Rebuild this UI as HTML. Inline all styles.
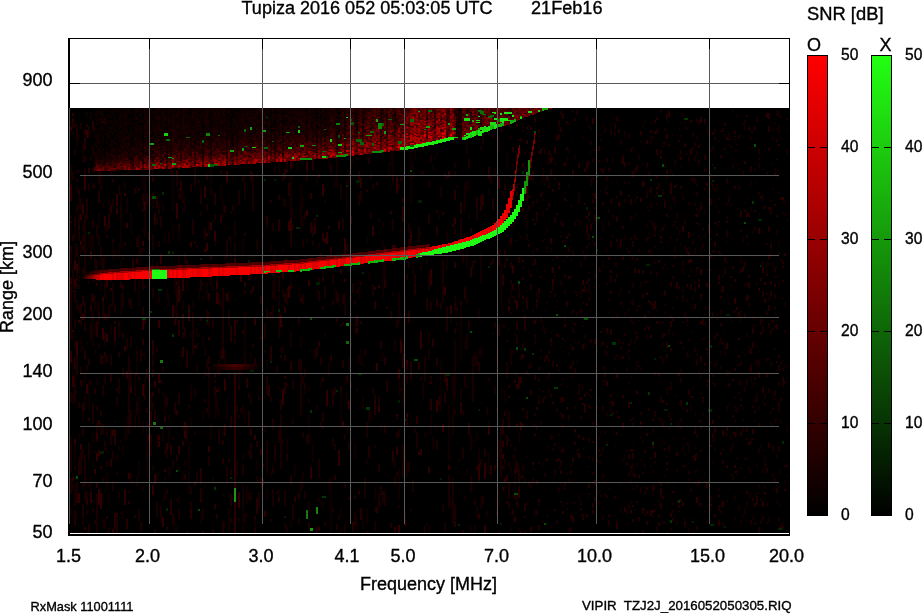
<!DOCTYPE html><html><head><meta charset="utf-8"><title>Tupiza ionogram</title>
<style>html,body{margin:0;padding:0;background:#fff}svg{display:block}text{font-family:"Liberation Sans",Arial,sans-serif;fill:#000;stroke:#000;stroke-width:0.35px}</style></head><body>
<svg width="922" height="614" viewBox="0 0 922 614">
<defs>
<linearGradient id="gr" x1="0" y1="0" x2="0" y2="1"><stop offset="0" stop-color="#ff0000"/><stop offset="0.2" stop-color="#cc0000"/><stop offset="0.6" stop-color="#660000"/><stop offset="1" stop-color="#000000"/></linearGradient>
<linearGradient id="gg" x1="0" y1="0" x2="0" y2="1"><stop offset="0" stop-color="#22ff11"/><stop offset="0.2" stop-color="#1ccc0e"/><stop offset="0.6" stop-color="#0e6607"/><stop offset="1" stop-color="#000000"/></linearGradient>
</defs>
<rect x="0" y="0" width="922" height="614" fill="#fff"/>
<rect x="68" y="108" width="722" height="428" fill="#000"/>
<svg x="0" y="0" width="922" height="614" viewBox="0 0 922 614"><clipPath id="cp"><rect x="70" y="108" width="719" height="425"/></clipPath><g clip-path="url(#cp)">
<g shape-rendering="crispEdges"><path fill="rgb(36,0,0)" d="M270 346h2v16h-2zM128 501h2v3h-2zM214 373h2v4.5h-2zM502 274h2v12h-2zM124 182h2v6h-2zM490 465h2v10h-2zM150 411h2v16h-2zM332 400h2v4.5h-2zM466 138h2v10h-2zM186 260h2v10h-2zM210 169h2v8h-2zM346 376h2v6h-2zM290 199h2v6h-2zM252 266h2v3h-2zM356 315h2v12h-2zM260 449h2v6h-2zM298 493h2v6h-2zM328 226h2v3h-2zM436 210h2v3h-2zM246 497h2v3h-2zM126 339h2v10h-2zM178 142h2v6h-2zM432 115h2v8h-2zM190 509h2v10h-2zM236 320h2v3h-2zM70 183h2v8h-2zM178 320h2v16h-2zM488 167h2v12h-2zM160 380h2v3h-2zM90 294h2v12h-2zM152 340h2v16h-2zM220 215h2v8h-2zM478 514h2v4.5h-2zM290 279h2v10h-2zM70 246h2v8h-2zM318 341h2v6h-2zM152 392h2v4.5h-2zM76 139h2v8h-2zM90 301h2v16h-2zM72 372h2v8h-2zM138 188h2v3h-2zM154 213h2v12h-2zM310 227h2v6h-2zM254 516h2v4.5h-2zM318 124h2v12h-2zM334 475h2v4.5h-2zM226 468h2v10h-2zM218 369h2v6h-2zM122 285h2v4.5h-2zM376 182h2v3h-2zM330 122h2v3h-2zM132 146h2v16h-2zM224 384h2v6h-2zM422 134h2v16h-2zM460 301h2v10h-2zM352 522h2v10h-2zM432 339h2v8h-2zM82 403h2v10h-2zM98 191h2v12h-2zM170 445h2v10h-2zM202 531h2v2h-2zM152 371h2v6h-2zM430 399h2v12h-2zM234 320h2v16h-2zM76 245h2v12h-2zM252 344h2v3h-2zM360 508h2v12h-2zM330 355h2v6h-2zM244 282h2v4.5h-2zM274 293h2v3h-2zM78 224h2v12h-2zM224 424h2v12h-2zM402 198h2v4.5h-2zM272 310h2v10h-2zM136 365h2v10h-2zM110 374h2v8h-2zM194 481h2v4.5h-2zM84 129h2v6h-2zM112 179h2v3h-2zM454 190h2v10h-2zM460 402h2v12h-2zM278 490h2v12h-2zM256 498h2v16h-2zM214 504h2v4.5h-2zM454 521h2v6h-2zM358 175h2v6h-2zM110 459h2v8h-2zM84 138h2v12h-2zM518 488h2v10h-2zM278 219h2v12h-2zM408 311h2v12h-2zM114 429h2v16h-2zM112 154h2v3h-2zM510 238h2v8h-2zM274 129h2v10h-2zM236 462h2v12h-2zM384 493h2v3h-2zM482 194h2v12h-2zM230 326h2v16h-2zM74 357h2v12h-2zM392 451h2v16h-2zM152 202h2v6h-2zM84 356h2v3h-2zM76 484h2v16h-2zM340 269h2v4.5h-2zM200 468h2v16h-2zM374 301h2v8h-2zM322 377h2v4.5h-2zM182 195h2v8h-2zM360 282h2v4.5h-2zM70 277h2v8h-2zM374 399h2v16h-2zM284 169h2v10h-2zM116 513h2v10h-2zM300 297h2v4.5h-2zM136 258h2v6h-2zM208 293h2v8h-2zM132 259h2v16h-2zM166 443h2v8h-2zM246 378h2v10h-2zM456 130h2v6h-2zM92 121h2v10h-2zM254 521h2v3h-2zM288 183h2v12h-2zM322 233h2v8h-2zM476 197h2v16h-2zM512 268h2v4.5h-2zM366 426h2v10h-2zM376 507h2v6h-2zM338 140h2v10h-2zM104 314h2v6h-2zM470 267h2v10h-2zM230 494h2v8h-2zM394 245h2v12h-2zM468 423h2v12h-2zM126 371h2v8h-2zM214 135h2v8h-2zM266 216h2v12h-2zM392 252h2v6h-2zM416 416h2v8h-2zM96 482h2v6h-2zM92 294h2v8h-2zM528 244h2v3h-2zM120 282h2v6h-2zM182 347h2v10h-2zM86 493h2v12h-2zM274 128h2v12h-2zM312 158h2v12h-2zM186 353h2v12h-2zM452 495h2v3h-2zM210 255h2v4.5h-2zM330 247h2v16h-2zM126 519h2v10h-2zM70 224h2v10h-2zM142 339h2v6h-2zM436 227h2v4.5h-2zM164 416h2v6h-2zM310 193h2v6h-2zM180 181h2v10h-2zM176 410h2v4.5h-2zM114 321h2v3h-2zM314 218h2v16h-2zM222 347h2v12h-2zM108 213h2v16h-2zM70 221h2v3h-2zM170 499h2v16h-2zM490 262h2v3h-2zM182 441h2v4.5h-2zM402 206h2v16h-2zM152 166h2v16h-2zM512 147h2v4.5h-2zM268 385h2v12h-2zM444 372h2v10h-2zM202 264h2v10h-2zM186 356h2v12h-2zM176 277h2v8h-2zM284 376h2v3h-2zM418 362h2v8h-2zM102 118h2v4.5h-2zM262 479h2v6h-2zM410 362h2v16h-2zM524 321h2v10h-2zM294 497h2v4.5h-2zM524 503h2v8h-2zM282 273h2v6h-2zM166 527h2v3h-2zM134 143h2v8h-2zM70 189h2v10h-2zM480 195h2v16h-2zM386 306h2v3h-2zM518 377h2v6h-2zM460 202h2v12h-2zM96 321h2v16h-2zM174 319h2v6h-2zM250 428h2v8h-2zM252 286h2v6h-2zM344 249h2v4.5h-2zM470 228h2v4.5h-2zM96 283h2v3h-2zM384 272h2v16h-2zM108 155h2v6h-2zM104 352h2v4.5h-2zM114 513h2v16h-2zM272 419h2v3h-2zM430 376h2v8h-2zM424 364h2v4.5h-2zM102 298h2v12h-2zM454 262h2v6h-2zM290 361h2v10h-2zM354 515h2v10h-2zM72 477h2v8h-2zM144 135h2v3h-2zM436 299h2v8h-2zM110 205h2v8h-2zM402 352h2v16h-2z"/><path fill="rgb(18,0,0)" d="M270 471h2v4.5h-2zM118 325h2v12h-2zM320 502h2v3h-2zM74 229h2v10h-2zM436 402h2v10h-2zM292 418h2v6h-2zM486 511h2v6h-2zM428 348h2v12h-2zM130 531h2v2h-2zM398 492h2v8h-2zM118 159h2v4.5h-2zM470 434h2v16h-2zM194 388h2v10h-2zM210 424h2v16h-2zM162 429h2v12h-2zM264 425h2v8h-2zM168 430h2v16h-2zM104 359h2v4.5h-2zM230 253h2v6h-2zM178 158h2v12h-2zM318 132h2v10h-2zM444 138h2v3h-2zM84 169h2v3h-2zM278 162h2v12h-2zM272 280h2v16h-2zM106 284h2v3h-2zM328 160h2v8h-2zM74 441h2v12h-2zM92 402h2v6h-2zM114 420h2v3h-2zM516 334h2v10h-2zM368 415h2v10h-2zM304 384h2v10h-2zM528 364h2v4.5h-2zM510 349h2v16h-2zM200 187h2v10h-2zM180 289h2v10h-2zM106 280h2v8h-2zM516 493h2v16h-2zM222 494h2v3h-2zM480 497h2v12h-2zM116 471h2v4.5h-2zM358 287h2v12h-2zM406 461h2v16h-2zM134 415h2v8h-2zM164 476h2v8h-2zM212 220h2v3h-2zM382 222h2v4.5h-2zM456 185h2v3h-2zM78 275h2v6h-2zM138 465h2v12h-2zM126 198h2v16h-2zM110 355h2v3h-2zM104 519h2v10h-2zM74 374h2v10h-2zM112 145h2v12h-2zM186 116h2v16h-2zM92 433h2v10h-2zM446 231h2v10h-2zM106 473h2v16h-2zM394 339h2v12h-2zM120 265h2v6h-2zM76 391h2v3h-2zM338 294h2v12h-2zM476 506h2v10h-2zM216 161h2v6h-2zM454 162h2v6h-2zM396 137h2v3h-2zM282 347h2v6h-2zM466 298h2v6h-2zM432 437h2v12h-2zM318 243h2v6h-2zM82 187h2v3h-2zM240 147h2v10h-2zM480 347h2v10h-2zM166 450h2v8h-2zM246 494h2v10h-2zM118 446h2v4.5h-2zM76 124h2v16h-2zM228 508h2v12h-2zM202 138h2v6h-2zM260 141h2v10h-2zM168 231h2v12h-2zM498 440h2v10h-2zM70 178h2v3h-2zM106 222h2v10h-2zM74 279h2v3h-2zM110 170h2v4.5h-2zM280 347h2v6h-2zM224 350h2v16h-2zM94 451h2v3h-2zM350 151h2v3h-2zM84 171h2v3h-2zM156 434h2v10h-2zM462 410h2v6h-2zM198 334h2v3h-2zM228 519h2v12h-2zM96 113h2v10h-2zM102 520h2v4.5h-2zM276 116h2v10h-2zM492 332h2v3h-2zM246 514h2v3h-2zM164 120h2v6h-2zM394 476h2v10h-2zM70 257h2v3h-2zM84 459h2v8h-2zM78 191h2v12h-2zM440 186h2v12h-2zM254 519h2v8h-2zM228 372h2v6h-2zM70 175h2v16h-2zM404 310h2v16h-2zM146 439h2v3h-2zM132 164h2v3h-2zM280 117h2v10h-2zM392 291h2v4.5h-2zM496 350h2v16h-2zM136 477h2v10h-2zM120 293h2v8h-2zM168 441h2v6h-2zM102 391h2v4.5h-2zM216 396h2v16h-2zM340 419h2v10h-2zM466 181h2v10h-2zM504 392h2v8h-2zM76 187h2v6h-2zM82 510h2v16h-2zM208 222h2v12h-2zM78 201h2v8h-2zM100 164h2v16h-2zM498 228h2v3h-2zM312 446h2v16h-2zM78 456h2v10h-2zM316 405h2v4.5h-2zM130 471h2v12h-2zM70 122h2v6h-2zM254 113h2v6h-2zM360 284h2v3h-2zM182 427h2v3h-2zM126 152h2v6h-2zM134 380h2v16h-2zM116 455h2v6h-2zM498 530h2v3h-2zM278 138h2v3h-2zM302 216h2v10h-2zM180 351h2v6h-2zM422 383h2v16h-2zM428 331h2v12h-2zM454 295h2v6h-2zM174 286h2v8h-2zM302 472h2v16h-2zM274 166h2v8h-2zM148 166h2v16h-2zM494 386h2v8h-2zM286 426h2v3h-2zM92 331h2v16h-2zM474 352h2v6h-2zM464 496h2v4.5h-2zM472 439h2v3h-2zM78 170h2v3h-2zM208 312h2v16h-2zM156 149h2v10h-2zM152 170h2v8h-2zM428 382h2v3h-2zM80 454h2v4.5h-2zM158 295h2v10h-2zM120 440h2v3h-2zM344 382h2v3h-2zM170 468h2v3h-2zM82 155h2v8h-2zM94 299h2v10h-2zM324 200h2v3h-2zM292 156h2v12h-2zM428 525h2v8h-2zM196 364h2v8h-2zM514 203h2v4.5h-2zM276 143h2v6h-2zM384 489h2v10h-2zM282 439h2v6h-2zM78 257h2v16h-2zM508 501h2v4.5h-2zM98 344h2v4.5h-2zM420 232h2v3h-2zM72 393h2v10h-2zM152 465h2v6h-2zM522 266h2v3h-2zM500 458h2v10h-2zM478 309h2v10h-2zM358 354h2v10h-2zM124 182h2v8h-2zM480 146h2v4.5h-2zM392 154h2v12h-2zM374 445h2v3h-2zM92 309h2v16h-2zM212 477h2v4.5h-2zM306 238h2v4.5h-2zM92 274h2v8h-2zM90 476h2v4.5h-2zM82 220h2v10h-2zM84 395h2v16h-2zM436 247h2v6h-2zM92 271h2v3h-2zM202 296h2v6h-2zM86 342h2v3h-2zM134 419h2v10h-2zM72 132h2v3h-2zM174 270h2v16h-2zM166 289h2v10h-2zM266 224h2v4.5h-2zM478 449h2v33h-2zM328 361h2v16h-2zM348 170h2v16h-2zM274 250h2v51h-2zM164 395h2v20h-2zM466 248h2v20h-2zM454 339h2v59h-2zM104 257h2v41h-2zM246 486h2v16h-2zM480 253h2v30h-2zM464 182h2v30h-2zM398 292h2v33h-2zM208 366h2v52h-2zM138 235h2v15h-2zM234 456h2v25h-2zM452 375h2v60h-2zM304 128h2v28h-2zM144 183h2v55h-2zM290 331h2v17h-2zM190 385h2v17h-2zM384 246h2v33h-2zM290 175h2v50h-2zM210 139h2v57h-2zM402 374h2v33h-2zM234 221h2v17h-2zM336 143h2v45h-2zM112 282h2v18h-2zM244 312h2v53h-2zM278 295h2v43h-2zM178 256h2v45h-2zM466 118h2v36h-2zM216 270h2v21h-2z"/><path fill="rgb(16,0,0)" d="M576 311h2v4.5h-2zM768 517h2v4.5h-2zM550 248h2v4.5h-2zM604 167h2v3h-2zM540 316h2v1.5h-2zM582 137h2v1.5h-2zM680 243h2v3h-2zM576 219h2v1.5h-2zM710 177h2v3h-2zM718 415h2v3h-2zM706 169h2v1.5h-2zM654 196h2v1.5h-2zM756 397h2v4.5h-2zM532 309h2v3h-2zM534 424h2v1.5h-2zM710 230h2v3h-2zM578 198h2v3h-2zM782 297h2v1.5h-2zM612 431h2v1.5h-2zM550 332h2v1.5h-2zM780 421h2v3h-2zM548 161h2v3h-2zM672 196h2v4.5h-2zM578 151h2v1.5h-2zM712 146h2v4.5h-2zM606 282h2v3h-2zM710 285h2v1.5h-2zM688 528h2v3h-2zM692 171h2v1.5h-2zM726 191h2v1.5h-2zM730 317h2v4.5h-2zM712 382h2v1.5h-2zM658 321h2v1.5h-2zM546 251h2v3h-2zM600 270h2v3h-2zM560 484h2v1.5h-2zM692 387h2v1.5h-2zM546 377h2v3h-2zM546 514h2v3h-2zM732 475h2v1.5h-2zM532 252h2v3h-2zM708 342h2v3h-2zM610 123h2v3h-2zM538 207h2v1.5h-2zM720 503h2v4.5h-2zM738 364h2v3h-2zM670 512h2v4.5h-2zM640 130h2v3h-2zM580 221h2v1.5h-2zM728 403h2v1.5h-2zM656 274h2v1.5h-2zM662 189h2v3h-2zM544 356h2v1.5h-2zM776 276h2v1.5h-2zM666 456h2v1.5h-2zM686 299h2v3h-2zM784 302h2v4.5h-2zM582 385h2v4.5h-2zM610 407h2v4.5h-2zM616 410h2v3h-2zM724 332h2v1.5h-2zM586 392h2v1.5h-2zM738 168h2v3h-2zM664 163h2v3h-2zM532 175h2v1.5h-2zM636 531h2v2h-2zM692 170h2v1.5h-2zM722 425h2v1.5h-2zM692 297h2v3h-2zM782 392h2v1.5h-2zM718 221h2v1.5h-2zM556 520h2v3h-2zM640 282h2v4.5h-2zM710 498h2v4.5h-2zM754 324h2v3h-2zM762 516h2v4.5h-2zM572 375h2v3h-2zM602 260h2v3h-2zM774 397h2v3h-2zM608 311h2v1.5h-2zM666 117h2v4.5h-2zM762 319h2v3h-2zM730 474h2v1.5h-2zM680 418h2v4.5h-2zM726 500h2v3h-2zM680 165h2v1.5h-2zM550 344h2v3h-2zM708 131h2v4.5h-2zM754 168h2v3h-2zM770 121h2v1.5h-2zM650 457h2v1.5h-2zM586 497h2v1.5h-2zM720 310h2v4.5h-2zM662 420h2v1.5h-2zM640 459h2v1.5h-2zM684 225h2v1.5h-2zM630 171h2v1.5h-2zM670 528h2v3h-2zM560 111h2v4.5h-2zM634 339h2v3h-2zM750 364h2v3h-2zM546 446h2v3h-2zM610 181h2v1.5h-2zM620 357h2v3h-2zM572 322h2v3h-2zM646 189h2v4.5h-2zM530 170h2v1.5h-2zM664 521h2v3h-2zM584 254h2v3h-2zM542 191h2v3h-2zM620 172h2v1.5h-2zM774 275h2v3h-2zM554 472h2v4.5h-2zM636 214h2v1.5h-2zM566 254h2v3h-2zM568 352h2v3h-2zM530 274.5h2v1.5h-2zM692 234h2v1.5h-2zM672 224h2v3h-2zM720 254h2v3h-2zM676 226.5h2v3h-2zM628 479.5h2v1.5h-2zM534 125h2v1.5h-2zM624 131h2v6h-2zM672 134h2v1.5h-2zM602 380h2v1.5h-2zM668 412h2v3h-2zM502 323h2v4.5h-2zM682 406.5h2v4.5h-2zM580 514h2v3h-2zM632 463h2v6h-2zM618 338h2v6h-2zM732 473.5h2v6h-2zM582 321.5h2v1.5h-2zM718 209.5h2v3h-2zM758 447.5h2v6h-2zM504 195.5h2v3h-2zM760 498h2v3h-2zM520 235.5h2v3h-2zM586 175.5h2v1.5h-2zM758 492h2v1.5h-2zM770 283h2v1.5h-2zM658 395.5h2v1.5h-2zM704 307h2v3h-2zM528 239.5h2v1.5h-2zM676 133.5h2v1.5h-2zM608 297.5h2v3h-2zM720 365.5h2v1.5h-2zM748 302h2v6h-2zM592 239.5h2v3h-2zM536 424.5h2v6h-2zM526 501.5h2v3h-2zM732 443.5h2v1.5h-2zM574 501.5h2v3h-2zM618 291.5h2v3h-2zM598 435h2v4.5h-2zM560 412h2v4.5h-2zM570 480h2v3h-2zM696 433h2v4.5h-2zM582 250h2v6h-2zM578 220h2v6h-2zM728 132h2v4.5h-2zM548 156.5h2v6h-2zM742 135.5h2v1.5h-2zM564 340.5h2v1.5h-2zM542 171.5h2v6h-2zM692 530.5h2v1.5h-2zM724 345.5h2v4.5h-2zM726 369.5h2v6h-2zM538 295h2v3h-2zM746 282.5h2v4.5h-2zM578 331.5h2v1.5h-2zM776 453.5h2v4.5h-2zM786 129h2v1.5h-2zM668 483h2v1.5h-2zM564 325h2v3h-2zM608 221h2v4.5h-2zM540 437h2v1.5h-2zM536 198h2v6h-2zM526 165h2v1.5h-2zM670 381.5h2v6h-2zM778 125h2v4.5h-2zM606 440.5h2v3h-2zM602 515h2v4.5h-2zM664 303.5h2v3h-2zM758 375h2v3h-2zM760 357.5h2v1.5h-2zM780 522.5h2v4.5h-2zM742 169.5h2v6h-2zM606 412h2v4.5h-2zM574 221.5h2v4.5h-2zM510 354.5h2v3h-2zM738 186.5h2v3h-2zM672 331.5h2v4.5h-2zM626 248h2v3h-2zM532 173.5h2v1.5h-2zM714 448h2v3h-2zM782 198h2v6h-2zM558 447h2v1.5h-2zM540 349h2v3h-2zM650 249h2v3h-2zM730 435h2v4.5h-2zM712 184h2v6h-2zM630 390.5h2v1.5h-2zM682 287h2v6h-2zM560 461h2v6h-2zM742 237h2v4.5h-2zM732 163h2v6h-2zM600 138h2v3h-2zM570 344h2v4.5h-2zM578 447.5h2v3h-2zM632 300h2v6h-2zM534 510h2v1.5h-2zM548 180.5h2v3h-2zM664 421h2v1.5h-2zM688 339h2v3h-2zM720 251.5h2v3h-2zM748 345h2v3h-2zM742 351h2v1.5h-2zM682 267.5h2v6h-2zM744 508h2v6h-2zM506 340h2v1.5h-2zM664 141h2v4.5h-2zM542 322h2v1.5h-2zM734 395.5h2v3h-2zM726 215h2v4.5h-2zM696 135h2v4.5h-2zM572 360h2v4.5h-2zM598 461h2v1.5h-2zM698 222.5h2v3h-2zM598 414.5h2v1.5h-2zM680 255h2v3h-2zM700 297h2v3h-2zM590 126.5h2v3h-2zM594 200.5h2v3h-2zM680 372.5h2v1.5h-2zM532 205h2v1.5h-2zM596 487h2v6h-2zM516 460h2v4.5h-2zM756 359h2v6h-2zM602 365.5h2v4.5h-2zM720 337.5h2v6h-2zM674 247h2v6h-2zM648 232h2v1.5h-2zM758 162h2v6h-2zM656 309h2v1.5h-2zM770 210.5h2v4.5h-2zM558 334h2v3h-2zM762 206h2v3h-2zM774 269.5h2v3h-2zM548 319h2v1.5h-2zM532 219h2v1.5h-2zM560 234.5h2v3h-2zM650 202h2v6h-2zM564 289h2v4.5h-2zM716 359.5h2v6h-2zM564 261h2v1.5h-2zM530 361h2v3h-2zM614 355h2v4.5h-2zM738 504.5h2v6h-2zM606 175.5h2v6h-2zM532 468h2v1.5h-2zM510 466h2v6h-2zM512 163h2v6h-2zM538 500.5h2v6h-2zM714 187.5h2v3h-2zM602 224h2v3h-2zM586 114.5h2v6h-2zM558 433h2v3h-2zM512 493.5h2v4.5h-2zM550 526h2v1.5h-2zM690 303.5h2v1.5h-2zM572 175h2v3h-2zM538 394.5h2v3h-2zM576 291h2v4.5h-2zM740 467h2v3h-2zM544 269.5h2v3h-2zM588 392.5h2v3h-2zM670 235.5h2v3h-2zM518 528h2v3h-2zM750 136.5h2v3h-2zM590 178h2v6h-2zM544 150h2v4.5h-2zM614 263.5h2v3h-2zM592 456h2v6h-2zM726 406h2v3h-2zM566 199.5h2v1.5h-2zM700 502.5h2v4.5h-2zM674 199h2v6h-2zM604 369h2v3h-2zM678 129h2v1.5h-2zM748 349h2v4.5h-2zM694 201.5h2v4.5h-2zM596 492.5h2v3h-2zM688 397.5h2v1.5h-2zM630 468h2v4.5h-2zM532 423h2v1.5h-2zM656 265.5h2v1.5h-2zM660 418h2v4.5h-2zM542 199h2v1.5h-2zM636 330.5h2v3h-2zM556 152.5h2v1.5h-2zM580 289h2v6h-2zM688 531h2v3h-2zM616 262h2v4.5h-2zM704 509.5h2v3h-2zM670 206.5h2v3h-2zM746 501.5h2v6h-2zM778 316h2v3h-2zM638 154h2v6h-2zM616 518.5h2v4.5h-2zM650 129.5h2v3h-2zM734 210.5h2v1.5h-2zM772 128h2v3h-2zM690 407h2v3h-2zM732 309.5h2v3h-2zM512 473.5h2v1.5h-2zM668 414.5h2v3h-2zM542 211h2v6h-2zM634 234h2v6h-2zM784 483h2v1.5h-2zM572 331.5h2v1.5h-2zM640 435.5h2v3h-2zM550 434h2v6h-2zM738 207h2v3h-2zM774 311.5h2v3h-2zM624 311.5h2v4.5h-2zM594 286h2v1.5h-2zM614 426h2v1.5h-2zM522 192.5h2v1.5h-2zM740 255.5h2v3h-2zM690 402.5h2v3h-2zM632 282h2v6h-2zM594 149h2v1.5h-2zM550 295.5h2v1.5h-2zM616 312.5h2v6h-2zM666 317.5h2v1.5h-2zM558 129h2v3h-2zM712 439.5h2v1.5h-2zM720 289h2v3h-2zM578 393h2v3h-2zM664 435.5h2v1.5h-2zM696 151h2v6h-2zM704 321.5h2v4.5h-2zM708 186.5h2v6h-2zM754 125h2v1.5h-2zM740 315.5h2v6h-2zM568 123h2v1.5h-2zM734 404.5h2v3h-2zM624 181h2v3h-2zM558 368.5h2v3h-2zM778 275h2v1.5h-2zM572 327h2v6h-2zM686 128h2v1.5h-2zM516 373.5h2v3h-2zM778 502.5h2v3h-2zM716 222h2v4.5h-2zM674 160h2v6h-2zM710 506h2v4.5h-2zM628 380.5h2v3h-2zM590 292h2v1.5h-2zM682 194h2v6h-2zM548 388.5h2v4.5h-2zM734 138h2v3h-2zM700 392h2v3h-2zM562 134h2v1.5h-2zM660 361.5h2v1.5h-2zM666 467.5h2v3h-2zM560 279h2v6h-2zM782 522.5h2v3h-2zM654 246h2v1.5h-2zM688 246.5h2v3h-2zM632 471h2v4.5h-2zM726 409h2v1.5h-2zM664 310.5h2v4.5h-2z"/><path fill="rgb(48,0,0)" d="M84 238h2v3h-2zM280 315h2v12h-2zM498 177h2v12h-2zM248 154h2v3h-2zM262 464h2v3h-2zM102 328h2v12h-2zM326 232h2v12h-2zM420 331h2v16h-2zM176 170h2v10h-2zM158 320h2v8h-2zM336 129h2v8h-2zM88 418h2v3h-2zM406 413h2v12h-2zM400 337h2v16h-2zM420 333h2v16h-2zM226 293h2v8h-2zM292 120h2v16h-2zM160 254h2v10h-2zM418 452h2v3h-2zM254 319h2v6h-2zM90 487h2v16h-2zM70 126h2v4.5h-2zM182 279h2v12h-2zM512 265h2v8h-2zM76 341h2v16h-2zM376 363h2v8h-2zM112 430h2v6h-2zM100 493h2v16h-2zM396 177h2v16h-2zM140 350h2v10h-2zM288 154h2v4.5h-2zM504 478h2v6h-2zM358 491h2v3h-2zM216 389h2v3h-2zM310 467h2v12h-2zM78 493h2v10h-2zM290 218h2v16h-2zM142 318h2v12h-2zM214 231h2v12h-2zM238 492h2v16h-2zM452 224h2v3h-2zM76 264h2v16h-2zM308 280h2v6h-2zM444 287h2v8h-2zM78 320h2v3h-2zM98 489h2v16h-2zM182 314h2v4.5h-2zM300 401h2v8h-2zM430 269h2v16h-2zM462 256h2v4.5h-2zM70 351h2v12h-2zM70 460h2v12h-2zM116 208h2v6h-2zM144 202h2v8h-2zM372 226h2v10h-2zM80 241h2v16h-2zM290 157h2v12h-2zM74 260h2v10h-2zM288 286h2v12h-2zM374 287h2v3h-2zM120 217h2v3h-2zM176 203h2v16h-2zM86 130h2v8h-2zM208 337h2v3h-2zM394 527h2v4.5h-2zM74 439h2v4.5h-2zM210 222h2v8h-2zM322 265h2v16h-2zM80 214h2v6h-2zM318 528h2v3h-2zM488 427h2v8h-2zM142 241h2v4.5h-2zM240 270h2v12h-2zM338 221h2v8h-2zM454 218h2v6h-2zM288 221h2v10h-2zM106 334h2v8h-2zM88 168h2v4.5h-2zM142 384h2v12h-2zM282 266h2v8h-2zM124 489h2v16h-2zM86 273h2v6h-2zM450 305h2v10h-2zM318 527h2v3h-2zM90 251h2v8h-2zM102 297h2v16h-2zM516 424h2v3h-2zM96 426h2v16h-2zM392 245h2v12h-2zM94 469h2v4.5h-2zM400 137h2v12h-2zM116 194h2v12h-2zM98 450h2v6h-2zM216 292h2v12h-2zM398 525h2v8h-2zM84 527h2v3h-2zM188 305h2v16h-2zM478 464h2v16h-2zM82 204h2v10h-2zM364 490h2v3h-2zM126 223h2v4.5h-2zM284 307h2v6h-2zM260 327h2v12h-2zM286 156h2v16h-2zM172 305h2v12h-2zM130 383h2v10h-2zM324 238h2v4.5h-2zM508 306h2v4.5h-2zM206 233h2v3h-2zM234 258h2v4.5h-2zM226 171h2v12h-2zM206 243h2v8h-2zM390 211h2v3h-2zM398 369h2v10h-2zM326 133h2v8h-2zM72 113h2v10h-2zM72 330h2v6h-2zM378 404h2v8h-2zM516 301h2v8h-2zM378 285h2v3h-2zM348 401h2v8h-2zM106 275h2v12h-2zM270 312h2v6h-2zM84 253h2v12h-2zM154 474h2v10h-2zM190 242h2v4.5h-2zM350 216h2v8h-2zM80 444h2v6h-2zM104 216h2v12h-2zM204 186h2v12h-2zM128 473h2v6h-2zM302 477h2v3h-2zM98 420h2v4.5h-2zM152 485h2v10h-2zM194 345h2v3h-2zM154 381h2v6h-2zM428 467h2v6h-2zM86 384h2v10h-2zM396 447h2v8h-2zM520 422h2v8h-2zM344 238h2v12h-2zM148 435h2v6h-2zM100 466h2v3h-2zM306 161h2v12h-2zM326 390h2v16h-2zM264 511h2v6h-2zM194 173h2v3h-2zM380 487h2v8h-2zM216 281h2v8h-2zM70 185h2v16h-2zM322 184h2v12h-2zM156 218h2v3h-2zM254 435h2v4.5h-2zM234 254h2v3h-2zM96 114h2v6h-2zM502 454h2v4.5h-2zM114 327h2v16h-2zM204 249h2v3h-2zM110 288h2v3h-2zM98 273h2v8h-2zM82 314h2v6h-2zM484 463h2v16h-2zM342 421h2v6h-2zM124 193h2v3h-2zM162 517h2v10h-2zM396 414h2v4.5h-2zM176 286h2v10h-2zM158 373h2v10h-2zM224 379h2v12h-2zM448 465h2v4.5h-2zM338 450h2v16h-2zM338 127h2v10h-2zM420 449h2v6h-2zM158 441h2v6h-2zM436 400h2v12h-2zM258 145h2v16h-2zM282 389h2v16h-2zM508 421h2v3h-2zM344 299h2v6h-2zM84 380h2v3h-2zM84 174h2v16h-2zM208 446h2v6h-2zM446 378h2v8h-2zM76 141h2v3h-2zM76 350h2v10h-2zM158 435h2v4.5h-2zM406 360h2v6h-2zM200 497h2v4.5h-2zM318 174h2v3h-2zM96 453h2v8h-2zM74 279h2v8h-2zM124 346h2v4.5h-2zM442 424h2v8h-2zM390 113h2v10h-2zM356 328h2v4.5h-2zM484 525h2v8h-2zM136 346h2v10h-2zM360 178h2v10h-2zM164 469h2v3h-2zM184 422h2v16h-2zM178 446h2v8h-2zM404 518h2v8h-2zM178 286h2v16h-2zM72 375h2v12h-2zM344 279h2v3h-2zM142 429h2v3h-2zM112 529h2v4h-2zM306 210h2v6h-2zM448 171h2v6h-2zM410 232h2v16h-2z"/><path fill="rgb(34,0,0)" d="M582 403h2v1.5h-2zM724 123h2v3h-2zM672 265h2v1.5h-2zM550 338h2v4.5h-2zM688 471h2v3h-2zM612 401h2v3h-2zM678 505h2v3h-2zM654 120h2v3h-2zM776 501h2v1.5h-2zM586 281h2v3h-2zM684 246h2v3h-2zM584 203h2v1.5h-2zM662 496h2v3h-2zM666 403h2v1.5h-2zM630 466h2v1.5h-2zM768 443h2v4.5h-2zM680 341h2v3h-2zM772 328h2v1.5h-2zM598 160h2v1.5h-2zM564 162h2v4.5h-2zM588 278h2v3h-2zM562 174h2v1.5h-2zM592 422h2v3h-2zM622 425h2v3h-2zM766 274h2v1.5h-2zM676 373h2v1.5h-2zM606 160h2v1.5h-2zM678 140h2v1.5h-2zM588 405h2v3h-2zM562 117h2v1.5h-2zM548 150h2v4.5h-2zM706 380h2v1.5h-2zM714 428h2v4.5h-2zM608 514h2v3h-2zM550 154h2v1.5h-2zM780 259h2v1.5h-2zM632 505h2v1.5h-2zM562 338h2v1.5h-2zM780 197h2v3h-2zM714 242h2v4.5h-2zM632 174h2v3h-2zM636 336h2v3h-2zM642 530h2v3h-2zM556 213h2v1.5h-2zM776 488h2v4.5h-2zM786 464h2v3h-2zM588 211h2v4.5h-2zM714 137h2v3h-2zM578 163h2v4.5h-2zM608 168h2v3h-2zM690 396h2v1.5h-2zM604 374h2v3h-2zM594 497h2v4.5h-2zM532 219h2v1.5h-2zM660 110h2v1.5h-2zM554 294h2v3h-2zM610 394h2v3h-2zM656 117h2v3h-2zM656 526h2v4.5h-2zM724 257h2v4.5h-2zM538 525h2v4.5h-2zM628 343h2v3h-2zM596 317h2v1.5h-2zM740 230h2v1.5h-2zM756 496h2v3h-2zM720 323h2v3h-2zM732 379h2v1.5h-2zM562 397h2v4.5h-2zM616 239h2v3h-2zM782 280h2v1.5h-2zM762 517h2v1.5h-2zM780 398h2v3h-2zM670 282h2v4.5h-2zM562 414h2v4.5h-2zM554 509h2v1.5h-2zM544 359h2v3h-2zM704 155h2v4.5h-2zM682 465h2v1.5h-2zM666 462h2v3h-2zM720 296h2v3h-2zM628 454h2v4.5h-2zM654 131h2v3h-2zM706 348h2v3h-2zM562 240h2v3h-2zM652 446h2v1.5h-2zM636 258h2v3h-2zM712 375h2v1.5h-2zM764 298h2v4.5h-2zM560 127h2v4.5h-2zM582 437h2v3h-2zM544 473h2v3h-2zM776 215h2v1.5h-2zM752 342h2v1.5h-2zM534 117h2v3h-2zM664 203h2v4.5h-2zM704 363h2v3h-2zM672 319h2v1.5h-2zM704 188h2v1.5h-2zM662 400h2v3h-2zM724 148h2v1.5h-2zM590 224h2v3h-2zM622 356h2v3h-2zM642 472h2v1.5h-2zM554 443h2v3h-2zM658 522h2v3h-2zM710 445h2v1.5h-2zM732 266h2v3h-2zM698 145h2v3h-2zM574 442h2v3h-2zM696 362h2v1.5h-2zM534 223h2v1.5h-2zM660 483h2v3h-2zM706 283h2v3h-2zM770 244h2v4.5h-2zM648 327h2v3h-2zM744 262h2v1.5h-2z"/><path fill="rgb(12,0,0)" d="M406 461h2v3h-2zM72 481h2v10h-2zM320 380h2v8h-2zM182 207h2v6h-2zM620 273h2v1.5h-2zM530 160h2v1.5h-2zM784 364h2v4.5h-2zM162 497h2v4.5h-2zM78 284h2v4.5h-2zM80 340h2v12h-2zM128 167h2v6h-2zM184 460h2v6h-2zM96 301h2v12h-2zM90 112h2v8h-2zM572 348h2v3h-2zM182 191h2v10h-2zM704 165h2v1.5h-2zM562 163h2v3h-2zM390 150h2v16h-2zM174 153h2v6h-2zM476 431h2v10h-2zM630 339h2v4.5h-2zM70 436h2v10h-2zM74 243h2v8h-2zM758 213h2v4.5h-2zM764 455h2v4.5h-2zM634 261h2v1.5h-2zM308 386h2v4.5h-2zM146 263h2v6h-2zM676 146h2v1.5h-2zM70 313h2v16h-2zM760 445h2v3h-2zM594 467h2v1.5h-2zM140 348h2v8h-2zM736 429h2v4.5h-2zM726 375h2v1.5h-2zM388 162h2v16h-2zM604 188h2v4.5h-2zM398 380h2v16h-2zM190 330h2v8h-2zM658 480h2v1.5h-2zM618 212h2v3h-2zM182 473h2v8h-2zM768 296h2v4.5h-2zM278 427h2v8h-2zM708 321h2v1.5h-2zM152 195h2v12h-2zM308 415h2v16h-2zM518 330h2v3h-2zM72 280h2v12h-2zM216 368h2v4.5h-2zM224 254h2v6h-2zM322 501h2v8h-2zM226 397h2v4.5h-2zM106 531h2v2h-2zM204 346h2v10h-2zM630 509h2v4.5h-2zM100 258h2v8h-2zM504 390h2v12h-2zM136 363h2v10h-2zM266 360h2v10h-2zM510 528h2v5h-2zM642 163h2v3h-2zM352 530h2v3h-2zM446 255h2v16h-2zM110 323h2v8h-2zM602 384h2v1.5h-2zM602 328h2v1.5h-2zM634 509h2v1.5h-2zM174 518h2v12h-2zM92 241h2v10h-2zM590 395h2v3h-2zM612 199h2v4.5h-2zM104 226h2v8h-2zM456 321h2v4.5h-2zM678 153h2v4.5h-2zM620 434h2v1.5h-2zM382 352h2v10h-2zM190 417h2v12h-2zM776 266h2v3h-2zM380 423h2v8h-2zM728 144h2v1.5h-2zM72 172h2v8h-2zM260 357h2v10h-2zM336 131h2v6h-2zM138 460h2v16h-2zM582 448h2v1.5h-2zM586 238h2v1.5h-2zM770 373h2v1.5h-2zM258 282h2v8h-2zM134 410h2v3h-2zM156 446h2v3h-2zM144 351h2v8h-2zM270 243h2v10h-2zM204 430h2v3h-2zM126 121h2v3h-2zM512 222h2v8h-2zM646 206h2v3h-2zM538 397h2v4.5h-2zM702 236h2v1.5h-2zM164 235h2v8h-2zM776 499h2v4.5h-2zM678 423h2v3h-2zM488 188h2v8h-2zM92 217h2v3h-2zM518 431h2v12h-2zM86 112h2v6h-2zM774 122h2v3h-2zM640 254h2v3h-2zM120 299h2v16h-2zM392 420h2v3h-2zM362 395h2v12h-2zM272 463h2v3h-2zM348 356h2v16h-2zM214 485h2v4.5h-2zM116 524h2v6h-2zM730 371h2v3h-2zM498 491h2v16h-2zM758 366h2v1.5h-2zM700 238h2v3h-2zM82 426h2v10h-2zM674 514h2v3h-2zM108 208h2v3h-2zM548 294h2v3h-2zM214 241h2v4.5h-2zM626 249h2v1.5h-2zM260 321h2v16h-2zM704 337h2v3h-2zM568 149h2v4.5h-2zM530 176h2v1.5h-2zM674 224h2v3h-2zM508 240h2v8h-2zM744 283h2v3h-2zM376 406h2v3h-2zM432 165h2v4.5h-2zM622 457h2v4.5h-2zM658 504h2v1.5h-2zM82 380h2v6h-2zM636 368h2v3h-2zM278 489h2v8h-2zM366 237h2v6h-2zM548 177h2v4.5h-2zM752 325h2v3h-2zM766 272h2v1.5h-2zM138 203h2v4.5h-2zM366 458h2v6h-2zM782 212h2v3h-2zM724 351h2v4.5h-2zM282 199h2v8h-2zM200 513h2v10h-2zM156 473h2v10h-2zM628 266h2v3h-2zM196 327h2v10h-2zM74 455h2v6h-2zM70 180h2v3h-2zM146 424h2v3h-2zM684 517h2v3h-2zM536 319h2v1.5h-2zM574 291h2v3h-2zM566 386h2v1.5h-2zM606 185h2v4.5h-2zM358 279h2v6h-2zM752 316h2v3h-2zM596 377h2v3h-2zM178 229h2v12h-2zM264 396h2v3h-2zM222 429h2v8h-2zM634 324h2v3h-2zM122 445h2v10h-2zM300 478h2v6h-2zM774 418h2v4.5h-2zM112 245h2v16h-2zM754 493h2v4.5h-2zM672 481h2v3h-2zM412 262h2v8h-2zM90 478h2v6h-2zM234 414h2v10h-2zM100 279h2v12h-2zM420 170h2v4.5h-2zM102 518h2v10h-2zM542 463h2v3h-2zM586 290h2v3h-2zM148 320h2v16h-2zM78 134h2v4.5h-2zM682 444h2v4.5h-2zM586 162h2v4.5h-2zM766 262h2v4.5h-2zM102 494h2v10h-2zM706 352h2v4.5h-2zM82 346h2v4.5h-2zM70 255h2v8h-2zM72 116h2v3h-2zM668 387h2v3h-2zM304 147h2v12h-2zM98 241h2v4.5h-2zM626 522h2v3h-2zM602 343h2v1.5h-2zM694 470h2v3h-2zM514 197h2v10h-2zM346 112h2v4.5h-2zM676 520h2v4.5h-2zM250 352h2v8h-2zM716 292h2v1.5h-2zM412 163h2v16h-2zM646 334h2v4.5h-2zM626 461h2v1.5h-2zM290 520h2v8h-2zM612 318h2v3h-2zM538 388h2v1.5h-2zM216 145h2v8h-2zM122 270h2v10h-2zM198 288h2v12h-2zM88 404h2v3h-2zM296 274h2v4.5h-2zM226 404h2v16h-2zM186 275h2v16h-2zM180 117h2v3h-2zM456 310h2v6h-2zM542 325h2v3h-2zM424 432h2v6h-2zM334 116h2v8h-2zM108 158h2v10h-2zM242 453h2v8h-2zM658 128h2v3h-2zM104 264h2v12h-2zM672 437h2v1.5h-2zM468 214h2v6h-2zM70 452h2v6h-2zM514 482h2v10h-2zM664 474h2v4.5h-2zM354 443h2v16h-2zM452 127h2v16h-2zM660 323h2v1.5h-2zM402 175h2v4.5h-2zM668 155h2v1.5h-2zM654 503h2v3h-2zM72 279h2v4.5h-2zM546 529h2v3h-2zM96 268h2v8h-2zM470 526h2v7h-2zM168 294h2v12h-2zM742 159h2v3h-2zM346 392h2v12h-2zM780 298h2v1.5h-2zM574 433h2v3h-2zM190 442h2v3h-2zM764 450h2v1.5h-2zM618 333h2v1.5h-2zM90 293h2v12h-2zM706 519h2v4.5h-2zM762 401h2v3h-2zM184 195h2v16h-2zM694 275h2v1.5h-2zM468 179h2v12h-2zM644 213h2v1.5h-2zM484 213h2v3h-2zM130 212h2v16h-2zM438 214h2v4.5h-2zM316 176h2v10h-2zM544 182h2v3h-2zM94 254h2v3h-2zM578 341h2v3h-2zM158 202h2v16h-2zM466 138h2v6h-2zM102 203h2v4.5h-2zM606 333h2v1.5h-2zM130 229h2v6h-2zM104 356h2v10h-2zM688 450h2v3h-2zM318 497h2v6h-2zM450 314h2v10h-2zM754 255h2v3h-2zM96 378h2v8h-2zM104 340h2v6h-2zM136 132h2v10h-2zM632 442h2v1.5h-2zM360 136h2v12h-2zM128 297h2v3h-2zM316 497h2v3h-2zM752 383h2v3h-2zM664 316h2v3h-2zM546 162h2v3h-2zM346 253h2v8h-2zM76 489h2v16h-2zM242 356h2v3h-2zM368 413h2v12h-2zM86 532h2v1h-2zM544 310h2v1.5h-2zM400 337h2v3h-2zM124 427h2v12h-2zM256 461h2v10h-2zM500 388h2v4.5h-2zM684 122h2v3h-2zM400 226h2v6h-2zM514 296h2v4.5h-2zM688 156h2v4.5h-2zM704 123h2v1.5h-2zM296 162h2v8h-2zM182 300h2v10h-2zM374 257h2v6h-2zM600 238h2v3h-2zM270 314h2v8h-2zM598 454h2v3h-2zM416 133h2v8h-2zM744 476h2v3h-2zM702 412.5h2v3h-2zM730 283.5h2v6h-2zM556 300h2v1.5h-2zM694 445.5h2v3h-2zM574 339.5h2v3h-2zM684 463h2v4.5h-2zM578 493.5h2v6h-2zM756 116h2v3h-2zM562 486h2v3h-2zM600 188.5h2v3h-2zM502 311.5h2v3h-2zM514 445.5h2v6h-2zM728 302h2v3h-2zM588 308.5h2v1.5h-2zM626 148.5h2v1.5h-2zM572 139.5h2v3h-2zM592 254h2v1.5h-2zM704 209h2v6h-2zM566 255.5h2v3h-2zM540 489h2v1.5h-2zM516 255h2v3h-2zM558 466h2v3h-2zM628 354h2v6h-2zM700 201h2v6h-2zM752 129h2v4.5h-2zM704 368.5h2v3h-2zM696 268.5h2v6h-2zM756 344h2v4.5h-2zM588 433.5h2v1.5h-2zM594 500h2v3h-2zM596 339.5h2v4.5h-2zM586 488.5h2v1.5h-2zM634 340h2v4.5h-2zM602 124.5h2v1.5h-2zM770 251h2v6h-2zM736 434h2v1.5h-2zM564 242.5h2v1.5h-2zM766 462.5h2v3h-2zM610 116h2v3h-2zM584 342.5h2v6h-2zM536 220h2v3h-2zM658 154h2v1.5h-2zM778 284h2v3h-2zM774 481h2v1.5h-2zM748 495h2v3h-2zM614 366.5h2v4.5h-2zM622 306h2v1.5h-2zM524 298.5h2v3h-2zM546 301h2v3h-2zM614 256.5h2v3h-2zM756 464h2v4.5h-2zM642 123.5h2v4.5h-2zM750 493h2v4.5h-2zM594 156.5h2v3h-2zM728 199.5h2v4.5h-2zM700 357.5h2v4.5h-2zM552 283h2v3h-2zM588 271.5h2v3h-2zM560 231.5h2v1.5h-2zM764 141h2v1.5h-2zM596 180h2v4.5h-2zM784 479.5h2v6h-2zM776 173.5h2v4.5h-2zM758 349.5h2v3h-2zM726 229h2v1.5h-2zM576 448.5h2v6h-2zM512 419.5h2v1.5h-2zM708 257h2v4.5h-2zM540 183h2v1.5h-2zM632 486.5h2v3h-2zM686 263.5h2v1.5h-2zM628 136h2v3h-2zM620 172h2v3h-2zM506 408h2v3h-2zM744 170h2v1.5h-2zM744 457h2v3h-2zM700 367.5h2v1.5h-2zM680 186h2v3h-2zM758 303.5h2v1.5h-2zM586 403h2v1.5h-2zM620 159h2v6h-2zM510 248.5h2v1.5h-2zM578 396.5h2v4.5h-2zM778 468.5h2v6h-2zM584 284.5h2v4.5h-2zM618 482.5h2v3h-2zM750 180h2v6h-2zM692 169.5h2v3h-2zM576 113.5h2v1.5h-2zM626 510.5h2v3h-2zM536 267.5h2v3h-2zM596 446h2v1.5h-2zM568 183.5h2v3h-2zM508 297h2v3h-2zM696 196.5h2v1.5h-2zM720 349.5h2v4.5h-2zM682 449h2v3h-2zM592 222h2v3h-2zM736 115h2v3h-2zM662 342h2v4.5h-2zM562 504h2v3h-2zM660 444h2v3h-2zM704 233h2v4.5h-2zM644 507.5h2v3h-2zM690 517.5h2v4.5h-2zM700 357.5h2v6h-2zM620 287.5h2v4.5h-2zM504 462.5h2v6h-2zM604 350h2v6h-2zM746 331.5h2v6h-2zM574 212.5h2v1.5h-2zM524 340.5h2v4.5h-2zM770 295.5h2v3h-2zM766 171.5h2v3h-2zM684 127h2v1.5h-2zM750 207h2v4.5h-2zM698 234.5h2v3h-2zM698 370.5h2v1.5h-2zM692 330h2v3h-2zM546 227h2v6h-2zM708 480h2v3h-2zM526 290h2v1.5h-2zM598 397.5h2v3h-2zM592 525h2v1.5h-2zM592 262.5h2v3h-2zM650 122h2v1.5h-2zM602 226h2v6h-2zM736 163h2v3h-2zM688 353.5h2v3h-2zM688 444.5h2v6h-2zM580 454.5h2v3h-2zM660 397h2v4.5h-2zM700 247h2v4.5h-2zM542 178.5h2v3h-2zM600 430h2v3h-2zM614 443.5h2v3h-2zM596 491h2v3h-2zM752 229.5h2v4.5h-2zM700 142.5h2v3h-2zM554 273h2v6h-2zM676 182.5h2v4.5h-2zM568 478h2v3h-2zM696 453.5h2v6h-2zM646 161.5h2v6h-2zM738 379h2v6h-2zM590 150.5h2v3h-2zM522 308.5h2v3h-2zM708 496.5h2v3h-2zM786 252.5h2v1.5h-2zM708 461h2v3h-2zM738 137h2v3h-2zM620 506.5h2v6h-2zM760 261h2v1.5h-2zM680 120.5h2v4.5h-2zM624 233.5h2v6h-2zM656 225h2v3h-2zM572 171.5h2v3h-2zM644 486h2v6h-2zM742 406.5h2v3h-2zM694 425h2v6h-2zM772 262h2v4.5h-2zM632 297.5h2v3h-2zM714 439h2v3h-2zM510 525h2v1.5h-2zM642 148h2v3h-2zM666 268h2v1.5h-2zM774 487h2v3h-2zM642 463h2v1.5h-2zM722 168h2v1.5h-2zM596 131.5h2v4.5h-2zM764 457.5h2v4.5h-2zM654 314.5h2v4.5h-2zM748 465h2v6h-2zM598 283.5h2v3h-2zM598 489h2v4.5h-2zM754 419.5h2v3h-2zM678 229.5h2v6h-2zM668 494h2v1.5h-2zM574 154h2v6h-2zM766 269h2v3h-2zM592 179.5h2v4.5h-2zM662 265.5h2v4.5h-2zM744 202h2v1.5h-2zM754 380.5h2v3h-2zM616 179.5h2v3h-2zM606 249h2v3h-2zM512 349.5h2v4.5h-2zM668 507.5h2v1.5h-2zM660 379.5h2v3h-2zM664 440.5h2v3h-2zM510 244h2v3h-2zM752 513.5h2v6h-2zM552 435.5h2v3h-2zM508 366.5h2v3h-2zM744 354h2v3h-2zM596 171.5h2v3h-2zM734 516.5h2v4.5h-2zM732 443h2v6h-2zM690 267h2v4.5h-2zM530 481.5h2v6h-2zM554 469h2v6h-2zM662 246h2v3h-2zM514 332.5h2v3h-2zM708 420.5h2v3h-2zM786 426h2v6h-2zM684 437h2v3h-2zM640 140h2v3h-2zM754 398h2v3h-2zM502 129h2v3h-2zM734 149h2v3h-2zM500 275.5h2v3h-2zM636 462.5h2v4.5h-2zM594 272.5h2v6h-2zM630 216.5h2v3h-2zM710 244.5h2v1.5h-2zM728 382h2v3h-2zM592 345h2v3h-2zM714 204.5h2v3h-2zM652 489.5h2v6h-2zM704 472.5h2v3h-2zM764 394h2v6h-2zM708 227h2v3h-2zM504 325h2v3h-2zM650 252.5h2v4.5h-2zM748 368h2v3h-2zM784 200h2v6h-2zM666 531h2v3h-2zM530 149.5h2v1.5h-2zM624 455h2v4.5h-2zM772 394.5h2v4.5h-2zM778 525.5h2v3h-2zM642 439.5h2v4.5h-2zM674 195.5h2v1.5h-2zM582 315h2v3h-2zM534 469h2v1.5h-2zM694 412h2v4.5h-2zM654 483.5h2v6h-2zM680 506h2v1.5h-2zM602 230.5h2v1.5h-2zM504 483h2v6h-2zM600 342h2v4.5h-2zM666 239.5h2v1.5h-2zM662 441h2v3h-2zM674 285.5h2v3h-2zM696 482h2v4.5h-2zM688 441h2v3h-2zM526 131.5h2v3h-2zM578 398.5h2v1.5h-2zM640 304.5h2v4.5h-2zM528 206.5h2v3h-2zM566 472h2v3h-2zM718 223.5h2v1.5h-2zM614 261.5h2v3h-2zM588 281.5h2v6h-2zM592 366.5h2v1.5h-2zM630 479h2v6h-2zM706 126.5h2v6h-2zM742 513h2v4.5h-2zM718 341h2v4.5h-2zM684 141.5h2v3h-2zM518 233h2v3h-2zM564 316h2v6h-2zM600 134h2v1.5h-2zM630 501h2v3h-2zM512 114h2v6h-2zM694 432h2v1.5h-2zM754 360.5h2v3h-2zM684 491h2v1.5h-2zM750 375.5h2v6h-2z"/><path fill="rgb(30,0,0)" d="M440 303h2v6h-2zM194 241h2v3h-2zM248 272h2v8h-2zM204 399h2v3h-2zM80 380h2v6h-2zM90 309h2v4.5h-2zM82 504h2v12h-2zM82 296h2v10h-2zM144 318h2v6h-2zM476 466h2v4.5h-2zM186 146h2v16h-2zM384 430h2v3h-2zM414 283h2v12h-2zM386 380h2v12h-2zM410 114h2v6h-2zM106 235h2v3h-2zM484 449h2v8h-2zM460 245h2v8h-2zM134 188h2v6h-2zM74 510h2v16h-2zM498 250h2v16h-2zM86 124h2v3h-2zM238 141h2v16h-2zM178 393h2v12h-2zM200 488h2v12h-2zM524 315h2v8h-2zM184 133h2v12h-2zM248 450h2v4.5h-2zM176 455h2v6h-2zM104 118h2v8h-2zM222 440h2v4.5h-2zM332 300h2v4.5h-2zM138 377h2v3h-2zM92 318h2v8h-2zM410 372h2v8h-2zM74 217h2v10h-2zM464 287h2v12h-2zM358 171h2v12h-2zM128 370h2v8h-2zM510 262h2v6h-2zM122 140h2v6h-2zM454 302h2v8h-2zM360 321h2v3h-2zM108 271h2v6h-2zM208 356h2v8h-2zM216 514h2v4.5h-2zM74 124h2v3h-2zM100 354h2v10h-2zM284 382h2v12h-2zM88 524h2v9h-2zM438 396h2v10h-2zM336 524h2v6h-2zM70 286h2v16h-2zM152 369h2v4.5h-2zM172 513h2v12h-2zM468 321h2v8h-2zM222 458h2v6h-2zM78 189h2v4.5h-2zM300 135h2v8h-2zM224 205h2v8h-2zM398 488h2v4.5h-2zM78 459h2v16h-2zM250 443h2v16h-2zM474 500h2v4.5h-2zM96 439h2v3h-2zM410 228h2v6h-2zM114 305h2v8h-2zM400 178h2v3h-2zM230 498h2v8h-2zM478 362h2v10h-2zM238 384h2v6h-2zM242 330h2v4.5h-2zM336 317h2v4.5h-2zM72 235h2v6h-2zM234 143h2v16h-2zM178 224h2v6h-2zM134 515h2v3h-2zM214 380h2v3h-2zM348 497h2v3h-2zM406 365h2v4.5h-2zM494 465h2v4.5h-2zM464 234h2v3h-2zM212 529h2v4h-2zM290 198h2v3h-2zM442 212h2v3h-2zM320 253h2v4.5h-2zM222 531h2v2h-2zM250 171h2v10h-2zM148 113h2v6h-2zM94 388h2v6h-2zM182 332h2v6h-2zM322 412h2v10h-2zM104 376h2v3h-2zM146 368h2v10h-2zM282 324h2v3h-2zM436 358h2v8h-2zM84 156h2v6h-2zM228 459h2v3h-2zM272 467h2v6h-2zM170 158h2v16h-2zM368 446h2v12h-2zM506 435h2v12h-2zM150 434h2v16h-2zM308 522h2v8h-2zM94 185h2v3h-2zM384 357h2v8h-2zM84 495h2v4.5h-2zM310 222h2v4.5h-2zM456 308h2v3h-2zM474 260h2v3h-2zM72 122h2v6h-2zM284 355h2v6h-2zM502 419h2v16h-2zM206 142h2v4.5h-2zM92 406h2v10h-2zM496 511h2v6h-2zM142 423h2v6h-2zM260 116h2v4.5h-2zM84 325h2v6h-2zM270 200h2v3h-2zM76 532h2v1h-2zM106 516h2v3h-2zM212 122h2v12h-2zM290 475h2v10h-2zM128 419h2v12h-2zM278 195h2v4.5h-2zM256 441h2v6h-2zM218 129h2v6h-2zM92 220h2v8h-2zM468 159h2v10h-2zM526 190h2v10h-2zM82 245h2v6h-2zM82 268h2v6h-2zM104 285h2v3h-2zM390 523h2v4.5h-2zM206 174h2v6h-2zM200 196h2v8h-2zM116 388h2v3h-2zM148 232h2v8h-2zM86 199h2v4.5h-2zM112 451h2v4.5h-2zM336 291h2v12h-2zM448 113h2v8h-2zM222 120h2v8h-2zM342 360h2v8h-2zM156 196h2v12h-2zM354 496h2v3h-2zM76 270h2v12h-2zM122 333h2v4.5h-2zM444 393h2v10h-2zM516 322h2v8h-2zM212 319h2v8h-2zM280 355h2v3h-2zM82 429h2v4.5h-2zM416 136h2v4.5h-2zM284 259h2v4.5h-2zM408 239h2v16h-2zM184 474h2v6h-2zM316 347h2v10h-2zM244 233h2v3h-2zM154 529h2v4h-2zM284 293h2v10h-2zM526 297h2v12h-2zM146 408h2v4.5h-2zM210 173h2v6h-2zM114 342h2v3h-2zM200 318h2v3h-2zM516 463h2v10h-2zM136 401h2v12h-2zM380 341h2v8h-2zM258 143h2v12h-2zM168 115h2v12h-2zM186 350h2v6h-2zM366 189h2v3h-2zM248 411h2v16h-2zM492 135h2v3h-2zM446 386h2v4.5h-2zM88 359h2v6h-2zM118 352h2v4.5h-2zM76 487h2v16h-2zM462 530h2v3h-2zM102 356h2v3h-2zM342 322h2v3h-2zM138 405h2v8h-2zM214 193h2v12h-2zM230 416h2v12h-2zM234 515h2v16h-2zM262 236h2v10h-2zM96 525h2v8h-2zM368 158h2v6h-2z"/><path fill="rgb(20,0,0)" d="M786 530h2v1.5h-2zM776 110h2v4.5h-2zM746 211h2v3h-2zM676 421h2v1.5h-2zM656 272h2v4.5h-2zM664 166h2v1.5h-2zM570 204h2v3h-2zM656 202h2v3h-2zM740 380h2v4.5h-2zM732 110h2v1.5h-2zM542 329h2v1.5h-2zM746 458h2v1.5h-2zM652 527h2v1.5h-2zM628 182h2v1.5h-2zM716 313h2v3h-2zM710 174h2v3h-2zM602 447h2v4.5h-2zM780 137h2v1.5h-2zM756 138h2v1.5h-2zM744 264h2v4.5h-2zM772 473h2v4.5h-2zM676 500h2v3h-2zM732 157h2v1.5h-2zM742 123h2v1.5h-2zM652 515h2v3h-2zM658 417h2v3h-2zM718 140h2v1.5h-2zM588 297h2v4.5h-2zM698 120h2v4.5h-2zM580 500h2v4.5h-2zM772 479h2v1.5h-2zM662 142h2v1.5h-2zM610 275h2v4.5h-2zM774 168h2v4.5h-2zM582 325h2v1.5h-2zM530 255h2v3h-2zM634 199h2v3h-2zM764 393h2v3h-2zM686 127h2v3h-2zM536 298h2v3h-2zM554 162h2v3h-2zM616 273h2v1.5h-2zM722 448h2v3h-2zM718 198h2v1.5h-2zM576 361h2v1.5h-2zM640 423h2v1.5h-2zM778 485h2v3h-2zM630 319h2v3h-2zM702 338h2v1.5h-2zM624 201h2v1.5h-2zM658 500h2v3h-2zM672 307h2v1.5h-2zM698 210h2v3h-2zM698 419h2v3h-2zM540 318h2v3h-2zM760 519h2v4.5h-2zM680 135h2v1.5h-2zM706 384h2v3h-2zM778 410h2v1.5h-2zM590 142h2v3h-2zM662 321h2v3h-2zM692 254h2v1.5h-2zM532 322h2v1.5h-2zM666 130h2v1.5h-2zM692 297h2v1.5h-2zM692 307h2v1.5h-2zM618 244h2v4.5h-2zM544 474h2v3h-2zM564 316h2v1.5h-2zM652 488h2v1.5h-2zM662 358h2v4.5h-2zM786 149h2v4.5h-2zM686 153h2v1.5h-2zM644 281h2v3h-2zM652 470h2v3h-2zM774 306h2v1.5h-2zM748 197h2v1.5h-2zM578 384h2v4.5h-2zM772 137h2v3h-2zM654 223h2v1.5h-2zM688 478h2v3h-2zM592 193h2v1.5h-2zM712 461h2v1.5h-2zM710 238h2v1.5h-2zM588 466h2v1.5h-2zM560 460h2v3h-2zM778 130h2v3h-2zM632 172h2v1.5h-2zM604 431h2v3h-2zM602 265h2v1.5h-2zM696 469h2v1.5h-2zM634 488h2v1.5h-2zM708 379h2v3h-2zM656 191h2v4.5h-2zM600 461h2v3h-2zM640 427h2v1.5h-2zM560 450h2v1.5h-2zM632 423h2v3h-2zM676 213h2v4.5h-2zM536 292h2v4.5h-2zM614 132h2v4.5h-2zM766 272h2v1.5h-2zM652 470h2v1.5h-2zM734 409h2v1.5h-2zM630 216h2v4.5h-2zM748 243h2v1.5h-2zM710 147.5h2v4.5h-2zM682 260h2v6h-2zM572 502h2v1.5h-2zM560 384h2v1.5h-2zM714 363.5h2v3h-2zM776 230h2v4.5h-2zM662 193h2v3h-2zM636 307.5h2v4.5h-2zM684 524.5h2v4.5h-2zM562 423.5h2v4.5h-2zM710 340h2v1.5h-2zM590 179.5h2v6h-2zM764 486h2v1.5h-2zM630 465h2v1.5h-2zM504 459h2v4.5h-2zM664 262.5h2v3h-2zM778 110.5h2v6h-2zM644 182h2v3h-2zM768 358h2v1.5h-2zM524 215h2v3h-2zM734 495h2v4.5h-2zM530 196.5h2v1.5h-2zM516 153h2v3h-2zM696 207.5h2v3h-2zM758 405.5h2v4.5h-2zM756 181h2v1.5h-2zM646 326h2v1.5h-2zM544 238.5h2v1.5h-2zM776 112.5h2v3h-2zM602 472.5h2v6h-2zM744 123.5h2v6h-2zM714 250h2v3h-2zM532 250.5h2v3h-2zM696 352.5h2v3h-2zM732 431h2v3h-2zM726 203h2v3h-2zM542 368.5h2v1.5h-2zM550 291h2v1.5h-2zM588 243h2v1.5h-2zM766 502.5h2v3h-2zM682 112.5h2v4.5h-2zM632 145.5h2v3h-2zM666 175.5h2v3h-2zM620 345.5h2v4.5h-2zM500 452.5h2v6h-2zM592 159.5h2v3h-2zM628 307.5h2v3h-2zM732 237h2v1.5h-2zM588 286h2v6h-2zM782 521.5h2v1.5h-2zM740 260h2v3h-2zM742 427h2v4.5h-2zM528 481h2v4.5h-2zM660 492h2v6h-2zM710 181.5h2v3h-2zM552 448h2v3h-2zM686 318h2v4.5h-2zM610 371.5h2v1.5h-2zM696 528h2v3h-2zM784 212.5h2v3h-2zM774 307h2v3h-2zM616 354h2v3h-2zM540 355.5h2v3h-2zM770 238.5h2v3h-2zM710 495h2v4.5h-2zM734 309.5h2v3h-2zM510 513h2v1.5h-2zM778 241h2v3h-2zM766 522h2v1.5h-2zM694 155h2v6h-2zM586 231.5h2v4.5h-2zM770 362h2v4.5h-2zM716 183.5h2v6h-2zM724 267.5h2v3h-2zM670 314.5h2v4.5h-2zM714 129h2v4.5h-2zM666 388h2v6h-2zM598 500.5h2v4.5h-2zM664 127.5h2v3h-2zM724 133.5h2v3h-2zM650 136h2v6h-2zM604 367h2v3h-2zM728 370.5h2v4.5h-2zM612 233.5h2v3h-2zM552 259h2v1.5h-2zM722 522h2v4.5h-2zM508 328h2v1.5h-2zM696 182.5h2v3h-2zM736 470.5h2v4.5h-2zM584 255h2v4.5h-2zM628 503.5h2v4.5h-2zM718 487.5h2v3h-2zM668 329h2v6h-2zM644 120h2v1.5h-2zM532 315.5h2v1.5h-2zM654 228.5h2v4.5h-2zM536 509h2v6h-2zM616 273.5h2v4.5h-2zM774 478h2v4.5h-2zM746 379h2v6h-2zM506 416.5h2v3h-2zM778 419.5h2v1.5h-2zM604 378.5h2v3h-2zM534 340h2v4.5h-2zM570 274.5h2v4.5h-2zM578 191.5h2v6h-2zM740 396.5h2v1.5h-2zM754 397h2v6h-2zM614 514.5h2v1.5h-2zM628 133.5h2v4.5h-2zM696 452.5h2v3h-2zM682 345.5h2v3h-2zM612 157.5h2v4.5h-2zM778 401h2v6h-2zM570 464h2v3h-2zM730 447h2v4.5h-2zM750 335.5h2v1.5h-2zM694 281h2v3h-2zM750 130h2v3h-2zM670 168.5h2v4.5h-2zM700 373.5h2v4.5h-2zM544 328h2v6h-2zM572 250h2v6h-2zM668 428h2v1.5h-2zM608 401.5h2v1.5h-2zM636 360.5h2v6h-2zM778 244.5h2v1.5h-2zM744 312.5h2v3h-2zM762 389h2v3h-2zM592 149.5h2v1.5h-2zM758 157h2v3h-2zM508 463.5h2v3h-2zM786 463.5h2v1.5h-2zM756 281.5h2v3h-2zM710 360.5h2v3h-2zM660 228.5h2v3h-2zM546 458h2v1.5h-2zM654 261h2v3h-2zM586 223.5h2v6h-2zM646 279.5h2v3h-2zM626 367.5h2v3h-2zM762 194.5h2v6h-2zM648 311h2v3h-2zM618 117.5h2v4.5h-2zM566 502h2v3h-2zM684 311.5h2v6h-2zM674 196h2v3h-2zM510 135.5h2v3h-2zM778 191h2v3h-2zM604 127h2v6h-2zM738 193.5h2v1.5h-2zM524 477.5h2v4.5h-2zM590 407h2v1.5h-2zM648 235.5h2v3h-2zM748 213h2v3h-2zM502 190.5h2v6h-2zM608 209.5h2v3h-2zM750 437.5h2v6h-2zM694 347h2v4.5h-2zM686 352h2v6h-2zM540 420.5h2v4.5h-2zM606 350.5h2v4.5h-2zM740 520h2v3h-2zM574 406h2v3h-2zM650 457h2v1.5h-2zM764 463h2v6h-2zM664 223.5h2v3h-2zM722 448h2v3h-2zM656 525.5h2v3h-2zM686 441.5h2v4.5h-2zM638 249h2v3h-2zM756 393h2v4.5h-2zM560 346.5h2v1.5h-2zM538 461h2v3h-2zM754 163h2v1.5h-2zM690 177h2v3h-2zM758 359.5h2v6h-2zM566 156.5h2v4.5h-2zM692 132h2v4.5h-2zM626 351.5h2v1.5h-2zM774 293h2v6h-2zM754 317h2v3h-2zM508 117.5h2v6h-2zM652 234.5h2v1.5h-2zM548 185h2v3h-2zM560 220h2v4.5h-2zM684 218h2v6h-2zM650 220h2v3h-2zM640 486.5h2v6h-2zM526 409.5h2v6h-2zM644 465h2v3h-2zM744 386h2v6h-2zM652 222h2v4.5h-2zM586 254h2v3h-2zM528 125h2v1.5h-2zM768 261.5h2v3h-2zM508 213h2v1.5h-2zM508 301h2v3h-2zM604 493h2v3h-2zM512 454.5h2v3h-2zM668 448.5h2v3h-2zM628 227.5h2v1.5h-2zM740 361h2v4.5h-2zM632 416.5h2v3h-2zM720 365.5h2v3h-2zM662 520.5h2v3h-2zM500 263h2v1.5h-2zM676 295.5h2v3h-2zM654 461h2v3h-2zM524 166.5h2v4.5h-2zM580 262h2v4.5h-2zM782 382h2v4.5h-2zM610 240.5h2v3h-2zM676 468.5h2v3h-2zM758 484h2v3h-2zM640 366.5h2v3h-2zM630 236.5h2v3h-2zM762 468.5h2v4.5h-2zM694 248h2v6h-2zM510 443.5h2v3h-2zM634 168h2v6h-2zM558 487h2v6h-2zM520 474.5h2v4.5h-2zM588 456h2v3h-2zM578 341h2v3h-2zM596 257.5h2v4.5h-2zM534 511h2v4.5h-2zM702 243h2v6h-2zM522 295h2v1.5h-2zM654 227h2v3h-2zM570 257.5h2v3h-2zM554 306h2v1.5h-2zM694 177.5h2v6h-2zM508 437.5h2v4.5h-2zM552 284.5h2v6h-2zM728 196h2v6h-2zM736 406.5h2v6h-2zM776 128h2v1.5h-2z"/><path fill="rgb(14,0,0)" d="M78 433h2v8h-2zM218 409h2v8h-2zM394 460h2v8h-2zM122 511h2v8h-2zM136 346h2v16h-2zM476 516h2v3h-2zM440 270h2v3h-2zM522 123h2v10h-2zM292 207h2v12h-2zM140 169h2v3h-2zM278 385h2v4.5h-2zM496 455h2v12h-2zM308 399h2v4.5h-2zM76 512h2v8h-2zM244 330h2v16h-2zM370 415h2v6h-2zM518 464h2v3h-2zM82 144h2v12h-2zM300 337h2v12h-2zM204 369h2v10h-2zM88 276h2v8h-2zM150 194h2v12h-2zM236 463h2v10h-2zM312 443h2v16h-2zM176 277h2v4.5h-2zM332 210h2v3h-2zM334 289h2v10h-2zM142 486h2v4.5h-2zM230 236h2v8h-2zM98 212h2v16h-2zM202 411h2v10h-2zM178 496h2v8h-2zM282 247h2v6h-2zM366 508h2v16h-2zM120 260h2v10h-2zM76 487h2v6h-2zM234 449h2v16h-2zM310 350h2v3h-2zM162 382h2v3h-2zM316 286h2v8h-2zM164 478h2v6h-2zM226 227h2v3h-2zM342 152h2v4.5h-2zM202 336h2v10h-2zM94 350h2v4.5h-2zM238 368h2v16h-2zM244 115h2v4.5h-2zM84 351h2v3h-2zM510 287h2v12h-2zM220 299h2v8h-2zM266 489h2v12h-2zM86 247h2v4.5h-2zM142 200h2v10h-2zM226 160h2v4.5h-2zM392 461h2v6h-2zM156 417h2v4.5h-2zM70 507h2v10h-2zM116 517h2v12h-2zM148 491h2v10h-2zM70 223h2v16h-2zM322 316h2v3h-2zM242 238h2v16h-2zM258 386h2v4.5h-2zM136 413h2v3h-2zM386 474h2v3h-2zM380 356h2v4.5h-2zM496 500h2v10h-2zM142 228h2v4.5h-2zM168 466h2v12h-2zM268 314h2v3h-2zM388 497h2v3h-2zM136 186h2v8h-2zM106 448h2v6h-2zM168 427h2v16h-2zM100 280h2v10h-2zM282 324h2v3h-2zM422 121h2v4.5h-2zM458 471h2v3h-2zM90 480h2v12h-2zM194 171h2v16h-2zM474 524h2v9h-2zM302 115h2v8h-2zM150 166h2v10h-2zM286 438h2v12h-2zM286 164h2v6h-2zM118 243h2v16h-2zM334 179h2v8h-2zM264 215h2v4.5h-2zM368 271h2v8h-2zM436 152h2v3h-2zM72 332h2v8h-2zM212 190h2v3h-2zM144 176h2v8h-2zM458 111h2v6h-2zM332 134h2v8h-2zM402 344h2v10h-2zM274 296h2v3h-2zM494 168h2v10h-2zM434 156h2v3h-2zM150 383h2v6h-2zM324 332h2v6h-2zM110 328h2v6h-2zM288 263h2v12h-2zM74 250h2v8h-2zM322 266h2v12h-2zM142 177h2v12h-2zM294 465h2v12h-2zM186 136h2v12h-2zM138 287h2v12h-2zM450 499h2v8h-2zM328 478h2v12h-2zM340 507h2v10h-2zM72 398h2v4.5h-2zM156 142h2v16h-2zM84 371h2v12h-2zM234 159h2v3h-2zM374 487h2v12h-2zM80 245h2v12h-2zM322 134h2v16h-2zM220 185h2v16h-2zM488 421h2v6h-2zM362 514h2v16h-2zM498 136h2v16h-2zM82 411h2v10h-2zM412 494h2v3h-2zM70 329h2v3h-2zM80 336h2v3h-2zM346 426h2v8h-2zM70 119h2v8h-2zM290 273h2v12h-2zM228 291h2v12h-2zM126 428h2v3h-2zM420 158h2v3h-2zM92 500h2v4.5h-2zM244 409h2v10h-2zM142 421h2v12h-2zM204 483h2v4.5h-2zM390 115h2v16h-2zM174 523h2v10h-2zM360 349h2v16h-2zM506 532h2v1h-2zM516 350h2v3h-2zM352 159h2v4.5h-2zM114 341h2v8h-2zM452 476h2v10h-2zM120 193h2v16h-2zM162 391h2v4.5h-2zM184 327h2v12h-2zM354 319h2v16h-2zM356 516h2v16h-2zM380 502h2v4.5h-2zM172 224h2v16h-2zM108 305h2v10h-2zM318 121h2v8h-2zM90 312h2v10h-2zM220 136h2v16h-2zM80 309h2v4.5h-2zM76 137h2v10h-2zM434 423h2v6h-2zM108 492h2v12h-2zM176 526h2v7h-2zM298 286h2v10h-2zM430 378h2v3h-2zM262 229h2v16h-2zM478 347h2v10h-2zM242 404h2v12h-2zM466 468h2v8h-2zM426 522h2v3h-2zM92 461h2v6h-2zM526 214h2v16h-2zM174 305h2v8h-2zM228 530h2v3h-2zM210 174h2v16h-2zM464 339h2v10h-2zM168 415h2v6h-2zM256 139h2v4.5h-2zM120 166h2v3h-2zM452 394h2v16h-2zM528 269h2v6h-2zM192 300h2v10h-2zM338 148h2v10h-2zM158 292h2v4.5h-2zM94 126h2v10h-2zM302 196h2v12h-2zM398 125h2v8h-2zM134 372h2v12h-2zM240 366h2v10h-2zM70 263h2v8h-2zM152 258h2v6h-2zM144 377h2v16h-2zM312 223h2v12h-2zM414 149h2v10h-2zM272 305h2v16h-2zM194 430h2v6h-2zM162 203h2v10h-2zM224 522h2v6h-2zM90 233h2v16h-2zM348 244h2v3h-2zM88 456h2v6h-2zM120 512h2v3h-2zM94 323h2v12h-2zM72 366h2v10h-2zM362 362h2v4.5h-2zM302 476h2v12h-2zM98 303h2v22h-2zM460 305h2v57h-2zM346 180h2v34h-2zM138 396h2v30h-2zM214 386h2v31h-2zM126 415h2v25h-2zM392 130h2v56h-2zM406 112h2v28h-2zM196 116h2v22h-2zM300 184h2v48h-2zM514 454h2v30h-2zM440 361h2v52h-2zM188 441h2v53h-2zM410 131h2v37h-2zM242 484h2v49h-2zM206 282h2v18h-2zM74 484h2v23h-2zM330 478h2v55h-2zM448 405h2v57h-2zM222 200h2v18h-2zM398 469h2v30h-2zM382 241h2v57h-2zM146 421h2v57h-2zM404 354h2v52h-2zM488 452h2v23h-2zM506 153h2v17h-2zM500 261h2v49h-2zM138 249h2v58h-2zM88 379h2v31h-2zM92 320h2v25h-2zM172 167h2v46h-2zM410 151h2v54h-2zM120 204h2v45h-2zM430 414h2v21h-2zM176 285h2v40h-2zM340 392h2v36h-2zM88 231h2v17h-2z"/><path fill="rgb(22,0,0)" d="M358 194h2v12h-2zM72 172h2v8h-2zM80 198h2v12h-2zM410 241h2v4.5h-2zM248 492h2v8h-2zM304 369h2v8h-2zM304 212h2v8h-2zM122 292h2v16h-2zM454 229h2v6h-2zM238 190h2v16h-2zM332 125h2v4.5h-2zM398 429h2v8h-2zM128 490h2v3h-2zM334 444h2v6h-2zM150 393h2v16h-2zM244 514h2v8h-2zM120 206h2v12h-2zM272 422h2v8h-2zM138 509h2v12h-2zM332 274h2v8h-2zM90 156h2v4.5h-2zM264 323h2v16h-2zM428 115h2v6h-2zM234 242h2v10h-2zM292 224h2v6h-2zM74 286h2v3h-2zM408 262h2v6h-2zM414 428h2v4.5h-2zM266 457h2v16h-2zM172 437h2v3h-2zM128 389h2v3h-2zM302 432h2v6h-2zM382 491h2v12h-2zM210 277h2v8h-2zM84 302h2v16h-2zM518 384h2v4.5h-2zM180 193h2v6h-2zM96 423h2v10h-2zM340 324h2v3h-2zM104 375h2v10h-2zM454 409h2v4.5h-2zM70 250h2v6h-2zM430 155h2v8h-2zM306 170h2v12h-2zM190 502h2v6h-2zM506 362h2v16h-2zM112 481h2v10h-2zM244 181h2v16h-2zM494 322h2v6h-2zM136 237h2v4.5h-2zM330 129h2v10h-2zM108 527h2v4.5h-2zM436 440h2v10h-2zM342 218h2v12h-2zM76 283h2v6h-2zM170 160h2v16h-2zM178 509h2v10h-2zM278 276h2v16h-2zM78 402h2v6h-2zM404 329h2v12h-2zM314 349h2v12h-2zM82 482h2v6h-2zM230 211h2v3h-2zM102 361h2v3h-2zM444 172h2v4.5h-2zM318 260h2v3h-2zM212 137h2v8h-2zM74 319h2v10h-2zM70 256h2v6h-2zM286 119h2v10h-2zM156 219h2v4.5h-2zM404 317h2v10h-2zM94 269h2v12h-2zM374 507h2v4.5h-2zM260 477h2v12h-2zM256 174h2v3h-2zM158 206h2v8h-2zM194 169h2v16h-2zM130 370h2v16h-2zM160 506h2v16h-2zM178 327h2v3h-2zM128 424h2v10h-2zM240 408h2v4.5h-2zM146 451h2v8h-2zM348 442h2v8h-2zM114 251h2v6h-2zM412 480h2v12h-2zM176 113h2v3h-2zM420 265h2v6h-2zM372 388h2v6h-2zM440 115h2v10h-2zM218 360h2v16h-2zM78 305h2v8h-2zM312 240h2v6h-2zM144 285h2v3h-2zM508 411h2v4.5h-2zM228 236h2v4.5h-2zM408 223h2v10h-2zM74 149h2v6h-2zM72 173h2v4.5h-2zM486 407h2v8h-2zM466 385h2v3h-2zM188 404h2v4.5h-2zM202 283h2v3h-2zM88 442h2v16h-2zM146 119h2v10h-2zM152 142h2v3h-2zM332 389h2v10h-2zM98 237h2v6h-2zM200 116h2v16h-2zM322 258h2v12h-2zM116 396h2v10h-2zM162 129h2v8h-2zM236 406h2v6h-2zM76 170h2v3h-2zM308 501h2v12h-2zM462 447h2v12h-2zM178 188h2v12h-2zM190 501h2v3h-2zM366 422h2v16h-2zM150 444h2v12h-2zM268 264h2v8h-2zM76 356h2v16h-2zM520 354h2v6h-2zM350 296h2v3h-2zM218 387h2v4.5h-2zM408 462h2v10h-2zM470 122h2v16h-2zM476 122h2v16h-2zM70 215h2v3h-2zM212 286h2v4.5h-2zM366 531h2v2h-2zM428 127h2v8h-2zM84 322h2v4.5h-2zM252 345h2v3h-2zM324 522h2v4.5h-2zM424 525h2v8h-2zM398 505h2v3h-2zM124 115h2v12h-2zM338 515h2v4.5h-2zM378 396h2v10h-2zM152 264h2v12h-2zM464 375h2v12h-2zM244 187h2v12h-2zM208 264h2v3h-2zM80 367h2v8h-2zM264 350h2v3h-2zM284 490h2v16h-2zM302 239h2v8h-2zM346 244h2v4.5h-2zM278 160h2v3h-2zM212 266h2v4.5h-2zM332 438h2v8h-2zM242 176h2v6h-2zM100 181h2v10h-2zM206 309h2v16h-2zM190 487h2v8h-2zM286 294h2v10h-2zM392 258h2v6h-2zM94 258h2v10h-2zM498 449h2v8h-2zM490 176h2v8h-2zM122 125h2v10h-2zM182 137h2v3h-2zM250 448h2v6h-2zM324 286h2v12h-2zM196 471h2v10h-2zM86 510h2v4.5h-2zM318 462h2v16h-2zM404 513h2v6h-2zM344 482h2v6h-2zM394 479h2v3h-2zM476 208h2v12h-2zM76 300h2v10h-2zM286 526h2v6h-2zM256 476h2v6h-2zM378 219h2v3h-2zM352 283h2v10h-2zM426 258h2v6h-2zM162 366h2v6h-2zM86 365h2v6h-2zM350 343h2v4.5h-2zM94 296h2v3h-2zM114 443h2v3h-2zM458 459h2v3h-2zM374 521h2v10h-2zM344 434h2v6h-2zM260 160h2v6h-2zM430 301h2v10h-2zM356 289h2v4.5h-2zM460 218h2v16h-2zM354 511h2v12h-2zM228 310h2v16h-2zM378 494h2v12h-2zM244 290h2v4.5h-2zM106 428h2v8h-2zM138 135h2v10h-2zM136 401h2v10h-2zM524 530h2v3h-2zM88 128h2v3h-2zM404 298h2v10h-2zM172 460h2v8h-2zM300 365h2v16h-2zM344 308h2v8h-2zM70 323h2v16h-2zM324 188h2v3h-2zM146 153h2v12h-2zM80 531h2v2h-2zM528 205h2v6h-2zM442 503h2v8h-2zM370 173h2v6h-2zM436 231h2v6h-2zM244 513h2v8h-2zM406 375h2v8h-2zM332 395h2v4.5h-2zM76 126h2v16h-2zM86 491h2v8h-2zM112 199h2v8h-2zM412 271h2v3h-2zM70 311h2v16h-2zM374 394h2v6h-2zM392 219h2v12h-2zM196 245h2v3h-2zM256 239h2v10h-2zM270 519h2v3h-2zM286 288h2v4.5h-2zM76 358h2v8h-2zM476 357h2v8h-2zM118 185h2v10h-2zM470 476h2v16h-2zM140 146h2v3h-2zM370 146h2v4.5h-2zM250 290h2v4.5h-2zM332 507h2v6h-2zM118 321h2v6h-2zM152 402h2v8h-2zM72 269h2v10h-2zM380 489h2v4.5h-2zM526 234h2v6h-2zM340 530h2v3h-2zM356 388h2v3h-2zM292 380h2v10h-2zM74 340h2v8h-2zM96 521h2v12h-2zM518 282h2v16h-2zM466 334h2v16h-2zM340 183h2v16h-2zM474 356h2v10h-2zM396 319h2v10h-2zM242 492h2v3h-2zM162 132h2v6h-2zM206 373h2v3h-2zM428 274h2v16h-2zM406 274h2v6h-2zM300 484h2v8h-2zM70 299h2v16h-2zM292 504h2v16h-2zM90 380h2v4.5h-2zM72 485h2v3h-2zM226 467h2v16h-2zM282 289h2v8h-2zM286 135h2v8h-2zM126 338h2v10h-2zM152 234h2v16h-2zM454 360h2v3h-2zM522 344h2v6h-2zM332 279h2v6h-2zM428 181h2v6h-2zM480 459h2v8h-2zM270 397h2v4.5h-2zM344 524h2v9h-2zM156 129h2v12h-2zM416 432h2v16h-2zM208 298h2v3h-2zM344 293h2v16h-2zM140 248h2v8h-2zM308 433h2v12h-2zM136 351h2v10h-2zM418 226h2v16h-2zM164 492h2v8h-2zM84 492h2v6h-2zM176 499h2v3h-2zM76 482h2v12h-2zM222 145h2v3h-2zM462 134h2v6h-2zM250 493h2v8h-2zM70 299h2v16h-2zM70 442h2v16h-2zM404 450h2v12h-2zM74 490h2v12h-2zM118 378h2v16h-2zM196 132h2v16h-2zM250 272h2v8h-2zM96 532h2v1h-2zM258 119h2v12h-2zM96 225h2v12h-2zM372 184h2v6h-2zM100 423h2v12h-2zM122 257h2v3h-2zM76 272h2v10h-2zM156 502h2v16h-2zM120 281h2v3h-2zM178 467h2v3h-2zM88 183h2v8h-2zM482 134h2v10h-2zM356 140h2v6h-2zM186 531h2v2h-2zM186 425h2v16h-2zM290 128h2v12h-2zM226 240h2v6h-2zM362 406h2v3h-2zM122 368h2v8h-2zM164 449h2v6h-2zM98 139h2v4.5h-2zM130 335h2v6h-2zM70 531h2v2h-2zM372 284h2v12h-2zM98 235h2v10h-2zM284 523h2v4.5h-2zM76 244h2v6h-2zM92 146h2v10h-2zM80 310h2v16h-2zM84 464h2v8h-2zM140 350h2v12h-2zM112 452h2v8h-2zM444 522h2v10h-2zM130 344h2v3h-2zM358 254h2v4.5h-2zM78 229h2v12h-2zM158 388h2v6h-2zM200 211h2v4.5h-2zM160 216h2v12h-2zM76 205h2v8h-2zM234 338h2v6h-2zM220 170h2v6h-2zM258 492h2v16h-2zM272 223h2v8h-2zM82 505h2v6h-2zM214 137h2v16h-2zM106 314h2v6h-2zM86 203h2v16h-2zM300 205h2v6h-2zM368 410h2v10h-2zM112 290h2v16h-2zM110 354h2v12h-2zM460 232h2v4.5h-2zM462 253h2v10h-2zM74 477h2v3h-2zM316 526h2v7h-2zM318 277h2v6h-2zM152 288h2v10h-2zM284 199h2v8h-2zM206 359h2v10h-2zM302 294h2v10h-2zM266 441h2v16h-2zM258 395h2v4.5h-2zM202 515h2v4.5h-2zM142 353h2v3h-2zM522 465h2v3h-2zM70 165h2v12h-2zM524 176h2v6h-2zM242 498h2v10h-2zM184 253h2v10h-2zM124 242h2v4.5h-2zM460 389h2v10h-2zM282 173h2v8h-2zM110 429h2v16h-2zM508 413h2v16h-2zM94 520h2v4.5h-2zM398 184h2v4.5h-2zM70 392h2v10h-2zM518 468h2v16h-2zM298 518h2v6h-2zM74 496h2v10h-2zM100 114h2v10h-2zM186 264h2v6h-2zM196 343h2v6h-2zM410 228h2v3h-2zM70 324h2v16h-2zM492 258h2v6h-2zM152 192h2v8h-2zM144 394h2v6h-2zM250 397h2v8h-2zM92 183h2v6h-2zM76 491h2v8h-2zM454 171h2v4.5h-2zM302 377h2v8h-2zM102 385h2v10h-2zM304 491h2v8h-2zM396 416h2v3h-2zM364 482h2v16h-2zM278 318h2v16h-2zM176 175h2v12h-2zM272 291h2v8h-2zM104 441h2v10h-2zM290 210h2v6h-2zM92 414h2v10h-2zM206 204h2v6h-2zM318 459h2v10h-2zM118 167h2v4.5h-2zM154 196h2v3h-2zM314 220h2v4.5h-2zM320 135h2v10h-2zM112 140h2v4.5h-2zM320 422h2v6h-2zM82 225h2v6h-2zM70 456h2v16h-2zM246 140h2v12h-2zM102 424h2v10h-2zM522 468h2v3h-2zM322 305h2v4.5h-2zM208 456h2v10h-2zM150 195h2v4.5h-2zM130 410h2v16h-2zM82 449h2v10h-2zM232 128h2v6h-2zM410 508h2v3h-2zM118 492h2v6h-2z"/><path fill="rgb(26,0,0)" d="M786 118h2v1.5h-2zM84 168h2v8h-2zM378 500h2v8h-2zM222 329h2v12h-2zM266 376h2v12h-2zM740 399h2v1.5h-2zM220 350h2v10h-2zM730 146h2v1.5h-2zM396 472h2v4.5h-2zM84 350h2v6h-2zM90 323h2v16h-2zM536 248h2v3h-2zM318 291h2v10h-2zM360 191h2v10h-2zM238 415h2v3h-2zM734 420h2v1.5h-2zM214 386h2v10h-2zM650 143h2v1.5h-2zM482 496h2v8h-2zM626 450h2v1.5h-2zM694 214h2v1.5h-2zM548 186h2v1.5h-2zM722 342h2v3h-2zM544 149h2v1.5h-2zM682 300h2v1.5h-2zM392 176h2v4.5h-2zM106 461h2v6h-2zM594 273h2v3h-2zM406 417h2v10h-2zM98 312h2v8h-2zM76 496h2v4.5h-2zM166 489h2v4.5h-2zM194 165h2v4.5h-2zM136 239h2v8h-2zM350 382h2v6h-2zM364 478h2v4.5h-2zM74 290h2v12h-2zM246 146h2v4.5h-2zM636 196h2v3h-2zM156 262h2v4.5h-2zM352 259h2v3h-2zM460 225h2v8h-2zM80 458h2v16h-2zM154 154h2v3h-2zM304 383h2v6h-2zM148 378h2v6h-2zM606 345h2v3h-2zM778 282h2v1.5h-2zM100 247h2v12h-2zM204 228h2v12h-2zM184 428h2v3h-2zM610 401h2v3h-2zM160 219h2v6h-2zM96 162h2v3h-2zM446 176h2v3h-2zM754 522h2v3h-2zM320 357h2v8h-2zM740 404h2v3h-2zM334 387h2v8h-2zM522 316h2v3h-2zM238 518h2v3h-2zM182 320h2v10h-2zM580 508h2v3h-2zM232 205h2v6h-2zM672 503h2v1.5h-2zM700 449h2v3h-2zM298 317h2v8h-2zM566 508h2v1.5h-2zM176 290h2v16h-2zM704 481h2v1.5h-2zM298 359h2v12h-2zM644 514h2v1.5h-2zM152 357h2v10h-2zM128 300h2v4.5h-2zM248 393h2v4.5h-2zM98 168h2v16h-2zM744 120h2v3h-2zM198 180h2v3h-2zM146 423h2v4.5h-2zM254 358h2v6h-2zM420 377h2v3h-2zM146 194h2v10h-2zM142 248h2v3h-2zM694 143h2v3h-2zM116 519h2v14h-2zM174 402h2v12h-2zM134 372h2v4.5h-2zM692 396h2v1.5h-2zM206 408h2v4.5h-2zM348 128h2v4.5h-2zM780 116h2v1.5h-2zM130 299h2v10h-2zM562 378h2v1.5h-2zM208 367h2v10h-2zM100 411h2v4.5h-2zM350 161h2v8h-2zM156 347h2v4.5h-2zM330 164h2v10h-2zM696 267h2v3h-2zM88 126h2v12h-2zM600 495h2v1.5h-2zM176 312h2v4.5h-2zM142 307h2v8h-2zM184 328h2v8h-2zM746 438h2v1.5h-2zM410 367h2v3h-2zM576 110h2v4.5h-2zM84 483h2v3h-2zM104 332h2v10h-2zM378 464h2v8h-2zM276 491h2v3h-2zM78 214h2v12h-2zM674 221h2v1.5h-2zM750 520h2v4.5h-2zM628 194h2v3h-2zM112 239h2v4.5h-2zM622 342h2v1.5h-2zM472 261h2v8h-2zM190 184h2v8h-2zM746 427h2v4.5h-2zM76 179h2v3h-2zM106 355h2v8h-2zM330 153h2v3h-2zM400 388h2v3h-2zM774 325h2v3h-2zM634 333h2v1.5h-2zM370 213h2v4.5h-2zM140 522h2v10h-2zM560 501h2v1.5h-2zM668 445h2v4.5h-2zM254 361h2v3h-2zM242 465h2v10h-2zM174 404h2v4.5h-2zM580 416h2v3h-2zM454 328h2v6h-2zM322 426h2v3h-2zM510 280h2v4.5h-2zM214 214h2v6h-2zM614 496h2v3h-2zM110 304h2v3h-2zM158 241h2v6h-2zM290 231h2v16h-2zM656 129h2v4.5h-2zM166 131h2v4.5h-2zM266 379h2v16h-2zM558 137h2v3h-2zM396 432h2v6h-2zM534 334h2v4.5h-2zM286 383h2v3h-2zM384 494h2v12h-2zM696 361h2v4.5h-2zM488 378h2v3h-2zM758 149h2v4.5h-2zM166 397h2v10h-2zM70 478h2v16h-2zM652 136h2v1.5h-2zM340 386h2v8h-2zM128 156h2v3h-2zM230 470h2v4.5h-2zM94 269h2v10h-2zM226 242h2v16h-2zM82 236h2v6h-2zM274 445h2v16h-2zM222 521h2v10h-2zM412 255h2v3h-2zM76 363h2v12h-2zM102 478h2v4.5h-2zM386 387h2v3h-2zM536 512h2v1.5h-2zM688 158h2v3h-2zM390 311h2v8h-2zM558 122h2v4.5h-2zM632 322h2v1.5h-2zM278 431h2v12h-2zM756 119h2v3h-2zM102 302h2v16h-2zM738 185h2v3h-2zM616 196h2v1.5h-2zM628 506h2v1.5h-2zM720 510h2v3h-2zM384 425h2v8h-2zM312 226h2v10h-2zM538 140h2v1.5h-2zM530 173h2v1.5h-2zM70 334h2v4.5h-2zM570 471h2v3h-2zM584 335h2v3h-2zM306 435h2v8h-2zM92 508h2v4.5h-2zM108 199h2v6h-2zM128 356h2v16h-2zM254 528h2v5h-2zM498 324h2v12h-2zM218 293h2v12h-2zM74 467h2v3h-2zM646 193h2v4.5h-2zM80 451h2v10h-2zM492 198h2v12h-2zM88 484h2v3h-2zM354 300h2v4.5h-2zM778 382h2v3h-2zM260 296h2v8h-2zM770 200h2v1.5h-2zM772 407h2v3h-2zM76 128h2v10h-2zM98 196h2v3h-2zM532 178h2v3h-2zM74 383h2v12h-2zM636 238h2v1.5h-2zM80 304h2v4.5h-2zM288 190h2v6h-2zM582 302h2v1.5h-2zM342 294h2v10h-2zM200 279h2v12h-2zM680 150h2v4.5h-2zM70 446h2v16h-2zM110 272h2v10h-2zM600 453h2v3h-2zM74 395h2v8h-2zM774 348h2v1.5h-2zM76 500h2v3h-2zM564 488h2v1.5h-2zM276 366h2v6h-2zM648 408h2v3h-2zM188 165h2v3h-2zM142 209h2v3h-2zM192 219h2v16h-2zM750 471h2v1.5h-2zM710 269h2v1.5h-2zM218 428h2v16h-2zM426 298h2v12h-2zM696 192h2v3h-2zM516 339h2v4.5h-2zM346 246h2v4.5h-2zM96 260h2v12h-2zM364 350h2v4.5h-2zM266 309h2v10h-2zM202 509h2v4.5h-2zM170 154h2v10h-2zM210 264h2v6h-2zM84 309h2v10h-2zM80 123h2v6h-2zM592 159h2v1.5h-2zM422 171h2v3h-2zM154 409h2v12h-2zM428 214h2v10h-2zM768 388h2v4.5h-2zM508 483h2v16h-2zM102 258h2v12h-2zM454 504h2v16h-2zM414 274h2v8h-2zM96 406h2v4.5h-2zM92 169h2v3h-2zM142 194h2v12h-2zM280 399h2v12h-2zM702 255h2v1.5h-2zM142 274h2v16h-2zM620 140h2v4.5h-2zM636 501h2v1.5h-2zM784 381h2v3h-2zM552 288h2v1.5h-2zM286 453h2v8h-2zM92 236h2v4.5h-2zM130 341h2v6h-2zM694 287h2v4.5h-2zM230 518h2v4.5h-2zM70 453h2v3h-2zM548 205h2v1.5h-2zM766 468h2v4.5h-2zM624 199h2v1.5h-2zM702 400h2v3h-2zM496 408h2v3h-2zM108 306h2v12h-2zM708 229.5h2v4.5h-2zM660 523.5h2v1.5h-2zM634 121.5h2v1.5h-2zM604 291.5h2v1.5h-2zM614 122.5h2v6h-2zM532 477.5h2v4.5h-2zM778 517.5h2v3h-2zM718 250.5h2v3h-2zM726 432.5h2v3h-2zM542 398h2v4.5h-2zM714 383h2v3h-2zM584 317h2v3h-2zM776 139h2v3h-2zM632 255h2v4.5h-2zM534 412.5h2v3h-2zM624 333h2v3h-2zM622 155h2v3h-2zM662 145.5h2v1.5h-2zM536 215h2v4.5h-2zM654 508.5h2v3h-2zM686 324.5h2v1.5h-2zM762 262h2v3h-2zM670 387h2v3h-2zM598 159.5h2v3h-2zM782 368h2v3h-2zM568 247h2v4.5h-2zM574 323h2v3h-2zM692 240.5h2v3h-2zM542 521h2v1.5h-2zM556 255.5h2v3h-2zM666 354h2v4.5h-2zM706 482.5h2v4.5h-2zM562 350.5h2v1.5h-2zM584 167.5h2v1.5h-2zM588 437.5h2v4.5h-2zM600 168h2v3h-2zM562 222h2v4.5h-2zM692 147h2v3h-2zM552 361h2v6h-2zM514 493h2v6h-2zM754 409.5h2v3h-2zM646 292h2v3h-2zM554 388h2v1.5h-2zM780 524.5h2v3h-2zM698 478.5h2v6h-2zM556 408.5h2v3h-2zM628 290h2v3h-2zM718 505h2v6h-2zM760 319h2v6h-2zM680 425.5h2v3h-2zM680 378h2v4.5h-2zM522 475h2v3h-2zM510 312h2v1.5h-2zM662 192h2v3h-2zM654 411h2v6h-2zM608 487.5h2v1.5h-2zM772 188h2v1.5h-2zM758 191.5h2v3h-2zM540 320h2v1.5h-2zM564 192.5h2v1.5h-2zM564 273.5h2v4.5h-2zM508 485h2v4.5h-2zM722 127.5h2v4.5h-2zM660 438.5h2v1.5h-2zM662 423h2v3h-2zM778 405.5h2v4.5h-2zM526 455.5h2v1.5h-2zM518 139h2v1.5h-2zM656 174.5h2v4.5h-2zM670 496.5h2v1.5h-2zM610 199h2v4.5h-2zM584 287h2v4.5h-2zM658 516.5h2v1.5h-2zM726 293.5h2v1.5h-2zM608 519.5h2v6h-2zM526 370.5h2v4.5h-2zM766 310.5h2v4.5h-2zM602 408h2v3h-2zM542 168h2v1.5h-2zM554 217h2v6h-2zM696 119h2v3h-2zM586 245.5h2v3h-2zM638 268.5h2v1.5h-2zM588 218.5h2v3h-2zM700 421h2v1.5h-2zM558 120h2v3h-2zM516 183.5h2v4.5h-2zM712 311.5h2v6h-2zM562 259.5h2v1.5h-2zM768 323h2v4.5h-2zM688 202h2v3h-2zM502 466h2v3h-2zM646 162.5h2v4.5h-2zM774 390h2v6h-2zM686 247.5h2v6h-2zM778 446h2v6h-2zM628 473h2v3h-2zM770 411h2v3h-2zM770 330h2v4.5h-2zM662 333h2v4.5h-2zM750 165.5h2v6h-2zM632 448.5h2v3h-2zM652 428.5h2v4.5h-2zM588 160.5h2v4.5h-2zM508 503h2v6h-2zM738 391.5h2v1.5h-2zM712 184h2v1.5h-2zM664 200h2v3h-2zM660 356h2v3h-2zM748 295.5h2v3h-2zM660 397h2v6h-2zM712 249.5h2v3h-2zM590 140.5h2v3h-2zM548 357.5h2v4.5h-2zM716 318.5h2v1.5h-2zM610 278h2v4.5h-2zM762 325.5h2v6h-2zM568 232.5h2v3h-2zM780 362h2v3h-2zM536 303.5h2v4.5h-2zM640 412h2v3h-2zM714 335.5h2v4.5h-2zM530 364.5h2v3h-2zM652 304h2v6h-2zM680 368.5h2v3h-2zM550 393h2v4.5h-2zM682 294.5h2v4.5h-2zM732 414.5h2v3h-2zM752 405h2v3h-2zM676 238h2v3h-2zM664 333h2v3h-2zM744 209h2v3h-2zM592 472h2v3h-2zM774 267h2v4.5h-2zM560 460h2v3h-2zM518 486h2v3h-2zM698 503h2v3h-2zM610 128.5h2v6h-2zM704 167.5h2v4.5h-2zM504 263h2v4.5h-2zM670 417.5h2v3h-2zM758 423h2v3h-2zM628 348.5h2v3h-2zM722 274.5h2v1.5h-2zM726 230.5h2v6h-2zM606 495h2v3h-2zM528 332.5h2v1.5h-2zM532 262.5h2v3h-2zM562 447h2v6h-2zM766 357.5h2v3h-2zM784 329.5h2v3h-2zM560 396.5h2v6h-2zM598 267h2v4.5h-2zM730 204h2v1.5h-2zM648 172h2v3h-2zM508 422.5h2v6h-2zM632 240.5h2v6h-2zM736 363.5h2v1.5h-2zM566 302.5h2v4.5h-2zM658 183h2v4.5h-2zM778 402.5h2v3h-2zM786 377.5h2v1.5h-2zM560 110.5h2v3h-2zM592 317.5h2v1.5h-2zM524 150.5h2v3h-2zM658 513.5h2v4.5h-2zM782 359.5h2v1.5h-2zM578 390h2v4.5h-2zM508 462h2v3h-2zM692 177.5h2v4.5h-2zM562 112.5h2v4.5h-2zM552 157h2v3h-2zM664 290h2v3h-2zM690 489h2v3h-2zM764 429.5h2v1.5h-2zM746 520.5h2v1.5h-2zM712 164h2v1.5h-2zM772 445h2v6h-2zM592 177h2v3h-2zM612 214.5h2v3h-2zM654 234h2v3h-2zM616 116h2v4.5h-2zM628 162h2v3h-2zM574 367.5h2v6h-2zM560 424.5h2v1.5h-2zM548 349.5h2v4.5h-2zM726 240.5h2v1.5h-2zM696 222h2v1.5h-2zM748 147.5h2v1.5h-2zM570 527h2v4.5h-2zM538 378.5h2v3h-2zM688 275h2v1.5h-2zM558 186.5h2v3h-2zM542 240h2v1.5h-2zM750 137h2v1.5h-2zM672 510h2v3h-2zM752 438h2v1.5h-2zM750 369h2v4.5h-2zM652 418h2v3h-2zM770 207h2v6h-2zM602 406h2v4.5h-2zM698 160h2v4.5h-2zM512 508.5h2v3h-2zM548 156.5h2v1.5h-2zM548 372h2v4.5h-2zM568 527.5h2v6h-2zM726 177.5h2v6h-2zM568 415h2v4.5h-2zM696 359h2v1.5h-2zM646 236.5h2v4.5h-2zM764 403h2v3h-2zM620 243.5h2v3h-2zM588 493h2v1.5h-2zM560 127h2v3h-2zM538 378.5h2v3h-2zM544 396h2v3h-2zM650 465.5h2v1.5h-2zM638 319.5h2v1.5h-2zM554 176.5h2v3h-2zM520 137.5h2v4.5h-2zM512 296h2v1.5h-2zM636 485h2v1.5h-2zM672 275.5h2v3h-2zM750 365.5h2v3h-2zM588 234h2v6h-2z"/><path fill="rgb(24,0,0)" d="M424 356h2v26h-2zM96 494h2v26h-2zM402 444h2v33h-2zM442 260h2v43h-2zM472 356h2v46h-2zM452 482h2v42h-2zM128 364h2v55h-2zM300 359h2v56h-2zM192 312h2v43h-2zM448 475h2v33h-2zM260 150h2v16h-2zM134 276h2v16h-2zM222 288h2v58h-2zM500 425h2v53h-2zM446 306h2v26h-2zM272 489h2v18h-2zM84 455h2v29h-2zM252 173h2v38h-2zM458 239h2v16h-2zM280 414h2v55h-2zM84 214h2v59h-2z"/><path fill="rgb(32,0,0)" d="M578 201h2v1.5h-2zM630 147.5h2v4.5h-2zM538 288h2v6h-2zM696 525.5h2v3h-2zM566 300.5h2v3h-2zM522 276.5h2v3h-2zM646 510.5h2v3h-2zM594 339h2v4.5h-2zM616 215.5h2v6h-2zM606 158h2v1.5h-2zM566 407h2v3h-2zM784 465h2v1.5h-2zM630 419h2v1.5h-2zM736 143.5h2v1.5h-2zM642 269.5h2v4.5h-2zM556 522h2v1.5h-2zM560 470h2v3h-2zM766 293h2v1.5h-2zM718 280.5h2v3h-2zM638 305h2v1.5h-2zM674 394.5h2v1.5h-2zM556 333.5h2v3h-2zM756 492.5h2v1.5h-2zM644 450h2v3h-2zM562 283.5h2v1.5h-2zM592 503h2v4.5h-2zM572 457h2v4.5h-2zM552 188.5h2v3h-2zM586 303h2v3h-2zM592 509.5h2v4.5h-2zM582 513.5h2v6h-2zM660 149.5h2v4.5h-2zM528 373h2v1.5h-2zM688 390h2v4.5h-2zM754 125.5h2v4.5h-2zM650 301.5h2v3h-2zM644 327.5h2v3h-2zM644 314.5h2v4.5h-2zM650 186.5h2v6h-2zM754 210h2v1.5h-2zM628 251h2v1.5h-2zM646 486.5h2v3h-2zM528 195h2v3h-2zM654 371.5h2v3h-2zM590 338.5h2v4.5h-2zM782 525.5h2v3h-2zM666 213.5h2v3h-2zM666 341.5h2v6h-2zM620 302h2v3h-2zM540 276h2v1.5h-2zM584 394h2v3h-2zM522 424h2v1.5h-2zM672 518h2v3h-2zM778 355h2v3h-2zM508 384.5h2v3h-2zM534 258.5h2v6h-2zM530 390h2v4.5h-2zM698 266.5h2v1.5h-2zM718 495h2v1.5h-2zM662 227h2v3h-2zM718 520h2v6h-2zM602 201.5h2v3h-2zM538 130h2v3h-2zM540 148h2v6h-2zM630 199h2v6h-2zM768 226h2v6h-2zM530 177h2v3h-2zM768 206.5h2v3h-2zM670 285.5h2v1.5h-2zM530 283.5h2v6h-2zM530 273.5h2v3h-2zM556 134.5h2v6h-2zM670 182.5h2v6h-2zM634 473.5h2v4.5h-2zM770 423h2v1.5h-2zM678 373h2v3h-2zM770 291h2v4.5h-2zM504 183.5h2v6h-2zM668 242.5h2v1.5h-2zM658 372.5h2v3h-2zM556 364h2v3h-2zM680 186h2v3h-2zM556 458.5h2v3h-2zM768 125.5h2v6h-2zM650 271h2v3h-2zM550 169h2v6h-2zM740 431h2v4.5h-2zM506 288.5h2v1.5h-2zM600 331h2v1.5h-2zM648 299.5h2v3h-2zM648 209.5h2v1.5h-2zM756 498h2v6h-2zM500 448.5h2v4.5h-2zM584 406.5h2v6h-2zM630 376.5h2v1.5h-2zM660 502.5h2v6h-2zM702 318.5h2v6h-2zM594 242.5h2v3h-2zM782 260.5h2v3h-2zM596 372h2v6h-2zM664 448h2v3h-2zM716 333h2v3h-2zM572 169.5h2v6h-2zM656 149h2v6h-2zM536 513.5h2v1.5h-2zM610 244h2v3h-2zM702 228h2v1.5h-2zM656 320.5h2v3h-2zM514 468.5h2v4.5h-2zM716 232.5h2v3h-2zM530 125.5h2v4.5h-2zM534 375h2v4.5h-2zM714 222h2v1.5h-2zM538 401h2v3h-2zM680 400h2v6h-2zM748 213.5h2v3h-2zM580 397h2v3h-2zM746 234.5h2v3h-2zM728 138h2v1.5h-2zM644 492h2v1.5h-2zM582 280.5h2v4.5h-2zM712 433h2v6h-2zM532 200.5h2v3h-2zM546 247h2v1.5h-2zM776 418.5h2v1.5h-2zM694 454h2v4.5h-2zM610 269.5h2v3h-2zM768 148h2v3h-2zM768 113h2v3h-2zM760 278h2v3h-2zM674 256h2v1.5h-2zM566 147h2v3h-2zM726 261.5h2v1.5h-2zM710 199h2v6h-2zM522 408h2v3h-2zM752 327.5h2v6h-2zM752 342h2v6h-2zM624 162h2v4.5h-2zM722 459.5h2v4.5h-2zM546 208h2v1.5h-2zM700 426h2v3h-2zM594 215h2v6h-2zM606 192h2v3h-2zM510 175h2v1.5h-2zM560 471h2v3h-2zM704 118.5h2v4.5h-2zM636 165h2v6h-2zM704 313.5h2v1.5h-2zM512 284h2v6h-2zM748 282h2v6h-2zM614 278.5h2v3h-2zM734 131h2v3h-2zM570 514.5h2v4.5h-2zM734 432h2v4.5h-2zM522 278h2v1.5h-2zM776 324h2v4.5h-2zM694 304h2v4.5h-2zM734 186h2v3h-2zM678 285.5h2v3h-2zM518 256.5h2v6h-2zM712 131.5h2v3h-2zM720 155h2v3h-2zM766 243h2v1.5h-2zM548 202.5h2v4.5h-2zM768 253.5h2v6h-2zM742 265.5h2v6h-2zM750 348h2v6h-2zM786 475.5h2v1.5h-2zM618 128.5h2v4.5h-2zM574 118h2v3h-2zM736 149.5h2v1.5h-2zM660 488h2v6h-2zM592 198.5h2v4.5h-2zM646 520.5h2v4.5h-2zM536 479.5h2v4.5h-2zM582 344h2v4.5h-2zM778 364.5h2v6h-2zM506 500.5h2v3h-2zM642 293.5h2v4.5h-2zM772 163.5h2v1.5h-2zM634 268h2v4.5h-2zM656 187h2v3h-2zM698 278.5h2v3h-2zM720 451.5h2v3h-2zM678 510.5h2v1.5h-2zM632 171h2v1.5h-2zM744 314.5h2v3h-2zM734 135.5h2v1.5h-2zM582 289h2v3h-2zM500 127.5h2v4.5h-2zM608 256.5h2v3h-2zM658 523h2v3h-2zM526 416h2v3h-2zM598 448.5h2v3h-2zM746 115h2v1.5h-2zM590 227h2v3h-2zM504 411h2v4.5h-2zM728 384h2v3h-2zM752 497.5h2v3h-2zM632 453h2v6h-2zM762 291h2v6h-2zM766 373.5h2v3h-2zM664 290h2v6h-2zM734 367.5h2v3h-2zM690 283.5h2v6h-2zM778 252h2v3h-2zM668 143.5h2v3h-2zM740 268.5h2v4.5h-2zM786 365.5h2v1.5h-2zM726 342.5h2v3h-2zM648 249.5h2v3h-2zM512 512h2v3h-2zM652 485h2v6h-2zM594 207h2v1.5h-2zM684 452.5h2v1.5h-2zM650 129.5h2v3h-2zM558 133.5h2v3h-2zM762 292h2v3h-2zM638 516.5h2v4.5h-2zM734 471h2v1.5h-2zM684 520.5h2v4.5h-2zM504 250h2v6h-2zM738 312h2v6h-2zM564 197.5h2v3h-2zM574 330.5h2v1.5h-2zM734 278.5h2v3h-2zM764 205.5h2v3h-2zM762 387h2v6h-2zM536 212h2v3h-2zM604 481h2v1.5h-2zM754 226.5h2v3h-2zM622 225.5h2v3h-2zM506 340h2v1.5h-2zM760 196h2v3h-2zM538 367h2v3h-2zM718 275h2v4.5h-2zM724 271h2v3h-2zM514 239.5h2v1.5h-2zM754 376.5h2v3h-2zM524 516h2v1.5h-2zM566 120.5h2v3h-2zM758 526.5h2v6h-2zM626 463h2v1.5h-2zM782 377h2v4.5h-2zM740 310.5h2v1.5h-2zM610 328.5h2v6h-2zM516 191h2v4.5h-2zM606 328h2v4.5h-2zM624 507h2v1.5h-2zM650 509.5h2v6h-2zM670 347.5h2v3h-2zM596 406h2v3h-2zM766 171.5h2v1.5h-2zM558 458h2v3h-2zM738 135h2v3h-2zM564 483h2v3h-2zM620 239h2v6h-2zM782 264.5h2v3h-2zM760 331.5h2v3h-2zM638 475h2v3h-2zM686 283.5h2v3h-2zM594 479.5h2v6h-2zM686 408.5h2v3h-2zM572 310h2v3h-2zM768 304.5h2v6h-2zM666 114h2v4.5h-2zM768 128.5h2v3h-2zM748 275h2v3h-2zM702 397h2v1.5h-2zM520 531h2v3h-2zM670 320.5h2v6h-2zM706 268.5h2v1.5h-2zM534 116.5h2v6h-2zM632 518.5h2v3h-2z"/><path fill="rgb(40,0,0)" d="M654 304.5h2v4.5h-2zM640 420.5h2v3h-2zM522 195h2v6h-2zM520 377h2v6h-2zM670 188h2v6h-2zM764 282h2v3h-2zM522 296h2v3h-2zM640 197.5h2v4.5h-2zM574 429h2v3h-2zM782 197h2v3h-2zM738 355h2v3h-2zM630 509.5h2v3h-2zM766 113h2v4.5h-2zM700 269h2v6h-2zM622 422.5h2v3h-2zM646 224.5h2v1.5h-2zM612 403h2v3h-2zM552 267h2v6h-2zM750 368h2v1.5h-2zM746 492h2v1.5h-2zM564 323.5h2v3h-2zM512 269h2v1.5h-2zM762 168.5h2v1.5h-2zM514 515.5h2v6h-2zM522 260h2v1.5h-2zM592 441h2v1.5h-2zM536 299.5h2v3h-2zM762 266.5h2v6h-2zM546 354.5h2v4.5h-2zM786 218.5h2v1.5h-2zM564 164.5h2v1.5h-2zM688 251.5h2v3h-2zM514 379.5h2v3h-2zM502 440.5h2v6h-2zM572 346.5h2v3h-2zM654 301h2v6h-2zM586 225.5h2v6h-2zM654 225.5h2v3h-2zM692 455.5h2v1.5h-2zM596 349.5h2v3h-2zM602 341.5h2v3h-2zM738 338h2v1.5h-2zM540 192.5h2v4.5h-2zM588 483.5h2v4.5h-2zM570 364.5h2v4.5h-2zM700 205.5h2v4.5h-2zM734 464.5h2v3h-2zM670 513.5h2v3h-2zM572 110.5h2v1.5h-2zM506 213h2v3h-2zM708 223.5h2v6h-2zM722 429.5h2v6h-2zM700 117h2v6h-2zM776 158.5h2v1.5h-2zM572 516h2v6h-2zM514 300h2v3h-2zM612 412h2v3h-2zM688 260h2v3h-2zM672 173.5h2v1.5h-2zM698 285h2v3h-2zM690 149h2v6h-2zM616 431.5h2v3h-2zM682 501.5h2v4.5h-2zM730 276h2v1.5h-2zM638 270h2v3h-2zM682 321.5h2v1.5h-2zM672 491h2v1.5h-2zM586 163h2v6h-2zM606 381h2v1.5h-2zM620 190.5h2v4.5h-2zM642 181h2v6h-2zM582 279.5h2v4.5h-2zM532 171h2v3h-2zM550 290.5h2v1.5h-2zM590 389h2v1.5h-2zM726 342.5h2v6h-2zM712 419.5h2v4.5h-2zM706 183h2v3h-2zM726 465h2v3h-2zM522 207.5h2v4.5h-2zM718 220.5h2v1.5h-2zM508 200h2v1.5h-2zM568 276h2v3h-2zM642 508h2v4.5h-2zM530 527h2v4.5h-2zM752 429h2v4.5h-2zM690 120h2v3h-2zM514 221.5h2v1.5h-2zM516 123.5h2v3h-2zM534 140h2v3h-2zM506 258h2v3h-2zM748 126.5h2v3h-2zM660 236h2v3h-2zM762 501h2v6h-2zM552 279h2v6h-2zM694 456.5h2v4.5h-2zM754 502.5h2v4.5h-2zM506 474.5h2v6h-2zM532 462h2v3h-2zM710 504h2v1.5h-2zM668 110.5h2v6h-2zM652 510h2v3h-2zM646 293h2v1.5h-2zM726 221h2v1.5h-2zM596 458.5h2v3h-2zM676 451.5h2v4.5h-2zM654 452h2v6h-2zM734 297.5h2v6h-2zM616 376h2v1.5h-2zM526 196h2v4.5h-2zM660 241h2v1.5h-2zM660 490h2v3h-2zM580 308.5h2v4.5h-2zM648 189.5h2v1.5h-2zM666 134h2v4.5h-2zM694 482.5h2v1.5h-2zM774 172.5h2v3h-2zM546 458h2v3h-2zM722 500.5h2v6h-2zM784 252.5h2v3h-2zM770 281h2v3h-2zM774 283.5h2v3h-2zM764 492h2v3h-2zM630 449h2v1.5h-2zM714 427.5h2v3h-2zM618 415.5h2v3h-2zM768 114.5h2v4.5h-2zM516 384h2v4.5h-2zM588 125.5h2v1.5h-2zM606 383h2v3h-2zM646 139.5h2v4.5h-2zM660 155.5h2v3h-2zM698 283.5h2v1.5h-2zM758 227.5h2v6h-2zM710 253.5h2v4.5h-2zM714 513.5h2v3h-2zM538 151h2v3h-2zM690 258.5h2v4.5h-2zM586 216h2v3h-2zM720 130.5h2v1.5h-2zM630 301.5h2v1.5h-2zM572 517h2v3h-2zM586 513.5h2v3h-2zM722 286h2v6h-2zM784 489h2v1.5h-2zM684 143.5h2v3h-2zM696 214h2v3h-2zM688 231.5h2v6h-2zM502 486.5h2v4.5h-2zM700 356h2v4.5h-2zM742 419.5h2v1.5h-2zM598 146h2v4.5h-2zM558 181.5h2v4.5h-2zM726 426h2v4.5h-2zM562 510.5h2v3h-2zM636 390.5h2v3h-2zM676 282h2v6h-2zM618 202h2v1.5h-2zM554 146.5h2v6h-2zM618 204h2v3h-2zM602 168.5h2v4.5h-2zM622 394.5h2v3h-2zM558 265.5h2v3h-2zM746 490.5h2v1.5h-2zM700 320.5h2v3h-2zM534 319.5h2v4.5h-2zM706 416.5h2v1.5h-2zM748 441.5h2v3h-2zM504 117h2v6h-2zM674 184.5h2v3h-2zM526 139.5h2v4.5h-2zM566 235.5h2v3h-2zM682 226h2v6h-2zM708 305.5h2v3h-2zM706 483h2v4.5h-2zM652 441h2v4.5h-2zM726 136.5h2v3h-2zM736 470.5h2v1.5h-2zM552 402h2v1.5h-2zM778 144h2v1.5h-2zM776 361h2v1.5h-2zM740 210.5h2v6h-2zM616 372.5h2v4.5h-2zM744 161h2v3h-2zM628 401.5h2v6h-2zM526 127h2v1.5h-2zM624 508.5h2v3h-2zM524 198.5h2v1.5h-2zM518 382h2v4.5h-2zM594 193h2v6h-2zM616 523h2v6h-2zM592 117.5h2v6h-2zM502 389.5h2v1.5h-2zM534 434h2v1.5h-2zM758 372h2v4.5h-2zM584 403.5h2v3h-2zM736 306.5h2v3h-2zM538 498.5h2v3h-2zM522 162.5h2v4.5h-2zM508 396h2v1.5h-2zM646 433h2v3h-2zM622 256.5h2v3h-2zM694 430.5h2v3h-2zM650 334.5h2v3h-2zM550 157h2v6h-2zM696 497h2v6h-2zM650 511h2v3h-2zM758 287.5h2v3h-2zM516 502h2v3h-2zM700 294h2v3h-2zM550 237.5h2v6h-2zM680 499h2v3h-2zM536 406.5h2v3h-2zM578 453h2v4.5h-2zM546 176h2v4.5h-2zM658 259.5h2v3h-2zM610 290.5h2v3h-2zM666 169.5h2v4.5h-2zM508 300h2v1.5h-2zM746 295h2v6h-2zM640 131.5h2v3h-2zM578 434.5h2v3h-2zM774 204h2v1.5h-2zM656 322h2v1.5h-2zM542 390.5h2v1.5h-2zM622 158h2v6h-2zM736 457.5h2v1.5h-2zM522 354h2v4.5h-2zM706 282.5h2v4.5h-2zM680 156.5h2v3h-2zM746 212.5h2v4.5h-2zM638 365.5h2v1.5h-2zM772 320h2v1.5h-2zM580 296.5h2v1.5h-2zM584 168.5h2v3h-2z"/><path fill="rgb(0,30,0)" d="M646 264h4v1.5h-4zM692 521h2v1.5h-2zM250 370h4v1.5h-4zM664 409h4v1.5h-4zM724 526h2v1.5h-2zM714 167h2v1.5h-2zM446 374h4v1.5h-4zM398 400h2v3h-2zM274 179h2v1.5h-2zM266 116h4v3h-4zM188 310h2v1.5h-2zM726 314h4v1.5h-4zM356 180h4v3h-4zM100 451h4v3h-4zM200 258h2v1.5h-2zM316 282h4v3h-4zM478 409h2v1.5h-2zM500 523h2v1.5h-2zM418 200h4v3h-4zM272 274h2v1.5h-2zM586 207h2v3h-2zM654 358h2v1.5h-2zM248 260h2v3h-2zM284 516h2v1.5h-2zM218 144h2v1.5h-2zM186 149h4v1.5h-4zM440 478h2v1.5h-2z"/><path fill="rgb(0,55,0)" d="M366 407h4v3h-4zM142 318h4v1.5h-4zM650 179h2v1.5h-2zM652 442h2v3h-2zM172 334h2v3h-2zM168 251h2v3h-2zM648 392h2v3h-2zM322 496h4v1.5h-4zM532 353h2v1.5h-2zM524 348h2v3h-2zM358 373h4v1.5h-4zM214 487h2v3h-2zM158 289h4v1.5h-4zM670 520h2v3h-2zM752 201h2v3h-2zM310 410h2v3h-2zM612 342h4v3h-4zM678 500h2v3h-2zM684 118h4v1.5h-4zM150 311h2v1.5h-2zM686 402h2v3h-2zM404 419h2v1.5h-2zM658 195h4v1.5h-4zM554 387h4v1.5h-4zM422 135h4v3h-4z"/><path fill="rgb(0,40,0)" d="M88 232h2v1.5h-2zM782 441h2v3h-2zM172 252h2v1.5h-2zM760 265h2v1.5h-2zM522 171h2v3h-2zM178 167h2v1.5h-2zM710 524h4v1.5h-4zM458 524h2v1.5h-2zM146 274h2v3h-2zM778 528h4v1.5h-4zM336 390h2v1.5h-2zM708 409h4v3h-4zM230 477h2v1.5h-2zM670 423h2v1.5h-2zM278 309h2v3h-2zM358 252h4v1.5h-4zM362 272h2v1.5h-2zM264 179h2v1.5h-2zM596 249h2v3h-2zM488 266h2v1.5h-2zM710 345h2v3h-2zM162 192h2v3h-2zM712 180h2v1.5h-2zM758 219h4v1.5h-4zM606 444h2v1.5h-2zM296 227h4v1.5h-4zM610 414h2v1.5h-2zM630 402h2v1.5h-2zM346 185h2v1.5h-2zM316 215h2v1.5h-2zM270 361h2v1.5h-2zM166 508h2v3h-2zM206 320h2v1.5h-2z"/><path fill="rgb(0,80,0)" d="M514 493h4v1.5h-4zM172 272h2v3h-2zM744 222h2v1.5h-2zM470 331h2v1.5h-2zM310 318h2v1.5h-2zM662 164h2v3h-2zM152 196h4v3h-4zM544 523h2v1.5h-2zM526 397h2v1.5h-2zM414 359h4v1.5h-4zM176 470h2v1.5h-2zM584 318h4v1.5h-4zM596 217h4v1.5h-4zM76 476h2v3h-2zM410 170h2v1.5h-2zM754 144h2v3h-2zM198 509h2v1.5h-2zM518 281h2v3h-2zM534 131h2v1.5h-2zM564 245h2v1.5h-2zM668 345h2v1.5h-2zM592 236h2v1.5h-2zM596 175h2v1.5h-2zM556 314h2v1.5h-2zM516 347h2v3h-2z"/></g><g shape-rendering="crispEdges"><path fill="rgb(84,0,0)" d="M94 169.5h2v1.5h-2zM96 166.4h2v1.5h-2zM98 167.9h2v1.5h-2zM102 166.3h2v1.5h-2zM112 164.5h2v1.5h-2zM116 167.4h2v1.5h-2zM116 165.9h2v1.5h-2zM118 164.3h2v1.5h-2zM118 162.8h2v1.5h-2zM126 168.6h2v1.5h-2zM126 164.1h2v1.5h-2zM140 168.2h2v1.5h-2zM140 160.7h2v1.5h-2zM142 165.2h2v1.5h-2zM144 168.1h2v1.5h-2zM146 165.1h2v1.5h-2zM148 162h2v1.5h-2zM152 167.9h2v1.5h-2zM152 163.4h2v1.5h-2zM154 163.3h2v1.5h-2zM154 158.8h2v1.5h-2zM156 157.2h2v1.5h-2zM158 160.1h2v1.5h-2zM164 161.3h2v1.5h-2zM164 159.8h2v1.5h-2zM168 164.1h2v1.5h-2zM170 162.5h2v1.5h-2zM172 156.4h2v1.5h-2zM174 159.3h2v1.5h-2zM174 156.3h2v1.5h-2zM176 157.7h2v1.5h-2zM178 162.1h2v1.5h-2zM178 156.1h2v1.5h-2zM180 162h2v1.5h-2zM182 164.9h2v1.5h-2zM182 155.9h2v1.5h-2zM188 157.1h2v1.5h-2zM190 164.5h2v1.5h-2zM192 158.4h2v1.5h-2zM192 155.4h2v1.5h-2zM192 153.9h2v1.5h-2zM192 152.4h2v1.5h-2zM196 162.7h2v1.5h-2zM196 159.7h2v1.5h-2zM198 156.6h2v1.5h-2zM202 163.9h2v1.5h-2zM202 162.4h2v1.5h-2zM204 156.2h2v1.5h-2zM206 157.6h2v1.5h-2zM208 163.5h2v1.5h-2zM208 159h2v1.5h-2zM208 157.5h2v1.5h-2zM210 164.9h2v1.5h-2zM212 157.2h2v1.5h-2zM212 155.7h2v1.5h-2zM214 157.1h2v1.5h-2zM216 155.5h2v1.5h-2zM218 153.8h2v1.5h-2zM220 161.2h2v1.5h-2zM220 159.7h2v1.5h-2zM220 153.7h2v1.5h-2zM222 158.1h2v1.5h-2zM228 150.2h2v1.5h-2zM230 163.6h2v1.5h-2zM236 161.7h2v1.5h-2zM236 160.2h2v1.5h-2zM236 155.7h2v1.5h-2zM238 158.5h2v1.5h-2zM238 154h2v1.5h-2zM238 152.5h2v1.5h-2zM240 156.9h2v1.5h-2zM242 156.8h2v1.5h-2zM242 155.3h2v1.5h-2zM244 153.7h2v1.5h-2zM246 162.5h2v1.5h-2zM246 152h2v1.5h-2zM248 159.4h2v1.5h-2zM248 157.9h2v1.5h-2zM248 153.4h2v1.5h-2zM250 153.3h2v1.5h-2zM252 153.1h2v1.5h-2zM252 148.6h2v1.5h-2zM254 153h2v1.5h-2zM254 151.5h2v1.5h-2zM256 157.4h2v1.5h-2zM256 154.4h2v1.5h-2zM256 152.9h2v1.5h-2zM256 149.9h2v1.5h-2zM258 157.3h2v1.5h-2zM258 154.3h2v1.5h-2zM260 157.1h2v1.5h-2zM260 154.1h2v1.5h-2zM260 151.1h2v1.5h-2zM260 149.6h2v1.5h-2zM262 155.5h2v1.5h-2zM262 154h2v1.5h-2zM262 151h2v1.5h-2zM262 149.5h2v1.5h-2zM264 155.4h2v1.5h-2zM266 161.2h2v1.5h-2zM266 152.2h2v1.5h-2zM268 153.6h2v1.5h-2zM268 149.1h2v1.5h-2zM270 156.4h2v1.5h-2zM272 159.3h2v1.5h-2zM272 150.3h2v1.5h-2zM274 159.2h2v1.5h-2zM276 156h2v1.5h-2zM276 153h2v1.5h-2zM278 148.4h2v1.5h-2zM282 157.1h2v1.5h-2zM284 151h2v1.5h-2zM286 159.8h2v1.5h-2zM288 158.2h2v1.5h-2zM288 156.7h2v1.5h-2zM288 150.7h2v1.5h-2zM290 155h2v1.5h-2zM290 152h2v1.5h-2zM290 149h2v1.5h-2zM296 157.6h2v1.5h-2zM296 147.1h2v1.5h-2zM298 148.5h2v1.5h-2zM298 147h2v1.5h-2zM300 155.8h2v1.5h-2zM302 146.7h2v1.5h-2zM304 151.1h2v1.5h-2zM304 146.6h2v1.5h-2zM306 150.9h2v1.5h-2zM308 155.3h2v1.5h-2zM308 153.8h2v1.5h-2zM308 149.3h2v1.5h-2zM312 158h2v1.5h-2zM314 148.9h2v1.5h-2zM316 153.2h2v1.5h-2zM320 157.4h2v1.5h-2zM320 155.9h2v1.5h-2zM322 157.3h2v1.5h-2zM322 155.8h2v1.5h-2zM322 143.8h2v1.5h-2zM324 151.2h2v1.5h-2zM324 149.7h2v1.5h-2zM328 155.4h2v1.5h-2zM330 150.7h2v1.5h-2zM332 156.4h2v1.5h-2zM334 145.7h2v1.5h-2zM334 142.7h2v1.5h-2zM338 149.7h2v1.5h-2zM340 149.5h2v1.5h-2zM342 134.3h2v1.5h-2zM346 151.8h2v1.5h-2zM346 148.8h2v1.5h-2zM346 142.8h2v1.5h-2zM346 133.8h2v1.5h-2zM348 151.5h2v1.5h-2zM348 141h2v1.5h-2zM348 132h2v1.5h-2zM352 133.1h2v1.5h-2zM352 131.6h2v1.5h-2zM358 147.4h2v1.5h-2zM360 129.2h2v1.5h-2zM360 127.7h2v1.5h-2zM362 148.5h2v1.5h-2zM362 144h2v1.5h-2zM364 133.3h2v1.5h-2zM366 149.6h2v1.5h-2zM366 148.1h2v1.5h-2zM366 140.6h2v1.5h-2zM366 134.6h2v1.5h-2zM366 130.1h2v1.5h-2zM366 127.1h2v1.5h-2zM366 125.6h2v1.5h-2zM368 152.3h2v1.5h-2zM368 135.8h2v1.5h-2zM368 122.3h2v1.5h-2zM370 129.6h2v1.5h-2zM372 129.4h2v1.5h-2zM374 150.2h2v1.5h-2zM374 129.2h2v1.5h-2zM374 124.7h2v1.5h-2zM374 120.2h2v1.5h-2zM376 141h2v1.5h-2zM376 133.5h2v1.5h-2zM376 127.5h2v1.5h-2zM378 133.2h2v1.5h-2zM378 127.2h2v1.5h-2zM378 125.7h2v1.5h-2zM378 116.7h2v1.5h-2zM380 149.5h2v1.5h-2zM382 150.8h2v1.5h-2zM382 144.8h2v1.5h-2zM382 137.3h2v1.5h-2zM382 135.8h2v1.5h-2zM382 132.8h2v1.5h-2zM382 129.8h2v1.5h-2zM384 141.6h2v1.5h-2zM384 123.6h2v1.5h-2zM384 122.1h2v1.5h-2zM384 117.6h2v1.5h-2zM386 142.9h2v1.5h-2zM386 141.4h2v1.5h-2zM388 142.7h2v1.5h-2zM388 126.2h2v1.5h-2zM388 111.2h2v1.5h-2zM390 149.9h2v1.5h-2zM390 145.4h2v1.5h-2zM390 124.4h2v1.5h-2zM390 122.9h2v1.5h-2zM390 121.4h2v1.5h-2zM392 146.7h2v1.5h-2zM392 136.2h2v1.5h-2zM392 134.7h2v1.5h-2zM392 128.7h2v1.5h-2zM394 145h2v1.5h-2zM394 139h2v1.5h-2zM396 131.3h2v1.5h-2zM396 129.8h2v1.5h-2zM396 123.8h2v1.5h-2zM398 138.6h2v1.5h-2zM398 137.1h2v1.5h-2zM398 110.1h2v1.5h-2zM402 145.6h2v1.5h-2zM402 127.6h2v1.5h-2zM402 118.6h2v1.5h-2zM402 115.6h2v1.5h-2zM404 133.4h2v1.5h-2zM404 131.9h2v1.5h-2zM404 115.4h2v1.5h-2zM404 112.4h2v1.5h-2zM406 145.1h2v1.5h-2zM406 134.6h2v1.5h-2zM408 137.2h2v1.5h-2zM408 131.2h2v1.5h-2zM408 129.7h2v1.5h-2zM408 119.2h2v1.5h-2zM408 113.2h2v1.5h-2zM410 109.8h2v1.5h-2zM412 133.5h2v1.5h-2zM412 130.5h2v1.5h-2zM412 126h2v1.5h-2zM412 114h2v1.5h-2zM412 109.5h2v1.5h-2zM414 131.6h2v1.5h-2zM414 116.6h2v1.5h-2zM414 108h2v1.1h-2zM416 126.7h2v1.5h-2zM416 120.7h2v1.5h-2zM416 110.2h2v1.5h-2zM418 120.3h2v1.5h-2zM418 118.8h2v1.5h-2zM418 115.8h2v1.5h-2zM418 109.8h2v1.5h-2zM420 139.4h2v1.5h-2zM420 131.9h2v1.5h-2zM420 122.9h2v1.5h-2zM420 109.4h2v1.5h-2zM422 133h2v1.5h-2zM422 110.5h2v1.5h-2zM422 109h2v1.5h-2zM424 144.7h2v1.5h-2zM424 129.7h2v1.5h-2zM424 128.2h2v1.5h-2zM424 119.2h2v1.5h-2zM426 144.3h2v1.5h-2zM426 138.3h2v1.5h-2zM426 120.3h2v1.5h-2zM428 115.4h2v1.5h-2zM428 113.9h2v1.5h-2zM430 134.5h2v1.5h-2zM430 128.5h2v1.5h-2zM430 118h2v1.5h-2zM432 141.5h2v1.5h-2zM432 114.5h2v1.5h-2zM436 124h2v1.5h-2zM436 112h2v1.5h-2zM438 125h2v1.5h-2zM438 123.5h2v1.5h-2zM440 114h2v1.5h-2zM440 112.5h2v1.5h-2zM440 111h2v1.5h-2zM442 125.5h2v1.5h-2zM442 112h2v1.5h-2zM444 119h2v1.5h-2zM444 116h2v1.5h-2zM446 129h2v1.5h-2zM446 127.5h2v1.5h-2zM446 124.5h2v1.5h-2zM446 121.5h2v1.5h-2zM448 133h2v1.5h-2zM448 124h2v1.5h-2zM450 129.5h2v1.5h-2zM450 120.5h2v1.5h-2zM450 113h2v1.5h-2zM452 121.5h2v1.5h-2zM452 109.5h2v1.5h-2zM454 136.6h2v1.5h-2zM462 138.2h2v1.5h-2zM462 133.7h2v1.5h-2zM462 127.7h2v1.5h-2zM462 115.7h2v1.5h-2zM462 108.2h2v1.5h-2zM462 108h2v0.2h-2zM464 130.6h2v1.5h-2zM464 121.6h2v1.5h-2zM464 111.1h2v1.5h-2zM464 108.1h2v1.5h-2zM464 108h2v0.1h-2zM466 133.1h2v1.5h-2zM466 128.6h2v1.5h-2zM466 121.1h2v1.5h-2zM466 119.6h2v1.5h-2zM468 115.8h2v1.5h-2zM470 131.6h2v1.5h-2zM470 119.6h2v1.5h-2zM472 124.8h2v1.5h-2zM472 109.8h2v1.5h-2zM472 108.3h2v1.5h-2zM474 130.1h2v1.5h-2zM474 128.6h2v1.5h-2zM474 110.6h2v1.5h-2zM476 114.3h2v1.5h-2zM476 109.8h2v1.5h-2zM482 131.5h2v1.5h-2zM482 122.5h2v1.5h-2zM482 119.5h2v1.5h-2zM484 123.2h2v1.5h-2zM484 114.2h2v1.5h-2zM486 112h2v1.5h-2zM488 118.8h2v1.5h-2zM488 114.3h2v1.5h-2zM488 111.3h2v1.5h-2zM488 109.8h2v1.5h-2zM490 128.6h2v1.5h-2zM490 125.6h2v1.5h-2zM492 127.8h2v1.5h-2zM492 118.8h2v1.5h-2zM492 115.8h2v1.5h-2zM492 112.8h2v1.5h-2zM494 127.1h2v1.5h-2zM494 112.1h2v1.5h-2zM496 115.9h2v1.5h-2zM496 114.4h2v1.5h-2zM496 109.9h2v1.5h-2zM498 122.7h2v1.5h-2zM498 119.7h2v1.5h-2zM498 112.2h2v1.5h-2zM500 125.2h2v1.5h-2zM500 113.2h2v1.5h-2zM502 117.2h2v1.5h-2zM502 115.7h2v1.5h-2zM502 114.2h2v1.5h-2zM502 108h2v0.2h-2zM506 108h2v0.6h-2zM508 121.5h2v1.5h-2zM508 118.5h2v1.5h-2zM508 115.5h2v1.5h-2zM508 111h2v1.5h-2zM512 121.5h2v1.5h-2zM512 118.5h2v1.5h-2zM512 114h2v1.5h-2zM514 119h2v1.5h-2zM516 118h2v1.5h-2zM518 111h2v1.5h-2zM518 109.5h2v1.5h-2zM520 110h2v1.5h-2zM524 111.4h2v1.5h-2zM524 108.4h2v1.5h-2zM526 112.2h2v1.5h-2zM528 111.4h2v1.5h-2zM528 109.9h2v1.5h-2zM530 110.7h2v1.5h-2zM530 109.2h2v1.5h-2zM538 110.8h2v1.5h-2zM540 110.2h2v1.5h-2zM540 108.7h2v1.5h-2zM546 108.2h2v1.5h-2z"/><path fill="rgb(72,0,0)" d="M94 168h2v1.5h-2zM94 166.5h2v1.5h-2zM96 164.9h2v1.5h-2zM98 166.4h2v1.5h-2zM98 164.9h2v1.5h-2zM100 167.8h2v1.5h-2zM106 166.2h2v1.5h-2zM108 166.1h2v1.5h-2zM110 166.1h2v1.5h-2zM112 169h2v1.5h-2zM114 169h2v1.5h-2zM116 168.9h2v1.5h-2zM118 165.8h2v1.5h-2zM120 168.8h2v1.5h-2zM120 167.3h2v1.5h-2zM120 162.8h2v1.5h-2zM120 161.3h2v1.5h-2zM122 162.7h2v1.5h-2zM124 164.2h2v1.5h-2zM126 167.1h2v1.5h-2zM126 165.6h2v1.5h-2zM126 162.6h2v1.5h-2zM128 165.6h2v1.5h-2zM130 167h2v1.5h-2zM132 168.5h2v1.5h-2zM134 166.9h2v1.5h-2zM134 162.4h2v1.5h-2zM134 159.4h2v1.5h-2zM136 165.4h2v1.5h-2zM136 163.9h2v1.5h-2zM136 162.4h2v1.5h-2zM136 159.4h2v1.5h-2zM138 163.8h2v1.5h-2zM138 160.8h2v1.5h-2zM144 159.1h2v1.5h-2zM144 157.6h2v1.5h-2zM146 163.6h2v1.5h-2zM146 162.1h2v1.5h-2zM146 159.1h2v1.5h-2zM148 159h2v1.5h-2zM152 166.4h2v1.5h-2zM152 161.9h2v1.5h-2zM156 160.2h2v1.5h-2zM156 158.7h2v1.5h-2zM158 157.1h2v1.5h-2zM160 164.5h2v1.5h-2zM162 155.4h2v1.5h-2zM164 162.8h2v1.5h-2zM166 164.2h2v1.5h-2zM168 161.1h2v1.5h-2zM172 154.9h2v1.5h-2zM174 166.8h2v1.5h-2zM176 162.2h2v1.5h-2zM178 163.6h2v1.5h-2zM178 159.1h2v1.5h-2zM178 153.1h2v1.5h-2zM180 160.5h2v1.5h-2zM182 161.9h2v1.5h-2zM182 158.9h2v1.5h-2zM182 154.4h2v1.5h-2zM184 155.8h2v1.5h-2zM186 163.2h2v1.5h-2zM186 154.2h2v1.5h-2zM188 155.6h2v1.5h-2zM190 158.5h2v1.5h-2zM192 162.9h2v1.5h-2zM192 159.9h2v1.5h-2zM194 164.3h2v1.5h-2zM194 159.8h2v1.5h-2zM196 155.2h2v1.5h-2zM196 152.2h2v1.5h-2zM198 165.6h2v1.5h-2zM200 158h2v1.5h-2zM200 153.5h2v1.5h-2zM206 162.1h2v1.5h-2zM206 150.1h2v1.5h-2zM208 160.5h2v1.5h-2zM210 161.9h2v1.5h-2zM210 160.4h2v1.5h-2zM212 163.2h2v1.5h-2zM212 152.7h2v1.5h-2zM214 155.6h2v1.5h-2zM216 161.5h2v1.5h-2zM216 149.5h2v1.5h-2zM218 156.8h2v1.5h-2zM218 150.8h2v1.5h-2zM222 150.6h2v1.5h-2zM224 150.5h2v1.5h-2zM226 159.3h2v1.5h-2zM228 159.2h2v1.5h-2zM230 160.6h2v1.5h-2zM230 159.1h2v1.5h-2zM232 158.9h2v1.5h-2zM232 157.4h2v1.5h-2zM234 158.8h2v1.5h-2zM238 155.5h2v1.5h-2zM240 158.4h2v1.5h-2zM242 150.8h2v1.5h-2zM244 156.7h2v1.5h-2zM246 161h2v1.5h-2zM246 159.5h2v1.5h-2zM246 155h2v1.5h-2zM246 153.5h2v1.5h-2zM248 151.9h2v1.5h-2zM250 159.3h2v1.5h-2zM254 156h2v1.5h-2zM254 154.5h2v1.5h-2zM254 148.5h2v1.5h-2zM256 161.9h2v1.5h-2zM256 148.4h2v1.5h-2zM258 148.3h2v1.5h-2zM260 152.6h2v1.5h-2zM262 160h2v1.5h-2zM262 152.5h2v1.5h-2zM262 148h2v1.5h-2zM262 146.5h2v1.5h-2zM264 156.9h2v1.5h-2zM264 150.9h2v1.5h-2zM264 147.9h2v1.5h-2zM266 158.2h2v1.5h-2zM268 147.6h2v1.5h-2zM270 160.9h2v1.5h-2zM272 160.8h2v1.5h-2zM274 157.7h2v1.5h-2zM274 154.7h2v1.5h-2zM276 157.5h2v1.5h-2zM276 151.5h2v1.5h-2zM276 148.5h2v1.5h-2zM280 148.2h2v1.5h-2zM284 146.5h2v1.5h-2zM286 149.3h2v1.5h-2zM290 150.5h2v1.5h-2zM290 147.5h2v1.5h-2zM290 143h2v1.5h-2zM292 150.4h2v1.5h-2zM292 148.9h2v1.5h-2zM294 148.8h2v1.5h-2zM296 150.1h2v1.5h-2zM298 156h2v1.5h-2zM298 154.5h2v1.5h-2zM298 144h2v1.5h-2zM298 142.5h2v1.5h-2zM300 152.8h2v1.5h-2zM300 149.8h2v1.5h-2zM300 143.8h2v1.5h-2zM302 143.7h2v1.5h-2zM304 154.1h2v1.5h-2zM304 143.6h2v1.5h-2zM306 156.9h2v1.5h-2zM306 149.4h2v1.5h-2zM308 147.8h2v1.5h-2zM308 143.3h2v1.5h-2zM310 147.6h2v1.5h-2zM310 143.1h2v1.5h-2zM312 156.5h2v1.5h-2zM314 142.9h2v1.5h-2zM318 147.1h2v1.5h-2zM318 145.6h2v1.5h-2zM318 144.1h2v1.5h-2zM320 151.4h2v1.5h-2zM320 149.9h2v1.5h-2zM320 148.4h2v1.5h-2zM322 142.3h2v1.5h-2zM322 139.3h2v1.5h-2zM324 146.7h2v1.5h-2zM326 154h2v1.5h-2zM326 143.5h2v1.5h-2zM328 150.9h2v1.5h-2zM328 143.4h2v1.5h-2zM328 140.4h2v1.5h-2zM330 144.7h2v1.5h-2zM330 141.7h2v1.5h-2zM330 140.2h2v1.5h-2zM330 135.7h2v1.5h-2zM332 145.9h2v1.5h-2zM332 141.4h2v1.5h-2zM334 150.2h2v1.5h-2zM334 144.2h2v1.5h-2zM334 139.7h2v1.5h-2zM336 156h2v1.5h-2zM338 152.7h2v1.5h-2zM340 151h2v1.5h-2zM340 142h2v1.5h-2zM342 137.3h2v1.5h-2zM346 147.3h2v1.5h-2zM346 141.3h2v1.5h-2zM346 127.8h2v1.5h-2zM348 148.5h2v1.5h-2zM348 147h2v1.5h-2zM348 142.5h2v1.5h-2zM348 126h2v1.5h-2zM350 154.3h2v1.5h-2zM350 148.3h2v1.5h-2zM350 142.3h2v1.5h-2zM352 137.6h2v1.5h-2zM352 130.1h2v1.5h-2zM352 125.6h2v1.5h-2zM352 124.1h2v1.5h-2zM354 153.9h2v1.5h-2zM354 138.9h2v1.5h-2zM358 142.9h2v1.5h-2zM358 135.4h2v1.5h-2zM358 133.9h2v1.5h-2zM358 121.9h2v1.5h-2zM360 147.2h2v1.5h-2zM360 133.7h2v1.5h-2zM360 123.2h2v1.5h-2zM362 151.5h2v1.5h-2zM362 145.5h2v1.5h-2zM362 142.5h2v1.5h-2zM364 146.8h2v1.5h-2zM364 136.3h2v1.5h-2zM364 127.3h2v1.5h-2zM364 124.3h2v1.5h-2zM366 133.1h2v1.5h-2zM366 121.1h2v1.5h-2zM368 147.8h2v1.5h-2zM368 126.8h2v1.5h-2zM368 125.3h2v1.5h-2zM368 116.3h2v1.5h-2zM370 152.1h2v1.5h-2zM370 144.6h2v1.5h-2zM370 132.6h2v1.5h-2zM372 145.9h2v1.5h-2zM372 135.4h2v1.5h-2zM372 132.4h2v1.5h-2zM372 130.9h2v1.5h-2zM372 118.9h2v1.5h-2zM372 114.4h2v1.5h-2zM374 142.7h2v1.5h-2zM374 130.7h2v1.5h-2zM374 126.2h2v1.5h-2zM374 118.7h2v1.5h-2zM374 115.7h2v1.5h-2zM374 109.7h2v1.5h-2zM376 142.5h2v1.5h-2zM376 135h2v1.5h-2zM376 126h2v1.5h-2zM376 124.5h2v1.5h-2zM376 120h2v1.5h-2zM376 117h2v1.5h-2zM378 143.7h2v1.5h-2zM378 131.7h2v1.5h-2zM378 122.7h2v1.5h-2zM378 119.7h2v1.5h-2zM378 110.7h2v1.5h-2zM380 151h2v1.5h-2zM380 148h2v1.5h-2zM380 145h2v1.5h-2zM380 134.5h2v1.5h-2zM382 131.3h2v1.5h-2zM382 125.3h2v1.5h-2zM382 123.8h2v1.5h-2zM384 135.6h2v1.5h-2zM384 128.1h2v1.5h-2zM384 120.6h2v1.5h-2zM388 132.2h2v1.5h-2zM388 129.2h2v1.5h-2zM388 120.2h2v1.5h-2zM388 115.7h2v1.5h-2zM388 112.7h2v1.5h-2zM390 127.4h2v1.5h-2zM390 119.9h2v1.5h-2zM390 116.9h2v1.5h-2zM390 109.4h2v1.5h-2zM392 149.7h2v1.5h-2zM392 140.7h2v1.5h-2zM392 124.2h2v1.5h-2zM392 122.7h2v1.5h-2zM394 143.5h2v1.5h-2zM394 137.5h2v1.5h-2zM394 136h2v1.5h-2zM394 131.5h2v1.5h-2zM396 147.8h2v1.5h-2zM396 144.8h2v1.5h-2zM396 135.8h2v1.5h-2zM396 125.3h2v1.5h-2zM398 119.1h2v1.5h-2zM398 113.1h2v1.5h-2zM398 108h2v0.6h-2zM400 148.8h2v1.5h-2zM400 136.8h2v1.5h-2zM400 114.3h2v1.5h-2zM402 117.1h2v1.5h-2zM404 128.9h2v1.5h-2zM404 113.9h2v1.5h-2zM404 109.4h2v1.5h-2zM406 137.6h2v1.5h-2zM406 131.6h2v1.5h-2zM406 115.1h2v1.5h-2zM406 113.6h2v1.5h-2zM406 112.1h2v1.5h-2zM406 110.6h2v1.5h-2zM406 108h2v1.1h-2zM408 143.2h2v1.5h-2zM408 134.2h2v1.5h-2zM408 108h2v0.7h-2zM410 126.3h2v1.5h-2zM410 108h2v0.3h-2zM412 118.5h2v1.5h-2zM414 115.1h2v1.5h-2zM414 113.6h2v1.5h-2zM416 135.7h2v1.5h-2zM416 117.7h2v1.5h-2zM418 121.8h2v1.5h-2zM418 114.3h2v1.5h-2zM420 118.4h2v1.5h-2zM420 112.4h2v1.5h-2zM422 131.5h2v1.5h-2zM422 128.5h2v1.5h-2zM422 118h2v1.5h-2zM424 114.7h2v1.5h-2zM424 108h2v0.7h-2zM426 130.8h2v1.5h-2zM426 123.3h2v1.5h-2zM426 112.8h2v1.5h-2zM428 125.9h2v1.5h-2zM428 118.4h2v1.5h-2zM430 130h2v1.5h-2zM430 116.5h2v1.5h-2zM430 110.5h2v1.5h-2zM430 108h2v1h-2zM432 140h2v1.5h-2zM432 128h2v1.5h-2zM432 123.5h2v1.5h-2zM434 123h2v1.5h-2zM434 118.5h2v1.5h-2zM434 108h2v1.5h-2zM436 142h2v1.5h-2zM436 134.5h2v1.5h-2zM438 108h2v0.5h-2zM440 141h2v1.5h-2zM440 130.5h2v1.5h-2zM440 117h2v1.5h-2zM442 118h2v1.5h-2zM442 108h2v1h-2zM444 117.5h2v1.5h-2zM444 108.5h2v1.5h-2zM446 123h2v1.5h-2zM446 108h2v1.5h-2zM448 137.5h2v1.5h-2zM448 130h2v1.5h-2zM448 127h2v1.5h-2zM448 125.5h2v1.5h-2zM448 118h2v1.5h-2zM452 124.5h2v1.5h-2zM452 118.5h2v1.5h-2zM454 133.6h2v1.5h-2zM454 130.6h2v1.5h-2zM454 118.6h2v1.5h-2zM454 117.1h2v1.5h-2zM454 115.6h2v1.5h-2zM454 108h2v0.1h-2zM462 136.7h2v1.5h-2zM462 126.2h2v1.5h-2zM462 121.7h2v1.5h-2zM464 133.6h2v1.5h-2zM464 114.1h2v1.5h-2zM468 121.8h2v1.5h-2zM468 120.3h2v1.5h-2zM468 118.8h2v1.5h-2zM470 124.1h2v1.5h-2zM470 118.1h2v1.5h-2zM470 110.6h2v1.5h-2zM470 109.1h2v1.5h-2zM472 129.3h2v1.5h-2zM472 127.8h2v1.5h-2zM472 117.3h2v1.5h-2zM474 125.6h2v1.5h-2zM474 108h2v1.1h-2zM476 123.3h2v1.5h-2zM476 117.3h2v1.5h-2zM476 112.8h2v1.5h-2zM476 111.3h2v1.5h-2zM476 108h2v0.3h-2zM478 130h2v1.5h-2zM478 128.5h2v1.5h-2zM480 132.2h2v1.5h-2zM480 127.8h2v1.5h-2zM482 124h2v1.5h-2zM482 118h2v1.5h-2zM482 115h2v1.5h-2zM482 113.5h2v1.5h-2zM484 127.7h2v1.5h-2zM484 124.7h2v1.5h-2zM484 118.7h2v1.5h-2zM486 125.5h2v1.5h-2zM486 124h2v1.5h-2zM488 124.8h2v1.5h-2zM488 120.3h2v1.5h-2zM488 112.8h2v1.5h-2zM490 127.1h2v1.5h-2zM492 108.3h2v1.5h-2zM494 113.6h2v1.5h-2zM494 110.6h2v1.5h-2zM496 117.4h2v1.5h-2zM496 108.4h2v1.5h-2zM496 108h2v0.4h-2zM498 116.7h2v1.5h-2zM498 115.2h2v1.5h-2zM500 116.2h2v1.5h-2zM502 123.2h2v1.5h-2zM502 109.7h2v1.5h-2zM504 122.6h2v1.5h-2zM504 118.1h2v1.5h-2zM504 116.6h2v1.5h-2zM504 112.1h2v1.5h-2zM506 119.1h2v1.5h-2zM512 109.5h2v1.5h-2zM514 120.5h2v1.5h-2zM514 113h2v1.5h-2zM514 108.5h2v1.5h-2zM516 113.5h2v1.5h-2zM516 109h2v1.5h-2zM518 117h2v1.5h-2zM518 115.5h2v1.5h-2zM520 116h2v1.5h-2zM520 113h2v1.5h-2zM520 108h2v0.5h-2zM522 115.1h2v1.5h-2zM524 115.9h2v1.5h-2zM524 108h2v0.4h-2zM526 108h2v1.2h-2zM530 113.7h2v1.5h-2zM530 112.2h2v1.5h-2zM530 108h2v1.2h-2zM534 110.7h2v1.5h-2zM542 108h2v1.5h-2zM546 108h2v0.2h-2z"/><path fill="rgb(24,0,0)" d="M94 165h2v1.5h-2zM94 162h2v1.5h-2zM94 160.5h2v1.5h-2zM94 159h2v1.5h-2zM94 157.5h2v1.5h-2zM96 161.9h2v1.5h-2zM96 157.4h2v1.5h-2zM96 155.9h2v1.5h-2zM98 163.4h2v1.5h-2zM98 161.9h2v1.5h-2zM98 160.4h2v1.5h-2zM98 158.9h2v1.5h-2zM98 151.4h2v1.5h-2zM98 149.9h2v1.5h-2zM98 148.4h2v1.5h-2zM100 161.8h2v1.5h-2zM102 163.3h2v1.5h-2zM102 158.8h2v1.5h-2zM102 157.3h2v1.5h-2zM104 163.2h2v1.5h-2zM104 158.7h2v1.5h-2zM106 160.2h2v1.5h-2zM106 158.7h2v1.5h-2zM106 157.2h2v1.5h-2zM106 154.2h2v1.5h-2zM106 152.7h2v1.5h-2zM106 151.2h2v1.5h-2zM108 158.6h2v1.5h-2zM108 157.1h2v1.5h-2zM108 155.6h2v1.5h-2zM108 154.1h2v1.5h-2zM110 160.1h2v1.5h-2zM110 158.6h2v1.5h-2zM110 155.6h2v1.5h-2zM110 154.1h2v1.5h-2zM110 152.6h2v1.5h-2zM110 149.6h2v1.5h-2zM112 158.5h2v1.5h-2zM112 157h2v1.5h-2zM112 154h2v1.5h-2zM112 151h2v1.5h-2zM112 149.5h2v1.5h-2zM112 148h2v1.5h-2zM114 160h2v1.5h-2zM114 155.5h2v1.5h-2zM114 154h2v1.5h-2zM116 161.4h2v1.5h-2zM116 158.4h2v1.5h-2zM116 155.4h2v1.5h-2zM118 153.8h2v1.5h-2zM118 150.8h2v1.5h-2zM118 149.3h2v1.5h-2zM120 158.3h2v1.5h-2zM120 155.3h2v1.5h-2zM120 149.3h2v1.5h-2zM120 146.3h2v1.5h-2zM120 144.8h2v1.5h-2zM120 125.3h2v1.5h-2zM120 120.8h2v1.5h-2zM122 156.7h2v1.5h-2zM122 152.2h2v1.5h-2zM122 147.7h2v1.5h-2zM122 146.2h2v1.5h-2zM122 141.7h2v1.5h-2zM124 159.7h2v1.5h-2zM124 156.7h2v1.5h-2zM124 152.2h2v1.5h-2zM124 147.7h2v1.5h-2zM124 144.7h2v1.5h-2zM124 143.2h2v1.5h-2zM124 138.7h2v1.5h-2zM124 137.2h2v1.5h-2zM124 122.2h2v1.5h-2zM124 116.2h2v1.5h-2zM124 114.7h2v1.5h-2zM126 159.6h2v1.5h-2zM126 155.1h2v1.5h-2zM126 149.1h2v1.5h-2zM126 146.1h2v1.5h-2zM126 144.6h2v1.5h-2zM126 141.6h2v1.5h-2zM126 137.1h2v1.5h-2zM126 123.6h2v1.5h-2zM128 158.1h2v1.5h-2zM128 156.6h2v1.5h-2zM128 150.6h2v1.5h-2zM128 149.1h2v1.5h-2zM128 147.6h2v1.5h-2zM128 144.6h2v1.5h-2zM128 143.1h2v1.5h-2zM128 137.1h2v1.5h-2zM128 111.6h2v1.5h-2zM130 161h2v1.5h-2zM130 153.5h2v1.5h-2zM130 150.5h2v1.5h-2zM130 147.5h2v1.5h-2zM132 158h2v1.5h-2zM132 156.5h2v1.5h-2zM134 154.9h2v1.5h-2zM134 150.4h2v1.5h-2zM134 148.9h2v1.5h-2zM134 147.4h2v1.5h-2zM134 142.9h2v1.5h-2zM134 139.9h2v1.5h-2zM134 138.4h2v1.5h-2zM134 136.9h2v1.5h-2zM136 153.4h2v1.5h-2zM136 151.9h2v1.5h-2zM136 150.4h2v1.5h-2zM136 148.9h2v1.5h-2zM136 147.4h2v1.5h-2zM136 144.4h2v1.5h-2zM136 139.9h2v1.5h-2zM136 127.9h2v1.5h-2zM136 124.9h2v1.5h-2zM136 118.9h2v1.5h-2zM136 117.4h2v1.5h-2zM136 109.9h2v1.5h-2zM136 108.4h2v1.5h-2zM136 108h2v0.4h-2zM138 159.3h2v1.5h-2zM138 151.8h2v1.5h-2zM138 150.3h2v1.5h-2zM138 148.8h2v1.5h-2zM138 147.3h2v1.5h-2zM138 145.8h2v1.5h-2zM140 159.2h2v1.5h-2zM140 156.2h2v1.5h-2zM140 154.7h2v1.5h-2zM140 148.7h2v1.5h-2zM140 147.2h2v1.5h-2zM140 145.7h2v1.5h-2zM140 142.7h2v1.5h-2zM140 141.2h2v1.5h-2zM140 130.7h2v1.5h-2zM140 127.7h2v1.5h-2zM140 121.7h2v1.5h-2zM142 162.2h2v1.5h-2zM142 160.7h2v1.5h-2zM142 159.2h2v1.5h-2zM142 154.7h2v1.5h-2zM144 153.1h2v1.5h-2zM144 148.6h2v1.5h-2zM144 144.1h2v1.5h-2zM144 142.6h2v1.5h-2zM144 135.1h2v1.5h-2zM144 132.1h2v1.5h-2zM144 129.1h2v1.5h-2zM144 127.6h2v1.5h-2zM144 126.1h2v1.5h-2zM144 124.6h2v1.5h-2zM144 117.1h2v1.5h-2zM144 114.1h2v1.5h-2zM144 111.1h2v1.5h-2zM146 153.1h2v1.5h-2zM146 145.6h2v1.5h-2zM146 144.1h2v1.5h-2zM146 142.6h2v1.5h-2zM146 141.1h2v1.5h-2zM146 136.6h2v1.5h-2zM146 133.6h2v1.5h-2zM146 132.1h2v1.5h-2zM146 130.6h2v1.5h-2zM146 126.1h2v1.5h-2zM146 123.1h2v1.5h-2zM146 120.1h2v1.5h-2zM146 118.6h2v1.5h-2zM146 117.1h2v1.5h-2zM146 108h2v0.1h-2zM148 154.5h2v1.5h-2zM148 153h2v1.5h-2zM148 148.5h2v1.5h-2zM148 142.5h2v1.5h-2zM148 138h2v1.5h-2zM148 132h2v1.5h-2zM148 129h2v1.5h-2zM148 123h2v1.5h-2zM148 121.5h2v1.5h-2zM148 120h2v1.5h-2zM150 156h2v1.5h-2zM150 148.5h2v1.5h-2zM150 147h2v1.5h-2zM150 145.5h2v1.5h-2zM150 132h2v1.5h-2zM152 160.4h2v1.5h-2zM152 158.9h2v1.5h-2zM152 157.4h2v1.5h-2zM152 155.9h2v1.5h-2zM152 149.9h2v1.5h-2zM152 143.9h2v1.5h-2zM152 136.4h2v1.5h-2zM154 155.8h2v1.5h-2zM154 149.8h2v1.5h-2zM154 145.3h2v1.5h-2zM154 143.8h2v1.5h-2zM154 140.8h2v1.5h-2zM154 139.3h2v1.5h-2zM154 137.8h2v1.5h-2zM154 134.8h2v1.5h-2zM154 133.3h2v1.5h-2zM154 131.8h2v1.5h-2zM154 130.3h2v1.5h-2zM154 128.8h2v1.5h-2zM154 116.8h2v1.5h-2zM154 113.8h2v1.5h-2zM154 108h2v1.3h-2zM156 154.2h2v1.5h-2zM156 145.2h2v1.5h-2zM156 142.2h2v1.5h-2zM156 139.2h2v1.5h-2zM156 136.2h2v1.5h-2zM156 131.7h2v1.5h-2zM156 128.7h2v1.5h-2zM156 127.2h2v1.5h-2zM156 118.2h2v1.5h-2zM156 116.7h2v1.5h-2zM156 113.7h2v1.5h-2zM156 108h2v1.2h-2zM158 155.6h2v1.5h-2zM158 148.1h2v1.5h-2zM158 143.6h2v1.5h-2zM158 140.6h2v1.5h-2zM158 131.6h2v1.5h-2zM158 130.1h2v1.5h-2zM158 128.6h2v1.5h-2zM158 127.1h2v1.5h-2zM158 125.6h2v1.5h-2zM158 124.1h2v1.5h-2zM158 122.6h2v1.5h-2zM158 119.6h2v1.5h-2zM158 118.1h2v1.5h-2zM158 116.6h2v1.5h-2zM158 115.1h2v1.5h-2zM158 108h2v1.1h-2zM160 160h2v1.5h-2zM160 155.5h2v1.5h-2zM160 152.5h2v1.5h-2zM160 151h2v1.5h-2zM160 145h2v1.5h-2zM160 142h2v1.5h-2zM160 140.5h2v1.5h-2zM160 136h2v1.5h-2zM160 130h2v1.5h-2zM162 150.9h2v1.5h-2zM162 138.9h2v1.5h-2zM162 135.9h2v1.5h-2zM162 134.4h2v1.5h-2zM162 126.9h2v1.5h-2zM162 123.9h2v1.5h-2zM162 114.9h2v1.5h-2zM162 113.4h2v1.5h-2zM164 155.3h2v1.5h-2zM164 150.8h2v1.5h-2zM164 146.3h2v1.5h-2zM164 144.8h2v1.5h-2zM164 143.3h2v1.5h-2zM164 138.8h2v1.5h-2zM164 137.3h2v1.5h-2zM164 134.3h2v1.5h-2zM164 131.3h2v1.5h-2zM164 119.3h2v1.5h-2zM164 117.8h2v1.5h-2zM164 116.3h2v1.5h-2zM166 158.2h2v1.5h-2zM166 156.7h2v1.5h-2zM166 153.7h2v1.5h-2zM166 149.2h2v1.5h-2zM166 146.2h2v1.5h-2zM168 150.6h2v1.5h-2zM168 147.6h2v1.5h-2zM168 141.6h2v1.5h-2zM168 137.1h2v1.5h-2zM168 135.6h2v1.5h-2zM168 134.1h2v1.5h-2zM168 132.6h2v1.5h-2zM168 131.1h2v1.5h-2zM168 128.1h2v1.5h-2zM168 122.1h2v1.5h-2zM168 120.6h2v1.5h-2zM168 119.1h2v1.5h-2zM168 117.6h2v1.5h-2zM168 111.6h2v1.5h-2zM168 108.6h2v1.5h-2zM170 155h2v1.5h-2zM170 152h2v1.5h-2zM170 149h2v1.5h-2zM170 144.5h2v1.5h-2zM170 143h2v1.5h-2zM170 140h2v1.5h-2zM170 138.5h2v1.5h-2zM170 135.5h2v1.5h-2zM170 129.5h2v1.5h-2zM172 139.9h2v1.5h-2zM172 136.9h2v1.5h-2zM172 135.4h2v1.5h-2zM172 132.4h2v1.5h-2zM172 130.9h2v1.5h-2zM172 124.9h2v1.5h-2zM172 123.4h2v1.5h-2zM172 121.9h2v1.5h-2zM172 120.4h2v1.5h-2zM172 117.4h2v1.5h-2zM172 114.4h2v1.5h-2zM172 112.9h2v1.5h-2zM172 109.9h2v1.5h-2zM174 145.8h2v1.5h-2zM174 141.3h2v1.5h-2zM174 138.3h2v1.5h-2zM174 136.8h2v1.5h-2zM174 135.3h2v1.5h-2zM174 133.8h2v1.5h-2zM174 132.3h2v1.5h-2zM174 130.8h2v1.5h-2zM174 129.3h2v1.5h-2zM174 124.8h2v1.5h-2zM174 121.8h2v1.5h-2zM174 118.8h2v1.5h-2zM174 115.8h2v1.5h-2zM174 109.8h2v1.5h-2zM176 142.7h2v1.5h-2zM176 139.7h2v1.5h-2zM176 136.7h2v1.5h-2zM176 135.2h2v1.5h-2zM176 133.7h2v1.5h-2zM176 132.2h2v1.5h-2zM176 130.7h2v1.5h-2zM176 127.7h2v1.5h-2zM176 126.2h2v1.5h-2zM176 123.2h2v1.5h-2zM176 115.7h2v1.5h-2zM176 114.2h2v1.5h-2zM176 112.7h2v1.5h-2zM178 150.1h2v1.5h-2zM178 148.6h2v1.5h-2zM178 147.1h2v1.5h-2zM178 145.6h2v1.5h-2zM178 138.1h2v1.5h-2zM178 135.1h2v1.5h-2zM178 133.6h2v1.5h-2zM178 132.1h2v1.5h-2zM178 126.1h2v1.5h-2zM178 124.6h2v1.5h-2zM178 112.6h2v1.5h-2zM178 109.6h2v1.5h-2zM178 108.1h2v1.5h-2zM180 154.5h2v1.5h-2zM180 147h2v1.5h-2zM180 144h2v1.5h-2zM180 142.5h2v1.5h-2zM180 141h2v1.5h-2zM180 138h2v1.5h-2zM180 132h2v1.5h-2zM182 148.4h2v1.5h-2zM182 145.4h2v1.5h-2zM182 140.9h2v1.5h-2zM182 139.4h2v1.5h-2zM182 134.9h2v1.5h-2zM182 131.9h2v1.5h-2zM182 130.4h2v1.5h-2zM182 128.9h2v1.5h-2zM182 127.4h2v1.5h-2zM182 125.9h2v1.5h-2zM182 124.4h2v1.5h-2zM182 122.9h2v1.5h-2zM182 121.4h2v1.5h-2zM182 118.4h2v1.5h-2zM182 116.9h2v1.5h-2zM182 113.9h2v1.5h-2zM182 109.4h2v1.5h-2zM182 108h2v1.4h-2zM184 146.8h2v1.5h-2zM184 145.3h2v1.5h-2zM184 143.8h2v1.5h-2zM184 142.3h2v1.5h-2zM184 139.3h2v1.5h-2zM184 137.8h2v1.5h-2zM184 136.3h2v1.5h-2zM184 133.3h2v1.5h-2zM184 131.8h2v1.5h-2zM184 130.3h2v1.5h-2zM184 128.8h2v1.5h-2zM184 127.3h2v1.5h-2zM184 124.3h2v1.5h-2zM184 115.3h2v1.5h-2zM184 109.3h2v1.5h-2zM184 108h2v1.3h-2zM186 137.7h2v1.5h-2zM186 136.2h2v1.5h-2zM186 134.7h2v1.5h-2zM186 133.2h2v1.5h-2zM186 125.7h2v1.5h-2zM186 124.2h2v1.5h-2zM186 110.7h2v1.5h-2zM188 151.1h2v1.5h-2zM188 146.6h2v1.5h-2zM188 143.6h2v1.5h-2zM188 140.6h2v1.5h-2zM188 139.1h2v1.5h-2zM188 137.6h2v1.5h-2zM188 136.1h2v1.5h-2zM188 131.6h2v1.5h-2zM188 130.1h2v1.5h-2zM188 128.6h2v1.5h-2zM188 125.6h2v1.5h-2zM188 121.1h2v1.5h-2zM188 116.6h2v1.5h-2zM190 154h2v1.5h-2zM190 146.5h2v1.5h-2zM190 143.5h2v1.5h-2zM190 142h2v1.5h-2zM190 137.5h2v1.5h-2zM190 136h2v1.5h-2zM190 130h2v1.5h-2zM192 147.9h2v1.5h-2zM192 146.4h2v1.5h-2zM192 141.9h2v1.5h-2zM192 140.4h2v1.5h-2zM192 138.9h2v1.5h-2zM192 137.4h2v1.5h-2zM192 134.4h2v1.5h-2zM192 129.9h2v1.5h-2zM192 126.9h2v1.5h-2zM192 120.9h2v1.5h-2zM192 117.9h2v1.5h-2zM192 116.4h2v1.5h-2zM192 114.9h2v1.5h-2zM192 113.4h2v1.5h-2zM192 111.9h2v1.5h-2zM194 153.8h2v1.5h-2zM194 149.3h2v1.5h-2zM194 147.8h2v1.5h-2zM194 146.3h2v1.5h-2zM194 138.8h2v1.5h-2zM194 135.8h2v1.5h-2zM194 131.3h2v1.5h-2zM194 129.8h2v1.5h-2zM196 149.2h2v1.5h-2zM196 143.2h2v1.5h-2zM196 140.2h2v1.5h-2zM196 135.7h2v1.5h-2zM196 129.7h2v1.5h-2zM196 125.2h2v1.5h-2zM196 120.7h2v1.5h-2zM196 119.2h2v1.5h-2zM196 117.7h2v1.5h-2zM196 114.7h2v1.5h-2zM196 113.2h2v1.5h-2zM196 111.7h2v1.5h-2zM196 108.7h2v1.5h-2zM196 108h2v0.7h-2zM198 152.1h2v1.5h-2zM198 144.6h2v1.5h-2zM198 140.1h2v1.5h-2zM198 137.1h2v1.5h-2zM198 129.6h2v1.5h-2zM198 125.1h2v1.5h-2zM198 122.1h2v1.5h-2zM198 120.6h2v1.5h-2zM200 152h2v1.5h-2zM200 149h2v1.5h-2zM200 132.5h2v1.5h-2zM200 128h2v1.5h-2zM200 125h2v1.5h-2zM200 117.5h2v1.5h-2zM200 114.5h2v1.5h-2zM200 108.5h2v1.5h-2zM202 151.9h2v1.5h-2zM202 148.9h2v1.5h-2zM202 147.4h2v1.5h-2zM204 151.7h2v1.5h-2zM204 145.7h2v1.5h-2zM204 141.2h2v1.5h-2zM204 138.2h2v1.5h-2zM204 135.2h2v1.5h-2zM204 132.2h2v1.5h-2zM204 129.2h2v1.5h-2zM204 121.7h2v1.5h-2zM204 120.2h2v1.5h-2zM204 117.2h2v1.5h-2zM204 109.7h2v1.5h-2zM206 145.6h2v1.5h-2zM206 139.6h2v1.5h-2zM206 133.6h2v1.5h-2zM206 130.6h2v1.5h-2zM206 124.6h2v1.5h-2zM206 123.1h2v1.5h-2zM206 121.6h2v1.5h-2zM206 120.1h2v1.5h-2zM206 115.6h2v1.5h-2zM206 114.1h2v1.5h-2zM206 112.6h2v1.5h-2zM206 111.1h2v1.5h-2zM206 108.1h2v1.5h-2zM206 108h2v0.1h-2zM208 153h2v1.5h-2zM208 147h2v1.5h-2zM208 144h2v1.5h-2zM208 142.5h2v1.5h-2zM208 141h2v1.5h-2zM208 136.5h2v1.5h-2zM208 135h2v1.5h-2zM208 133.5h2v1.5h-2zM208 132h2v1.5h-2zM208 130.5h2v1.5h-2zM208 127.5h2v1.5h-2zM208 123h2v1.5h-2zM208 121.5h2v1.5h-2zM208 120h2v1.5h-2zM208 108h2v1.5h-2zM210 151.4h2v1.5h-2zM210 149.9h2v1.5h-2zM210 148.4h2v1.5h-2zM210 146.9h2v1.5h-2zM212 149.7h2v1.5h-2zM212 133.2h2v1.5h-2zM212 130.2h2v1.5h-2zM212 128.7h2v1.5h-2zM212 127.2h2v1.5h-2zM212 122.7h2v1.5h-2zM212 113.7h2v1.5h-2zM212 109.2h2v1.5h-2zM212 108h2v1.2h-2zM214 148.1h2v1.5h-2zM214 139.1h2v1.5h-2zM214 133.1h2v1.5h-2zM214 130.1h2v1.5h-2zM214 128.6h2v1.5h-2zM214 127.1h2v1.5h-2zM214 119.6h2v1.5h-2zM214 115.1h2v1.5h-2zM214 112.1h2v1.5h-2zM214 110.6h2v1.5h-2zM216 145h2v1.5h-2zM216 143.5h2v1.5h-2zM216 140.5h2v1.5h-2zM216 136h2v1.5h-2zM216 133h2v1.5h-2zM216 130h2v1.5h-2zM216 128.5h2v1.5h-2zM216 127h2v1.5h-2zM216 122.5h2v1.5h-2zM216 119.5h2v1.5h-2zM216 118h2v1.5h-2zM216 116.5h2v1.5h-2zM216 109h2v1.5h-2zM216 108h2v1h-2zM218 146.3h2v1.5h-2zM218 138.8h2v1.5h-2zM218 134.3h2v1.5h-2zM218 116.3h2v1.5h-2zM218 113.3h2v1.5h-2zM218 108.8h2v1.5h-2zM220 149.2h2v1.5h-2zM220 144.7h2v1.5h-2zM220 137.2h2v1.5h-2zM220 131.2h2v1.5h-2zM220 129.7h2v1.5h-2zM220 128.2h2v1.5h-2zM220 126.7h2v1.5h-2zM220 122.2h2v1.5h-2zM220 120.7h2v1.5h-2zM220 119.2h2v1.5h-2zM220 114.7h2v1.5h-2zM222 152.1h2v1.5h-2zM222 149.1h2v1.5h-2zM222 143.1h2v1.5h-2zM222 140.1h2v1.5h-2zM222 137.1h2v1.5h-2zM222 134.1h2v1.5h-2zM222 132.6h2v1.5h-2zM222 122.1h2v1.5h-2zM222 120.6h2v1.5h-2zM222 113.1h2v1.5h-2zM222 111.6h2v1.5h-2zM222 108.6h2v1.5h-2zM222 108h2v0.6h-2zM224 138.5h2v1.5h-2zM224 137h2v1.5h-2zM224 131h2v1.5h-2zM224 128h2v1.5h-2zM224 126.5h2v1.5h-2zM224 119h2v1.5h-2zM224 114.5h2v1.5h-2zM224 108.5h2v1.5h-2zM224 108h2v0.5h-2zM226 151.8h2v1.5h-2zM226 148.8h2v1.5h-2zM226 147.3h2v1.5h-2zM226 142.8h2v1.5h-2zM226 141.3h2v1.5h-2zM226 139.8h2v1.5h-2zM228 138.2h2v1.5h-2zM228 136.7h2v1.5h-2zM228 132.2h2v1.5h-2zM228 130.7h2v1.5h-2zM228 129.2h2v1.5h-2zM228 127.7h2v1.5h-2zM228 123.2h2v1.5h-2zM228 120.2h2v1.5h-2zM228 118.7h2v1.5h-2zM228 111.2h2v1.5h-2zM228 109.7h2v1.5h-2zM230 151.6h2v1.5h-2zM230 150.1h2v1.5h-2zM230 147.1h2v1.5h-2zM230 145.6h2v1.5h-2zM230 144.1h2v1.5h-2zM230 141.1h2v1.5h-2zM230 139.6h2v1.5h-2zM232 155.9h2v1.5h-2zM232 151.4h2v1.5h-2zM234 143.8h2v1.5h-2zM234 142.3h2v1.5h-2zM234 137.8h2v1.5h-2zM234 133.3h2v1.5h-2zM234 128.8h2v1.5h-2zM234 121.3h2v1.5h-2zM234 119.8h2v1.5h-2zM234 108h2v1.3h-2zM236 154.2h2v1.5h-2zM236 145.2h2v1.5h-2zM236 142.2h2v1.5h-2zM236 137.7h2v1.5h-2zM236 134.7h2v1.5h-2zM236 127.2h2v1.5h-2zM238 140.5h2v1.5h-2zM238 139h2v1.5h-2zM238 137.5h2v1.5h-2zM238 134.5h2v1.5h-2zM238 133h2v1.5h-2zM238 131.5h2v1.5h-2zM238 130h2v1.5h-2zM238 128.5h2v1.5h-2zM238 116.5h2v1.5h-2zM240 143.4h2v1.5h-2zM240 141.9h2v1.5h-2zM240 137.4h2v1.5h-2zM240 135.9h2v1.5h-2zM240 134.4h2v1.5h-2zM240 132.9h2v1.5h-2zM240 131.4h2v1.5h-2zM240 126.9h2v1.5h-2zM240 125.4h2v1.5h-2zM240 123.9h2v1.5h-2zM240 122.4h2v1.5h-2zM240 119.4h2v1.5h-2zM240 117.9h2v1.5h-2zM240 114.9h2v1.5h-2zM242 149.3h2v1.5h-2zM242 137.3h2v1.5h-2zM242 135.8h2v1.5h-2zM242 131.3h2v1.5h-2zM242 128.3h2v1.5h-2zM242 122.3h2v1.5h-2zM242 120.8h2v1.5h-2zM242 119.3h2v1.5h-2zM242 117.8h2v1.5h-2zM242 114.8h2v1.5h-2zM242 113.3h2v1.5h-2zM242 108h2v0.8h-2zM244 146.2h2v1.5h-2zM244 140.2h2v1.5h-2zM244 132.7h2v1.5h-2zM244 125.2h2v1.5h-2zM244 120.7h2v1.5h-2zM244 117.7h2v1.5h-2zM244 108.7h2v1.5h-2zM246 141.5h2v1.5h-2zM246 137h2v1.5h-2zM246 135.5h2v1.5h-2zM246 132.5h2v1.5h-2zM246 131h2v1.5h-2zM246 126.5h2v1.5h-2zM246 125h2v1.5h-2zM246 123.5h2v1.5h-2zM246 117.5h2v1.5h-2zM246 114.5h2v1.5h-2zM246 113h2v1.5h-2zM246 108.5h2v1.5h-2zM248 141.4h2v1.5h-2zM248 139.9h2v1.5h-2zM248 138.4h2v1.5h-2zM248 133.9h2v1.5h-2zM248 130.9h2v1.5h-2zM248 129.4h2v1.5h-2zM248 127.9h2v1.5h-2zM248 126.4h2v1.5h-2zM248 120.4h2v1.5h-2zM248 118.9h2v1.5h-2zM248 117.4h2v1.5h-2zM248 112.9h2v1.5h-2zM248 111.4h2v1.5h-2zM250 150.3h2v1.5h-2zM250 147.3h2v1.5h-2zM250 145.8h2v1.5h-2zM250 141.3h2v1.5h-2zM250 138.3h2v1.5h-2zM250 136.8h2v1.5h-2zM250 135.3h2v1.5h-2zM250 130.8h2v1.5h-2zM250 127.8h2v1.5h-2zM250 126.3h2v1.5h-2zM250 117.3h2v1.5h-2zM250 111.3h2v1.5h-2zM252 139.6h2v1.5h-2zM252 130.6h2v1.5h-2zM252 129.1h2v1.5h-2zM252 123.1h2v1.5h-2zM252 120.1h2v1.5h-2zM252 118.6h2v1.5h-2zM252 117.1h2v1.5h-2zM252 114.1h2v1.5h-2zM252 108h2v0.1h-2zM254 147h2v1.5h-2zM254 136.5h2v1.5h-2zM254 133.5h2v1.5h-2zM254 130.5h2v1.5h-2zM254 124.5h2v1.5h-2zM254 123h2v1.5h-2zM254 121.5h2v1.5h-2zM254 117h2v1.5h-2zM254 115.5h2v1.5h-2zM254 114h2v1.5h-2zM256 140.9h2v1.5h-2zM256 137.9h2v1.5h-2zM256 134.9h2v1.5h-2zM256 128.9h2v1.5h-2zM256 127.4h2v1.5h-2zM256 121.4h2v1.5h-2zM256 119.9h2v1.5h-2zM256 113.9h2v1.5h-2zM256 112.4h2v1.5h-2zM256 110.9h2v1.5h-2zM258 142.3h2v1.5h-2zM258 139.3h2v1.5h-2zM258 136.3h2v1.5h-2zM258 133.3h2v1.5h-2zM258 130.3h2v1.5h-2zM258 127.3h2v1.5h-2zM258 125.8h2v1.5h-2zM258 122.8h2v1.5h-2zM258 121.3h2v1.5h-2zM258 119.8h2v1.5h-2zM258 109.3h2v1.5h-2zM260 143.6h2v1.5h-2zM260 139.1h2v1.5h-2zM260 137.6h2v1.5h-2zM260 134.6h2v1.5h-2zM260 130.1h2v1.5h-2zM260 127.1h2v1.5h-2zM260 125.6h2v1.5h-2zM260 122.6h2v1.5h-2zM260 121.1h2v1.5h-2zM260 119.6h2v1.5h-2zM260 116.6h2v1.5h-2zM260 112.1h2v1.5h-2zM260 110.6h2v1.5h-2zM260 109.1h2v1.5h-2zM262 145h2v1.5h-2zM262 139h2v1.5h-2zM262 134.5h2v1.5h-2zM262 133h2v1.5h-2zM262 131.5h2v1.5h-2zM262 127h2v1.5h-2zM262 125.5h2v1.5h-2zM262 124h2v1.5h-2zM262 119.5h2v1.5h-2zM262 118h2v1.5h-2zM262 116.5h2v1.5h-2zM262 112h2v1.5h-2zM264 144.9h2v1.5h-2zM264 138.9h2v1.5h-2zM264 137.4h2v1.5h-2zM264 134.4h2v1.5h-2zM264 132.9h2v1.5h-2zM264 129.9h2v1.5h-2zM264 122.4h2v1.5h-2zM264 120.9h2v1.5h-2zM264 117.9h2v1.5h-2zM264 116.4h2v1.5h-2zM264 114.9h2v1.5h-2zM264 113.4h2v1.5h-2zM266 149.2h2v1.5h-2zM266 143.2h2v1.5h-2zM266 141.7h2v1.5h-2zM266 140.2h2v1.5h-2zM266 137.2h2v1.5h-2zM266 135.7h2v1.5h-2zM266 134.2h2v1.5h-2zM266 129.7h2v1.5h-2zM266 126.7h2v1.5h-2zM268 141.6h2v1.5h-2zM268 140.1h2v1.5h-2zM268 138.6h2v1.5h-2zM268 134.1h2v1.5h-2zM268 129.6h2v1.5h-2zM268 125.1h2v1.5h-2zM268 123.6h2v1.5h-2zM268 119.1h2v1.5h-2zM268 110.1h2v1.5h-2zM268 108.6h2v1.5h-2zM270 151.9h2v1.5h-2zM270 148.9h2v1.5h-2zM270 144.4h2v1.5h-2zM270 142.9h2v1.5h-2zM270 141.4h2v1.5h-2zM270 138.4h2v1.5h-2zM270 136.9h2v1.5h-2zM272 142.8h2v1.5h-2zM272 141.3h2v1.5h-2zM272 139.8h2v1.5h-2zM272 138.3h2v1.5h-2zM272 133.8h2v1.5h-2zM272 132.3h2v1.5h-2zM272 117.3h2v1.5h-2zM272 115.8h2v1.5h-2zM272 114.3h2v1.5h-2zM272 109.8h2v1.5h-2zM272 108.3h2v1.5h-2zM274 151.7h2v1.5h-2zM274 147.2h2v1.5h-2zM274 145.7h2v1.5h-2zM274 144.2h2v1.5h-2zM274 139.7h2v1.5h-2zM274 138.2h2v1.5h-2zM276 142.5h2v1.5h-2zM276 130.5h2v1.5h-2zM276 129h2v1.5h-2zM276 120h2v1.5h-2zM276 115.5h2v1.5h-2zM276 108h2v0h-2zM278 142.4h2v1.5h-2zM278 137.9h2v1.5h-2zM278 133.4h2v1.5h-2zM278 127.4h2v1.5h-2zM278 125.9h2v1.5h-2zM278 124.4h2v1.5h-2zM278 122.9h2v1.5h-2zM278 119.9h2v1.5h-2zM278 118.4h2v1.5h-2zM278 115.4h2v1.5h-2zM278 109.4h2v1.5h-2zM280 142.2h2v1.5h-2zM280 140.7h2v1.5h-2zM280 137.7h2v1.5h-2zM280 134.7h2v1.5h-2zM280 131.7h2v1.5h-2zM280 130.2h2v1.5h-2zM280 127.2h2v1.5h-2zM280 122.7h2v1.5h-2zM280 118.2h2v1.5h-2zM280 115.2h2v1.5h-2zM280 108h2v1.2h-2zM282 155.6h2v1.5h-2zM282 154.1h2v1.5h-2zM282 152.6h2v1.5h-2zM282 140.6h2v1.5h-2zM282 136.1h2v1.5h-2zM284 143.5h2v1.5h-2zM284 140.5h2v1.5h-2zM284 130h2v1.5h-2zM284 128.5h2v1.5h-2zM284 125.5h2v1.5h-2zM284 116.5h2v1.5h-2zM284 115h2v1.5h-2zM286 143.3h2v1.5h-2zM286 137.3h2v1.5h-2zM286 126.8h2v1.5h-2zM286 125.3h2v1.5h-2zM286 123.8h2v1.5h-2zM286 116.3h2v1.5h-2zM286 114.8h2v1.5h-2zM286 108.8h2v1.5h-2zM288 140.2h2v1.5h-2zM288 137.2h2v1.5h-2zM288 135.7h2v1.5h-2zM288 134.2h2v1.5h-2zM288 132.7h2v1.5h-2zM288 126.7h2v1.5h-2zM288 125.2h2v1.5h-2zM288 123.7h2v1.5h-2zM288 120.7h2v1.5h-2zM288 119.2h2v1.5h-2zM288 117.7h2v1.5h-2zM288 116.2h2v1.5h-2zM288 111.7h2v1.5h-2zM290 140h2v1.5h-2zM290 134h2v1.5h-2zM290 132.5h2v1.5h-2zM290 131h2v1.5h-2zM290 129.5h2v1.5h-2zM290 125h2v1.5h-2zM290 120.5h2v1.5h-2zM290 119h2v1.5h-2zM290 108h2v0.5h-2zM292 133.9h2v1.5h-2zM292 130.9h2v1.5h-2zM292 129.4h2v1.5h-2zM292 127.9h2v1.5h-2zM292 126.4h2v1.5h-2zM292 124.9h2v1.5h-2zM292 123.4h2v1.5h-2zM292 121.9h2v1.5h-2zM292 118.9h2v1.5h-2zM292 115.9h2v1.5h-2zM292 112.9h2v1.5h-2zM292 111.4h2v1.5h-2zM292 108h2v0.4h-2zM294 139.8h2v1.5h-2zM294 136.8h2v1.5h-2zM294 132.3h2v1.5h-2zM294 130.8h2v1.5h-2zM294 124.8h2v1.5h-2zM294 120.3h2v1.5h-2zM294 118.8h2v1.5h-2zM294 117.3h2v1.5h-2zM294 115.8h2v1.5h-2zM294 111.3h2v1.5h-2zM294 109.8h2v1.5h-2zM296 144.1h2v1.5h-2zM296 142.6h2v1.5h-2zM296 133.6h2v1.5h-2zM296 130.6h2v1.5h-2zM296 129.1h2v1.5h-2zM296 126.1h2v1.5h-2zM296 124.6h2v1.5h-2zM296 123.1h2v1.5h-2zM296 121.6h2v1.5h-2zM296 118.6h2v1.5h-2zM296 115.6h2v1.5h-2zM296 114.1h2v1.5h-2zM296 112.6h2v1.5h-2zM296 111.1h2v1.5h-2zM296 109.6h2v1.5h-2zM298 133.5h2v1.5h-2zM298 130.5h2v1.5h-2zM298 124.5h2v1.5h-2zM298 118.5h2v1.5h-2zM298 117h2v1.5h-2zM298 114h2v1.5h-2zM298 112.5h2v1.5h-2zM300 133.3h2v1.5h-2zM300 128.8h2v1.5h-2zM300 127.3h2v1.5h-2zM300 125.8h2v1.5h-2zM300 124.3h2v1.5h-2zM300 119.8h2v1.5h-2zM300 118.3h2v1.5h-2zM300 113.8h2v1.5h-2zM300 112.3h2v1.5h-2zM300 109.3h2v1.5h-2zM302 142.2h2v1.5h-2zM302 133.2h2v1.5h-2zM302 127.2h2v1.5h-2zM302 125.7h2v1.5h-2zM302 124.2h2v1.5h-2zM302 121.2h2v1.5h-2zM302 118.2h2v1.5h-2zM302 115.2h2v1.5h-2zM302 112.2h2v1.5h-2zM302 110.7h2v1.5h-2zM304 134.6h2v1.5h-2zM304 133.1h2v1.5h-2zM304 130.1h2v1.5h-2zM304 128.6h2v1.5h-2zM304 127.1h2v1.5h-2zM304 124.1h2v1.5h-2zM304 122.6h2v1.5h-2zM304 121.1h2v1.5h-2zM304 118.1h2v1.5h-2zM304 116.6h2v1.5h-2zM304 115.1h2v1.5h-2zM304 112.1h2v1.5h-2zM306 140.4h2v1.5h-2zM306 135.9h2v1.5h-2zM306 129.9h2v1.5h-2zM306 126.9h2v1.5h-2zM306 125.4h2v1.5h-2zM306 116.4h2v1.5h-2zM308 138.8h2v1.5h-2zM308 137.3h2v1.5h-2zM308 132.8h2v1.5h-2zM308 131.3h2v1.5h-2zM308 128.3h2v1.5h-2zM308 122.3h2v1.5h-2zM308 120.8h2v1.5h-2zM308 119.3h2v1.5h-2zM308 117.8h2v1.5h-2zM308 116.3h2v1.5h-2zM308 114.8h2v1.5h-2zM308 111.8h2v1.5h-2zM308 110.3h2v1.5h-2zM308 108.8h2v1.5h-2zM308 108h2v0.8h-2zM310 138.6h2v1.5h-2zM310 129.6h2v1.5h-2zM310 128.1h2v1.5h-2zM310 120.6h2v1.5h-2zM310 119.1h2v1.5h-2zM310 117.6h2v1.5h-2zM310 114.6h2v1.5h-2zM310 111.6h2v1.5h-2zM312 134h2v1.5h-2zM312 132.5h2v1.5h-2zM312 131h2v1.5h-2zM312 125h2v1.5h-2zM312 123.5h2v1.5h-2zM312 119h2v1.5h-2zM312 114.5h2v1.5h-2zM314 136.9h2v1.5h-2zM314 132.4h2v1.5h-2zM314 129.4h2v1.5h-2zM314 127.9h2v1.5h-2zM314 123.4h2v1.5h-2zM314 121.9h2v1.5h-2zM314 112.9h2v1.5h-2zM316 151.7h2v1.5h-2zM316 138.2h2v1.5h-2zM316 135.2h2v1.5h-2zM318 135.1h2v1.5h-2zM318 129.1h2v1.5h-2zM318 123.1h2v1.5h-2zM318 118.6h2v1.5h-2zM318 115.6h2v1.5h-2zM318 111.1h2v1.5h-2zM318 109.6h2v1.5h-2zM320 139.4h2v1.5h-2zM320 136.4h2v1.5h-2zM320 131.9h2v1.5h-2zM320 128.9h2v1.5h-2zM322 134.8h2v1.5h-2zM322 131.8h2v1.5h-2zM322 128.8h2v1.5h-2zM322 119.8h2v1.5h-2zM322 116.8h2v1.5h-2zM322 115.3h2v1.5h-2zM322 110.8h2v1.5h-2zM322 109.3h2v1.5h-2zM322 108h2v1.3h-2zM324 140.7h2v1.5h-2zM324 139.2h2v1.5h-2zM324 136.2h2v1.5h-2zM324 134.7h2v1.5h-2zM324 131.7h2v1.5h-2zM324 121.2h2v1.5h-2zM324 119.7h2v1.5h-2zM324 113.7h2v1.5h-2zM326 133h2v1.5h-2zM326 131.5h2v1.5h-2zM326 125.5h2v1.5h-2zM326 122.5h2v1.5h-2zM326 108h2v1h-2zM328 135.9h2v1.5h-2zM328 134.4h2v1.5h-2zM328 131.4h2v1.5h-2zM328 129.9h2v1.5h-2zM328 122.4h2v1.5h-2zM328 120.9h2v1.5h-2zM328 114.9h2v1.5h-2zM328 113.4h2v1.5h-2zM328 111.9h2v1.5h-2zM328 110.4h2v1.5h-2zM330 131.2h2v1.5h-2zM330 123.7h2v1.5h-2zM330 113.2h2v1.5h-2zM330 108.7h2v1.5h-2zM332 126.4h2v1.5h-2zM332 124.9h2v1.5h-2zM332 114.4h2v1.5h-2zM332 111.4h2v1.5h-2zM334 127.7h2v1.5h-2zM334 126.2h2v1.5h-2zM334 123.2h2v1.5h-2zM334 121.7h2v1.5h-2zM334 118.7h2v1.5h-2zM334 117.2h2v1.5h-2zM334 114.2h2v1.5h-2zM334 112.7h2v1.5h-2zM334 111.2h2v1.5h-2zM334 109.7h2v1.5h-2zM334 108.2h2v1.5h-2zM334 108h2v0.2h-2zM336 145.5h2v1.5h-2zM336 141h2v1.5h-2zM336 139.5h2v1.5h-2zM336 138h2v1.5h-2zM336 136.5h2v1.5h-2zM336 135h2v1.5h-2zM336 133.5h2v1.5h-2zM336 129h2v1.5h-2zM336 126h2v1.5h-2zM338 142.2h2v1.5h-2zM338 131.7h2v1.5h-2zM338 128.7h2v1.5h-2zM338 127.2h2v1.5h-2zM338 119.7h2v1.5h-2zM338 115.2h2v1.5h-2zM340 136h2v1.5h-2zM340 128.5h2v1.5h-2zM340 127h2v1.5h-2zM340 124h2v1.5h-2zM340 122.5h2v1.5h-2zM340 121h2v1.5h-2zM340 119.5h2v1.5h-2zM340 118h2v1.5h-2zM340 115h2v1.5h-2zM340 113.5h2v1.5h-2zM340 109h2v1.5h-2zM340 108h2v1h-2zM342 132.8h2v1.5h-2zM342 131.3h2v1.5h-2zM342 128.3h2v1.5h-2zM342 122.3h2v1.5h-2zM342 117.8h2v1.5h-2zM342 110.3h2v1.5h-2zM344 134h2v1.5h-2zM344 129.5h2v1.5h-2zM344 126.5h2v1.5h-2zM344 119h2v1.5h-2zM344 110h2v1.5h-2zM346 121.8h2v1.5h-2zM346 117.3h2v1.5h-2zM346 115.8h2v1.5h-2zM348 112.5h2v1.5h-2zM348 111h2v1.5h-2zM348 108h2v0h-2zM350 127.3h2v1.5h-2zM350 125.8h2v1.5h-2zM350 122.8h2v1.5h-2zM350 109.3h2v1.5h-2zM350 108h2v1.3h-2zM352 112.1h2v1.5h-2zM354 135.9h2v1.5h-2zM354 129.9h2v1.5h-2zM354 125.4h2v1.5h-2zM354 120.9h2v1.5h-2zM354 119.4h2v1.5h-2zM354 116.4h2v1.5h-2zM354 111.9h2v1.5h-2zM354 110.4h2v1.5h-2zM354 108h2v0.9h-2zM356 138.6h2v1.5h-2zM356 120.6h2v1.5h-2zM356 119.1h2v1.5h-2zM356 116.1h2v1.5h-2zM356 111.6h2v1.5h-2zM356 108h2v0.6h-2zM358 120.4h2v1.5h-2zM358 117.4h2v1.5h-2zM358 114.4h2v1.5h-2zM362 133.5h2v1.5h-2zM362 130.5h2v1.5h-2zM362 126h2v1.5h-2zM362 124.5h2v1.5h-2zM362 121.5h2v1.5h-2zM362 120h2v1.5h-2zM362 118.5h2v1.5h-2zM362 117h2v1.5h-2zM362 115.5h2v1.5h-2zM362 114h2v1.5h-2zM362 109.5h2v1.5h-2zM362 108h2v1.5h-2zM364 118.3h2v1.5h-2zM364 113.8h2v1.5h-2zM364 110.8h2v1.5h-2zM364 109.3h2v1.5h-2zM364 108h2v1.3h-2zM366 109.1h2v1.5h-2zM368 110.3h2v1.5h-2zM368 108.8h2v1.5h-2zM372 112.9h2v1.5h-2zM372 108h2v0.4h-2zM376 109.5h2v1.5h-2zM380 136h2v1.5h-2zM380 130h2v1.5h-2zM380 122.5h2v1.5h-2zM380 119.5h2v1.5h-2zM380 118h2v1.5h-2zM380 116.5h2v1.5h-2zM380 113.5h2v1.5h-2zM380 108h2v1h-2zM382 122.3h2v1.5h-2zM382 119.3h2v1.5h-2zM382 113.3h2v1.5h-2zM382 108.8h2v1.5h-2zM386 132.4h2v1.5h-2zM386 120.4h2v1.5h-2zM386 115.9h2v1.5h-2zM386 114.4h2v1.5h-2zM386 112.9h2v1.5h-2zM386 109.9h2v1.5h-2zM386 108.4h2v1.5h-2zM386 108h2v0.4h-2zM388 109.7h2v1.5h-2zM392 121.2h2v1.5h-2zM392 116.7h2v1.5h-2zM392 108h2v1.2h-2zM394 134.5h2v1.5h-2zM394 127h2v1.5h-2zM394 125.5h2v1.5h-2zM394 124h2v1.5h-2zM394 118h2v1.5h-2zM394 115h2v1.5h-2zM394 113.5h2v1.5h-2zM394 110.5h2v1.5h-2zM396 122.3h2v1.5h-2zM396 119.3h2v1.5h-2zM400 121.8h2v1.5h-2zM400 115.8h2v1.5h-2zM400 108.3h2v1.5h-2zM434 109.5h2v1.5h-2zM446 112.5h2v1.5h-2zM448 110.5h2v1.5h-2zM454 112.6h2v1.5h-2zM456 135.2h2v1.5h-2zM456 133.7h2v1.5h-2zM456 132.2h2v1.5h-2zM456 130.7h2v1.5h-2zM456 123.2h2v1.5h-2zM456 121.7h2v1.5h-2zM456 118.7h2v1.5h-2zM456 115.7h2v1.5h-2zM456 114.2h2v1.5h-2zM456 109.7h2v1.5h-2zM456 108.2h2v1.5h-2zM458 135.3h2v1.5h-2zM458 130.8h2v1.5h-2zM458 127.8h2v1.5h-2zM458 126.3h2v1.5h-2zM458 123.3h2v1.5h-2zM458 118.8h2v1.5h-2zM458 114.3h2v1.5h-2zM458 112.8h2v1.5h-2zM458 111.3h2v1.5h-2zM460 138.2h2v1.5h-2zM460 129.2h2v1.5h-2zM460 118.8h2v1.5h-2zM460 117.2h2v1.5h-2zM460 115.8h2v1.5h-2zM460 112.8h2v1.5h-2zM460 111.2h2v1.5h-2zM460 108.2h2v1.5h-2zM460 108h2v0.2h-2zM478 131.5h2v1.5h-2zM478 122.5h2v1.5h-2zM478 113.5h2v1.5h-2zM478 110.5h2v1.5h-2zM478 109h2v1.5h-2zM478 108h2v1h-2zM480 123.2h2v1.5h-2zM480 115.8h2v1.5h-2zM480 111.2h2v1.5h-2zM480 109.8h2v1.5h-2zM510 119.5h2v1.5h-2zM510 115h2v1.5h-2zM510 113.5h2v1.5h-2z"/><path fill="rgb(12,0,0)" d="M94 163.5h2v1.5h-2zM94 156h2v1.5h-2zM94 154.5h2v1.5h-2zM94 153h2v1.5h-2zM94 151.5h2v1.5h-2zM94 148.5h2v1.5h-2zM94 145.5h2v1.5h-2zM94 144h2v1.5h-2zM94 142.5h2v1.5h-2zM94 139.5h2v1.5h-2zM94 136.5h2v1.5h-2zM94 135h2v1.5h-2zM94 132h2v1.5h-2zM94 123h2v1.5h-2zM94 118.5h2v1.5h-2zM94 115.5h2v1.5h-2zM94 114h2v1.5h-2zM94 112.5h2v1.5h-2zM94 108h2v1.5h-2zM96 158.9h2v1.5h-2zM96 154.4h2v1.5h-2zM96 152.9h2v1.5h-2zM96 151.4h2v1.5h-2zM96 146.9h2v1.5h-2zM96 145.4h2v1.5h-2zM96 143.9h2v1.5h-2zM96 142.4h2v1.5h-2zM96 140.9h2v1.5h-2zM96 139.4h2v1.5h-2zM96 137.9h2v1.5h-2zM96 136.4h2v1.5h-2zM96 134.9h2v1.5h-2zM96 133.4h2v1.5h-2zM96 131.9h2v1.5h-2zM96 128.9h2v1.5h-2zM96 124.4h2v1.5h-2zM96 122.9h2v1.5h-2zM96 121.4h2v1.5h-2zM96 119.9h2v1.5h-2zM96 118.4h2v1.5h-2zM96 116.9h2v1.5h-2zM96 115.4h2v1.5h-2zM96 113.9h2v1.5h-2zM96 110.9h2v1.5h-2zM96 109.4h2v1.5h-2zM96 108h2v1.4h-2zM98 157.4h2v1.5h-2zM98 155.9h2v1.5h-2zM98 154.4h2v1.5h-2zM98 152.9h2v1.5h-2zM98 143.9h2v1.5h-2zM98 140.9h2v1.5h-2zM98 139.4h2v1.5h-2zM98 137.9h2v1.5h-2zM98 136.4h2v1.5h-2zM98 134.9h2v1.5h-2zM98 133.4h2v1.5h-2zM98 130.4h2v1.5h-2zM98 128.9h2v1.5h-2zM98 122.9h2v1.5h-2zM98 119.9h2v1.5h-2zM98 118.4h2v1.5h-2zM98 113.9h2v1.5h-2zM98 112.4h2v1.5h-2zM98 110.9h2v1.5h-2zM98 108h2v1.4h-2zM100 158.8h2v1.5h-2zM100 157.3h2v1.5h-2zM100 155.8h2v1.5h-2zM100 154.3h2v1.5h-2zM100 152.8h2v1.5h-2zM100 151.3h2v1.5h-2zM100 149.8h2v1.5h-2zM100 148.3h2v1.5h-2zM100 146.8h2v1.5h-2zM100 145.3h2v1.5h-2zM100 140.8h2v1.5h-2zM100 139.3h2v1.5h-2zM100 134.8h2v1.5h-2zM100 131.8h2v1.5h-2zM100 128.8h2v1.5h-2zM100 127.3h2v1.5h-2zM100 125.8h2v1.5h-2zM100 124.3h2v1.5h-2zM100 122.8h2v1.5h-2zM100 121.3h2v1.5h-2zM100 119.8h2v1.5h-2zM100 116.8h2v1.5h-2zM100 115.3h2v1.5h-2zM100 113.8h2v1.5h-2zM100 112.3h2v1.5h-2zM100 110.8h2v1.5h-2zM100 109.3h2v1.5h-2zM100 108h2v1.3h-2zM102 155.8h2v1.5h-2zM102 154.3h2v1.5h-2zM102 152.8h2v1.5h-2zM102 151.3h2v1.5h-2zM102 149.8h2v1.5h-2zM102 148.3h2v1.5h-2zM102 143.8h2v1.5h-2zM102 142.3h2v1.5h-2zM102 139.3h2v1.5h-2zM102 137.8h2v1.5h-2zM102 136.3h2v1.5h-2zM102 134.8h2v1.5h-2zM102 130.3h2v1.5h-2zM102 128.8h2v1.5h-2zM102 127.3h2v1.5h-2zM102 125.8h2v1.5h-2zM102 122.8h2v1.5h-2zM102 119.8h2v1.5h-2zM102 118.3h2v1.5h-2zM102 116.8h2v1.5h-2zM102 115.3h2v1.5h-2zM102 113.8h2v1.5h-2zM102 112.3h2v1.5h-2zM102 110.8h2v1.5h-2zM102 108h2v1.3h-2zM104 161.7h2v1.5h-2zM104 160.2h2v1.5h-2zM104 157.2h2v1.5h-2zM104 155.7h2v1.5h-2zM104 152.7h2v1.5h-2zM104 148.2h2v1.5h-2zM104 137.7h2v1.5h-2zM104 133.2h2v1.5h-2zM104 128.7h2v1.5h-2zM104 125.7h2v1.5h-2zM104 124.2h2v1.5h-2zM104 119.7h2v1.5h-2zM104 109.2h2v1.5h-2zM106 155.7h2v1.5h-2zM106 148.2h2v1.5h-2zM106 146.7h2v1.5h-2zM106 142.2h2v1.5h-2zM106 140.7h2v1.5h-2zM106 139.2h2v1.5h-2zM106 136.2h2v1.5h-2zM106 134.7h2v1.5h-2zM106 133.2h2v1.5h-2zM106 131.7h2v1.5h-2zM106 130.2h2v1.5h-2zM106 127.2h2v1.5h-2zM106 125.7h2v1.5h-2zM106 124.2h2v1.5h-2zM106 122.7h2v1.5h-2zM106 121.2h2v1.5h-2zM106 119.7h2v1.5h-2zM106 116.7h2v1.5h-2zM106 115.2h2v1.5h-2zM106 110.7h2v1.5h-2zM108 152.6h2v1.5h-2zM108 145.1h2v1.5h-2zM108 143.6h2v1.5h-2zM108 137.6h2v1.5h-2zM108 136.1h2v1.5h-2zM108 134.6h2v1.5h-2zM108 133.1h2v1.5h-2zM108 131.6h2v1.5h-2zM108 128.6h2v1.5h-2zM108 127.1h2v1.5h-2zM108 125.6h2v1.5h-2zM108 122.6h2v1.5h-2zM108 121.1h2v1.5h-2zM108 119.6h2v1.5h-2zM108 115.1h2v1.5h-2zM108 113.6h2v1.5h-2zM108 110.6h2v1.5h-2zM108 108h2v1.1h-2zM110 157.1h2v1.5h-2zM110 151.1h2v1.5h-2zM110 148.1h2v1.5h-2zM110 146.6h2v1.5h-2zM110 145.1h2v1.5h-2zM110 143.6h2v1.5h-2zM110 142.1h2v1.5h-2zM110 140.6h2v1.5h-2zM110 139.1h2v1.5h-2zM110 137.6h2v1.5h-2zM110 134.6h2v1.5h-2zM110 131.6h2v1.5h-2zM110 130.1h2v1.5h-2zM110 128.6h2v1.5h-2zM110 127.1h2v1.5h-2zM110 125.6h2v1.5h-2zM110 122.6h2v1.5h-2zM110 121.1h2v1.5h-2zM110 119.6h2v1.5h-2zM110 116.6h2v1.5h-2zM110 115.1h2v1.5h-2zM110 112.1h2v1.5h-2zM110 110.6h2v1.5h-2zM110 108h2v1.1h-2zM112 152.5h2v1.5h-2zM112 146.5h2v1.5h-2zM112 145h2v1.5h-2zM112 143.5h2v1.5h-2zM112 142h2v1.5h-2zM112 140.5h2v1.5h-2zM112 134.5h2v1.5h-2zM112 133h2v1.5h-2zM112 131.5h2v1.5h-2zM112 128.5h2v1.5h-2zM112 127h2v1.5h-2zM112 125.5h2v1.5h-2zM112 124h2v1.5h-2zM112 122.5h2v1.5h-2zM112 119.5h2v1.5h-2zM112 116.5h2v1.5h-2zM112 113.5h2v1.5h-2zM112 112h2v1.5h-2zM112 110.5h2v1.5h-2zM112 109h2v1.5h-2zM112 108h2v1h-2zM114 152.5h2v1.5h-2zM114 151h2v1.5h-2zM114 149.5h2v1.5h-2zM114 148h2v1.5h-2zM114 146.5h2v1.5h-2zM114 143.5h2v1.5h-2zM114 142h2v1.5h-2zM114 140.5h2v1.5h-2zM114 139h2v1.5h-2zM114 137.5h2v1.5h-2zM114 136h2v1.5h-2zM114 131.5h2v1.5h-2zM114 130h2v1.5h-2zM114 128.5h2v1.5h-2zM114 125.5h2v1.5h-2zM114 124h2v1.5h-2zM114 122.5h2v1.5h-2zM114 121h2v1.5h-2zM114 119.5h2v1.5h-2zM114 118h2v1.5h-2zM114 116.5h2v1.5h-2zM114 115h2v1.5h-2zM114 110.5h2v1.5h-2zM114 109h2v1.5h-2zM116 156.9h2v1.5h-2zM116 152.4h2v1.5h-2zM116 149.4h2v1.5h-2zM116 147.9h2v1.5h-2zM116 146.4h2v1.5h-2zM116 144.9h2v1.5h-2zM116 143.4h2v1.5h-2zM116 141.9h2v1.5h-2zM116 137.4h2v1.5h-2zM116 134.4h2v1.5h-2zM116 129.9h2v1.5h-2zM116 125.4h2v1.5h-2zM116 122.4h2v1.5h-2zM116 120.9h2v1.5h-2zM116 111.9h2v1.5h-2zM116 110.4h2v1.5h-2zM116 108h2v0.9h-2zM118 152.3h2v1.5h-2zM118 147.8h2v1.5h-2zM118 144.8h2v1.5h-2zM118 140.3h2v1.5h-2zM118 138.8h2v1.5h-2zM118 137.3h2v1.5h-2zM118 135.8h2v1.5h-2zM118 134.3h2v1.5h-2zM118 132.8h2v1.5h-2zM118 131.3h2v1.5h-2zM118 128.3h2v1.5h-2zM118 126.8h2v1.5h-2zM118 125.3h2v1.5h-2zM118 123.8h2v1.5h-2zM118 122.3h2v1.5h-2zM118 120.8h2v1.5h-2zM118 119.3h2v1.5h-2zM118 117.8h2v1.5h-2zM118 116.3h2v1.5h-2zM118 114.8h2v1.5h-2zM118 113.3h2v1.5h-2zM118 110.3h2v1.5h-2zM118 108.8h2v1.5h-2zM118 108h2v0.8h-2zM120 152.3h2v1.5h-2zM120 150.8h2v1.5h-2zM120 147.8h2v1.5h-2zM120 143.3h2v1.5h-2zM120 141.8h2v1.5h-2zM120 140.3h2v1.5h-2zM120 138.8h2v1.5h-2zM120 137.3h2v1.5h-2zM120 135.8h2v1.5h-2zM120 134.3h2v1.5h-2zM120 132.8h2v1.5h-2zM120 131.3h2v1.5h-2zM120 129.8h2v1.5h-2zM120 126.8h2v1.5h-2zM120 123.8h2v1.5h-2zM120 122.3h2v1.5h-2zM120 119.3h2v1.5h-2zM120 117.8h2v1.5h-2zM120 116.3h2v1.5h-2zM120 114.8h2v1.5h-2zM120 113.3h2v1.5h-2zM120 111.8h2v1.5h-2zM120 108.8h2v1.5h-2zM120 108h2v0.8h-2zM122 150.7h2v1.5h-2zM122 149.2h2v1.5h-2zM122 144.7h2v1.5h-2zM122 143.2h2v1.5h-2zM122 138.7h2v1.5h-2zM122 137.2h2v1.5h-2zM122 135.7h2v1.5h-2zM122 134.2h2v1.5h-2zM122 132.7h2v1.5h-2zM122 131.2h2v1.5h-2zM122 129.7h2v1.5h-2zM122 128.2h2v1.5h-2zM122 126.7h2v1.5h-2zM122 125.2h2v1.5h-2zM122 123.7h2v1.5h-2zM122 122.2h2v1.5h-2zM122 119.2h2v1.5h-2zM122 117.7h2v1.5h-2zM122 116.2h2v1.5h-2zM122 114.7h2v1.5h-2zM122 113.2h2v1.5h-2zM122 110.2h2v1.5h-2zM122 108.7h2v1.5h-2zM122 108h2v0.7h-2zM124 149.2h2v1.5h-2zM124 146.2h2v1.5h-2zM124 141.7h2v1.5h-2zM124 140.2h2v1.5h-2zM124 135.7h2v1.5h-2zM124 134.2h2v1.5h-2zM124 132.7h2v1.5h-2zM124 131.2h2v1.5h-2zM124 129.7h2v1.5h-2zM124 128.2h2v1.5h-2zM124 126.7h2v1.5h-2zM124 125.2h2v1.5h-2zM124 123.7h2v1.5h-2zM124 120.7h2v1.5h-2zM124 119.2h2v1.5h-2zM124 117.7h2v1.5h-2zM124 113.2h2v1.5h-2zM124 111.7h2v1.5h-2zM124 110.2h2v1.5h-2zM124 108h2v0.7h-2zM126 150.6h2v1.5h-2zM126 147.6h2v1.5h-2zM126 143.1h2v1.5h-2zM126 138.6h2v1.5h-2zM126 135.6h2v1.5h-2zM126 132.6h2v1.5h-2zM126 131.1h2v1.5h-2zM126 129.6h2v1.5h-2zM126 128.1h2v1.5h-2zM126 120.6h2v1.5h-2zM126 119.1h2v1.5h-2zM126 117.6h2v1.5h-2zM126 116.1h2v1.5h-2zM126 114.6h2v1.5h-2zM126 113.1h2v1.5h-2zM126 111.6h2v1.5h-2zM126 110.1h2v1.5h-2zM126 108.6h2v1.5h-2zM126 108h2v0.6h-2zM128 155.1h2v1.5h-2zM128 152.1h2v1.5h-2zM128 146.1h2v1.5h-2zM128 141.6h2v1.5h-2zM128 140.1h2v1.5h-2zM128 138.6h2v1.5h-2zM128 135.6h2v1.5h-2zM128 134.1h2v1.5h-2zM128 132.6h2v1.5h-2zM128 129.6h2v1.5h-2zM128 126.6h2v1.5h-2zM128 123.6h2v1.5h-2zM128 122.1h2v1.5h-2zM128 120.6h2v1.5h-2zM128 119.1h2v1.5h-2zM128 117.6h2v1.5h-2zM128 110.1h2v1.5h-2zM128 108.6h2v1.5h-2zM128 108h2v0.6h-2zM130 158h2v1.5h-2zM130 156.5h2v1.5h-2zM130 152h2v1.5h-2zM130 149h2v1.5h-2zM130 146h2v1.5h-2zM130 144.5h2v1.5h-2zM130 140h2v1.5h-2zM130 135.5h2v1.5h-2zM130 134h2v1.5h-2zM130 131h2v1.5h-2zM130 128h2v1.5h-2zM130 126.5h2v1.5h-2zM130 125h2v1.5h-2zM130 122h2v1.5h-2zM130 117.5h2v1.5h-2zM130 116h2v1.5h-2zM130 113h2v1.5h-2zM130 111.5h2v1.5h-2zM130 108.5h2v1.5h-2zM132 159.5h2v1.5h-2zM132 155h2v1.5h-2zM132 152h2v1.5h-2zM132 150.5h2v1.5h-2zM132 146h2v1.5h-2zM132 144.5h2v1.5h-2zM132 140h2v1.5h-2zM132 134h2v1.5h-2zM132 132.5h2v1.5h-2zM132 126.5h2v1.5h-2zM132 123.5h2v1.5h-2zM132 119h2v1.5h-2zM134 153.4h2v1.5h-2zM134 145.9h2v1.5h-2zM134 144.4h2v1.5h-2zM134 141.4h2v1.5h-2zM134 135.4h2v1.5h-2zM134 132.4h2v1.5h-2zM134 130.9h2v1.5h-2zM134 129.4h2v1.5h-2zM134 127.9h2v1.5h-2zM134 126.4h2v1.5h-2zM134 123.4h2v1.5h-2zM134 121.9h2v1.5h-2zM134 118.9h2v1.5h-2zM134 117.4h2v1.5h-2zM134 115.9h2v1.5h-2zM134 114.4h2v1.5h-2zM134 112.9h2v1.5h-2zM134 111.4h2v1.5h-2zM134 109.9h2v1.5h-2zM134 108.4h2v1.5h-2zM134 108h2v0.4h-2zM136 145.9h2v1.5h-2zM136 142.9h2v1.5h-2zM136 141.4h2v1.5h-2zM136 138.4h2v1.5h-2zM136 136.9h2v1.5h-2zM136 135.4h2v1.5h-2zM136 133.9h2v1.5h-2zM136 132.4h2v1.5h-2zM136 130.9h2v1.5h-2zM136 129.4h2v1.5h-2zM136 126.4h2v1.5h-2zM136 123.4h2v1.5h-2zM136 121.9h2v1.5h-2zM136 115.9h2v1.5h-2zM136 112.9h2v1.5h-2zM136 111.4h2v1.5h-2zM138 156.3h2v1.5h-2zM138 153.3h2v1.5h-2zM138 142.8h2v1.5h-2zM138 141.3h2v1.5h-2zM138 139.8h2v1.5h-2zM138 138.3h2v1.5h-2zM138 136.8h2v1.5h-2zM138 135.3h2v1.5h-2zM138 132.3h2v1.5h-2zM138 130.8h2v1.5h-2zM138 129.3h2v1.5h-2zM138 127.8h2v1.5h-2zM138 126.3h2v1.5h-2zM138 124.8h2v1.5h-2zM138 121.8h2v1.5h-2zM138 120.3h2v1.5h-2zM138 118.8h2v1.5h-2zM138 115.8h2v1.5h-2zM138 114.3h2v1.5h-2zM138 109.8h2v1.5h-2zM138 108.3h2v1.5h-2zM138 108h2v0.3h-2zM140 150.2h2v1.5h-2zM140 139.7h2v1.5h-2zM140 138.2h2v1.5h-2zM140 136.7h2v1.5h-2zM140 135.2h2v1.5h-2zM140 133.7h2v1.5h-2zM140 132.2h2v1.5h-2zM140 129.2h2v1.5h-2zM140 126.2h2v1.5h-2zM140 124.7h2v1.5h-2zM140 120.2h2v1.5h-2zM140 118.7h2v1.5h-2zM140 115.7h2v1.5h-2zM140 114.2h2v1.5h-2zM140 112.7h2v1.5h-2zM140 111.2h2v1.5h-2zM140 109.7h2v1.5h-2zM140 108.2h2v1.5h-2zM140 108h2v0.2h-2zM142 153.2h2v1.5h-2zM142 151.7h2v1.5h-2zM142 150.2h2v1.5h-2zM142 148.7h2v1.5h-2zM142 147.2h2v1.5h-2zM142 145.7h2v1.5h-2zM142 144.2h2v1.5h-2zM142 142.7h2v1.5h-2zM142 141.2h2v1.5h-2zM142 139.7h2v1.5h-2zM142 136.7h2v1.5h-2zM142 129.2h2v1.5h-2zM142 126.2h2v1.5h-2zM142 121.7h2v1.5h-2zM142 120.2h2v1.5h-2zM142 117.2h2v1.5h-2zM142 111.2h2v1.5h-2zM142 108.2h2v1.5h-2zM144 151.6h2v1.5h-2zM144 141.1h2v1.5h-2zM144 139.6h2v1.5h-2zM144 138.1h2v1.5h-2zM144 136.6h2v1.5h-2zM144 133.6h2v1.5h-2zM144 130.6h2v1.5h-2zM144 123.1h2v1.5h-2zM144 121.6h2v1.5h-2zM144 120.1h2v1.5h-2zM144 118.6h2v1.5h-2zM144 115.6h2v1.5h-2zM144 112.6h2v1.5h-2zM144 109.6h2v1.5h-2zM144 108.1h2v1.5h-2zM144 108h2v0.1h-2zM146 151.6h2v1.5h-2zM146 150.1h2v1.5h-2zM146 138.1h2v1.5h-2zM146 135.1h2v1.5h-2zM146 129.1h2v1.5h-2zM146 127.6h2v1.5h-2zM146 124.6h2v1.5h-2zM146 121.6h2v1.5h-2zM146 115.6h2v1.5h-2zM146 114.1h2v1.5h-2zM146 112.6h2v1.5h-2zM146 111.1h2v1.5h-2zM146 109.6h2v1.5h-2zM146 108.1h2v1.5h-2zM148 147h2v1.5h-2zM148 144h2v1.5h-2zM148 141h2v1.5h-2zM148 139.5h2v1.5h-2zM148 136.5h2v1.5h-2zM148 135h2v1.5h-2zM148 133.5h2v1.5h-2zM148 130.5h2v1.5h-2zM148 127.5h2v1.5h-2zM148 126h2v1.5h-2zM148 124.5h2v1.5h-2zM148 118.5h2v1.5h-2zM148 117h2v1.5h-2zM148 115.5h2v1.5h-2zM148 114h2v1.5h-2zM148 112.5h2v1.5h-2zM148 111h2v1.5h-2zM148 109.5h2v1.5h-2zM148 108h2v1.5h-2zM148 108h2v0h-2zM150 153h2v1.5h-2zM150 150h2v1.5h-2zM150 144h2v1.5h-2zM150 142.5h2v1.5h-2zM150 141h2v1.5h-2zM150 139.5h2v1.5h-2zM150 138h2v1.5h-2zM150 136.5h2v1.5h-2zM150 133.5h2v1.5h-2zM150 130.5h2v1.5h-2zM150 129h2v1.5h-2zM150 127.5h2v1.5h-2zM150 126h2v1.5h-2zM150 124.5h2v1.5h-2zM150 123h2v1.5h-2zM150 120h2v1.5h-2zM150 118.5h2v1.5h-2zM150 117h2v1.5h-2zM150 115.5h2v1.5h-2zM150 114h2v1.5h-2zM150 112.5h2v1.5h-2zM150 111h2v1.5h-2zM150 109.5h2v1.5h-2zM150 108h2v1.5h-2zM152 152.9h2v1.5h-2zM152 151.4h2v1.5h-2zM152 146.9h2v1.5h-2zM152 145.4h2v1.5h-2zM152 142.4h2v1.5h-2zM152 140.9h2v1.5h-2zM152 139.4h2v1.5h-2zM152 137.9h2v1.5h-2zM152 134.9h2v1.5h-2zM152 130.4h2v1.5h-2zM152 128.9h2v1.5h-2zM152 127.4h2v1.5h-2zM152 125.9h2v1.5h-2zM152 124.4h2v1.5h-2zM152 122.9h2v1.5h-2zM152 121.4h2v1.5h-2zM152 119.9h2v1.5h-2zM152 116.9h2v1.5h-2zM152 115.4h2v1.5h-2zM152 112.4h2v1.5h-2zM152 110.9h2v1.5h-2zM154 142.3h2v1.5h-2zM154 136.3h2v1.5h-2zM154 127.3h2v1.5h-2zM154 125.8h2v1.5h-2zM154 124.3h2v1.5h-2zM154 122.8h2v1.5h-2zM154 121.3h2v1.5h-2zM154 119.8h2v1.5h-2zM154 118.3h2v1.5h-2zM154 115.3h2v1.5h-2zM154 112.3h2v1.5h-2zM154 110.8h2v1.5h-2zM154 109.3h2v1.5h-2zM156 137.7h2v1.5h-2zM156 134.7h2v1.5h-2zM156 133.2h2v1.5h-2zM156 130.2h2v1.5h-2zM156 125.7h2v1.5h-2zM156 124.2h2v1.5h-2zM156 122.7h2v1.5h-2zM156 121.2h2v1.5h-2zM156 119.7h2v1.5h-2zM156 115.2h2v1.5h-2zM156 112.2h2v1.5h-2zM156 110.7h2v1.5h-2zM156 109.2h2v1.5h-2zM158 142.1h2v1.5h-2zM158 137.6h2v1.5h-2zM158 136.1h2v1.5h-2zM158 134.6h2v1.5h-2zM158 133.1h2v1.5h-2zM158 121.1h2v1.5h-2zM158 112.1h2v1.5h-2zM158 110.6h2v1.5h-2zM158 109.1h2v1.5h-2zM160 148h2v1.5h-2zM160 146.5h2v1.5h-2zM160 143.5h2v1.5h-2zM160 139h2v1.5h-2zM160 137.5h2v1.5h-2zM160 134.5h2v1.5h-2zM160 133h2v1.5h-2zM160 131.5h2v1.5h-2zM160 128.5h2v1.5h-2zM160 127h2v1.5h-2zM160 125.5h2v1.5h-2zM160 124h2v1.5h-2zM160 122.5h2v1.5h-2zM160 121h2v1.5h-2zM160 119.5h2v1.5h-2zM160 118h2v1.5h-2zM160 116.5h2v1.5h-2zM160 115h2v1.5h-2zM160 113.5h2v1.5h-2zM160 112h2v1.5h-2zM160 110.5h2v1.5h-2zM160 109h2v1.5h-2zM162 147.9h2v1.5h-2zM162 143.4h2v1.5h-2zM162 141.9h2v1.5h-2zM162 140.4h2v1.5h-2zM162 137.4h2v1.5h-2zM162 132.9h2v1.5h-2zM162 131.4h2v1.5h-2zM162 129.9h2v1.5h-2zM162 128.4h2v1.5h-2zM162 125.4h2v1.5h-2zM162 122.4h2v1.5h-2zM162 120.9h2v1.5h-2zM162 119.4h2v1.5h-2zM162 117.9h2v1.5h-2zM162 116.4h2v1.5h-2zM162 111.9h2v1.5h-2zM162 110.4h2v1.5h-2zM162 108.9h2v1.5h-2zM162 108h2v0.9h-2zM164 141.8h2v1.5h-2zM164 135.8h2v1.5h-2zM164 132.8h2v1.5h-2zM164 129.8h2v1.5h-2zM164 128.3h2v1.5h-2zM164 126.8h2v1.5h-2zM164 125.3h2v1.5h-2zM164 122.3h2v1.5h-2zM164 120.8h2v1.5h-2zM164 114.8h2v1.5h-2zM164 113.3h2v1.5h-2zM164 111.8h2v1.5h-2zM164 110.3h2v1.5h-2zM164 108.8h2v1.5h-2zM164 108h2v0.8h-2zM166 155.2h2v1.5h-2zM166 152.2h2v1.5h-2zM166 150.7h2v1.5h-2zM166 147.7h2v1.5h-2zM166 144.7h2v1.5h-2zM166 143.2h2v1.5h-2zM166 141.7h2v1.5h-2zM166 140.2h2v1.5h-2zM166 138.7h2v1.5h-2zM166 137.2h2v1.5h-2zM166 135.7h2v1.5h-2zM166 134.2h2v1.5h-2zM166 131.2h2v1.5h-2zM166 129.7h2v1.5h-2zM166 128.2h2v1.5h-2zM166 125.2h2v1.5h-2zM166 123.7h2v1.5h-2zM166 119.2h2v1.5h-2zM166 117.7h2v1.5h-2zM166 116.2h2v1.5h-2zM166 113.2h2v1.5h-2zM166 110.2h2v1.5h-2zM168 144.6h2v1.5h-2zM168 138.6h2v1.5h-2zM168 129.6h2v1.5h-2zM168 126.6h2v1.5h-2zM168 125.1h2v1.5h-2zM168 123.6h2v1.5h-2zM168 116.1h2v1.5h-2zM168 114.6h2v1.5h-2zM168 113.1h2v1.5h-2zM168 110.1h2v1.5h-2zM168 108h2v0.6h-2zM170 150.5h2v1.5h-2zM170 147.5h2v1.5h-2zM170 146h2v1.5h-2zM170 141.5h2v1.5h-2zM170 137h2v1.5h-2zM170 134h2v1.5h-2zM170 132.5h2v1.5h-2zM170 131h2v1.5h-2zM170 128h2v1.5h-2zM170 126.5h2v1.5h-2zM170 125h2v1.5h-2zM170 123.5h2v1.5h-2zM170 122h2v1.5h-2zM170 120.5h2v1.5h-2zM170 119h2v1.5h-2zM170 117.5h2v1.5h-2zM170 116h2v1.5h-2zM170 114.5h2v1.5h-2zM170 111.5h2v1.5h-2zM170 110h2v1.5h-2zM170 108.5h2v1.5h-2zM170 108h2v0.5h-2zM172 133.9h2v1.5h-2zM172 127.9h2v1.5h-2zM172 126.4h2v1.5h-2zM172 118.9h2v1.5h-2zM172 115.9h2v1.5h-2zM172 111.4h2v1.5h-2zM172 108.4h2v1.5h-2zM172 108h2v0.4h-2zM174 139.8h2v1.5h-2zM174 127.8h2v1.5h-2zM174 126.3h2v1.5h-2zM174 123.3h2v1.5h-2zM174 120.3h2v1.5h-2zM174 117.3h2v1.5h-2zM174 114.3h2v1.5h-2zM174 112.8h2v1.5h-2zM174 111.3h2v1.5h-2zM174 108.3h2v1.5h-2zM174 108h2v0.3h-2zM176 141.2h2v1.5h-2zM176 138.2h2v1.5h-2zM176 129.2h2v1.5h-2zM176 124.7h2v1.5h-2zM176 121.7h2v1.5h-2zM176 120.2h2v1.5h-2zM176 118.7h2v1.5h-2zM176 117.2h2v1.5h-2zM176 111.2h2v1.5h-2zM176 109.7h2v1.5h-2zM176 108.2h2v1.5h-2zM176 108h2v0.2h-2zM178 136.6h2v1.5h-2zM178 130.6h2v1.5h-2zM178 129.1h2v1.5h-2zM178 127.6h2v1.5h-2zM178 123.1h2v1.5h-2zM178 121.6h2v1.5h-2zM178 120.1h2v1.5h-2zM178 118.6h2v1.5h-2zM178 117.1h2v1.5h-2zM178 115.6h2v1.5h-2zM178 114.1h2v1.5h-2zM178 111.1h2v1.5h-2zM178 108h2v0.1h-2zM180 148.5h2v1.5h-2zM180 145.5h2v1.5h-2zM180 139.5h2v1.5h-2zM180 136.5h2v1.5h-2zM180 133.5h2v1.5h-2zM180 130.5h2v1.5h-2zM180 129h2v1.5h-2zM180 127.5h2v1.5h-2zM180 126h2v1.5h-2zM180 123h2v1.5h-2zM180 121.5h2v1.5h-2zM180 120h2v1.5h-2zM180 118.5h2v1.5h-2zM180 117h2v1.5h-2zM180 112.5h2v1.5h-2zM180 111h2v1.5h-2zM182 137.9h2v1.5h-2zM182 136.4h2v1.5h-2zM182 133.4h2v1.5h-2zM182 119.9h2v1.5h-2zM182 115.4h2v1.5h-2zM182 112.4h2v1.5h-2zM182 110.9h2v1.5h-2zM184 134.8h2v1.5h-2zM184 125.8h2v1.5h-2zM184 122.8h2v1.5h-2zM184 121.3h2v1.5h-2zM184 119.8h2v1.5h-2zM184 118.3h2v1.5h-2zM184 116.8h2v1.5h-2zM184 113.8h2v1.5h-2zM184 112.3h2v1.5h-2zM184 110.8h2v1.5h-2zM186 142.2h2v1.5h-2zM186 140.7h2v1.5h-2zM186 131.7h2v1.5h-2zM186 130.2h2v1.5h-2zM186 128.7h2v1.5h-2zM186 127.2h2v1.5h-2zM186 122.7h2v1.5h-2zM186 121.2h2v1.5h-2zM186 119.7h2v1.5h-2zM186 118.2h2v1.5h-2zM186 116.7h2v1.5h-2zM186 115.2h2v1.5h-2zM186 113.7h2v1.5h-2zM186 112.2h2v1.5h-2zM186 109.2h2v1.5h-2zM186 108h2v1.2h-2zM188 134.6h2v1.5h-2zM188 133.1h2v1.5h-2zM188 127.1h2v1.5h-2zM188 124.1h2v1.5h-2zM188 122.6h2v1.5h-2zM188 119.6h2v1.5h-2zM188 118.1h2v1.5h-2zM188 115.1h2v1.5h-2zM188 113.6h2v1.5h-2zM188 112.1h2v1.5h-2zM188 110.6h2v1.5h-2zM188 109.1h2v1.5h-2zM188 108h2v1.1h-2zM190 149.5h2v1.5h-2zM190 145h2v1.5h-2zM190 140.5h2v1.5h-2zM190 139h2v1.5h-2zM190 134.5h2v1.5h-2zM190 133h2v1.5h-2zM190 131.5h2v1.5h-2zM190 128.5h2v1.5h-2zM190 127h2v1.5h-2zM190 125.5h2v1.5h-2zM190 124h2v1.5h-2zM190 122.5h2v1.5h-2zM190 121h2v1.5h-2zM190 119.5h2v1.5h-2zM190 118h2v1.5h-2zM190 116.5h2v1.5h-2zM190 115h2v1.5h-2zM190 113.5h2v1.5h-2zM190 110.5h2v1.5h-2zM190 108h2v1h-2zM192 144.9h2v1.5h-2zM192 135.9h2v1.5h-2zM192 132.9h2v1.5h-2zM192 131.4h2v1.5h-2zM192 128.4h2v1.5h-2zM192 125.4h2v1.5h-2zM192 123.9h2v1.5h-2zM192 122.4h2v1.5h-2zM192 119.4h2v1.5h-2zM192 110.4h2v1.5h-2zM192 108.9h2v1.5h-2zM192 108h2v0.9h-2zM194 143.3h2v1.5h-2zM194 141.8h2v1.5h-2zM194 140.3h2v1.5h-2zM194 137.3h2v1.5h-2zM194 134.3h2v1.5h-2zM194 132.8h2v1.5h-2zM194 128.3h2v1.5h-2zM194 126.8h2v1.5h-2zM194 125.3h2v1.5h-2zM194 123.8h2v1.5h-2zM194 122.3h2v1.5h-2zM194 120.8h2v1.5h-2zM194 119.3h2v1.5h-2zM194 116.3h2v1.5h-2zM194 113.3h2v1.5h-2zM194 111.8h2v1.5h-2zM194 110.3h2v1.5h-2zM194 108.8h2v1.5h-2zM194 108h2v0.8h-2zM196 137.2h2v1.5h-2zM196 134.2h2v1.5h-2zM196 132.7h2v1.5h-2zM196 131.2h2v1.5h-2zM196 128.2h2v1.5h-2zM196 126.7h2v1.5h-2zM196 123.7h2v1.5h-2zM196 122.2h2v1.5h-2zM196 116.2h2v1.5h-2zM196 110.2h2v1.5h-2zM198 143.1h2v1.5h-2zM198 138.6h2v1.5h-2zM198 135.6h2v1.5h-2zM198 134.1h2v1.5h-2zM198 132.6h2v1.5h-2zM198 131.1h2v1.5h-2zM198 128.1h2v1.5h-2zM198 123.6h2v1.5h-2zM198 119.1h2v1.5h-2zM198 117.6h2v1.5h-2zM198 116.1h2v1.5h-2zM198 114.6h2v1.5h-2zM198 113.1h2v1.5h-2zM198 110.1h2v1.5h-2zM198 108.6h2v1.5h-2zM198 108h2v0.6h-2zM200 138.5h2v1.5h-2zM200 137h2v1.5h-2zM200 135.5h2v1.5h-2zM200 134h2v1.5h-2zM200 131h2v1.5h-2zM200 129.5h2v1.5h-2zM200 126.5h2v1.5h-2zM200 123.5h2v1.5h-2zM200 122h2v1.5h-2zM200 120.5h2v1.5h-2zM200 119h2v1.5h-2zM200 116h2v1.5h-2zM200 113h2v1.5h-2zM200 111.5h2v1.5h-2zM200 110h2v1.5h-2zM200 108h2v0.5h-2zM202 156.4h2v1.5h-2zM202 153.4h2v1.5h-2zM202 150.4h2v1.5h-2zM202 145.9h2v1.5h-2zM202 144.4h2v1.5h-2zM202 142.9h2v1.5h-2zM202 141.4h2v1.5h-2zM202 139.9h2v1.5h-2zM202 138.4h2v1.5h-2zM202 136.9h2v1.5h-2zM202 135.4h2v1.5h-2zM202 132.4h2v1.5h-2zM202 129.4h2v1.5h-2zM202 127.9h2v1.5h-2zM202 121.9h2v1.5h-2zM202 120.4h2v1.5h-2zM202 117.4h2v1.5h-2zM202 115.9h2v1.5h-2zM202 114.4h2v1.5h-2zM202 112.9h2v1.5h-2zM202 111.4h2v1.5h-2zM202 108.4h2v1.5h-2zM202 108h2v0.4h-2zM204 133.7h2v1.5h-2zM204 130.7h2v1.5h-2zM204 127.7h2v1.5h-2zM204 126.2h2v1.5h-2zM204 124.7h2v1.5h-2zM204 123.2h2v1.5h-2zM204 118.7h2v1.5h-2zM204 115.7h2v1.5h-2zM204 114.2h2v1.5h-2zM204 111.2h2v1.5h-2zM204 108.2h2v1.5h-2zM204 108h2v0.2h-2zM206 138.1h2v1.5h-2zM206 135.1h2v1.5h-2zM206 132.1h2v1.5h-2zM206 129.1h2v1.5h-2zM206 127.6h2v1.5h-2zM206 126.1h2v1.5h-2zM206 118.6h2v1.5h-2zM206 117.1h2v1.5h-2zM206 109.6h2v1.5h-2zM208 138h2v1.5h-2zM208 129h2v1.5h-2zM208 126h2v1.5h-2zM208 124.5h2v1.5h-2zM208 118.5h2v1.5h-2zM208 115.5h2v1.5h-2zM208 114h2v1.5h-2zM208 112.5h2v1.5h-2zM208 111h2v1.5h-2zM208 109.5h2v1.5h-2zM210 152.9h2v1.5h-2zM210 145.4h2v1.5h-2zM210 143.9h2v1.5h-2zM210 142.4h2v1.5h-2zM210 140.9h2v1.5h-2zM210 139.4h2v1.5h-2zM210 137.9h2v1.5h-2zM210 136.4h2v1.5h-2zM210 134.9h2v1.5h-2zM210 130.4h2v1.5h-2zM210 128.9h2v1.5h-2zM210 127.4h2v1.5h-2zM210 125.9h2v1.5h-2zM210 118.4h2v1.5h-2zM210 116.9h2v1.5h-2zM210 115.4h2v1.5h-2zM210 113.9h2v1.5h-2zM210 109.4h2v1.5h-2zM212 140.7h2v1.5h-2zM212 139.2h2v1.5h-2zM212 134.7h2v1.5h-2zM212 131.7h2v1.5h-2zM212 125.7h2v1.5h-2zM212 124.2h2v1.5h-2zM212 121.2h2v1.5h-2zM212 119.7h2v1.5h-2zM212 118.2h2v1.5h-2zM212 116.7h2v1.5h-2zM212 115.2h2v1.5h-2zM212 112.2h2v1.5h-2zM212 110.7h2v1.5h-2zM214 136.1h2v1.5h-2zM214 134.6h2v1.5h-2zM214 131.6h2v1.5h-2zM214 125.6h2v1.5h-2zM214 124.1h2v1.5h-2zM214 122.6h2v1.5h-2zM214 121.1h2v1.5h-2zM214 118.1h2v1.5h-2zM214 116.6h2v1.5h-2zM214 113.6h2v1.5h-2zM214 109.1h2v1.5h-2zM214 108h2v1.1h-2zM216 142h2v1.5h-2zM216 131.5h2v1.5h-2zM216 125.5h2v1.5h-2zM216 124h2v1.5h-2zM216 121h2v1.5h-2zM216 115h2v1.5h-2zM216 113.5h2v1.5h-2zM216 112h2v1.5h-2zM216 110.5h2v1.5h-2zM218 135.8h2v1.5h-2zM218 132.8h2v1.5h-2zM218 131.3h2v1.5h-2zM218 129.8h2v1.5h-2zM218 128.3h2v1.5h-2zM218 126.8h2v1.5h-2zM218 125.3h2v1.5h-2zM218 123.8h2v1.5h-2zM218 122.3h2v1.5h-2zM218 120.8h2v1.5h-2zM218 119.3h2v1.5h-2zM218 117.8h2v1.5h-2zM218 114.8h2v1.5h-2zM218 111.8h2v1.5h-2zM218 110.3h2v1.5h-2zM218 108h2v0.8h-2zM220 140.2h2v1.5h-2zM220 135.7h2v1.5h-2zM220 134.2h2v1.5h-2zM220 125.2h2v1.5h-2zM220 123.7h2v1.5h-2zM220 117.7h2v1.5h-2zM220 116.2h2v1.5h-2zM220 111.7h2v1.5h-2zM220 110.2h2v1.5h-2zM220 108.7h2v1.5h-2zM220 108h2v0.7h-2zM222 135.6h2v1.5h-2zM222 131.1h2v1.5h-2zM222 129.6h2v1.5h-2zM222 128.1h2v1.5h-2zM222 126.6h2v1.5h-2zM222 125.1h2v1.5h-2zM222 123.6h2v1.5h-2zM222 119.1h2v1.5h-2zM222 117.6h2v1.5h-2zM222 116.1h2v1.5h-2zM222 114.6h2v1.5h-2zM222 110.1h2v1.5h-2zM224 135.5h2v1.5h-2zM224 129.5h2v1.5h-2zM224 125h2v1.5h-2zM224 123.5h2v1.5h-2zM224 122h2v1.5h-2zM224 120.5h2v1.5h-2zM224 117.5h2v1.5h-2zM224 116h2v1.5h-2zM224 113h2v1.5h-2zM224 111.5h2v1.5h-2zM224 110h2v1.5h-2zM226 145.8h2v1.5h-2zM226 144.3h2v1.5h-2zM226 138.3h2v1.5h-2zM226 136.8h2v1.5h-2zM226 135.3h2v1.5h-2zM226 133.8h2v1.5h-2zM226 132.3h2v1.5h-2zM226 129.3h2v1.5h-2zM226 127.8h2v1.5h-2zM226 126.3h2v1.5h-2zM226 124.8h2v1.5h-2zM226 123.3h2v1.5h-2zM226 121.8h2v1.5h-2zM226 120.3h2v1.5h-2zM226 117.3h2v1.5h-2zM226 112.8h2v1.5h-2zM226 111.3h2v1.5h-2zM226 109.8h2v1.5h-2zM226 108h2v0.3h-2zM228 135.2h2v1.5h-2zM228 133.7h2v1.5h-2zM228 126.2h2v1.5h-2zM228 124.7h2v1.5h-2zM228 121.7h2v1.5h-2zM228 117.2h2v1.5h-2zM228 115.7h2v1.5h-2zM228 114.2h2v1.5h-2zM228 112.7h2v1.5h-2zM228 108.2h2v1.5h-2zM228 108h2v0.2h-2zM230 142.6h2v1.5h-2zM230 138.1h2v1.5h-2zM230 136.6h2v1.5h-2zM230 135.1h2v1.5h-2zM230 133.6h2v1.5h-2zM230 132.1h2v1.5h-2zM230 129.1h2v1.5h-2zM230 127.6h2v1.5h-2zM230 124.6h2v1.5h-2zM230 121.6h2v1.5h-2zM230 114.1h2v1.5h-2zM230 112.6h2v1.5h-2zM230 109.6h2v1.5h-2zM232 149.9h2v1.5h-2zM232 148.4h2v1.5h-2zM232 145.4h2v1.5h-2zM232 143.9h2v1.5h-2zM232 142.4h2v1.5h-2zM232 140.9h2v1.5h-2zM232 137.9h2v1.5h-2zM232 136.4h2v1.5h-2zM232 133.4h2v1.5h-2zM232 131.9h2v1.5h-2zM232 130.4h2v1.5h-2zM232 127.4h2v1.5h-2zM232 125.9h2v1.5h-2zM232 124.4h2v1.5h-2zM232 122.9h2v1.5h-2zM232 121.4h2v1.5h-2zM232 118.4h2v1.5h-2zM232 110.9h2v1.5h-2zM232 108h2v1.4h-2zM234 134.8h2v1.5h-2zM234 131.8h2v1.5h-2zM234 130.3h2v1.5h-2zM234 127.3h2v1.5h-2zM234 125.8h2v1.5h-2zM234 124.3h2v1.5h-2zM234 122.8h2v1.5h-2zM234 118.3h2v1.5h-2zM234 116.8h2v1.5h-2zM234 113.8h2v1.5h-2zM234 112.3h2v1.5h-2zM234 109.3h2v1.5h-2zM236 146.7h2v1.5h-2zM236 143.7h2v1.5h-2zM236 140.7h2v1.5h-2zM236 139.2h2v1.5h-2zM236 136.2h2v1.5h-2zM236 133.2h2v1.5h-2zM236 130.2h2v1.5h-2zM236 125.7h2v1.5h-2zM236 124.2h2v1.5h-2zM236 122.7h2v1.5h-2zM236 121.2h2v1.5h-2zM236 119.7h2v1.5h-2zM236 118.2h2v1.5h-2zM236 116.7h2v1.5h-2zM236 115.2h2v1.5h-2zM236 113.7h2v1.5h-2zM236 112.2h2v1.5h-2zM236 110.7h2v1.5h-2zM236 108h2v1.2h-2zM238 136h2v1.5h-2zM238 127h2v1.5h-2zM238 125.5h2v1.5h-2zM238 124h2v1.5h-2zM238 122.5h2v1.5h-2zM238 121h2v1.5h-2zM238 119.5h2v1.5h-2zM238 118h2v1.5h-2zM238 115h2v1.5h-2zM238 113.5h2v1.5h-2zM238 112h2v1.5h-2zM238 109h2v1.5h-2zM238 108h2v1h-2zM240 138.9h2v1.5h-2zM240 129.9h2v1.5h-2zM240 128.4h2v1.5h-2zM240 120.9h2v1.5h-2zM240 116.4h2v1.5h-2zM240 113.4h2v1.5h-2zM240 111.9h2v1.5h-2zM240 110.4h2v1.5h-2zM240 108.9h2v1.5h-2zM240 108h2v0.9h-2zM242 134.3h2v1.5h-2zM242 129.8h2v1.5h-2zM242 126.8h2v1.5h-2zM242 125.3h2v1.5h-2zM242 123.8h2v1.5h-2zM242 116.3h2v1.5h-2zM242 111.8h2v1.5h-2zM242 110.3h2v1.5h-2zM242 108.8h2v1.5h-2zM244 128.2h2v1.5h-2zM244 123.7h2v1.5h-2zM244 122.2h2v1.5h-2zM244 119.2h2v1.5h-2zM244 116.2h2v1.5h-2zM244 114.7h2v1.5h-2zM244 113.2h2v1.5h-2zM244 111.7h2v1.5h-2zM244 110.2h2v1.5h-2zM244 108h2v0.7h-2zM246 122h2v1.5h-2zM246 120.5h2v1.5h-2zM246 119h2v1.5h-2zM246 116h2v1.5h-2zM246 111.5h2v1.5h-2zM246 110h2v1.5h-2zM246 108h2v0.5h-2zM248 135.4h2v1.5h-2zM248 132.4h2v1.5h-2zM248 124.9h2v1.5h-2zM248 123.4h2v1.5h-2zM248 121.9h2v1.5h-2zM248 114.4h2v1.5h-2zM248 109.9h2v1.5h-2zM248 108.4h2v1.5h-2zM248 108h2v0.4h-2zM250 139.8h2v1.5h-2zM250 133.8h2v1.5h-2zM250 132.3h2v1.5h-2zM250 129.3h2v1.5h-2zM250 124.8h2v1.5h-2zM250 123.3h2v1.5h-2zM250 121.8h2v1.5h-2zM250 120.3h2v1.5h-2zM250 118.8h2v1.5h-2zM250 115.8h2v1.5h-2zM250 114.3h2v1.5h-2zM250 112.8h2v1.5h-2zM250 108.3h2v1.5h-2zM250 108h2v0.3h-2zM252 142.6h2v1.5h-2zM252 141.1h2v1.5h-2zM252 135.1h2v1.5h-2zM252 132.1h2v1.5h-2zM252 127.6h2v1.5h-2zM252 126.1h2v1.5h-2zM252 124.6h2v1.5h-2zM252 121.6h2v1.5h-2zM252 115.6h2v1.5h-2zM252 112.6h2v1.5h-2zM252 111.1h2v1.5h-2zM252 109.6h2v1.5h-2zM252 108.1h2v1.5h-2zM254 139.5h2v1.5h-2zM254 132h2v1.5h-2zM254 129h2v1.5h-2zM254 127.5h2v1.5h-2zM254 126h2v1.5h-2zM254 120h2v1.5h-2zM254 118.5h2v1.5h-2zM254 112.5h2v1.5h-2zM254 111h2v1.5h-2zM254 109.5h2v1.5h-2zM254 108h2v1.5h-2zM254 108h2v0h-2zM256 136.4h2v1.5h-2zM256 130.4h2v1.5h-2zM256 125.9h2v1.5h-2zM256 124.4h2v1.5h-2zM256 122.9h2v1.5h-2zM256 118.4h2v1.5h-2zM256 116.9h2v1.5h-2zM256 115.4h2v1.5h-2zM256 109.4h2v1.5h-2zM256 108h2v1.4h-2zM258 131.8h2v1.5h-2zM258 124.3h2v1.5h-2zM258 118.3h2v1.5h-2zM258 116.8h2v1.5h-2zM258 115.3h2v1.5h-2zM258 113.8h2v1.5h-2zM258 112.3h2v1.5h-2zM258 110.8h2v1.5h-2zM258 108h2v1.3h-2zM260 128.6h2v1.5h-2zM260 124.1h2v1.5h-2zM260 118.1h2v1.5h-2zM260 115.1h2v1.5h-2zM260 113.6h2v1.5h-2zM260 108h2v1.1h-2zM262 130h2v1.5h-2zM262 128.5h2v1.5h-2zM262 122.5h2v1.5h-2zM262 121h2v1.5h-2zM262 115h2v1.5h-2zM262 113.5h2v1.5h-2zM262 110.5h2v1.5h-2zM262 109h2v1.5h-2zM262 108h2v1h-2zM264 126.9h2v1.5h-2zM264 125.4h2v1.5h-2zM264 123.9h2v1.5h-2zM264 119.4h2v1.5h-2zM264 111.9h2v1.5h-2zM264 110.4h2v1.5h-2zM264 108.9h2v1.5h-2zM264 108h2v0.9h-2zM266 132.7h2v1.5h-2zM266 131.2h2v1.5h-2zM266 128.2h2v1.5h-2zM266 123.7h2v1.5h-2zM266 122.2h2v1.5h-2zM266 120.7h2v1.5h-2zM266 114.7h2v1.5h-2zM266 113.2h2v1.5h-2zM266 111.7h2v1.5h-2zM266 110.2h2v1.5h-2zM266 108.7h2v1.5h-2zM266 108h2v0.7h-2zM268 135.6h2v1.5h-2zM268 128.1h2v1.5h-2zM268 126.6h2v1.5h-2zM268 120.6h2v1.5h-2zM268 117.6h2v1.5h-2zM268 116.1h2v1.5h-2zM268 114.6h2v1.5h-2zM268 113.1h2v1.5h-2zM268 111.6h2v1.5h-2zM268 108h2v0.6h-2zM270 145.9h2v1.5h-2zM270 139.9h2v1.5h-2zM270 135.4h2v1.5h-2zM270 133.9h2v1.5h-2zM270 132.4h2v1.5h-2zM270 130.9h2v1.5h-2zM270 127.9h2v1.5h-2zM270 124.9h2v1.5h-2zM270 121.9h2v1.5h-2zM270 120.4h2v1.5h-2zM270 117.4h2v1.5h-2zM270 112.9h2v1.5h-2zM270 108.4h2v1.5h-2zM272 136.8h2v1.5h-2zM272 130.8h2v1.5h-2zM272 129.3h2v1.5h-2zM272 126.3h2v1.5h-2zM272 124.8h2v1.5h-2zM272 123.3h2v1.5h-2zM272 121.8h2v1.5h-2zM272 120.3h2v1.5h-2zM272 118.8h2v1.5h-2zM272 112.8h2v1.5h-2zM272 111.3h2v1.5h-2zM272 108h2v0.3h-2zM274 148.7h2v1.5h-2zM274 141.2h2v1.5h-2zM274 136.7h2v1.5h-2zM274 135.2h2v1.5h-2zM274 133.7h2v1.5h-2zM274 132.2h2v1.5h-2zM274 130.7h2v1.5h-2zM274 129.2h2v1.5h-2zM274 126.2h2v1.5h-2zM274 118.7h2v1.5h-2zM274 117.2h2v1.5h-2zM274 114.2h2v1.5h-2zM274 112.7h2v1.5h-2zM274 108h2v0.2h-2zM276 138h2v1.5h-2zM276 136.5h2v1.5h-2zM276 133.5h2v1.5h-2zM276 127.5h2v1.5h-2zM276 126h2v1.5h-2zM276 124.5h2v1.5h-2zM276 123h2v1.5h-2zM276 121.5h2v1.5h-2zM276 118.5h2v1.5h-2zM276 117h2v1.5h-2zM276 114h2v1.5h-2zM276 112.5h2v1.5h-2zM276 109.5h2v1.5h-2zM276 108h2v1.5h-2zM278 134.9h2v1.5h-2zM278 131.9h2v1.5h-2zM278 130.4h2v1.5h-2zM278 128.9h2v1.5h-2zM278 121.4h2v1.5h-2zM278 116.9h2v1.5h-2zM278 113.9h2v1.5h-2zM278 112.4h2v1.5h-2zM278 110.9h2v1.5h-2zM278 108h2v1.4h-2zM280 128.7h2v1.5h-2zM280 121.2h2v1.5h-2zM280 119.7h2v1.5h-2zM280 116.7h2v1.5h-2zM280 113.7h2v1.5h-2zM280 112.2h2v1.5h-2zM280 110.7h2v1.5h-2zM280 109.2h2v1.5h-2zM282 149.6h2v1.5h-2zM282 148.1h2v1.5h-2zM282 139.1h2v1.5h-2zM282 137.6h2v1.5h-2zM282 131.6h2v1.5h-2zM282 130.1h2v1.5h-2zM282 128.6h2v1.5h-2zM282 127.1h2v1.5h-2zM282 124.1h2v1.5h-2zM282 118.1h2v1.5h-2zM282 115.1h2v1.5h-2zM282 110.6h2v1.5h-2zM282 109.1h2v1.5h-2zM284 133h2v1.5h-2zM284 124h2v1.5h-2zM284 122.5h2v1.5h-2zM284 121h2v1.5h-2zM284 119.5h2v1.5h-2zM284 118h2v1.5h-2zM284 113.5h2v1.5h-2zM284 112h2v1.5h-2zM284 110.5h2v1.5h-2zM284 109h2v1.5h-2zM284 108h2v1h-2zM286 135.8h2v1.5h-2zM286 128.3h2v1.5h-2zM286 122.3h2v1.5h-2zM286 120.8h2v1.5h-2zM286 119.3h2v1.5h-2zM286 117.8h2v1.5h-2zM286 113.3h2v1.5h-2zM286 111.8h2v1.5h-2zM286 110.3h2v1.5h-2zM286 108h2v0.8h-2zM288 131.2h2v1.5h-2zM288 128.2h2v1.5h-2zM288 122.2h2v1.5h-2zM288 114.7h2v1.5h-2zM288 113.2h2v1.5h-2zM288 110.2h2v1.5h-2zM288 108.7h2v1.5h-2zM288 108h2v0.7h-2zM290 123.5h2v1.5h-2zM290 122h2v1.5h-2zM290 117.5h2v1.5h-2zM290 116h2v1.5h-2zM290 114.5h2v1.5h-2zM290 113h2v1.5h-2zM290 111.5h2v1.5h-2zM290 110h2v1.5h-2zM290 108.5h2v1.5h-2zM292 136.9h2v1.5h-2zM292 120.4h2v1.5h-2zM292 117.4h2v1.5h-2zM292 114.4h2v1.5h-2zM292 109.9h2v1.5h-2zM292 108.4h2v1.5h-2zM294 133.8h2v1.5h-2zM294 129.3h2v1.5h-2zM294 123.3h2v1.5h-2zM294 121.8h2v1.5h-2zM294 114.3h2v1.5h-2zM294 112.8h2v1.5h-2zM294 108.3h2v1.5h-2zM294 108h2v0.3h-2zM296 132.1h2v1.5h-2zM296 127.6h2v1.5h-2zM296 120.1h2v1.5h-2zM296 117.1h2v1.5h-2zM296 108.1h2v1.5h-2zM296 108h2v0.1h-2zM298 127.5h2v1.5h-2zM298 123h2v1.5h-2zM298 121.5h2v1.5h-2zM298 115.5h2v1.5h-2zM298 111h2v1.5h-2zM298 109.5h2v1.5h-2zM298 108h2v1.5h-2zM300 130.3h2v1.5h-2zM300 122.8h2v1.5h-2zM300 116.8h2v1.5h-2zM300 115.3h2v1.5h-2zM300 110.8h2v1.5h-2zM300 108h2v1.3h-2zM302 131.7h2v1.5h-2zM302 130.2h2v1.5h-2zM302 119.7h2v1.5h-2zM302 116.7h2v1.5h-2zM302 113.7h2v1.5h-2zM302 109.2h2v1.5h-2zM302 108h2v1.2h-2zM304 125.6h2v1.5h-2zM304 119.6h2v1.5h-2zM304 113.6h2v1.5h-2zM304 110.6h2v1.5h-2zM304 109.1h2v1.5h-2zM304 108h2v1.1h-2zM306 138.9h2v1.5h-2zM306 137.4h2v1.5h-2zM306 134.4h2v1.5h-2zM306 131.4h2v1.5h-2zM306 128.4h2v1.5h-2zM306 123.9h2v1.5h-2zM306 120.9h2v1.5h-2zM306 119.4h2v1.5h-2zM306 117.9h2v1.5h-2zM306 114.9h2v1.5h-2zM306 113.4h2v1.5h-2zM306 111.9h2v1.5h-2zM306 108.9h2v1.5h-2zM306 108h2v0.9h-2zM308 113.3h2v1.5h-2zM310 126.6h2v1.5h-2zM310 125.1h2v1.5h-2zM310 123.6h2v1.5h-2zM310 122.1h2v1.5h-2zM310 116.1h2v1.5h-2zM310 113.1h2v1.5h-2zM310 110.1h2v1.5h-2zM310 108.6h2v1.5h-2zM310 108h2v0.6h-2zM312 140h2v1.5h-2zM312 135.5h2v1.5h-2zM312 129.5h2v1.5h-2zM312 128h2v1.5h-2zM312 126.5h2v1.5h-2zM312 122h2v1.5h-2zM312 120.5h2v1.5h-2zM312 117.5h2v1.5h-2zM312 116h2v1.5h-2zM312 113h2v1.5h-2zM312 111.5h2v1.5h-2zM312 110h2v1.5h-2zM312 108.5h2v1.5h-2zM312 108h2v0.5h-2zM314 133.9h2v1.5h-2zM314 124.9h2v1.5h-2zM314 120.4h2v1.5h-2zM314 118.9h2v1.5h-2zM314 117.4h2v1.5h-2zM314 115.9h2v1.5h-2zM314 114.4h2v1.5h-2zM314 111.4h2v1.5h-2zM314 109.9h2v1.5h-2zM314 108.4h2v1.5h-2zM314 108h2v0.4h-2zM316 141.2h2v1.5h-2zM316 139.7h2v1.5h-2zM316 136.7h2v1.5h-2zM316 133.7h2v1.5h-2zM316 132.2h2v1.5h-2zM316 130.7h2v1.5h-2zM316 129.2h2v1.5h-2zM316 127.7h2v1.5h-2zM316 123.2h2v1.5h-2zM316 121.7h2v1.5h-2zM316 120.2h2v1.5h-2zM316 118.7h2v1.5h-2zM316 115.7h2v1.5h-2zM316 114.2h2v1.5h-2zM316 108.2h2v1.5h-2zM318 127.6h2v1.5h-2zM318 126.1h2v1.5h-2zM318 120.1h2v1.5h-2zM318 117.1h2v1.5h-2zM318 114.1h2v1.5h-2zM318 112.6h2v1.5h-2zM318 108.1h2v1.5h-2zM318 108h2v0.1h-2zM320 133.4h2v1.5h-2zM320 130.4h2v1.5h-2zM320 127.4h2v1.5h-2zM320 125.9h2v1.5h-2zM320 124.4h2v1.5h-2zM320 122.9h2v1.5h-2zM320 121.4h2v1.5h-2zM320 119.9h2v1.5h-2zM320 118.4h2v1.5h-2zM320 116.9h2v1.5h-2zM320 113.9h2v1.5h-2zM320 112.4h2v1.5h-2zM320 110.9h2v1.5h-2zM322 125.8h2v1.5h-2zM322 122.8h2v1.5h-2zM322 121.3h2v1.5h-2zM322 118.3h2v1.5h-2zM322 113.8h2v1.5h-2zM322 112.3h2v1.5h-2zM324 133.2h2v1.5h-2zM324 130.2h2v1.5h-2zM324 128.7h2v1.5h-2zM324 127.2h2v1.5h-2zM324 125.7h2v1.5h-2zM324 124.2h2v1.5h-2zM324 122.7h2v1.5h-2zM324 116.7h2v1.5h-2zM324 115.2h2v1.5h-2zM324 112.2h2v1.5h-2zM324 110.7h2v1.5h-2zM324 109.2h2v1.5h-2zM324 108h2v1.2h-2zM326 134.5h2v1.5h-2zM326 130h2v1.5h-2zM326 124h2v1.5h-2zM326 121h2v1.5h-2zM326 119.5h2v1.5h-2zM326 118h2v1.5h-2zM326 116.5h2v1.5h-2zM326 115h2v1.5h-2zM326 113.5h2v1.5h-2zM326 112h2v1.5h-2zM326 110.5h2v1.5h-2zM326 109h2v1.5h-2zM328 125.4h2v1.5h-2zM328 123.9h2v1.5h-2zM328 119.4h2v1.5h-2zM328 117.9h2v1.5h-2zM328 116.4h2v1.5h-2zM328 108.9h2v1.5h-2zM328 108h2v0.9h-2zM330 122.2h2v1.5h-2zM330 111.7h2v1.5h-2zM330 110.2h2v1.5h-2zM332 115.9h2v1.5h-2zM332 112.9h2v1.5h-2zM332 109.9h2v1.5h-2zM334 124.7h2v1.5h-2zM334 120.2h2v1.5h-2zM336 132h2v1.5h-2zM336 130.5h2v1.5h-2zM336 127.5h2v1.5h-2zM336 124.5h2v1.5h-2zM336 123h2v1.5h-2zM336 121.5h2v1.5h-2zM336 120h2v1.5h-2zM336 118.5h2v1.5h-2zM336 117h2v1.5h-2zM336 115.5h2v1.5h-2zM336 114h2v1.5h-2zM336 112.5h2v1.5h-2zM336 111h2v1.5h-2zM336 109.5h2v1.5h-2zM336 108h2v1.5h-2zM338 137.7h2v1.5h-2zM338 130.2h2v1.5h-2zM338 125.7h2v1.5h-2zM338 124.2h2v1.5h-2zM338 122.7h2v1.5h-2zM338 121.2h2v1.5h-2zM338 118.2h2v1.5h-2zM338 116.7h2v1.5h-2zM338 113.7h2v1.5h-2zM338 110.7h2v1.5h-2zM338 109.2h2v1.5h-2zM338 108h2v1.2h-2zM340 125.5h2v1.5h-2zM340 116.5h2v1.5h-2zM340 112h2v1.5h-2zM340 110.5h2v1.5h-2zM342 108h2v0.8h-2zM344 137h2v1.5h-2zM344 132.5h2v1.5h-2zM344 128h2v1.5h-2zM344 125h2v1.5h-2zM344 123.5h2v1.5h-2zM344 122h2v1.5h-2zM344 120.5h2v1.5h-2zM344 117.5h2v1.5h-2zM344 116h2v1.5h-2zM344 114.5h2v1.5h-2zM344 113h2v1.5h-2zM344 111.5h2v1.5h-2zM344 108.5h2v1.5h-2zM344 108h2v0.5h-2zM346 109.8h2v1.5h-2zM346 108h2v0.3h-2zM350 110.8h2v1.5h-2zM354 117.9h2v1.5h-2zM354 113.4h2v1.5h-2zM356 128.1h2v1.5h-2zM356 126.6h2v1.5h-2zM356 125.1h2v1.5h-2zM356 123.6h2v1.5h-2zM356 117.6h2v1.5h-2zM356 114.6h2v1.5h-2zM356 113.1h2v1.5h-2zM356 110.1h2v1.5h-2zM356 108.6h2v1.5h-2zM362 112.5h2v1.5h-2zM362 111h2v1.5h-2zM380 112h2v1.5h-2zM380 109h2v1.5h-2zM394 119.5h2v1.5h-2zM394 112h2v1.5h-2zM456 129.2h2v1.5h-2zM456 126.2h2v1.5h-2zM456 124.7h2v1.5h-2zM456 108h2v0.2h-2zM458 132.3h2v1.5h-2zM458 124.8h2v1.5h-2zM458 121.8h2v1.5h-2zM458 120.3h2v1.5h-2zM458 117.3h2v1.5h-2zM458 115.8h2v1.5h-2zM458 109.8h2v1.5h-2zM458 108.3h2v1.5h-2zM458 108h2v0.3h-2zM460 126.2h2v1.5h-2zM460 120.2h2v1.5h-2zM460 109.8h2v1.5h-2z"/><path fill="rgb(108,0,0)" d="M96 169.4h2v1.5h-2zM100 169.3h2v1.5h-2zM102 169.3h2v1.5h-2zM114 167.5h2v1.5h-2zM122 165.7h2v1.5h-2zM140 165.2h2v1.5h-2zM140 162.2h2v1.5h-2zM144 163.6h2v1.5h-2zM152 164.9h2v1.5h-2zM154 164.8h2v1.5h-2zM156 166.2h2v1.5h-2zM162 165.9h2v1.5h-2zM162 162.9h2v1.5h-2zM164 167.3h2v1.5h-2zM164 165.8h2v1.5h-2zM170 164h2v1.5h-2zM172 162.4h2v1.5h-2zM172 159.4h2v1.5h-2zM174 165.3h2v1.5h-2zM176 165.2h2v1.5h-2zM178 160.6h2v1.5h-2zM182 160.4h2v1.5h-2zM184 160.3h2v1.5h-2zM186 158.7h2v1.5h-2zM188 161.6h2v1.5h-2zM188 158.6h2v1.5h-2zM190 161.5h2v1.5h-2zM192 164.4h2v1.5h-2zM196 165.7h2v1.5h-2zM198 161.1h2v1.5h-2zM204 159.2h2v1.5h-2zM204 157.7h2v1.5h-2zM206 156.1h2v1.5h-2zM220 162.7h2v1.5h-2zM222 159.6h2v1.5h-2zM228 160.7h2v1.5h-2zM234 160.3h2v1.5h-2zM238 157h2v1.5h-2zM240 155.4h2v1.5h-2zM242 158.3h2v1.5h-2zM244 159.7h2v1.5h-2zM244 152.2h2v1.5h-2zM246 156.5h2v1.5h-2zM250 160.8h2v1.5h-2zM252 159.1h2v1.5h-2zM256 155.9h2v1.5h-2zM258 152.8h2v1.5h-2zM266 159.7h2v1.5h-2zM266 156.7h2v1.5h-2zM276 154.5h2v1.5h-2zM278 158.9h2v1.5h-2zM280 155.7h2v1.5h-2zM282 158.6h2v1.5h-2zM284 152.5h2v1.5h-2zM286 153.8h2v1.5h-2zM286 152.3h2v1.5h-2zM290 156.5h2v1.5h-2zM290 153.5h2v1.5h-2zM300 154.3h2v1.5h-2zM308 158.3h2v1.5h-2zM310 156.6h2v1.5h-2zM310 155.1h2v1.5h-2zM310 152.1h2v1.5h-2zM318 151.6h2v1.5h-2zM322 151.3h2v1.5h-2zM324 152.7h2v1.5h-2zM328 149.4h2v1.5h-2zM332 148.9h2v1.5h-2zM334 156.2h2v1.5h-2zM334 148.7h2v1.5h-2zM336 154.5h2v1.5h-2zM340 148h2v1.5h-2zM342 152.3h2v1.5h-2zM348 154.5h2v1.5h-2zM352 139.1h2v1.5h-2zM354 152.4h2v1.5h-2zM354 146.4h2v1.5h-2zM356 152.1h2v1.5h-2zM358 153.4h2v1.5h-2zM358 138.4h2v1.5h-2zM358 136.9h2v1.5h-2zM360 145.7h2v1.5h-2zM362 153h2v1.5h-2zM364 152.8h2v1.5h-2zM364 139.3h2v1.5h-2zM366 151.1h2v1.5h-2zM366 146.6h2v1.5h-2zM368 137.3h2v1.5h-2zM368 134.3h2v1.5h-2zM368 132.8h2v1.5h-2zM370 150.6h2v1.5h-2zM370 141.6h2v1.5h-2zM372 150.4h2v1.5h-2zM372 142.9h2v1.5h-2zM372 136.9h2v1.5h-2zM374 136.7h2v1.5h-2zM374 132.2h2v1.5h-2zM376 150h2v1.5h-2zM376 147h2v1.5h-2zM376 138h2v1.5h-2zM378 139.2h2v1.5h-2zM378 136.2h2v1.5h-2zM378 134.7h2v1.5h-2zM378 130.2h2v1.5h-2zM378 128.7h2v1.5h-2zM384 146.1h2v1.5h-2zM384 138.6h2v1.5h-2zM388 145.7h2v1.5h-2zM390 139.4h2v1.5h-2zM390 137.9h2v1.5h-2zM390 131.9h2v1.5h-2zM392 143.7h2v1.5h-2zM394 148h2v1.5h-2zM396 149.3h2v1.5h-2zM396 140.3h2v1.5h-2zM396 137.3h2v1.5h-2zM398 149.1h2v1.5h-2zM398 141.6h2v1.5h-2zM398 140.1h2v1.5h-2zM400 142.8h2v1.5h-2zM400 138.3h2v1.5h-2zM404 148.4h2v1.5h-2zM406 130.1h2v1.5h-2zM408 147.7h2v1.5h-2zM408 144.7h2v1.5h-2zM408 141.7h2v1.5h-2zM410 132.3h2v1.5h-2zM410 129.3h2v1.5h-2zM410 114.3h2v1.5h-2zM412 124.5h2v1.5h-2zM414 146.6h2v1.5h-2zM418 145.8h2v1.5h-2zM418 124.8h2v1.5h-2zM420 140.9h2v1.5h-2zM420 128.9h2v1.5h-2zM420 127.4h2v1.5h-2zM420 116.9h2v1.5h-2zM420 115.4h2v1.5h-2zM422 124h2v1.5h-2zM422 121h2v1.5h-2zM422 116.5h2v1.5h-2zM424 140.2h2v1.5h-2zM424 122.2h2v1.5h-2zM424 116.2h2v1.5h-2zM424 110.2h2v1.5h-2zM424 108.7h2v1.5h-2zM426 141.3h2v1.5h-2zM428 137.9h2v1.5h-2zM430 140.5h2v1.5h-2zM430 127h2v1.5h-2zM430 121h2v1.5h-2zM430 119.5h2v1.5h-2zM430 109h2v1.5h-2zM432 129.5h2v1.5h-2zM432 119h2v1.5h-2zM432 116h2v1.5h-2zM434 142.5h2v1.5h-2zM434 138h2v1.5h-2zM434 135h2v1.5h-2zM436 122.5h2v1.5h-2zM436 115h2v1.5h-2zM438 122h2v1.5h-2zM438 117.5h2v1.5h-2zM438 114.5h2v1.5h-2zM440 109.5h2v1.5h-2zM442 122.5h2v1.5h-2zM442 121h2v1.5h-2zM442 113.5h2v1.5h-2zM444 111.5h2v1.5h-2zM444 108h2v0.5h-2zM448 134.5h2v1.5h-2zM450 137h2v1.5h-2zM450 119h2v1.5h-2zM450 117.5h2v1.5h-2zM452 135h2v1.5h-2zM452 123h2v1.5h-2zM452 117h2v1.5h-2zM452 115.5h2v1.5h-2zM452 112.5h2v1.5h-2zM464 124.6h2v1.5h-2zM466 136.1h2v1.5h-2zM466 130.1h2v1.5h-2zM466 125.6h2v1.5h-2zM468 130.8h2v1.5h-2zM468 124.8h2v1.5h-2zM472 111.3h2v1.5h-2zM474 134.6h2v1.5h-2zM474 127.1h2v1.5h-2zM474 119.6h2v1.5h-2zM474 118.1h2v1.5h-2zM474 113.6h2v1.5h-2zM476 132.3h2v1.5h-2zM476 124.8h2v1.5h-2zM476 121.8h2v1.5h-2zM484 121.7h2v1.5h-2zM484 117.2h2v1.5h-2zM484 115.7h2v1.5h-2zM484 111.2h2v1.5h-2zM486 122.5h2v1.5h-2zM486 118h2v1.5h-2zM486 116.5h2v1.5h-2zM488 126.3h2v1.5h-2zM488 108.3h2v1.5h-2zM490 124.1h2v1.5h-2zM492 124.8h2v1.5h-2zM496 120.4h2v1.5h-2zM496 118.9h2v1.5h-2zM496 111.4h2v1.5h-2zM504 108h2v1.1h-2zM506 123.6h2v1.5h-2zM506 122.1h2v1.5h-2zM506 113.1h2v1.5h-2zM508 117h2v1.5h-2zM512 112.5h2v1.5h-2zM514 117.5h2v1.5h-2zM514 111.5h2v1.5h-2zM514 110h2v1.5h-2zM516 115h2v1.5h-2zM522 116.6h2v1.5h-2zM522 112.1h2v1.5h-2zM522 110.6h2v1.5h-2zM522 108h2v1.1h-2zM526 115.2h2v1.5h-2zM526 109.2h2v1.5h-2zM534 108h2v1.2h-2zM536 111.5h2v1.5h-2zM536 108.5h2v1.5h-2zM540 108h2v0.7h-2z"/><path fill="rgb(60,0,0)" d="M96 167.9h2v1.5h-2zM96 163.4h2v1.5h-2zM100 164.8h2v1.5h-2zM104 169.2h2v1.5h-2zM104 166.2h2v1.5h-2zM106 169.2h2v1.5h-2zM106 164.7h2v1.5h-2zM106 163.2h2v1.5h-2zM108 167.6h2v1.5h-2zM108 164.6h2v1.5h-2zM110 169.1h2v1.5h-2zM112 166h2v1.5h-2zM112 161.5h2v1.5h-2zM114 163h2v1.5h-2zM116 164.4h2v1.5h-2zM116 162.9h2v1.5h-2zM118 168.8h2v1.5h-2zM122 168.7h2v1.5h-2zM122 167.2h2v1.5h-2zM122 164.2h2v1.5h-2zM122 159.7h2v1.5h-2zM124 162.7h2v1.5h-2zM124 161.2h2v1.5h-2zM126 161.1h2v1.5h-2zM126 158.1h2v1.5h-2zM128 162.6h2v1.5h-2zM128 161.1h2v1.5h-2zM128 159.6h2v1.5h-2zM130 165.5h2v1.5h-2zM130 164h2v1.5h-2zM134 163.9h2v1.5h-2zM134 157.9h2v1.5h-2zM136 156.4h2v1.5h-2zM138 165.3h2v1.5h-2zM144 162.1h2v1.5h-2zM144 160.6h2v1.5h-2zM146 156.1h2v1.5h-2zM148 156h2v1.5h-2zM150 163.5h2v1.5h-2zM150 160.5h2v1.5h-2zM154 161.8h2v1.5h-2zM158 154.1h2v1.5h-2zM160 167.5h2v1.5h-2zM160 158.5h2v1.5h-2zM162 161.4h2v1.5h-2zM162 153.9h2v1.5h-2zM164 158.3h2v1.5h-2zM164 152.3h2v1.5h-2zM166 162.7h2v1.5h-2zM168 158.1h2v1.5h-2zM168 156.6h2v1.5h-2zM168 155.1h2v1.5h-2zM168 153.6h2v1.5h-2zM170 159.5h2v1.5h-2zM170 156.5h2v1.5h-2zM172 157.9h2v1.5h-2zM172 151.9h2v1.5h-2zM174 162.3h2v1.5h-2zM174 160.8h2v1.5h-2zM174 157.8h2v1.5h-2zM174 154.8h2v1.5h-2zM176 159.2h2v1.5h-2zM176 150.2h2v1.5h-2zM180 166.5h2v1.5h-2zM182 157.4h2v1.5h-2zM182 152.9h2v1.5h-2zM184 161.8h2v1.5h-2zM184 158.8h2v1.5h-2zM184 152.8h2v1.5h-2zM184 148.3h2v1.5h-2zM188 160.1h2v1.5h-2zM190 157h2v1.5h-2zM194 156.8h2v1.5h-2zM196 158.2h2v1.5h-2zM196 156.7h2v1.5h-2zM196 153.7h2v1.5h-2zM198 162.6h2v1.5h-2zM198 155.1h2v1.5h-2zM198 153.6h2v1.5h-2zM204 154.7h2v1.5h-2zM204 153.2h2v1.5h-2zM206 153.1h2v1.5h-2zM206 151.6h2v1.5h-2zM206 148.6h2v1.5h-2zM208 150h2v1.5h-2zM210 163.4h2v1.5h-2zM212 161.7h2v1.5h-2zM212 148.2h2v1.5h-2zM214 151.1h2v1.5h-2zM216 158.5h2v1.5h-2zM216 157h2v1.5h-2zM216 154h2v1.5h-2zM216 152.5h2v1.5h-2zM216 151h2v1.5h-2zM216 148h2v1.5h-2zM218 159.8h2v1.5h-2zM218 155.3h2v1.5h-2zM218 149.3h2v1.5h-2zM220 152.2h2v1.5h-2zM226 163.8h2v1.5h-2zM226 162.3h2v1.5h-2zM232 161.9h2v1.5h-2zM234 151.3h2v1.5h-2zM234 149.8h2v1.5h-2zM234 148.3h2v1.5h-2zM236 158.7h2v1.5h-2zM236 157.2h2v1.5h-2zM238 151h2v1.5h-2zM240 144.9h2v1.5h-2zM242 159.8h2v1.5h-2zM242 143.3h2v1.5h-2zM244 155.2h2v1.5h-2zM244 141.7h2v1.5h-2zM246 147.5h2v1.5h-2zM248 147.4h2v1.5h-2zM252 157.6h2v1.5h-2zM252 150.1h2v1.5h-2zM252 145.6h2v1.5h-2zM256 151.4h2v1.5h-2zM256 145.4h2v1.5h-2zM258 151.3h2v1.5h-2zM260 146.6h2v1.5h-2zM262 143.5h2v1.5h-2zM266 153.7h2v1.5h-2zM268 152.1h2v1.5h-2zM268 150.6h2v1.5h-2zM268 146.1h2v1.5h-2zM270 157.9h2v1.5h-2zM274 156.2h2v1.5h-2zM278 154.4h2v1.5h-2zM278 152.9h2v1.5h-2zM278 146.9h2v1.5h-2zM278 145.4h2v1.5h-2zM278 140.9h2v1.5h-2zM280 152.7h2v1.5h-2zM280 139.2h2v1.5h-2zM282 160.1h2v1.5h-2zM282 151.1h2v1.5h-2zM284 149.5h2v1.5h-2zM284 142h2v1.5h-2zM286 150.8h2v1.5h-2zM286 144.8h2v1.5h-2zM288 152.2h2v1.5h-2zM292 153.4h2v1.5h-2zM292 141.4h2v1.5h-2zM294 151.8h2v1.5h-2zM294 150.3h2v1.5h-2zM294 147.3h2v1.5h-2zM294 145.8h2v1.5h-2zM294 144.3h2v1.5h-2zM296 148.6h2v1.5h-2zM298 150h2v1.5h-2zM300 148.3h2v1.5h-2zM300 145.3h2v1.5h-2zM302 140.7h2v1.5h-2zM304 145.1h2v1.5h-2zM304 142.1h2v1.5h-2zM306 147.9h2v1.5h-2zM306 144.9h2v1.5h-2zM306 143.4h2v1.5h-2zM308 146.3h2v1.5h-2zM308 141.8h2v1.5h-2zM308 140.3h2v1.5h-2zM310 144.6h2v1.5h-2zM310 141.6h2v1.5h-2zM312 153.5h2v1.5h-2zM312 149h2v1.5h-2zM312 143h2v1.5h-2zM314 151.9h2v1.5h-2zM314 145.9h2v1.5h-2zM314 138.4h2v1.5h-2zM318 148.6h2v1.5h-2zM318 142.6h2v1.5h-2zM318 139.6h2v1.5h-2zM320 146.9h2v1.5h-2zM322 149.8h2v1.5h-2zM324 155.7h2v1.5h-2zM324 142.2h2v1.5h-2zM326 149.5h2v1.5h-2zM326 148h2v1.5h-2zM326 145h2v1.5h-2zM326 142h2v1.5h-2zM326 139h2v1.5h-2zM328 141.9h2v1.5h-2zM330 147.7h2v1.5h-2zM330 138.7h2v1.5h-2zM330 134.2h2v1.5h-2zM330 129.7h2v1.5h-2zM332 144.4h2v1.5h-2zM332 139.9h2v1.5h-2zM332 138.4h2v1.5h-2zM332 136.9h2v1.5h-2zM332 135.4h2v1.5h-2zM332 132.4h2v1.5h-2zM334 147.2h2v1.5h-2zM336 144h2v1.5h-2zM338 151.2h2v1.5h-2zM338 145.2h2v1.5h-2zM340 146.5h2v1.5h-2zM342 147.8h2v1.5h-2zM342 141.8h2v1.5h-2zM342 140.3h2v1.5h-2zM342 135.8h2v1.5h-2zM342 125.3h2v1.5h-2zM342 123.8h2v1.5h-2zM344 153.5h2v1.5h-2zM344 152h2v1.5h-2zM344 149h2v1.5h-2zM344 141.5h2v1.5h-2zM346 138.3h2v1.5h-2zM346 132.3h2v1.5h-2zM348 145.5h2v1.5h-2zM348 130.5h2v1.5h-2zM348 124.5h2v1.5h-2zM350 145.3h2v1.5h-2zM350 140.8h2v1.5h-2zM350 139.3h2v1.5h-2zM350 136.3h2v1.5h-2zM350 134.8h2v1.5h-2zM350 133.3h2v1.5h-2zM350 131.8h2v1.5h-2zM352 128.6h2v1.5h-2zM352 122.6h2v1.5h-2zM352 119.6h2v1.5h-2zM352 116.6h2v1.5h-2zM354 150.9h2v1.5h-2zM354 144.9h2v1.5h-2zM354 141.9h2v1.5h-2zM354 140.4h2v1.5h-2zM354 137.4h2v1.5h-2zM354 134.4h2v1.5h-2zM354 128.4h2v1.5h-2zM356 153.6h2v1.5h-2zM356 146.1h2v1.5h-2zM356 144.6h2v1.5h-2zM356 143.1h2v1.5h-2zM358 127.9h2v1.5h-2zM358 124.9h2v1.5h-2zM358 118.9h2v1.5h-2zM358 115.9h2v1.5h-2zM360 142.7h2v1.5h-2zM360 138.2h2v1.5h-2zM360 136.7h2v1.5h-2zM360 124.7h2v1.5h-2zM360 121.7h2v1.5h-2zM360 120.2h2v1.5h-2zM360 117.2h2v1.5h-2zM360 112.7h2v1.5h-2zM360 109.7h2v1.5h-2zM362 147h2v1.5h-2zM362 141h2v1.5h-2zM362 138h2v1.5h-2zM364 142.3h2v1.5h-2zM366 139.1h2v1.5h-2zM366 137.6h2v1.5h-2zM366 136.1h2v1.5h-2zM366 128.6h2v1.5h-2zM366 124.1h2v1.5h-2zM368 140.3h2v1.5h-2zM368 131.3h2v1.5h-2zM368 119.3h2v1.5h-2zM368 117.8h2v1.5h-2zM368 113.3h2v1.5h-2zM368 111.8h2v1.5h-2zM370 125.1h2v1.5h-2zM370 119.1h2v1.5h-2zM370 114.6h2v1.5h-2zM372 127.9h2v1.5h-2zM372 123.4h2v1.5h-2zM372 111.4h2v1.5h-2zM374 139.7h2v1.5h-2zM374 121.7h2v1.5h-2zM374 114.2h2v1.5h-2zM374 112.7h2v1.5h-2zM374 111.2h2v1.5h-2zM374 108.2h2v1.5h-2zM378 140.7h2v1.5h-2zM378 109.2h2v1.5h-2zM378 108h2v1.2h-2zM380 146.5h2v1.5h-2zM380 143.5h2v1.5h-2zM380 142h2v1.5h-2zM380 140.5h2v1.5h-2zM380 131.5h2v1.5h-2zM382 138.8h2v1.5h-2zM382 126.8h2v1.5h-2zM384 131.1h2v1.5h-2zM384 125.1h2v1.5h-2zM384 119.1h2v1.5h-2zM384 110.1h2v1.5h-2zM384 108.6h2v1.5h-2zM386 150.4h2v1.5h-2zM386 138.4h2v1.5h-2zM388 139.7h2v1.5h-2zM388 127.7h2v1.5h-2zM388 123.2h2v1.5h-2zM388 118.7h2v1.5h-2zM388 114.2h2v1.5h-2zM388 108.2h2v1.5h-2zM390 133.4h2v1.5h-2zM390 118.4h2v1.5h-2zM390 115.4h2v1.5h-2zM390 113.9h2v1.5h-2zM390 110.9h2v1.5h-2zM392 145.2h2v1.5h-2zM392 127.2h2v1.5h-2zM392 125.7h2v1.5h-2zM392 112.2h2v1.5h-2zM394 149.5h2v1.5h-2zM394 133h2v1.5h-2zM394 122.5h2v1.5h-2zM396 138.8h2v1.5h-2zM396 132.8h2v1.5h-2zM396 116.3h2v1.5h-2zM396 113.3h2v1.5h-2zM396 110.3h2v1.5h-2zM396 108h2v0.8h-2zM398 132.6h2v1.5h-2zM398 111.6h2v1.5h-2zM400 135.3h2v1.5h-2zM400 129.3h2v1.5h-2zM400 123.3h2v1.5h-2zM400 120.3h2v1.5h-2zM400 118.8h2v1.5h-2zM400 117.3h2v1.5h-2zM400 112.8h2v1.5h-2zM402 136.6h2v1.5h-2zM402 129.1h2v1.5h-2zM402 121.6h2v1.5h-2zM402 114.1h2v1.5h-2zM404 124.4h2v1.5h-2zM404 110.9h2v1.5h-2zM406 128.6h2v1.5h-2zM406 124.1h2v1.5h-2zM408 132.7h2v1.5h-2zM408 122.2h2v1.5h-2zM408 117.7h2v1.5h-2zM408 111.7h2v1.5h-2zM410 108.3h2v1.5h-2zM416 132.7h2v1.5h-2zM416 125.2h2v1.5h-2zM416 108h2v0.7h-2zM418 117.3h2v1.5h-2zM418 112.8h2v1.5h-2zM418 108.3h2v1.5h-2zM420 110.9h2v1.5h-2zM422 115h2v1.5h-2zM422 108h2v1h-2zM426 127.8h2v1.5h-2zM426 124.8h2v1.5h-2zM426 115.8h2v1.5h-2zM426 109.8h2v1.5h-2zM428 108h2v1.4h-2zM430 125.5h2v1.5h-2zM432 120.5h2v1.5h-2zM432 111.5h2v1.5h-2zM432 110h2v1.5h-2zM432 108h2v0.5h-2zM434 141h2v1.5h-2zM434 139.5h2v1.5h-2zM434 136.5h2v1.5h-2zM434 132h2v1.5h-2zM434 127.5h2v1.5h-2zM434 120h2v1.5h-2zM436 118h2v1.5h-2zM436 110.5h2v1.5h-2zM438 110h2v1.5h-2zM440 136.5h2v1.5h-2zM440 129h2v1.5h-2zM440 123h2v1.5h-2zM440 120h2v1.5h-2zM446 138h2v1.5h-2zM446 133.5h2v1.5h-2zM446 130.5h2v1.5h-2zM446 117h2v1.5h-2zM446 114h2v1.5h-2zM446 109.5h2v1.5h-2zM448 139h2v1.5h-2zM448 122.5h2v1.5h-2zM448 119.5h2v1.5h-2zM448 116.5h2v1.5h-2zM448 115h2v1.5h-2zM448 109h2v1.5h-2zM454 135.1h2v1.5h-2zM454 123.1h2v1.5h-2zM462 129.2h2v1.5h-2zM462 120.2h2v1.5h-2zM462 118.7h2v1.5h-2zM462 112.7h2v1.5h-2zM464 135.1h2v1.5h-2zM464 123.1h2v1.5h-2zM464 120.1h2v1.5h-2zM464 118.6h2v1.5h-2zM464 117.1h2v1.5h-2zM466 127.1h2v1.5h-2zM466 115.1h2v1.5h-2zM468 127.8h2v1.5h-2zM468 108.3h2v1.5h-2zM470 127.1h2v1.5h-2zM470 116.6h2v1.5h-2zM472 135.3h2v1.5h-2zM472 133.8h2v1.5h-2zM472 118.8h2v1.5h-2zM472 108h2v0.3h-2zM474 112.1h2v1.5h-2zM476 118.8h2v1.5h-2zM476 115.8h2v1.5h-2zM478 125.5h2v1.5h-2zM478 124h2v1.5h-2zM478 119.5h2v1.5h-2zM478 115h2v1.5h-2zM480 130.8h2v1.5h-2zM480 129.2h2v1.5h-2zM480 124.8h2v1.5h-2zM480 114.2h2v1.5h-2zM480 108.2h2v1.5h-2zM482 121h2v1.5h-2zM482 112h2v1.5h-2zM482 110.5h2v1.5h-2zM482 109h2v1.5h-2zM484 129.2h2v1.5h-2zM486 108h2v1h-2zM488 129.3h2v1.5h-2zM490 116.6h2v1.5h-2zM490 113.6h2v1.5h-2zM490 110.6h2v1.5h-2zM490 108h2v1.1h-2zM492 120.3h2v1.5h-2zM492 117.3h2v1.5h-2zM492 108h2v0.3h-2zM494 121.1h2v1.5h-2zM494 119.6h2v1.5h-2zM494 118.1h2v1.5h-2zM494 109.1h2v1.5h-2zM496 124.9h2v1.5h-2zM496 121.9h2v1.5h-2zM498 110.7h2v1.5h-2zM500 114.7h2v1.5h-2zM500 108.7h2v1.5h-2zM500 108h2v0.7h-2zM502 118.7h2v1.5h-2zM504 115.1h2v1.5h-2zM504 113.6h2v1.5h-2zM504 109.1h2v1.5h-2zM506 120.6h2v1.5h-2zM506 111.6h2v1.5h-2zM506 110.1h2v1.5h-2zM510 122.5h2v1.5h-2zM510 118h2v1.5h-2zM510 116.5h2v1.5h-2zM512 117h2v1.5h-2zM512 115.5h2v1.5h-2zM518 112.5h2v1.5h-2zM524 112.9h2v1.5h-2zM524 109.9h2v1.5h-2zM528 108.4h2v1.5h-2zM528 108h2v0.4h-2zM532 108h2v0.5h-2zM542 109.5h2v1.5h-2zM544 108.8h2v1.5h-2z"/><path fill="rgb(36,0,0)" d="M96 160.4h2v1.5h-2zM100 160.3h2v1.5h-2zM102 164.8h2v1.5h-2zM102 161.8h2v1.5h-2zM102 160.3h2v1.5h-2zM108 163.1h2v1.5h-2zM108 160.1h2v1.5h-2zM110 164.6h2v1.5h-2zM110 163.1h2v1.5h-2zM110 161.6h2v1.5h-2zM112 155.5h2v1.5h-2zM114 166h2v1.5h-2zM114 158.5h2v1.5h-2zM114 157h2v1.5h-2zM116 159.9h2v1.5h-2zM118 159.8h2v1.5h-2zM118 158.3h2v1.5h-2zM118 156.8h2v1.5h-2zM118 155.3h2v1.5h-2zM120 159.8h2v1.5h-2zM120 156.8h2v1.5h-2zM120 153.8h2v1.5h-2zM122 161.2h2v1.5h-2zM122 155.2h2v1.5h-2zM122 153.7h2v1.5h-2zM124 155.2h2v1.5h-2zM124 153.7h2v1.5h-2zM124 150.7h2v1.5h-2zM126 156.6h2v1.5h-2zM126 153.6h2v1.5h-2zM126 152.1h2v1.5h-2zM128 153.6h2v1.5h-2zM130 162.5h2v1.5h-2zM130 159.5h2v1.5h-2zM130 155h2v1.5h-2zM132 164h2v1.5h-2zM132 162.5h2v1.5h-2zM134 151.9h2v1.5h-2zM136 157.9h2v1.5h-2zM138 157.8h2v1.5h-2zM138 154.8h2v1.5h-2zM140 157.7h2v1.5h-2zM140 151.7h2v1.5h-2zM140 144.2h2v1.5h-2zM142 163.7h2v1.5h-2zM142 157.7h2v1.5h-2zM142 156.2h2v1.5h-2zM144 156.1h2v1.5h-2zM144 154.6h2v1.5h-2zM144 150.1h2v1.5h-2zM144 147.1h2v1.5h-2zM144 145.6h2v1.5h-2zM146 154.6h2v1.5h-2zM146 147.1h2v1.5h-2zM146 139.6h2v1.5h-2zM148 157.5h2v1.5h-2zM148 145.5h2v1.5h-2zM150 151.5h2v1.5h-2zM152 148.4h2v1.5h-2zM154 157.3h2v1.5h-2zM154 154.3h2v1.5h-2zM154 152.8h2v1.5h-2zM154 148.3h2v1.5h-2zM154 146.8h2v1.5h-2zM156 152.7h2v1.5h-2zM156 149.7h2v1.5h-2zM156 148.2h2v1.5h-2zM156 146.7h2v1.5h-2zM156 143.7h2v1.5h-2zM156 140.7h2v1.5h-2zM158 158.6h2v1.5h-2zM158 149.6h2v1.5h-2zM158 146.6h2v1.5h-2zM158 145.1h2v1.5h-2zM158 139.1h2v1.5h-2zM160 161.5h2v1.5h-2zM160 157h2v1.5h-2zM160 154h2v1.5h-2zM160 149.5h2v1.5h-2zM162 159.9h2v1.5h-2zM162 158.4h2v1.5h-2zM162 152.4h2v1.5h-2zM162 144.9h2v1.5h-2zM164 156.8h2v1.5h-2zM164 149.3h2v1.5h-2zM164 147.8h2v1.5h-2zM164 140.3h2v1.5h-2zM166 167.2h2v1.5h-2zM166 161.2h2v1.5h-2zM166 159.7h2v1.5h-2zM168 152.1h2v1.5h-2zM168 149.1h2v1.5h-2zM168 146.1h2v1.5h-2zM168 143.1h2v1.5h-2zM168 140.1h2v1.5h-2zM170 153.5h2v1.5h-2zM172 153.4h2v1.5h-2zM172 150.4h2v1.5h-2zM172 148.9h2v1.5h-2zM172 147.4h2v1.5h-2zM172 145.9h2v1.5h-2zM172 144.4h2v1.5h-2zM172 142.9h2v1.5h-2zM172 141.4h2v1.5h-2zM172 138.4h2v1.5h-2zM172 129.4h2v1.5h-2zM174 153.3h2v1.5h-2zM174 151.8h2v1.5h-2zM174 148.8h2v1.5h-2zM174 144.3h2v1.5h-2zM174 142.8h2v1.5h-2zM176 154.7h2v1.5h-2zM176 151.7h2v1.5h-2zM176 148.7h2v1.5h-2zM176 147.2h2v1.5h-2zM176 145.7h2v1.5h-2zM176 144.2h2v1.5h-2zM178 144.1h2v1.5h-2zM178 142.6h2v1.5h-2zM178 141.1h2v1.5h-2zM178 139.6h2v1.5h-2zM180 159h2v1.5h-2zM180 157.5h2v1.5h-2zM180 156h2v1.5h-2zM180 150h2v1.5h-2zM182 143.9h2v1.5h-2zM182 142.4h2v1.5h-2zM184 154.3h2v1.5h-2zM184 140.8h2v1.5h-2zM186 155.7h2v1.5h-2zM186 152.7h2v1.5h-2zM186 151.2h2v1.5h-2zM186 148.2h2v1.5h-2zM186 146.7h2v1.5h-2zM186 145.2h2v1.5h-2zM186 139.2h2v1.5h-2zM188 154.1h2v1.5h-2zM188 152.6h2v1.5h-2zM188 148.1h2v1.5h-2zM188 142.1h2v1.5h-2zM190 152.5h2v1.5h-2zM190 151h2v1.5h-2zM190 148h2v1.5h-2zM192 156.9h2v1.5h-2zM194 161.3h2v1.5h-2zM194 150.8h2v1.5h-2zM194 144.8h2v1.5h-2zM196 150.7h2v1.5h-2zM196 147.7h2v1.5h-2zM196 146.2h2v1.5h-2zM196 144.7h2v1.5h-2zM196 141.7h2v1.5h-2zM196 138.7h2v1.5h-2zM198 150.6h2v1.5h-2zM198 149.1h2v1.5h-2zM198 146.1h2v1.5h-2zM198 141.6h2v1.5h-2zM200 156.5h2v1.5h-2zM200 150.5h2v1.5h-2zM200 144.5h2v1.5h-2zM200 143h2v1.5h-2zM200 141.5h2v1.5h-2zM200 140h2v1.5h-2zM202 165.4h2v1.5h-2zM202 160.9h2v1.5h-2zM204 150.2h2v1.5h-2zM204 144.2h2v1.5h-2zM204 142.7h2v1.5h-2zM204 139.7h2v1.5h-2zM204 136.7h2v1.5h-2zM206 147.1h2v1.5h-2zM206 141.1h2v1.5h-2zM206 136.6h2v1.5h-2zM208 154.5h2v1.5h-2zM208 145.5h2v1.5h-2zM208 139.5h2v1.5h-2zM210 158.9h2v1.5h-2zM210 155.9h2v1.5h-2zM210 154.4h2v1.5h-2zM212 146.7h2v1.5h-2zM212 137.7h2v1.5h-2zM212 136.2h2v1.5h-2zM214 154.1h2v1.5h-2zM214 152.6h2v1.5h-2zM214 146.6h2v1.5h-2zM214 145.1h2v1.5h-2zM214 142.1h2v1.5h-2zM214 140.6h2v1.5h-2zM214 137.6h2v1.5h-2zM216 146.5h2v1.5h-2zM216 139h2v1.5h-2zM216 137.5h2v1.5h-2zM216 134.5h2v1.5h-2zM218 143.3h2v1.5h-2zM218 141.8h2v1.5h-2zM218 140.3h2v1.5h-2zM218 137.3h2v1.5h-2zM220 143.2h2v1.5h-2zM220 141.7h2v1.5h-2zM220 138.7h2v1.5h-2zM220 132.7h2v1.5h-2zM222 153.6h2v1.5h-2zM222 147.6h2v1.5h-2zM222 141.6h2v1.5h-2zM222 138.6h2v1.5h-2zM224 153.5h2v1.5h-2zM224 152h2v1.5h-2zM224 147.5h2v1.5h-2zM224 146h2v1.5h-2zM224 144.5h2v1.5h-2zM224 143h2v1.5h-2zM224 141.5h2v1.5h-2zM224 140h2v1.5h-2zM224 134h2v1.5h-2zM224 132.5h2v1.5h-2zM226 160.8h2v1.5h-2zM226 156.3h2v1.5h-2zM226 154.8h2v1.5h-2zM226 153.3h2v1.5h-2zM226 150.3h2v1.5h-2zM228 148.7h2v1.5h-2zM228 147.2h2v1.5h-2zM228 145.7h2v1.5h-2zM228 139.7h2v1.5h-2zM230 156.1h2v1.5h-2zM230 148.6h2v1.5h-2zM232 152.9h2v1.5h-2zM232 146.9h2v1.5h-2zM234 155.8h2v1.5h-2zM234 145.3h2v1.5h-2zM234 140.8h2v1.5h-2zM234 139.3h2v1.5h-2zM234 136.3h2v1.5h-2zM236 152.7h2v1.5h-2zM236 151.2h2v1.5h-2zM236 148.2h2v1.5h-2zM238 148h2v1.5h-2zM238 146.5h2v1.5h-2zM238 143.5h2v1.5h-2zM238 142h2v1.5h-2zM242 146.3h2v1.5h-2zM242 138.8h2v1.5h-2zM242 132.8h2v1.5h-2zM244 149.2h2v1.5h-2zM244 147.7h2v1.5h-2zM244 144.7h2v1.5h-2zM244 143.2h2v1.5h-2zM244 137.2h2v1.5h-2zM244 135.7h2v1.5h-2zM244 134.2h2v1.5h-2zM244 131.2h2v1.5h-2zM244 129.7h2v1.5h-2zM244 126.7h2v1.5h-2zM246 149h2v1.5h-2zM246 146h2v1.5h-2zM246 140h2v1.5h-2zM246 138.5h2v1.5h-2zM246 134h2v1.5h-2zM246 129.5h2v1.5h-2zM246 128h2v1.5h-2zM248 154.9h2v1.5h-2zM248 150.4h2v1.5h-2zM248 148.9h2v1.5h-2zM248 144.4h2v1.5h-2zM248 142.9h2v1.5h-2zM248 136.9h2v1.5h-2zM250 151.8h2v1.5h-2zM250 148.8h2v1.5h-2zM250 144.3h2v1.5h-2zM250 142.8h2v1.5h-2zM252 144.1h2v1.5h-2zM252 138.1h2v1.5h-2zM252 136.6h2v1.5h-2zM252 133.6h2v1.5h-2zM254 150h2v1.5h-2zM254 135h2v1.5h-2zM256 146.9h2v1.5h-2zM256 139.4h2v1.5h-2zM256 133.4h2v1.5h-2zM256 131.9h2v1.5h-2zM258 146.8h2v1.5h-2zM258 145.3h2v1.5h-2zM258 134.8h2v1.5h-2zM258 128.8h2v1.5h-2zM260 145.1h2v1.5h-2zM260 140.6h2v1.5h-2zM260 136.1h2v1.5h-2zM260 133.1h2v1.5h-2zM260 131.6h2v1.5h-2zM262 137.5h2v1.5h-2zM262 136h2v1.5h-2zM264 149.4h2v1.5h-2zM264 135.9h2v1.5h-2zM264 131.4h2v1.5h-2zM264 128.4h2v1.5h-2zM266 150.7h2v1.5h-2zM266 147.7h2v1.5h-2zM266 138.7h2v1.5h-2zM268 144.6h2v1.5h-2zM268 137.1h2v1.5h-2zM268 132.6h2v1.5h-2zM268 131.1h2v1.5h-2zM268 122.1h2v1.5h-2zM270 154.9h2v1.5h-2zM270 147.4h2v1.5h-2zM272 147.3h2v1.5h-2zM272 145.8h2v1.5h-2zM272 127.8h2v1.5h-2zM274 160.7h2v1.5h-2zM274 153.2h2v1.5h-2zM274 150.2h2v1.5h-2zM274 142.7h2v1.5h-2zM276 150h2v1.5h-2zM276 145.5h2v1.5h-2zM276 141h2v1.5h-2zM276 135h2v1.5h-2zM276 132h2v1.5h-2zM278 151.4h2v1.5h-2zM278 136.4h2v1.5h-2zM280 146.7h2v1.5h-2zM280 133.2h2v1.5h-2zM280 125.7h2v1.5h-2zM280 124.2h2v1.5h-2zM282 146.6h2v1.5h-2zM282 145.1h2v1.5h-2zM282 143.6h2v1.5h-2zM282 142.1h2v1.5h-2zM284 139h2v1.5h-2zM284 137.5h2v1.5h-2zM284 134.5h2v1.5h-2zM284 131.5h2v1.5h-2zM284 127h2v1.5h-2zM286 147.8h2v1.5h-2zM286 146.3h2v1.5h-2zM286 134.3h2v1.5h-2zM286 132.8h2v1.5h-2zM286 131.3h2v1.5h-2zM286 129.8h2v1.5h-2zM288 146.2h2v1.5h-2zM288 143.2h2v1.5h-2zM288 141.7h2v1.5h-2zM288 138.7h2v1.5h-2zM288 129.7h2v1.5h-2zM290 146h2v1.5h-2zM290 144.5h2v1.5h-2zM290 135.5h2v1.5h-2zM290 128h2v1.5h-2zM290 126.5h2v1.5h-2zM292 147.4h2v1.5h-2zM292 144.4h2v1.5h-2zM292 138.4h2v1.5h-2zM292 135.4h2v1.5h-2zM292 132.4h2v1.5h-2zM294 141.3h2v1.5h-2zM294 135.3h2v1.5h-2zM294 127.8h2v1.5h-2zM294 126.3h2v1.5h-2zM296 145.6h2v1.5h-2zM296 141.1h2v1.5h-2zM296 136.6h2v1.5h-2zM296 135.1h2v1.5h-2zM298 139.5h2v1.5h-2zM298 136.5h2v1.5h-2zM298 135h2v1.5h-2zM298 132h2v1.5h-2zM298 129h2v1.5h-2zM298 126h2v1.5h-2zM298 120h2v1.5h-2zM300 146.8h2v1.5h-2zM300 137.8h2v1.5h-2zM300 136.3h2v1.5h-2zM300 134.8h2v1.5h-2zM300 131.8h2v1.5h-2zM300 121.3h2v1.5h-2zM302 148.2h2v1.5h-2zM302 145.2h2v1.5h-2zM302 139.2h2v1.5h-2zM302 128.7h2v1.5h-2zM302 122.7h2v1.5h-2zM304 140.6h2v1.5h-2zM304 136.1h2v1.5h-2zM304 131.6h2v1.5h-2zM306 152.4h2v1.5h-2zM306 132.9h2v1.5h-2zM308 144.8h2v1.5h-2zM308 135.8h2v1.5h-2zM308 134.3h2v1.5h-2zM308 129.8h2v1.5h-2zM308 126.8h2v1.5h-2zM308 125.3h2v1.5h-2zM308 123.8h2v1.5h-2zM310 134.1h2v1.5h-2zM310 132.6h2v1.5h-2zM310 131.1h2v1.5h-2zM312 146h2v1.5h-2zM312 141.5h2v1.5h-2zM312 137h2v1.5h-2zM314 147.4h2v1.5h-2zM314 144.4h2v1.5h-2zM314 141.4h2v1.5h-2zM314 139.9h2v1.5h-2zM314 135.4h2v1.5h-2zM314 130.9h2v1.5h-2zM314 126.4h2v1.5h-2zM316 157.7h2v1.5h-2zM316 148.7h2v1.5h-2zM316 147.2h2v1.5h-2zM316 142.7h2v1.5h-2zM318 136.6h2v1.5h-2zM318 132.1h2v1.5h-2zM318 124.6h2v1.5h-2zM318 121.6h2v1.5h-2zM320 152.9h2v1.5h-2zM320 143.9h2v1.5h-2zM320 142.4h2v1.5h-2zM320 137.9h2v1.5h-2zM320 134.9h2v1.5h-2zM322 140.8h2v1.5h-2zM322 136.3h2v1.5h-2zM322 133.3h2v1.5h-2zM322 130.3h2v1.5h-2zM322 127.3h2v1.5h-2zM322 124.3h2v1.5h-2zM324 143.7h2v1.5h-2zM326 128.5h2v1.5h-2zM326 127h2v1.5h-2zM328 144.9h2v1.5h-2zM328 137.4h2v1.5h-2zM328 132.9h2v1.5h-2zM328 128.4h2v1.5h-2zM328 126.9h2v1.5h-2zM330 137.2h2v1.5h-2zM330 125.2h2v1.5h-2zM330 117.7h2v1.5h-2zM330 116.2h2v1.5h-2zM330 114.7h2v1.5h-2zM330 108h2v0.7h-2zM332 133.9h2v1.5h-2zM332 129.4h2v1.5h-2zM332 123.4h2v1.5h-2zM332 121.9h2v1.5h-2zM332 118.9h2v1.5h-2zM332 117.4h2v1.5h-2zM332 108.4h2v1.5h-2zM332 108h2v0.4h-2zM334 138.2h2v1.5h-2zM334 135.2h2v1.5h-2zM334 133.7h2v1.5h-2zM334 130.7h2v1.5h-2zM334 115.7h2v1.5h-2zM336 148.5h2v1.5h-2zM336 147h2v1.5h-2zM336 142.5h2v1.5h-2zM338 148.2h2v1.5h-2zM338 143.7h2v1.5h-2zM338 136.2h2v1.5h-2zM338 134.7h2v1.5h-2zM338 133.2h2v1.5h-2zM340 143.5h2v1.5h-2zM340 137.5h2v1.5h-2zM340 133h2v1.5h-2zM342 129.8h2v1.5h-2zM342 126.8h2v1.5h-2zM342 116.3h2v1.5h-2zM342 113.3h2v1.5h-2zM344 155h2v1.5h-2zM344 150.5h2v1.5h-2zM344 147.5h2v1.5h-2zM344 146h2v1.5h-2zM344 140h2v1.5h-2zM344 138.5h2v1.5h-2zM344 135.5h2v1.5h-2zM344 131h2v1.5h-2zM346 136.8h2v1.5h-2zM346 130.8h2v1.5h-2zM346 129.3h2v1.5h-2zM346 126.3h2v1.5h-2zM346 124.8h2v1.5h-2zM346 118.8h2v1.5h-2zM346 111.3h2v1.5h-2zM346 108.3h2v1.5h-2zM348 139.5h2v1.5h-2zM348 136.5h2v1.5h-2zM348 135h2v1.5h-2zM348 133.5h2v1.5h-2zM348 129h2v1.5h-2zM348 114h2v1.5h-2zM348 109.5h2v1.5h-2zM348 108h2v1.5h-2zM350 130.3h2v1.5h-2zM350 121.3h2v1.5h-2zM350 119.8h2v1.5h-2zM350 118.3h2v1.5h-2zM350 116.8h2v1.5h-2zM350 115.3h2v1.5h-2zM350 113.8h2v1.5h-2zM350 112.3h2v1.5h-2zM352 121.1h2v1.5h-2zM352 115.1h2v1.5h-2zM352 110.6h2v1.5h-2zM354 131.4h2v1.5h-2zM354 126.9h2v1.5h-2zM354 123.9h2v1.5h-2zM354 122.4h2v1.5h-2zM354 114.9h2v1.5h-2zM354 108.9h2v1.5h-2zM356 141.6h2v1.5h-2zM356 140.1h2v1.5h-2zM356 135.6h2v1.5h-2zM356 134.1h2v1.5h-2zM356 132.6h2v1.5h-2zM356 131.1h2v1.5h-2zM356 129.6h2v1.5h-2zM356 122.1h2v1.5h-2zM358 130.9h2v1.5h-2zM358 123.4h2v1.5h-2zM358 112.9h2v1.5h-2zM358 111.4h2v1.5h-2zM358 109.9h2v1.5h-2zM358 108.4h2v1.5h-2zM360 115.7h2v1.5h-2zM360 111.2h2v1.5h-2zM360 108.2h2v1.5h-2zM360 108h2v0.2h-2zM362 139.5h2v1.5h-2zM362 136.5h2v1.5h-2zM362 132h2v1.5h-2zM362 129h2v1.5h-2zM362 127.5h2v1.5h-2zM362 123h2v1.5h-2zM364 131.8h2v1.5h-2zM364 130.3h2v1.5h-2zM364 128.8h2v1.5h-2zM364 125.8h2v1.5h-2zM364 121.3h2v1.5h-2zM364 116.8h2v1.5h-2zM364 112.3h2v1.5h-2zM366 118.1h2v1.5h-2zM366 116.6h2v1.5h-2zM366 110.6h2v1.5h-2zM368 123.8h2v1.5h-2zM368 120.8h2v1.5h-2zM368 108h2v0.8h-2zM370 131.1h2v1.5h-2zM370 128.1h2v1.5h-2zM370 126.6h2v1.5h-2zM370 123.6h2v1.5h-2zM370 120.6h2v1.5h-2zM370 117.6h2v1.5h-2zM370 110.1h2v1.5h-2zM370 108.6h2v1.5h-2zM372 126.4h2v1.5h-2zM372 124.9h2v1.5h-2zM372 120.4h2v1.5h-2zM372 117.4h2v1.5h-2zM372 115.9h2v1.5h-2zM372 109.9h2v1.5h-2zM374 108h2v0.2h-2zM376 123h2v1.5h-2zM376 121.5h2v1.5h-2zM376 118.5h2v1.5h-2zM376 115.5h2v1.5h-2zM378 121.2h2v1.5h-2zM378 118.2h2v1.5h-2zM378 115.2h2v1.5h-2zM380 139h2v1.5h-2zM380 127h2v1.5h-2zM380 125.5h2v1.5h-2zM380 124h2v1.5h-2zM380 121h2v1.5h-2zM380 115h2v1.5h-2zM380 110.5h2v1.5h-2zM382 134.3h2v1.5h-2zM382 128.3h2v1.5h-2zM382 120.8h2v1.5h-2zM382 116.3h2v1.5h-2zM382 110.3h2v1.5h-2zM382 108h2v0.8h-2zM384 129.6h2v1.5h-2zM384 116.1h2v1.5h-2zM384 114.6h2v1.5h-2zM384 108h2v0.6h-2zM386 136.9h2v1.5h-2zM386 133.9h2v1.5h-2zM386 127.9h2v1.5h-2zM386 124.9h2v1.5h-2zM386 123.4h2v1.5h-2zM386 118.9h2v1.5h-2zM386 117.4h2v1.5h-2zM386 111.4h2v1.5h-2zM388 121.7h2v1.5h-2zM388 117.2h2v1.5h-2zM390 125.9h2v1.5h-2zM390 112.4h2v1.5h-2zM392 133.2h2v1.5h-2zM392 131.7h2v1.5h-2zM392 119.7h2v1.5h-2zM392 115.2h2v1.5h-2zM392 113.7h2v1.5h-2zM394 140.5h2v1.5h-2zM394 130h2v1.5h-2zM394 116.5h2v1.5h-2zM394 109h2v1.5h-2zM394 108h2v1h-2zM396 126.8h2v1.5h-2zM396 117.8h2v1.5h-2zM398 125.1h2v1.5h-2zM398 117.6h2v1.5h-2zM398 114.6h2v1.5h-2zM400 124.8h2v1.5h-2zM400 109.8h2v1.5h-2zM400 108h2v0.3h-2zM402 112.6h2v1.5h-2zM402 108h2v0.1h-2zM408 110.2h2v1.5h-2zM426 132.3h2v1.5h-2zM426 118.8h2v1.5h-2zM426 117.3h2v1.5h-2zM426 111.3h2v1.5h-2zM426 108h2v0.3h-2zM434 126h2v1.5h-2zM434 117h2v1.5h-2zM434 112.5h2v1.5h-2zM446 120h2v1.5h-2zM446 115.5h2v1.5h-2zM448 121h2v1.5h-2zM448 113.5h2v1.5h-2zM454 114.1h2v1.5h-2zM454 111.1h2v1.5h-2zM454 109.6h2v1.5h-2zM456 138.2h2v1.5h-2zM456 127.7h2v1.5h-2zM456 120.2h2v1.5h-2zM456 117.2h2v1.5h-2zM456 112.7h2v1.5h-2zM456 111.2h2v1.5h-2zM458 138.3h2v1.5h-2zM458 133.8h2v1.5h-2zM458 129.3h2v1.5h-2zM460 135.2h2v1.5h-2zM460 133.8h2v1.5h-2zM460 132.2h2v1.5h-2zM460 130.8h2v1.5h-2zM460 127.8h2v1.5h-2zM460 124.8h2v1.5h-2zM460 123.2h2v1.5h-2zM460 121.8h2v1.5h-2zM460 114.2h2v1.5h-2zM462 114.2h2v1.5h-2zM466 113.6h2v1.5h-2zM466 112.1h2v1.5h-2zM466 110.6h2v1.5h-2zM466 109.1h2v1.5h-2zM466 108h2v1.1h-2zM468 117.3h2v1.5h-2zM468 111.3h2v1.5h-2zM468 109.8h2v1.5h-2zM470 122.6h2v1.5h-2zM470 121.1h2v1.5h-2zM470 115.1h2v1.5h-2zM470 113.6h2v1.5h-2zM470 112.1h2v1.5h-2zM476 108.3h2v1.5h-2zM478 116.5h2v1.5h-2zM478 112h2v1.5h-2zM480 118.8h2v1.5h-2zM480 112.8h2v1.5h-2zM480 108h2v0.2h-2zM482 130h2v1.5h-2zM482 108h2v1h-2zM486 113.5h2v1.5h-2zM490 109.1h2v1.5h-2zM492 121.8h2v1.5h-2zM492 109.8h2v1.5h-2zM494 116.6h2v1.5h-2zM494 108h2v1.1h-2zM508 114h2v1.5h-2zM508 112.5h2v1.5h-2zM508 108h2v1.5h-2zM508 108h2v0h-2zM510 121h2v1.5h-2zM510 112h2v1.5h-2zM510 109h2v1.5h-2zM510 108h2v1h-2z"/><path fill="rgb(132,0,0)" d="M98 169.4h2v1.5h-2zM124 168.7h2v1.5h-2zM136 166.9h2v1.5h-2zM148 166.5h2v1.5h-2zM156 164.7h2v1.5h-2zM160 166h2v1.5h-2zM168 162.6h2v1.5h-2zM180 165h2v1.5h-2zM182 163.4h2v1.5h-2zM186 161.7h2v1.5h-2zM186 160.2h2v1.5h-2zM188 164.6h2v1.5h-2zM188 163.1h2v1.5h-2zM192 165.9h2v1.5h-2zM194 165.8h2v1.5h-2zM208 165h2v1.5h-2zM214 158.6h2v1.5h-2zM218 158.3h2v1.5h-2zM222 164.1h2v1.5h-2zM224 158h2v1.5h-2zM238 161.5h2v1.5h-2zM248 160.9h2v1.5h-2zM250 157.8h2v1.5h-2zM252 160.6h2v1.5h-2zM252 156.1h2v1.5h-2zM254 157.5h2v1.5h-2zM258 158.8h2v1.5h-2zM260 155.6h2v1.5h-2zM262 157h2v1.5h-2zM264 158.4h2v1.5h-2zM268 155.1h2v1.5h-2zM288 155.2h2v1.5h-2zM294 153.3h2v1.5h-2zM296 154.6h2v1.5h-2zM302 154.2h2v1.5h-2zM304 152.6h2v1.5h-2zM306 158.4h2v1.5h-2zM306 155.4h2v1.5h-2zM308 152.3h2v1.5h-2zM310 153.6h2v1.5h-2zM314 156.4h2v1.5h-2zM322 154.3h2v1.5h-2zM324 157.2h2v1.5h-2zM328 156.9h2v1.5h-2zM330 156.7h2v1.5h-2zM330 152.2h2v1.5h-2zM332 151.9h2v1.5h-2zM334 151.7h2v1.5h-2zM340 155.5h2v1.5h-2zM342 146.3h2v1.5h-2zM346 145.8h2v1.5h-2zM346 144.3h2v1.5h-2zM348 144h2v1.5h-2zM350 152.8h2v1.5h-2zM360 150.2h2v1.5h-2zM360 141.2h2v1.5h-2zM364 145.3h2v1.5h-2zM366 152.6h2v1.5h-2zM368 149.3h2v1.5h-2zM370 143.1h2v1.5h-2zM372 147.4h2v1.5h-2zM372 139.9h2v1.5h-2zM372 138.4h2v1.5h-2zM376 145.5h2v1.5h-2zM376 136.5h2v1.5h-2zM378 145.2h2v1.5h-2zM382 149.3h2v1.5h-2zM384 147.6h2v1.5h-2zM390 134.9h2v1.5h-2zM396 143.3h2v1.5h-2zM398 135.6h2v1.5h-2zM398 131.1h2v1.5h-2zM398 129.6h2v1.5h-2zM402 141.1h2v1.5h-2zM404 137.9h2v1.5h-2zM404 127.4h2v1.5h-2zM406 140.6h2v1.5h-2zM406 139.1h2v1.5h-2zM406 125.6h2v1.5h-2zM410 133.8h2v1.5h-2zM410 115.8h2v1.5h-2zM412 139.5h2v1.5h-2zM412 135h2v1.5h-2zM412 132h2v1.5h-2zM412 127.5h2v1.5h-2zM412 115.5h2v1.5h-2zM414 112.1h2v1.5h-2zM414 109.1h2v1.5h-2zM416 131.2h2v1.5h-2zM416 116.2h2v1.5h-2zM416 114.7h2v1.5h-2zM416 113.2h2v1.5h-2zM418 142.8h2v1.5h-2zM420 121.4h2v1.5h-2zM422 136h2v1.5h-2zM422 127h2v1.5h-2zM422 119.5h2v1.5h-2zM424 138.7h2v1.5h-2zM424 137.2h2v1.5h-2zM424 132.7h2v1.5h-2zM428 133.4h2v1.5h-2zM428 119.9h2v1.5h-2zM428 116.9h2v1.5h-2zM430 124h2v1.5h-2zM432 138.5h2v1.5h-2zM432 132.5h2v1.5h-2zM432 131h2v1.5h-2zM436 131.5h2v1.5h-2zM436 125.5h2v1.5h-2zM436 109h2v1.5h-2zM438 134h2v1.5h-2zM438 113h2v1.5h-2zM440 127.5h2v1.5h-2zM440 124.5h2v1.5h-2zM440 121.5h2v1.5h-2zM442 110.5h2v1.5h-2zM444 122h2v1.5h-2zM444 110h2v1.5h-2zM450 122h2v1.5h-2zM450 111.5h2v1.5h-2zM450 108.5h2v1.5h-2zM450 108h2v0.5h-2zM452 133.5h2v1.5h-2zM452 120h2v1.5h-2zM462 135.2h2v1.5h-2zM464 138.1h2v1.5h-2zM468 133.8h2v1.5h-2zM470 134.6h2v1.5h-2zM470 133.1h2v1.5h-2zM472 132.3h2v1.5h-2zM474 133.1h2v1.5h-2zM484 130.7h2v1.5h-2zM486 130h2v1.5h-2zM486 127h2v1.5h-2zM488 117.3h2v1.5h-2zM500 123.7h2v1.5h-2zM514 114.5h2v1.5h-2zM516 116.5h2v1.5h-2zM522 113.6h2v1.5h-2zM532 111.5h2v1.5h-2zM536 108h2v0.5h-2z"/><path fill="rgb(48,0,0)" d="M100 166.3h2v1.5h-2zM100 163.3h2v1.5h-2zM104 167.7h2v1.5h-2zM104 164.7h2v1.5h-2zM106 167.7h2v1.5h-2zM106 161.7h2v1.5h-2zM108 161.6h2v1.5h-2zM112 163h2v1.5h-2zM112 160h2v1.5h-2zM114 164.5h2v1.5h-2zM114 161.5h2v1.5h-2zM118 161.3h2v1.5h-2zM120 164.3h2v1.5h-2zM122 158.2h2v1.5h-2zM124 158.2h2v1.5h-2zM132 167h2v1.5h-2zM132 165.5h2v1.5h-2zM132 161h2v1.5h-2zM134 160.9h2v1.5h-2zM134 156.4h2v1.5h-2zM136 160.9h2v1.5h-2zM136 154.9h2v1.5h-2zM138 166.8h2v1.5h-2zM138 162.3h2v1.5h-2zM140 153.2h2v1.5h-2zM142 168.2h2v1.5h-2zM142 166.7h2v1.5h-2zM146 160.6h2v1.5h-2zM146 157.6h2v1.5h-2zM146 148.6h2v1.5h-2zM148 151.5h2v1.5h-2zM148 150h2v1.5h-2zM150 159h2v1.5h-2zM150 157.5h2v1.5h-2zM150 154.5h2v1.5h-2zM152 154.4h2v1.5h-2zM154 151.3h2v1.5h-2zM156 155.7h2v1.5h-2zM156 151.2h2v1.5h-2zM158 152.6h2v1.5h-2zM158 151.1h2v1.5h-2zM162 156.9h2v1.5h-2zM162 149.4h2v1.5h-2zM162 146.4h2v1.5h-2zM164 153.8h2v1.5h-2zM166 165.7h2v1.5h-2zM168 159.6h2v1.5h-2zM170 161h2v1.5h-2zM170 158h2v1.5h-2zM174 150.3h2v1.5h-2zM174 147.3h2v1.5h-2zM176 156.2h2v1.5h-2zM176 153.2h2v1.5h-2zM178 157.6h2v1.5h-2zM178 154.6h2v1.5h-2zM178 151.6h2v1.5h-2zM180 153h2v1.5h-2zM180 151.5h2v1.5h-2zM182 151.4h2v1.5h-2zM182 149.9h2v1.5h-2zM182 146.9h2v1.5h-2zM184 157.3h2v1.5h-2zM184 151.3h2v1.5h-2zM184 149.8h2v1.5h-2zM186 157.2h2v1.5h-2zM186 149.7h2v1.5h-2zM186 143.7h2v1.5h-2zM188 149.6h2v1.5h-2zM188 145.1h2v1.5h-2zM190 166h2v1.5h-2zM190 160h2v1.5h-2zM190 155.5h2v1.5h-2zM192 150.9h2v1.5h-2zM192 149.4h2v1.5h-2zM192 143.4h2v1.5h-2zM194 162.8h2v1.5h-2zM194 158.3h2v1.5h-2zM194 155.3h2v1.5h-2zM194 152.3h2v1.5h-2zM198 147.6h2v1.5h-2zM200 155h2v1.5h-2zM200 147.5h2v1.5h-2zM200 146h2v1.5h-2zM202 159.4h2v1.5h-2zM202 157.9h2v1.5h-2zM202 154.9h2v1.5h-2zM204 148.7h2v1.5h-2zM204 147.2h2v1.5h-2zM206 154.6h2v1.5h-2zM206 144.1h2v1.5h-2zM206 142.6h2v1.5h-2zM208 156h2v1.5h-2zM208 151.5h2v1.5h-2zM208 148.5h2v1.5h-2zM210 157.4h2v1.5h-2zM212 154.2h2v1.5h-2zM212 151.2h2v1.5h-2zM212 145.2h2v1.5h-2zM212 143.7h2v1.5h-2zM212 142.2h2v1.5h-2zM214 149.6h2v1.5h-2zM214 143.6h2v1.5h-2zM218 152.3h2v1.5h-2zM218 147.8h2v1.5h-2zM218 144.8h2v1.5h-2zM220 150.7h2v1.5h-2zM220 147.7h2v1.5h-2zM220 146.2h2v1.5h-2zM222 156.6h2v1.5h-2zM222 146.1h2v1.5h-2zM222 144.6h2v1.5h-2zM224 149h2v1.5h-2zM226 157.8h2v1.5h-2zM228 144.2h2v1.5h-2zM228 142.7h2v1.5h-2zM228 141.2h2v1.5h-2zM230 157.6h2v1.5h-2zM230 154.6h2v1.5h-2zM230 153.1h2v1.5h-2zM232 163.4h2v1.5h-2zM232 160.4h2v1.5h-2zM232 154.4h2v1.5h-2zM234 154.3h2v1.5h-2zM234 152.8h2v1.5h-2zM234 146.8h2v1.5h-2zM236 149.7h2v1.5h-2zM238 149.5h2v1.5h-2zM238 145h2v1.5h-2zM240 153.9h2v1.5h-2zM240 152.4h2v1.5h-2zM240 150.9h2v1.5h-2zM240 149.4h2v1.5h-2zM240 147.9h2v1.5h-2zM240 146.4h2v1.5h-2zM240 140.4h2v1.5h-2zM242 153.8h2v1.5h-2zM242 152.3h2v1.5h-2zM242 147.8h2v1.5h-2zM242 144.8h2v1.5h-2zM242 141.8h2v1.5h-2zM242 140.3h2v1.5h-2zM244 138.7h2v1.5h-2zM246 150.5h2v1.5h-2zM246 144.5h2v1.5h-2zM246 143h2v1.5h-2zM248 156.4h2v1.5h-2zM248 145.9h2v1.5h-2zM250 156.3h2v1.5h-2zM252 151.6h2v1.5h-2zM252 147.1h2v1.5h-2zM254 145.5h2v1.5h-2zM254 144h2v1.5h-2zM254 142.5h2v1.5h-2zM254 141h2v1.5h-2zM254 138h2v1.5h-2zM256 143.9h2v1.5h-2zM256 142.4h2v1.5h-2zM258 149.8h2v1.5h-2zM258 143.8h2v1.5h-2zM258 140.8h2v1.5h-2zM258 137.8h2v1.5h-2zM260 148.1h2v1.5h-2zM260 142.1h2v1.5h-2zM262 142h2v1.5h-2zM262 140.5h2v1.5h-2zM264 146.4h2v1.5h-2zM264 143.4h2v1.5h-2zM264 141.9h2v1.5h-2zM264 140.4h2v1.5h-2zM266 155.2h2v1.5h-2zM266 146.2h2v1.5h-2zM266 144.7h2v1.5h-2zM268 143.1h2v1.5h-2zM270 153.4h2v1.5h-2zM270 150.4h2v1.5h-2zM272 151.8h2v1.5h-2zM272 148.8h2v1.5h-2zM272 144.3h2v1.5h-2zM272 135.3h2v1.5h-2zM276 147h2v1.5h-2zM276 144h2v1.5h-2zM276 139.5h2v1.5h-2zM278 149.9h2v1.5h-2zM278 143.9h2v1.5h-2zM278 139.4h2v1.5h-2zM280 151.2h2v1.5h-2zM280 145.2h2v1.5h-2zM280 143.7h2v1.5h-2zM280 136.2h2v1.5h-2zM284 148h2v1.5h-2zM284 145h2v1.5h-2zM284 136h2v1.5h-2zM286 141.8h2v1.5h-2zM286 140.3h2v1.5h-2zM286 138.8h2v1.5h-2zM288 149.2h2v1.5h-2zM288 147.7h2v1.5h-2zM288 144.7h2v1.5h-2zM290 141.5h2v1.5h-2zM290 138.5h2v1.5h-2zM290 137h2v1.5h-2zM292 145.9h2v1.5h-2zM292 142.9h2v1.5h-2zM292 139.9h2v1.5h-2zM294 142.8h2v1.5h-2zM294 138.3h2v1.5h-2zM296 139.6h2v1.5h-2zM296 138.1h2v1.5h-2zM298 145.5h2v1.5h-2zM298 141h2v1.5h-2zM298 138h2v1.5h-2zM300 151.3h2v1.5h-2zM300 142.3h2v1.5h-2zM300 140.8h2v1.5h-2zM300 139.3h2v1.5h-2zM302 149.7h2v1.5h-2zM302 137.7h2v1.5h-2zM302 136.2h2v1.5h-2zM302 134.7h2v1.5h-2zM304 139.1h2v1.5h-2zM304 137.6h2v1.5h-2zM306 153.9h2v1.5h-2zM306 146.4h2v1.5h-2zM306 141.9h2v1.5h-2zM310 149.1h2v1.5h-2zM310 146.1h2v1.5h-2zM310 140.1h2v1.5h-2zM310 137.1h2v1.5h-2zM310 135.6h2v1.5h-2zM312 150.5h2v1.5h-2zM312 147.5h2v1.5h-2zM312 144.5h2v1.5h-2zM312 138.5h2v1.5h-2zM314 150.4h2v1.5h-2zM316 154.7h2v1.5h-2zM316 150.2h2v1.5h-2zM316 145.7h2v1.5h-2zM316 144.2h2v1.5h-2zM318 141.1h2v1.5h-2zM318 138.1h2v1.5h-2zM318 133.6h2v1.5h-2zM318 130.6h2v1.5h-2zM320 145.4h2v1.5h-2zM320 140.9h2v1.5h-2zM322 145.3h2v1.5h-2zM322 137.8h2v1.5h-2zM324 148.2h2v1.5h-2zM324 145.2h2v1.5h-2zM324 137.7h2v1.5h-2zM326 146.5h2v1.5h-2zM326 140.5h2v1.5h-2zM326 137.5h2v1.5h-2zM326 136h2v1.5h-2zM328 147.9h2v1.5h-2zM328 138.9h2v1.5h-2zM330 143.2h2v1.5h-2zM330 132.7h2v1.5h-2zM330 128.2h2v1.5h-2zM330 126.7h2v1.5h-2zM330 120.7h2v1.5h-2zM330 119.2h2v1.5h-2zM332 130.9h2v1.5h-2zM332 127.9h2v1.5h-2zM332 120.4h2v1.5h-2zM334 141.2h2v1.5h-2zM334 136.7h2v1.5h-2zM334 132.2h2v1.5h-2zM334 129.2h2v1.5h-2zM336 151.5h2v1.5h-2zM336 150h2v1.5h-2zM338 146.7h2v1.5h-2zM338 140.7h2v1.5h-2zM338 139.2h2v1.5h-2zM340 145h2v1.5h-2zM340 140.5h2v1.5h-2zM340 139h2v1.5h-2zM340 134.5h2v1.5h-2zM340 131.5h2v1.5h-2zM340 130h2v1.5h-2zM342 120.8h2v1.5h-2zM342 119.3h2v1.5h-2zM342 114.8h2v1.5h-2zM342 111.8h2v1.5h-2zM342 108.8h2v1.5h-2zM344 144.5h2v1.5h-2zM344 143h2v1.5h-2zM346 139.8h2v1.5h-2zM346 135.3h2v1.5h-2zM346 123.3h2v1.5h-2zM346 120.3h2v1.5h-2zM346 114.3h2v1.5h-2zM346 112.8h2v1.5h-2zM348 127.5h2v1.5h-2zM348 123h2v1.5h-2zM348 121.5h2v1.5h-2zM348 120h2v1.5h-2zM348 118.5h2v1.5h-2zM348 117h2v1.5h-2zM348 115.5h2v1.5h-2zM350 146.8h2v1.5h-2zM350 143.8h2v1.5h-2zM350 137.8h2v1.5h-2zM350 128.8h2v1.5h-2zM350 124.3h2v1.5h-2zM352 136.1h2v1.5h-2zM352 134.6h2v1.5h-2zM352 127.1h2v1.5h-2zM352 118.1h2v1.5h-2zM352 113.6h2v1.5h-2zM352 109.1h2v1.5h-2zM352 108h2v1.1h-2zM354 132.9h2v1.5h-2zM356 150.6h2v1.5h-2zM356 149.1h2v1.5h-2zM356 137.1h2v1.5h-2zM358 129.4h2v1.5h-2zM358 126.4h2v1.5h-2zM358 108h2v0.4h-2zM360 139.7h2v1.5h-2zM360 135.2h2v1.5h-2zM360 132.2h2v1.5h-2zM360 126.2h2v1.5h-2zM360 118.7h2v1.5h-2zM360 114.2h2v1.5h-2zM362 135h2v1.5h-2zM364 137.8h2v1.5h-2zM364 122.8h2v1.5h-2zM364 119.8h2v1.5h-2zM364 115.3h2v1.5h-2zM366 131.6h2v1.5h-2zM366 122.6h2v1.5h-2zM366 119.6h2v1.5h-2zM366 115.1h2v1.5h-2zM366 113.6h2v1.5h-2zM366 112.1h2v1.5h-2zM366 108h2v1.1h-2zM368 128.3h2v1.5h-2zM368 114.8h2v1.5h-2zM370 140.1h2v1.5h-2zM370 137.1h2v1.5h-2zM370 135.6h2v1.5h-2zM370 122.1h2v1.5h-2zM370 116.1h2v1.5h-2zM370 113.1h2v1.5h-2zM370 111.6h2v1.5h-2zM370 108h2v0.6h-2zM372 133.9h2v1.5h-2zM372 121.9h2v1.5h-2zM372 108.4h2v1.5h-2zM374 127.7h2v1.5h-2zM374 123.2h2v1.5h-2zM374 117.2h2v1.5h-2zM376 132h2v1.5h-2zM376 114h2v1.5h-2zM376 112.5h2v1.5h-2zM376 111h2v1.5h-2zM376 108h2v1.5h-2zM378 113.7h2v1.5h-2zM378 112.2h2v1.5h-2zM380 137.5h2v1.5h-2zM380 133h2v1.5h-2zM380 128.5h2v1.5h-2zM382 117.8h2v1.5h-2zM382 114.8h2v1.5h-2zM382 111.8h2v1.5h-2zM384 137.1h2v1.5h-2zM384 113.1h2v1.5h-2zM384 111.6h2v1.5h-2zM386 144.4h2v1.5h-2zM386 139.9h2v1.5h-2zM386 135.4h2v1.5h-2zM386 130.9h2v1.5h-2zM386 129.4h2v1.5h-2zM386 126.4h2v1.5h-2zM386 121.9h2v1.5h-2zM388 124.7h2v1.5h-2zM388 108h2v0.2h-2zM390 128.9h2v1.5h-2zM390 108h2v1.4h-2zM392 118.2h2v1.5h-2zM392 110.7h2v1.5h-2zM392 109.2h2v1.5h-2zM394 128.5h2v1.5h-2zM394 121h2v1.5h-2zM396 128.3h2v1.5h-2zM396 120.8h2v1.5h-2zM396 114.8h2v1.5h-2zM396 111.8h2v1.5h-2zM396 108.8h2v1.5h-2zM398 123.6h2v1.5h-2zM398 122.1h2v1.5h-2zM398 120.6h2v1.5h-2zM398 116.1h2v1.5h-2zM398 108.6h2v1.5h-2zM400 133.8h2v1.5h-2zM400 127.8h2v1.5h-2zM400 111.3h2v1.5h-2zM402 132.1h2v1.5h-2zM402 126.1h2v1.5h-2zM402 120.1h2v1.5h-2zM402 111.1h2v1.5h-2zM402 109.6h2v1.5h-2zM402 108.1h2v1.5h-2zM404 119.9h2v1.5h-2zM404 118.4h2v1.5h-2zM404 116.9h2v1.5h-2zM404 108h2v1.4h-2zM406 109.1h2v1.5h-2zM408 125.2h2v1.5h-2zM408 123.7h2v1.5h-2zM408 108.7h2v1.5h-2zM426 142.8h2v1.5h-2zM426 136.8h2v1.5h-2zM426 135.3h2v1.5h-2zM426 126.3h2v1.5h-2zM426 121.8h2v1.5h-2zM426 114.3h2v1.5h-2zM426 108.3h2v1.5h-2zM430 115h2v1.5h-2zM430 112h2v1.5h-2zM432 126.5h2v1.5h-2zM432 117.5h2v1.5h-2zM432 108.5h2v1.5h-2zM434 124.5h2v1.5h-2zM434 121.5h2v1.5h-2zM434 115.5h2v1.5h-2zM434 114h2v1.5h-2zM434 111h2v1.5h-2zM436 108h2v1h-2zM440 118.5h2v1.5h-2zM446 135h2v1.5h-2zM446 132h2v1.5h-2zM446 118.5h2v1.5h-2zM446 111h2v1.5h-2zM448 128.5h2v1.5h-2zM448 112h2v1.5h-2zM448 108h2v1h-2zM452 111h2v1.5h-2zM454 138.1h2v1.5h-2zM454 129.1h2v1.5h-2zM454 127.6h2v1.5h-2zM454 126.1h2v1.5h-2zM454 108.1h2v1.5h-2zM456 136.7h2v1.5h-2zM458 136.8h2v1.5h-2zM460 136.8h2v1.5h-2zM462 109.7h2v1.5h-2zM464 126.1h2v1.5h-2zM464 115.6h2v1.5h-2zM464 112.6h2v1.5h-2zM464 109.6h2v1.5h-2zM466 137.6h2v1.5h-2zM466 118.1h2v1.5h-2zM468 136.8h2v1.5h-2zM468 123.3h2v1.5h-2zM468 108h2v0.3h-2zM470 136.1h2v1.5h-2zM470 108h2v1.1h-2zM472 130.8h2v1.5h-2zM472 126.3h2v1.5h-2zM472 115.8h2v1.5h-2zM474 115.1h2v1.5h-2zM474 109.1h2v1.5h-2zM476 120.3h2v1.5h-2zM478 133h2v1.5h-2zM478 127h2v1.5h-2zM478 121h2v1.5h-2zM478 118h2v1.5h-2zM480 126.2h2v1.5h-2zM480 121.8h2v1.5h-2zM480 120.2h2v1.5h-2zM480 117.2h2v1.5h-2zM482 127h2v1.5h-2zM482 125.5h2v1.5h-2zM482 116.5h2v1.5h-2zM484 126.2h2v1.5h-2zM484 112.7h2v1.5h-2zM486 115h2v1.5h-2zM486 109h2v1.5h-2zM490 122.6h2v1.5h-2zM490 115.1h2v1.5h-2zM490 112.1h2v1.5h-2zM492 126.3h2v1.5h-2zM492 114.3h2v1.5h-2zM492 111.3h2v1.5h-2zM494 122.6h2v1.5h-2zM494 115.1h2v1.5h-2zM498 113.7h2v1.5h-2zM500 117.7h2v1.5h-2zM500 110.2h2v1.5h-2zM502 124.7h2v1.5h-2zM502 112.7h2v1.5h-2zM502 111.2h2v1.5h-2zM502 108.2h2v1.5h-2zM506 116.1h2v1.5h-2zM506 114.6h2v1.5h-2zM506 108.6h2v1.5h-2zM508 120h2v1.5h-2zM508 109.5h2v1.5h-2zM510 110.5h2v1.5h-2zM512 111h2v1.5h-2zM514 108h2v0.5h-2zM516 112h2v1.5h-2zM516 108h2v1h-2zM520 117.5h2v1.5h-2zM522 109.1h2v1.5h-2zM538 108h2v1.3h-2zM544 108h2v0.8h-2z"/><path fill="rgb(96,0,0)" d="M102 167.8h2v1.5h-2zM112 167.5h2v1.5h-2zM118 167.3h2v1.5h-2zM120 165.8h2v1.5h-2zM128 164.1h2v1.5h-2zM134 168.4h2v1.5h-2zM134 165.4h2v1.5h-2zM140 163.7h2v1.5h-2zM146 168.1h2v1.5h-2zM148 168h2v1.5h-2zM148 160.5h2v1.5h-2zM150 168h2v1.5h-2zM150 166.5h2v1.5h-2zM150 165h2v1.5h-2zM150 162h2v1.5h-2zM154 160.3h2v1.5h-2zM158 167.6h2v1.5h-2zM158 163.1h2v1.5h-2zM160 163h2v1.5h-2zM162 164.4h2v1.5h-2zM168 165.6h2v1.5h-2zM176 166.7h2v1.5h-2zM180 163.5h2v1.5h-2zM190 163h2v1.5h-2zM196 161.2h2v1.5h-2zM198 158.1h2v1.5h-2zM200 159.5h2v1.5h-2zM206 159.1h2v1.5h-2zM212 164.7h2v1.5h-2zM212 160.2h2v1.5h-2zM220 156.7h2v1.5h-2zM220 155.2h2v1.5h-2zM222 155.1h2v1.5h-2zM224 156.5h2v1.5h-2zM224 155h2v1.5h-2zM228 157.7h2v1.5h-2zM228 156.2h2v1.5h-2zM228 153.2h2v1.5h-2zM228 151.7h2v1.5h-2zM230 162.1h2v1.5h-2zM238 163h2v1.5h-2zM240 161.4h2v1.5h-2zM244 150.7h2v1.5h-2zM250 162.3h2v1.5h-2zM250 154.8h2v1.5h-2zM252 154.6h2v1.5h-2zM258 160.3h2v1.5h-2zM258 155.8h2v1.5h-2zM264 153.9h2v1.5h-2zM264 152.4h2v1.5h-2zM268 159.6h2v1.5h-2zM270 159.4h2v1.5h-2zM272 156.3h2v1.5h-2zM272 154.8h2v1.5h-2zM272 153.3h2v1.5h-2zM280 149.7h2v1.5h-2zM284 157h2v1.5h-2zM286 158.3h2v1.5h-2zM288 159.7h2v1.5h-2zM290 158h2v1.5h-2zM292 151.9h2v1.5h-2zM296 159.1h2v1.5h-2zM296 153.1h2v1.5h-2zM296 151.6h2v1.5h-2zM298 151.5h2v1.5h-2zM300 158.8h2v1.5h-2zM302 151.2h2v1.5h-2zM304 157.1h2v1.5h-2zM304 149.6h2v1.5h-2zM304 148.1h2v1.5h-2zM308 156.8h2v1.5h-2zM312 155h2v1.5h-2zM312 152h2v1.5h-2zM316 156.2h2v1.5h-2zM318 153.1h2v1.5h-2zM320 154.4h2v1.5h-2zM322 148.3h2v1.5h-2zM322 146.8h2v1.5h-2zM328 146.4h2v1.5h-2zM330 146.2h2v1.5h-2zM332 147.4h2v1.5h-2zM332 142.9h2v1.5h-2zM336 153h2v1.5h-2zM338 155.7h2v1.5h-2zM342 144.8h2v1.5h-2zM342 138.8h2v1.5h-2zM348 138h2v1.5h-2zM350 151.3h2v1.5h-2zM350 149.8h2v1.5h-2zM352 145.1h2v1.5h-2zM354 149.4h2v1.5h-2zM354 147.9h2v1.5h-2zM354 143.4h2v1.5h-2zM356 147.6h2v1.5h-2zM358 145.9h2v1.5h-2zM358 141.4h2v1.5h-2zM358 139.9h2v1.5h-2zM358 132.4h2v1.5h-2zM360 151.7h2v1.5h-2zM360 148.7h2v1.5h-2zM360 130.7h2v1.5h-2zM362 150h2v1.5h-2zM364 134.8h2v1.5h-2zM368 144.8h2v1.5h-2zM368 138.8h2v1.5h-2zM368 129.8h2v1.5h-2zM370 149.1h2v1.5h-2zM370 147.6h2v1.5h-2zM370 146.1h2v1.5h-2zM370 138.6h2v1.5h-2zM370 134.1h2v1.5h-2zM372 148.9h2v1.5h-2zM372 141.4h2v1.5h-2zM374 148.7h2v1.5h-2zM374 145.7h2v1.5h-2zM374 138.2h2v1.5h-2zM376 144h2v1.5h-2zM376 130.5h2v1.5h-2zM376 129h2v1.5h-2zM378 137.7h2v1.5h-2zM378 124.2h2v1.5h-2zM382 140.3h2v1.5h-2zM384 143.1h2v1.5h-2zM384 126.6h2v1.5h-2zM386 148.9h2v1.5h-2zM386 145.9h2v1.5h-2zM388 133.7h2v1.5h-2zM388 130.7h2v1.5h-2zM390 142.4h2v1.5h-2zM390 136.4h2v1.5h-2zM392 137.7h2v1.5h-2zM392 130.2h2v1.5h-2zM394 146.5h2v1.5h-2zM394 142h2v1.5h-2zM396 141.8h2v1.5h-2zM396 134.3h2v1.5h-2zM398 126.6h2v1.5h-2zM400 144.3h2v1.5h-2zM400 141.3h2v1.5h-2zM400 132.3h2v1.5h-2zM400 130.8h2v1.5h-2zM400 126.3h2v1.5h-2zM402 142.6h2v1.5h-2zM402 130.6h2v1.5h-2zM402 124.6h2v1.5h-2zM402 123.1h2v1.5h-2zM404 125.9h2v1.5h-2zM404 121.4h2v1.5h-2zM406 121.1h2v1.5h-2zM408 138.7h2v1.5h-2zM408 128.2h2v1.5h-2zM408 120.7h2v1.5h-2zM408 116.2h2v1.5h-2zM408 114.7h2v1.5h-2zM410 145.8h2v1.5h-2zM410 141.3h2v1.5h-2zM410 127.8h2v1.5h-2zM410 112.8h2v1.5h-2zM410 111.3h2v1.5h-2zM412 141h2v1.5h-2zM412 111h2v1.5h-2zM412 108h2v1.5h-2zM414 142.1h2v1.5h-2zM414 134.6h2v1.5h-2zM414 124.1h2v1.5h-2zM414 121.1h2v1.5h-2zM414 119.6h2v1.5h-2zM416 129.7h2v1.5h-2zM416 111.7h2v1.5h-2zM416 108.7h2v1.5h-2zM418 136.8h2v1.5h-2zM418 135.3h2v1.5h-2zM420 133.4h2v1.5h-2zM420 124.4h2v1.5h-2zM420 108h2v1.4h-2zM422 143.5h2v1.5h-2zM422 140.5h2v1.5h-2zM422 137.5h2v1.5h-2zM422 130h2v1.5h-2zM422 125.5h2v1.5h-2zM422 113.5h2v1.5h-2zM422 112h2v1.5h-2zM424 125.2h2v1.5h-2zM424 113.2h2v1.5h-2zM426 133.8h2v1.5h-2zM426 129.3h2v1.5h-2zM428 110.9h2v1.5h-2zM428 109.4h2v1.5h-2zM430 113.5h2v1.5h-2zM432 137h2v1.5h-2zM432 122h2v1.5h-2zM432 113h2v1.5h-2zM434 133.5h2v1.5h-2zM434 130.5h2v1.5h-2zM434 129h2v1.5h-2zM436 136h2v1.5h-2zM438 137h2v1.5h-2zM438 111.5h2v1.5h-2zM440 115.5h2v1.5h-2zM440 108h2v1.5h-2zM442 130h2v1.5h-2zM442 128.5h2v1.5h-2zM444 114.5h2v1.5h-2zM446 139.5h2v1.5h-2zM446 136.5h2v1.5h-2zM446 126h2v1.5h-2zM448 136h2v1.5h-2zM448 131.5h2v1.5h-2zM450 138.5h2v1.5h-2zM450 131h2v1.5h-2zM450 126.5h2v1.5h-2zM450 114.5h2v1.5h-2zM452 108h2v1.5h-2zM454 124.6h2v1.5h-2zM454 121.6h2v1.5h-2zM454 120.1h2v1.5h-2zM462 132.2h2v1.5h-2zM462 130.7h2v1.5h-2zM462 124.7h2v1.5h-2zM462 123.2h2v1.5h-2zM462 117.2h2v1.5h-2zM462 111.2h2v1.5h-2zM464 136.6h2v1.5h-2zM464 132.1h2v1.5h-2zM466 134.6h2v1.5h-2zM466 131.6h2v1.5h-2zM466 124.1h2v1.5h-2zM466 122.6h2v1.5h-2zM466 116.6h2v1.5h-2zM468 135.3h2v1.5h-2zM468 132.3h2v1.5h-2zM468 129.3h2v1.5h-2zM468 126.3h2v1.5h-2zM468 114.3h2v1.5h-2zM468 112.8h2v1.5h-2zM470 125.6h2v1.5h-2zM472 121.8h2v1.5h-2zM472 120.3h2v1.5h-2zM472 114.3h2v1.5h-2zM472 112.8h2v1.5h-2zM474 124.1h2v1.5h-2zM474 122.6h2v1.5h-2zM474 116.6h2v1.5h-2zM476 129.3h2v1.5h-2zM482 128.5h2v1.5h-2zM484 120.2h2v1.5h-2zM484 109.7h2v1.5h-2zM484 108.2h2v1.5h-2zM484 108h2v0.2h-2zM486 121h2v1.5h-2zM486 119.5h2v1.5h-2zM486 110.5h2v1.5h-2zM488 123.3h2v1.5h-2zM490 121.1h2v1.5h-2zM490 119.6h2v1.5h-2zM492 123.3h2v1.5h-2zM494 125.6h2v1.5h-2zM494 124.1h2v1.5h-2zM496 112.9h2v1.5h-2zM498 125.7h2v1.5h-2zM498 121.2h2v1.5h-2zM498 109.2h2v1.5h-2zM498 108h2v1.2h-2zM500 119.2h2v1.5h-2zM500 111.7h2v1.5h-2zM502 121.7h2v1.5h-2zM502 120.2h2v1.5h-2zM504 110.6h2v1.5h-2zM506 117.6h2v1.5h-2zM508 123h2v1.5h-2zM512 120h2v1.5h-2zM512 108h2v1.5h-2zM514 116h2v1.5h-2zM516 119.5h2v1.5h-2zM516 110.5h2v1.5h-2zM518 114h2v1.5h-2zM518 108h2v1.5h-2zM520 114.5h2v1.5h-2zM520 111.5h2v1.5h-2zM520 108.5h2v1.5h-2zM526 113.7h2v1.5h-2zM528 114.4h2v1.5h-2zM528 112.9h2v1.5h-2zM532 110h2v1.5h-2zM532 108.5h2v1.5h-2zM534 112.2h2v1.5h-2zM534 109.2h2v1.5h-2zM536 110h2v1.5h-2zM538 109.3h2v1.5h-2zM548 108h2v1.1h-2z"/><path fill="rgb(120,0,0)" d="M108 169.1h2v1.5h-2zM110 167.6h2v1.5h-2zM124 167.2h2v1.5h-2zM128 167.1h2v1.5h-2zM130 168.5h2v1.5h-2zM138 168.3h2v1.5h-2zM146 166.6h2v1.5h-2zM148 163.5h2v1.5h-2zM156 161.7h2v1.5h-2zM158 161.6h2v1.5h-2zM168 167.1h2v1.5h-2zM170 167h2v1.5h-2zM170 165.5h2v1.5h-2zM172 166.9h2v1.5h-2zM172 160.9h2v1.5h-2zM176 163.7h2v1.5h-2zM176 160.7h2v1.5h-2zM178 166.6h2v1.5h-2zM192 161.4h2v1.5h-2zM198 159.6h2v1.5h-2zM200 161h2v1.5h-2zM204 162.2h2v1.5h-2zM204 160.7h2v1.5h-2zM212 158.7h2v1.5h-2zM214 164.6h2v1.5h-2zM216 160h2v1.5h-2zM220 164.2h2v1.5h-2zM220 158.2h2v1.5h-2zM224 162.5h2v1.5h-2zM228 162.2h2v1.5h-2zM228 154.7h2v1.5h-2zM234 157.3h2v1.5h-2zM236 163.2h2v1.5h-2zM238 160h2v1.5h-2zM244 161.2h2v1.5h-2zM246 158h2v1.5h-2zM260 160.1h2v1.5h-2zM260 158.6h2v1.5h-2zM262 161.5h2v1.5h-2zM268 161.1h2v1.5h-2zM278 160.4h2v1.5h-2zM278 155.9h2v1.5h-2zM284 155.5h2v1.5h-2zM284 154h2v1.5h-2zM286 156.8h2v1.5h-2zM288 153.7h2v1.5h-2zM290 159.5h2v1.5h-2zM292 156.4h2v1.5h-2zM292 154.9h2v1.5h-2zM294 154.8h2v1.5h-2zM298 159h2v1.5h-2zM300 157.3h2v1.5h-2zM302 157.2h2v1.5h-2zM302 152.7h2v1.5h-2zM308 150.8h2v1.5h-2zM310 150.6h2v1.5h-2zM314 153.4h2v1.5h-2zM318 157.6h2v1.5h-2zM318 150.1h2v1.5h-2zM324 154.2h2v1.5h-2zM326 155.5h2v1.5h-2zM326 152.5h2v1.5h-2zM326 151h2v1.5h-2zM338 154.2h2v1.5h-2zM342 149.3h2v1.5h-2zM342 143.3h2v1.5h-2zM346 153.3h2v1.5h-2zM352 140.6h2v1.5h-2zM360 144.2h2v1.5h-2zM364 140.8h2v1.5h-2zM368 146.3h2v1.5h-2zM368 143.3h2v1.5h-2zM368 141.8h2v1.5h-2zM372 144.4h2v1.5h-2zM374 135.2h2v1.5h-2zM374 133.7h2v1.5h-2zM376 151.5h2v1.5h-2zM376 139.5h2v1.5h-2zM378 151.2h2v1.5h-2zM378 149.7h2v1.5h-2zM378 148.2h2v1.5h-2zM378 146.7h2v1.5h-2zM382 146.3h2v1.5h-2zM382 143.3h2v1.5h-2zM382 141.8h2v1.5h-2zM384 140.1h2v1.5h-2zM384 134.1h2v1.5h-2zM384 132.6h2v1.5h-2zM386 147.4h2v1.5h-2zM388 138.2h2v1.5h-2zM388 136.7h2v1.5h-2zM390 130.4h2v1.5h-2zM392 148.2h2v1.5h-2zM392 142.2h2v1.5h-2zM392 139.2h2v1.5h-2zM398 134.1h2v1.5h-2zM398 128.1h2v1.5h-2zM400 139.8h2v1.5h-2zM402 133.6h2v1.5h-2zM404 140.9h2v1.5h-2zM404 130.4h2v1.5h-2zM404 122.9h2v1.5h-2zM406 142.1h2v1.5h-2zM406 122.6h2v1.5h-2zM406 119.6h2v1.5h-2zM406 118.1h2v1.5h-2zM406 116.6h2v1.5h-2zM408 146.2h2v1.5h-2zM408 135.7h2v1.5h-2zM408 126.7h2v1.5h-2zM410 124.8h2v1.5h-2zM410 120.3h2v1.5h-2zM410 118.8h2v1.5h-2zM410 117.3h2v1.5h-2zM412 144h2v1.5h-2zM412 129h2v1.5h-2zM412 123h2v1.5h-2zM412 112.5h2v1.5h-2zM414 118.1h2v1.5h-2zM414 110.6h2v1.5h-2zM416 138.7h2v1.5h-2zM416 128.2h2v1.5h-2zM418 132.3h2v1.5h-2zM418 126.3h2v1.5h-2zM418 108h2v0.3h-2zM420 130.4h2v1.5h-2zM424 111.7h2v1.5h-2zM426 139.8h2v1.5h-2zM428 130.4h2v1.5h-2zM428 127.4h2v1.5h-2zM428 122.9h2v1.5h-2zM428 121.4h2v1.5h-2zM430 122.5h2v1.5h-2zM432 135.5h2v1.5h-2zM432 134h2v1.5h-2zM432 125h2v1.5h-2zM436 140.5h2v1.5h-2zM436 119.5h2v1.5h-2zM436 116.5h2v1.5h-2zM436 113.5h2v1.5h-2zM438 140h2v1.5h-2zM438 138.5h2v1.5h-2zM438 126.5h2v1.5h-2zM438 120.5h2v1.5h-2zM438 116h2v1.5h-2zM440 139.5h2v1.5h-2zM440 138h2v1.5h-2zM440 126h2v1.5h-2zM442 124h2v1.5h-2zM442 116.5h2v1.5h-2zM444 140h2v1.5h-2zM444 128h2v1.5h-2zM450 110h2v1.5h-2zM452 138h2v1.5h-2zM452 130.5h2v1.5h-2zM452 127.5h2v1.5h-2zM454 132.1h2v1.5h-2zM464 129.1h2v1.5h-2zM464 127.6h2v1.5h-2zM470 130.1h2v1.5h-2zM470 128.6h2v1.5h-2zM472 123.3h2v1.5h-2zM474 121.1h2v1.5h-2zM476 133.8h2v1.5h-2zM476 127.8h2v1.5h-2zM476 126.3h2v1.5h-2zM488 115.8h2v1.5h-2zM488 108h2v0.3h-2zM490 118.1h2v1.5h-2zM496 126.4h2v1.5h-2zM496 123.4h2v1.5h-2zM498 118.2h2v1.5h-2zM500 122.2h2v1.5h-2zM500 120.7h2v1.5h-2zM504 124.1h2v1.5h-2zM504 121.1h2v1.5h-2zM504 119.6h2v1.5h-2zM518 118.5h2v1.5h-2zM524 114.4h2v1.5h-2zM526 110.7h2v1.5h-2zM532 113h2v1.5h-2zM550 108h2v0.6h-2z"/><path fill="rgb(144,0,0)" d="M124 165.7h2v1.5h-2zM144 165.1h2v1.5h-2zM158 164.6h2v1.5h-2zM172 163.9h2v1.5h-2zM174 163.8h2v1.5h-2zM184 166.3h2v1.5h-2zM188 166.1h2v1.5h-2zM198 164.1h2v1.5h-2zM200 165.5h2v1.5h-2zM200 164h2v1.5h-2zM204 165.2h2v1.5h-2zM206 165.1h2v1.5h-2zM206 160.6h2v1.5h-2zM208 162h2v1.5h-2zM214 161.6h2v1.5h-2zM214 160.1h2v1.5h-2zM218 162.8h2v1.5h-2zM218 161.3h2v1.5h-2zM222 161.1h2v1.5h-2zM224 159.5h2v1.5h-2zM234 161.8h2v1.5h-2zM244 158.2h2v1.5h-2zM252 162.1h2v1.5h-2zM272 157.8h2v1.5h-2zM278 157.4h2v1.5h-2zM280 157.2h2v1.5h-2zM280 154.2h2v1.5h-2zM286 155.3h2v1.5h-2zM292 159.4h2v1.5h-2zM298 153h2v1.5h-2zM332 150.4h2v1.5h-2zM334 153.2h2v1.5h-2zM340 152.5h2v1.5h-2zM348 153h2v1.5h-2zM352 143.6h2v1.5h-2zM352 142.1h2v1.5h-2zM358 151.9h2v1.5h-2zM358 150.4h2v1.5h-2zM358 144.4h2v1.5h-2zM364 143.8h2v1.5h-2zM366 142.1h2v1.5h-2zM376 148.5h2v1.5h-2zM382 147.8h2v1.5h-2zM388 144.2h2v1.5h-2zM388 141.2h2v1.5h-2zM388 135.2h2v1.5h-2zM396 146.3h2v1.5h-2zM402 147.1h2v1.5h-2zM402 144.1h2v1.5h-2zM402 139.6h2v1.5h-2zM402 138.1h2v1.5h-2zM402 135.1h2v1.5h-2zM404 146.9h2v1.5h-2zM404 143.9h2v1.5h-2zM404 139.4h2v1.5h-2zM404 136.4h2v1.5h-2zM406 127.1h2v1.5h-2zM408 140.2h2v1.5h-2zM410 123.3h2v1.5h-2zM412 120h2v1.5h-2zM414 130.1h2v1.5h-2zM414 127.1h2v1.5h-2zM416 140.2h2v1.5h-2zM416 123.7h2v1.5h-2zM416 122.2h2v1.5h-2zM416 119.2h2v1.5h-2zM418 130.8h2v1.5h-2zM418 127.8h2v1.5h-2zM418 111.3h2v1.5h-2zM420 136.4h2v1.5h-2zM420 134.9h2v1.5h-2zM420 113.9h2v1.5h-2zM422 122.5h2v1.5h-2zM424 117.7h2v1.5h-2zM428 139.4h2v1.5h-2zM428 112.4h2v1.5h-2zM436 137.5h2v1.5h-2zM438 132.5h2v1.5h-2zM438 108.5h2v1.5h-2zM440 135h2v1.5h-2zM440 132h2v1.5h-2zM442 134.5h2v1.5h-2zM442 115h2v1.5h-2zM442 109h2v1.5h-2zM444 125h2v1.5h-2zM450 135.5h2v1.5h-2zM450 132.5h2v1.5h-2zM450 128h2v1.5h-2zM450 116h2v1.5h-2zM452 129h2v1.5h-2zM452 114h2v1.5h-2zM474 131.6h2v1.5h-2zM476 130.8h2v1.5h-2zM486 128.5h2v1.5h-2zM488 127.8h2v1.5h-2zM488 121.8h2v1.5h-2z"/><path fill="rgb(156,0,0)" d="M128 168.6h2v1.5h-2zM148 165h2v1.5h-2zM156 163.2h2v1.5h-2zM184 163.3h2v1.5h-2zM186 164.7h2v1.5h-2zM200 162.5h2v1.5h-2zM204 163.7h2v1.5h-2zM224 161h2v1.5h-2zM228 163.7h2v1.5h-2zM240 162.9h2v1.5h-2zM240 159.9h2v1.5h-2zM242 161.3h2v1.5h-2zM244 162.7h2v1.5h-2zM248 162.4h2v1.5h-2zM254 159h2v1.5h-2zM264 159.9h2v1.5h-2zM268 158.1h2v1.5h-2zM276 160.5h2v1.5h-2zM292 157.9h2v1.5h-2zM294 159.3h2v1.5h-2zM296 156.1h2v1.5h-2zM302 158.7h2v1.5h-2zM302 155.7h2v1.5h-2zM310 158.1h2v1.5h-2zM314 157.9h2v1.5h-2zM318 156.1h2v1.5h-2zM318 154.6h2v1.5h-2zM322 152.8h2v1.5h-2zM326 157h2v1.5h-2zM328 153.9h2v1.5h-2zM328 152.4h2v1.5h-2zM330 153.7h2v1.5h-2zM330 149.2h2v1.5h-2zM332 154.9h2v1.5h-2zM342 155.3h2v1.5h-2zM352 149.6h2v1.5h-2zM352 146.6h2v1.5h-2zM366 143.6h2v1.5h-2zM368 150.8h2v1.5h-2zM374 151.7h2v1.5h-2zM374 144.2h2v1.5h-2zM374 141.2h2v1.5h-2zM384 144.6h2v1.5h-2zM388 148.7h2v1.5h-2zM390 140.9h2v1.5h-2zM400 147.3h2v1.5h-2zM404 145.4h2v1.5h-2zM404 134.9h2v1.5h-2zM410 144.3h2v1.5h-2zM410 121.8h2v1.5h-2zM412 145.5h2v1.5h-2zM412 136.5h2v1.5h-2zM412 121.5h2v1.5h-2zM412 117h2v1.5h-2zM414 139.1h2v1.5h-2zM414 128.6h2v1.5h-2zM414 122.6h2v1.5h-2zM418 141.3h2v1.5h-2zM420 143.9h2v1.5h-2zM420 119.9h2v1.5h-2zM422 145h2v1.5h-2zM422 134.5h2v1.5h-2zM428 142.4h2v1.5h-2zM428 124.4h2v1.5h-2zM430 133h2v1.5h-2zM432 143h2v1.5h-2zM436 130h2v1.5h-2zM436 128.5h2v1.5h-2zM436 121h2v1.5h-2zM438 129.5h2v1.5h-2zM438 119h2v1.5h-2zM440 133.5h2v1.5h-2zM442 140.5h2v1.5h-2zM444 135.5h2v1.5h-2zM450 125h2v1.5h-2zM452 126h2v1.5h-2zM498 124.2h2v1.5h-2z"/><path fill="rgb(168,0,0)" d="M136 168.4h2v1.5h-2zM140 166.7h2v1.5h-2zM144 166.6h2v1.5h-2zM154 166.3h2v1.5h-2zM164 164.3h2v1.5h-2zM178 165.1h2v1.5h-2zM186 166.2h2v1.5h-2zM218 164.3h2v1.5h-2zM234 163.3h2v1.5h-2zM242 162.8h2v1.5h-2zM254 162h2v1.5h-2zM256 160.4h2v1.5h-2zM256 158.9h2v1.5h-2zM260 161.6h2v1.5h-2zM262 158.5h2v1.5h-2zM268 156.6h2v1.5h-2zM276 159h2v1.5h-2zM284 160h2v1.5h-2zM294 156.3h2v1.5h-2zM304 158.6h2v1.5h-2zM304 155.6h2v1.5h-2zM314 154.9h2v1.5h-2zM334 154.7h2v1.5h-2zM340 154h2v1.5h-2zM342 150.8h2v1.5h-2zM348 150h2v1.5h-2zM352 152.6h2v1.5h-2zM352 148.1h2v1.5h-2zM364 151.3h2v1.5h-2zM364 148.3h2v1.5h-2zM366 145.1h2v1.5h-2zM378 142.2h2v1.5h-2zM388 150.2h2v1.5h-2zM398 144.6h2v1.5h-2zM400 145.8h2v1.5h-2zM404 142.4h2v1.5h-2zM406 133.1h2v1.5h-2zM410 138.3h2v1.5h-2zM412 138h2v1.5h-2zM414 136.1h2v1.5h-2zM414 125.6h2v1.5h-2zM416 143.2h2v1.5h-2zM416 134.2h2v1.5h-2zM418 139.8h2v1.5h-2zM418 133.8h2v1.5h-2zM418 129.3h2v1.5h-2zM418 123.3h2v1.5h-2zM420 125.9h2v1.5h-2zM424 131.2h2v1.5h-2zM428 140.9h2v1.5h-2zM428 128.9h2v1.5h-2zM430 139h2v1.5h-2zM430 131.5h2v1.5h-2zM436 139h2v1.5h-2zM436 127h2v1.5h-2zM438 131h2v1.5h-2zM442 119.5h2v1.5h-2zM444 134h2v1.5h-2zM444 123.5h2v1.5h-2zM444 120.5h2v1.5h-2zM444 113h2v1.5h-2zM450 123.5h2v1.5h-2z"/><path fill="rgb(180,0,0)" d="M154 167.8h2v1.5h-2zM158 166.1h2v1.5h-2zM162 167.4h2v1.5h-2zM182 166.4h2v1.5h-2zM214 163.1h2v1.5h-2zM216 164.5h2v1.5h-2zM222 162.6h2v1.5h-2zM224 164h2v1.5h-2zM258 161.8h2v1.5h-2zM264 161.4h2v1.5h-2zM294 157.8h2v1.5h-2zM346 150.3h2v1.5h-2zM360 153.2h2v1.5h-2zM372 151.9h2v1.5h-2zM374 147.2h2v1.5h-2zM384 150.6h2v1.5h-2zM388 147.2h2v1.5h-2zM390 148.4h2v1.5h-2zM390 143.9h2v1.5h-2zM402 148.6h2v1.5h-2zM406 148.1h2v1.5h-2zM406 143.6h2v1.5h-2zM406 136.1h2v1.5h-2zM410 135.3h2v1.5h-2zM410 130.8h2v1.5h-2zM414 137.6h2v1.5h-2zM414 133.1h2v1.5h-2zM416 141.7h2v1.5h-2zM416 137.2h2v1.5h-2zM420 145.4h2v1.5h-2zM422 142h2v1.5h-2zM422 139h2v1.5h-2zM424 126.7h2v1.5h-2zM424 123.7h2v1.5h-2zM424 120.7h2v1.5h-2zM436 133h2v1.5h-2zM438 141.5h2v1.5h-2zM444 131h2v1.5h-2zM452 132h2v1.5h-2z"/><path fill="rgb(204,0,0)" d="M156 167.7h2v1.5h-2zM172 165.4h2v1.5h-2zM184 164.8h2v1.5h-2zM196 164.2h2v1.5h-2zM206 163.6h2v1.5h-2zM216 163h2v1.5h-2zM280 160.2h2v1.5h-2zM280 158.7h2v1.5h-2zM298 157.5h2v1.5h-2zM330 155.2h2v1.5h-2zM346 154.8h2v1.5h-2zM398 147.6h2v1.5h-2zM410 147.3h2v1.5h-2zM410 136.8h2v1.5h-2zM424 135.7h2v1.5h-2zM438 135.5h2v1.5h-2zM444 137h2v1.5h-2z"/><path fill="rgb(192,0,0)" d="M254 160.5h2v1.5h-2zM284 158.5h2v1.5h-2zM332 153.4h2v1.5h-2zM342 153.8h2v1.5h-2zM352 154.1h2v1.5h-2zM358 148.9h2v1.5h-2zM364 149.8h2v1.5h-2zM390 146.9h2v1.5h-2zM398 143.1h2v1.5h-2zM412 147h2v1.5h-2zM414 143.6h2v1.5h-2zM414 140.6h2v1.5h-2zM416 146.2h2v1.5h-2zM418 138.3h2v1.5h-2zM420 142.4h2v1.5h-2zM424 141.7h2v1.5h-2zM428 134.9h2v1.5h-2zM428 131.9h2v1.5h-2zM430 143.5h2v1.5h-2zM430 137.5h2v1.5h-2zM430 136h2v1.5h-2zM438 128h2v1.5h-2zM442 139h2v1.5h-2zM442 131.5h2v1.5h-2zM442 127h2v1.5h-2zM444 126.5h2v1.5h-2z"/><path fill="rgb(228,0,0)" d="M352 151.1h2v1.5h-2zM384 149.1h2v1.5h-2zM416 144.7h2v1.5h-2zM442 137.5h2v1.5h-2z"/><path fill="rgb(216,0,0)" d="M398 146.1h2v1.5h-2zM406 146.6h2v1.5h-2zM410 142.8h2v1.5h-2zM410 139.8h2v1.5h-2zM414 145.1h2v1.5h-2zM418 144.3h2v1.5h-2zM420 137.9h2v1.5h-2zM424 143.2h2v1.5h-2zM424 134.2h2v1.5h-2zM428 143.9h2v1.5h-2zM428 136.4h2v1.5h-2zM430 142h2v1.5h-2zM442 136h2v1.5h-2zM442 133h2v1.5h-2zM444 129.5h2v1.5h-2zM452 136.5h2v1.5h-2z"/><path fill="rgb(240,0,0)" d="M412 142.5h2v1.5h-2zM444 132.5h2v1.5h-2zM450 134h2v1.5h-2z"/><path fill="rgb(252,0,0)" d="M444 138.5h2v1.5h-2z"/></g>
<g shape-rendering="crispEdges"><path fill="rgb(10,0,0)" d="M82 272.8h2v3h-2zM212 367h2v3h-2zM256 367h2v3h-2z"/><path fill="rgb(20,0,0)" d="M82 275.8h2v1.5h-2zM84 272.4h2v3h-2zM86 271.9h2v3h-2zM212 364h2v3h-2zM216 367h2v3h-2zM252 367h2v3h-2zM256 364h2v3h-2z"/><path fill="rgb(40,0,0)" d="M82 277.3h2v0.9h-2zM84 275.4h2v1.5h-2zM90 271.2h2v3h-2zM92 271h2v3h-2zM220 364h2v3h-2zM226 367h2v3h-2zM228 367h2v3h-2zM240 367h2v3h-2zM242 367h2v3h-2zM248 364h2v3h-2z"/><path fill="rgb(60,0,0)" d="M84 276.9h2v1.7h-2zM86 274.9h2v1.5h-2zM96 270.5h2v3h-2zM98 270.2h2v3h-2zM228 364h2v3h-2zM240 364h2v3h-2z"/><path fill="rgb(90,0,0)" d="M86 276.4h2v2.5h-2z"/><path fill="rgb(30,0,0)" d="M88 271.5h2v3h-2zM216 364h2v3h-2zM222 367h2v3h-2zM246 367h2v3h-2zM252 364h2v3h-2z"/><path fill="rgb(70,0,0)" d="M88 274.5h2v1.5h-2zM102 269.9h2v3h-2zM112 269.1h2v3h-2zM116 268.8h2v3h-2zM118 268.6h2v3h-2zM120 268.4h2v3h-2zM122 268.3h2v3h-2zM128 267.9h2v3h-2zM130 267.7h2v3h-2zM134 267.5h2v3h-2zM154 266.3h2v3h-2zM158 266.1h2v3h-2zM162 265.9h2v3h-2zM166 265.8h2v3h-2zM168 265.7h2v3h-2zM172 265.5h2v3h-2zM176 265.4h2v3h-2zM182 265.1h2v3h-2zM184 265.1h2v3h-2zM192 264.7h2v3h-2zM196 264.6h2v3h-2zM198 264.5h2v3h-2zM200 264.4h2v3h-2zM208 264.1h2v3h-2zM210 264h2v3h-2zM218 263.7h2v3h-2zM222 263.5h2v3h-2zM236 263h2v3h-2zM250 262.4h2v3h-2zM254 262.3h2v3h-2zM258 262.1h2v3h-2zM260 262h2v3h-2zM264 261.8h2v3h-2zM270 261.4h2v3h-2zM272 261.3h2v3h-2zM274 261.1h2v3h-2zM276 261h2v3h-2zM288 260.2h2v3h-2zM294 259.8h2v3h-2zM298 259.5h2v3h-2zM300 259.3h2v3h-2zM304 258.8h2v3h-2zM312 257.9h2v3h-2zM314 257.6h2v3h-2zM316 257.4h2v3h-2zM326 256.3h2v3h-2zM328 256h2v3h-2zM336 255.1h2v3h-2zM340 254.6h2v3h-2zM342 254.4h2v3h-2zM344 254.2h2v3h-2zM352 253.2h2v3h-2zM360 252.2h2v3h-2zM362 252h2v3h-2zM364 251.7h2v3h-2zM368 251.2h2v3h-2zM388 248.7h2v3h-2zM396 247.7h2v3h-2zM398 247.5h2v3h-2zM400 247.2h2v3h-2zM404 246.8h2v3h-2zM406 246.5h2v3h-2zM416 245.4h2v3h-2zM420 244.9h2v3h-2zM424 244.5h2v3h-2zM428 244h2v3h-2zM232 364h2v3h-2zM236 364h2v3h-2z"/><path fill="rgb(110,0,0)" d="M88 276h2v3.3h-2z"/><path fill="rgb(80,0,0)" d="M90 274.2h2v1.5h-2zM100 270h2v3h-2zM104 269.7h2v3h-2zM106 269.6h2v3h-2zM108 269.4h2v3h-2zM110 269.2h2v3h-2zM114 268.9h2v3h-2zM124 268.1h2v3h-2zM126 268h2v3h-2zM132 267.6h2v3h-2zM136 267.3h2v3h-2zM138 267.2h2v3h-2zM140 267h2v3h-2zM142 266.9h2v3h-2zM144 266.8h2v3h-2zM146 266.6h2v3h-2zM148 266.5h2v3h-2zM150 266.4h2v3h-2zM152 266.3h2v3h-2zM156 266.2h2v3h-2zM160 266h2v3h-2zM164 265.9h2v3h-2zM170 265.6h2v3h-2zM174 265.5h2v3h-2zM178 265.3h2v3h-2zM180 265.2h2v3h-2zM186 265h2v3h-2zM188 264.9h2v3h-2zM190 264.8h2v3h-2zM194 264.7h2v3h-2zM202 264.3h2v3h-2zM204 264.3h2v3h-2zM206 264.2h2v3h-2zM212 263.9h2v3h-2zM214 263.9h2v3h-2zM216 263.8h2v3h-2zM220 263.6h2v3h-2zM224 263.5h2v3h-2zM226 263.4h2v3h-2zM228 263.3h2v3h-2zM230 263.2h2v3h-2zM232 263.2h2v3h-2zM234 263.1h2v3h-2zM238 262.9h2v3h-2zM240 262.8h2v3h-2zM242 262.8h2v3h-2zM244 262.7h2v3h-2zM246 262.6h2v3h-2zM248 262.5h2v3h-2zM252 262.4h2v3h-2zM256 262.2h2v3h-2zM262 261.9h2v3h-2zM266 261.7h2v3h-2zM268 261.5h2v3h-2zM278 260.9h2v3h-2zM280 260.7h2v3h-2zM282 260.6h2v3h-2zM284 260.4h2v3h-2zM286 260.3h2v3h-2zM290 260h2v3h-2zM292 259.9h2v3h-2zM296 259.6h2v3h-2zM302 259h2v3h-2zM306 258.6h2v3h-2zM308 258.3h2v3h-2zM310 258.1h2v3h-2zM318 257.2h2v3h-2zM320 256.9h2v3h-2zM322 256.7h2v3h-2zM324 256.5h2v3h-2zM330 255.8h2v3h-2zM332 255.6h2v3h-2zM334 255.3h2v3h-2zM338 254.9h2v3h-2zM346 253.9h2v3h-2zM348 253.7h2v3h-2zM350 253.5h2v3h-2zM354 253h2v3h-2zM356 252.7h2v3h-2zM358 252.5h2v3h-2zM366 251.5h2v3h-2zM370 251h2v3h-2zM372 250.7h2v3h-2zM374 250.5h2v3h-2zM376 250.2h2v3h-2zM378 250h2v3h-2zM380 249.7h2v3h-2zM382 249.5h2v3h-2zM384 249.2h2v3h-2zM386 249h2v3h-2zM390 248.5h2v3h-2zM392 248.2h2v3h-2zM394 248h2v3h-2zM402 247h2v3h-2zM408 246.3h2v3h-2zM410 246.1h2v3h-2zM412 245.8h2v3h-2zM414 245.6h2v3h-2zM418 245.2h2v3h-2zM422 244.7h2v3h-2zM426 244.2h2v3h-2z"/><path fill="rgb(120,0,0)" d="M90 275.7h2v3.6h-2zM94 273.7h2v1.5h-2zM516 161.2h1v11.6h-1zM517 154.1h1v10.8h-1zM518 147.8h1v9.8h-1zM519 144.7h1v9.3h-1zM526 181.7h1v10.9h-1zM527 175.4h1v10.7h-1zM528 169h1v10.5h-1zM529 163.2h1v9.8h-1zM530 157.5h1v10h-1zM531 151.6h1v10.3h-1zM532 145.7h1v10.5h-1zM533 139.6h1v10.6h-1zM534 133h1v10.5h-1zM535 133h1v2h-1z"/><path fill="rgb(100,0,0)" d="M92 274h2v1.5h-2z"/><path fill="rgb(150,0,0)" d="M92 275.5h2v3.9h-2zM112 272.1h2v1.5h-2zM116 271.8h2v1.5h-2zM120 271.4h2v1.5h-2zM128 270.9h2v1.5h-2zM162 268.9h2v1.5h-2zM166 268.8h2v1.5h-2zM168 268.7h2v1.5h-2zM172 268.5h2v1.5h-2zM176 268.4h2v1.5h-2zM182 268.1h2v1.5h-2zM208 267.1h2v1.5h-2zM218 266.7h2v1.5h-2zM250 265.4h2v1.5h-2zM264 264.8h2v1.5h-2zM270 264.4h2v1.5h-2zM274 264.1h2v1.5h-2zM288 263.2h2v1.5h-2zM300 262.3h2v1.5h-2zM304 261.8h2v1.5h-2zM312 260.9h2v1.5h-2zM316 260.4h2v1.5h-2zM328 259h2v1.5h-2zM336 258.1h2v1.5h-2zM342 257.4h2v1.5h-2zM344 257.2h2v1.5h-2zM360 255.2h2v1.5h-2zM396 250.7h2v1.5h-2zM416 248.4h2v1.5h-2zM420 247.9h2v1.5h-2zM424 247.5h2v1.5h-2zM428 247h2v1.5h-2z"/><path fill="rgb(50,0,0)" d="M94 270.7h2v3h-2zM224 364h2v3h-2zM232 367h2v3h-2zM236 367h2v3h-2zM244 364h2v3h-2z"/><path fill="rgb(180,0,0)" d="M94 275.2h2v4.2h-2z"/><path fill="rgb(130,0,0)" d="M96 273.5h2v1.5h-2zM98 273.2h2v1.5h-2z"/><path fill="rgb(200,0,0)" d="M96 275h2v4.5h-2zM98 274.7h2v4.8h-2z"/><path fill="rgb(170,0,0)" d="M100 273h2v1.5h-2zM104 272.7h2v1.5h-2zM106 272.6h2v1.5h-2zM108 272.4h2v1.5h-2zM110 272.2h2v1.5h-2zM114 271.9h2v1.5h-2zM124 271.1h2v1.5h-2zM126 271h2v1.5h-2zM132 270.6h2v1.5h-2zM136 270.3h2v1.5h-2zM138 270.2h2v1.5h-2zM140 270h2v1.5h-2zM142 269.9h2v1.5h-2zM144 269.8h2v1.5h-2zM146 269.6h2v1.5h-2zM148 269.5h2v1.5h-2zM150 269.4h2v1.5h-2zM152 269.3h2v1.5h-2zM156 269.2h2v1.5h-2zM160 269h2v1.5h-2zM164 268.9h2v1.5h-2zM170 268.6h2v1.5h-2zM174 268.5h2v1.5h-2zM178 268.3h2v1.5h-2zM180 268.2h2v1.5h-2zM186 268h2v1.5h-2zM188 267.9h2v1.5h-2zM190 267.8h2v1.5h-2zM194 267.7h2v1.5h-2zM202 267.3h2v1.5h-2zM204 267.3h2v1.5h-2zM206 267.2h2v1.5h-2zM212 266.9h2v1.5h-2zM214 266.9h2v1.5h-2zM216 266.8h2v1.5h-2zM220 266.6h2v1.5h-2zM224 266.5h2v1.5h-2zM226 266.4h2v1.5h-2zM228 266.3h2v1.5h-2zM230 266.2h2v1.5h-2zM232 266.2h2v1.5h-2zM234 266.1h2v1.5h-2zM238 265.9h2v1.5h-2zM240 265.8h2v1.5h-2zM242 265.8h2v1.5h-2zM244 265.7h2v1.5h-2zM246 265.6h2v1.5h-2zM248 265.5h2v1.5h-2zM252 265.4h2v1.5h-2zM256 265.2h2v1.5h-2zM262 264.9h2v1.5h-2zM266 264.7h2v1.5h-2zM268 264.5h2v1.5h-2zM278 263.9h2v1.5h-2zM280 263.7h2v1.5h-2zM282 263.6h2v1.5h-2zM284 263.4h2v1.5h-2zM286 263.3h2v1.5h-2zM290 263h2v1.5h-2zM292 262.9h2v1.5h-2zM296 262.6h2v1.5h-2zM302 262h2v1.5h-2zM306 261.6h2v1.5h-2zM308 261.3h2v1.5h-2zM310 261.1h2v1.5h-2zM318 260.2h2v1.5h-2zM320 259.9h2v1.5h-2zM322 259.7h2v1.5h-2zM324 259.5h2v1.5h-2zM330 258.8h2v1.5h-2zM332 258.6h2v1.5h-2zM334 258.3h2v1.5h-2zM338 257.9h2v1.5h-2zM346 256.9h2v1.5h-2zM348 256.7h2v1.5h-2zM350 256.5h2v1.5h-2zM354 256h2v1.5h-2zM356 255.7h2v1.5h-2zM358 255.5h2v1.5h-2zM366 254.5h2v1.5h-2zM370 254h2v1.5h-2zM372 253.7h2v1.5h-2zM374 253.5h2v1.5h-2zM376 253.2h2v1.5h-2zM378 253h2v1.5h-2zM380 252.7h2v1.5h-2zM382 252.5h2v1.5h-2zM384 252.2h2v1.5h-2zM386 252h2v1.5h-2zM390 251.5h2v1.5h-2zM392 251.2h2v1.5h-2zM394 251h2v1.5h-2zM402 250h2v1.5h-2zM408 249.3h2v1.5h-2zM410 249.1h2v1.5h-2zM412 248.8h2v1.5h-2zM414 248.6h2v1.5h-2zM418 248.2h2v1.5h-2zM422 247.7h2v1.5h-2zM426 247.2h2v1.5h-2z"/><path fill="rgb(250,0,0)" d="M100 274.5h2v5h-2zM104 274.2h2v5.3h-2zM106 274.1h2v5.4h-2zM108 273.9h2v5.6h-2zM110 273.7h2v5.8h-2zM114 273.4h2v6.1h-2zM124 272.6h2v6.9h-2zM126 272.5h2v7h-2zM132 272.1h2v7.3h-2zM136 271.8h2v7.5h-2zM138 271.7h2v7.6h-2zM140 271.5h2v7.7h-2zM142 271.4h2v7.8h-2zM144 271.3h2v7.8h-2zM146 271.1h2v7.9h-2zM148 271h2v8h-2zM150 270.9h2v8.1h-2zM152 270.8h2v8.1h-2zM156 270.7h2v8.1h-2zM160 270.5h2v8.1h-2zM164 270.4h2v8.1h-2zM170 270.1h2v8.1h-2zM174 270h2v8.1h-2zM178 269.8h2v8.1h-2zM180 269.7h2v8.1h-2zM186 269.5h2v8.1h-2zM188 269.4h2v8.1h-2zM190 269.3h2v8.1h-2zM194 269.2h2v8.1h-2zM202 268.8h2v8.1h-2zM204 268.8h2v8h-2zM206 268.7h2v8h-2zM212 268.4h2v7.9h-2zM214 268.4h2v7.9h-2zM216 268.3h2v7.9h-2zM220 268.1h2v7.8h-2zM224 268h2v7.8h-2zM226 267.9h2v7.7h-2zM228 267.8h2v7.7h-2zM230 267.7h2v7.7h-2zM232 267.7h2v7.7h-2zM234 267.6h2v7.6h-2zM238 267.4h2v7.6h-2zM240 267.3h2v7.6h-2zM242 267.3h2v7.5h-2zM244 267.2h2v7.5h-2zM246 267.1h2v7.5h-2zM248 267h2v7.5h-2zM252 266.9h2v7.4h-2zM256 266.7h2v7.4h-2zM262 266.4h2v7.3h-2zM266 266.2h2v7.3h-2zM268 266h2v7.3h-2zM278 265.4h2v7.3h-2zM280 265.2h2v7.2h-2zM282 265.1h2v7.2h-2zM284 264.9h2v7.2h-2zM286 264.8h2v7.2h-2zM290 264.5h2v7.2h-2zM292 264.4h2v7.2h-2zM296 264.1h2v7.2h-2zM302 263.5h2v7.2h-2zM306 263.1h2v7.2h-2zM308 262.8h2v7.2h-2zM310 262.6h2v7.2h-2zM318 261.7h2v7.2h-2zM320 261.4h2v7.2h-2zM322 261.2h2v7.1h-2zM324 261h2v7.1h-2zM330 260.3h2v7.1h-2zM332 260.1h2v7.1h-2zM334 259.8h2v7.1h-2zM338 259.4h2v7.1h-2zM346 258.4h2v7h-2zM348 258.2h2v7h-2zM350 258h2v7h-2zM354 257.5h2v7.1h-2zM356 257.2h2v7.1h-2zM358 257h2v7.2h-2zM366 256h2v7.3h-2zM370 255.5h2v7.3h-2zM372 255.2h2v7.3h-2zM374 255h2v7.4h-2zM376 254.7h2v7.4h-2zM378 254.5h2v7.4h-2zM380 254.2h2v7.4h-2zM382 254h2v7.5h-2zM384 253.7h2v7.5h-2zM386 253.5h2v7.5h-2zM390 253h2v7.6h-2zM392 252.7h2v7.6h-2zM394 252.5h2v7.6h-2zM402 251.5h2v7.7h-2zM408 250.8h2v7.2h-2zM410 250.6h2v6.9h-2zM412 250.3h2v6.7h-2zM414 250.1h2v6.4h-2zM418 249.7h2v5.8h-2zM422 249.2h2v5.3h-2zM426 248.7h2v4.8h-2zM436 245.5h2v5.5h-2zM438 245.1h2v5.3h-2zM456 240.6h2v5h-2zM460 239.2h2v5.2h-2zM462 238.5h2v5.3h-2zM464 237.9h2v5.4h-2zM466 237.2h2v5.5h-2zM468 236.5h2v5.7h-2zM470 235.8h2v5.8h-2zM476 232.8h2v6.9h-2zM478 231.8h2v7.2h-2zM480 230.8h2v7.5h-2zM492 224.5h2v9.7h-2zM494 222.7h2v10.4h-2zM496 220.8h2v9.7h-2zM498 219h2v9h-2zM500 216.1h2v9.4h-2zM504 210.4h2v9.8h-2z"/><path fill="rgb(160,0,0)" d="M102 272.9h2v1.5h-2zM118 271.6h2v1.5h-2zM122 271.3h2v1.5h-2zM130 270.7h2v1.5h-2zM134 270.5h2v1.5h-2zM154 269.3h2v1.5h-2zM158 269.1h2v1.5h-2zM184 268.1h2v1.5h-2zM192 267.7h2v1.5h-2zM196 267.6h2v1.5h-2zM198 267.5h2v1.5h-2zM200 267.4h2v1.5h-2zM210 267h2v1.5h-2zM222 266.5h2v1.5h-2zM236 266h2v1.5h-2zM254 265.3h2v1.5h-2zM258 265.1h2v1.5h-2zM260 265h2v1.5h-2zM272 264.3h2v1.5h-2zM276 264h2v1.5h-2zM294 262.8h2v1.5h-2zM298 262.5h2v1.5h-2zM314 260.6h2v1.5h-2zM326 259.3h2v1.5h-2zM340 257.6h2v1.5h-2zM352 256.2h2v1.5h-2zM362 255h2v1.5h-2zM364 254.7h2v1.5h-2zM368 254.2h2v1.5h-2zM388 251.7h2v1.5h-2zM398 250.5h2v1.5h-2zM400 250.2h2v1.5h-2zM404 249.8h2v1.5h-2zM406 249.5h2v1.5h-2zM514 178.6h1v12.4h-1zM515 170.3h1v12.1h-1z"/><path fill="rgb(230,0,0)" d="M102 274.4h2v5.1h-2zM118 273.1h2v6.4h-2zM122 272.8h2v6.7h-2zM130 272.2h2v7.2h-2zM134 272h2v7.4h-2zM154 270.8h2v8.1h-2zM158 270.6h2v8.1h-2zM184 269.6h2v8.1h-2zM192 269.2h2v8.1h-2zM196 269.1h2v8.1h-2zM198 269h2v8.1h-2zM200 268.9h2v8.1h-2zM210 268.5h2v8h-2zM222 268h2v7.8h-2zM236 267.5h2v7.6h-2zM254 266.8h2v7.4h-2zM258 266.6h2v7.3h-2zM260 266.5h2v7.3h-2zM272 265.8h2v7.3h-2zM276 265.5h2v7.3h-2zM294 264.3h2v7.2h-2zM298 264h2v7.1h-2zM314 262.1h2v7.2h-2zM326 260.8h2v7.1h-2zM340 259.1h2v7.1h-2zM352 257.7h2v7.1h-2zM362 256.5h2v7.2h-2zM364 256.2h2v7.2h-2zM368 255.7h2v7.3h-2zM388 253.2h2v7.5h-2zM398 252h2v7.7h-2zM400 251.7h2v7.7h-2zM404 251.3h2v7.7h-2zM406 251h2v7.5h-2zM430 246.6h2v5.9h-2zM442 244.3h2v5h-2zM450 242.7h2v4.6h-2zM452 242h2v4.7h-2zM454 241.3h2v4.9h-2zM474 233.8h2v6.5h-2zM482 229.8h2v7.8h-2zM484 228.8h2v8.2h-2zM486 227.8h2v8.5h-2zM488 226.8h2v8.8h-2zM506 204.3h2v13.2h-2zM508 198.1h2v14.8h-2zM510 190.8h2v17.6h-2z"/><path fill="rgb(220,0,0)" d="M112 273.6h2v5.9h-2zM116 273.3h2v6.2h-2zM120 272.9h2v6.6h-2zM128 272.4h2v7.1h-2zM162 270.4h2v8.1h-2zM166 270.3h2v8.1h-2zM168 270.2h2v8.1h-2zM172 270h2v8.1h-2zM176 269.9h2v8.1h-2zM182 269.6h2v8.1h-2zM208 268.6h2v8h-2zM218 268.2h2v7.9h-2zM250 266.9h2v7.4h-2zM264 266.3h2v7.3h-2zM270 265.9h2v7.3h-2zM274 265.6h2v7.3h-2zM288 264.7h2v7.2h-2zM300 263.8h2v7.2h-2zM304 263.3h2v7.2h-2zM312 262.4h2v7.2h-2zM316 261.9h2v7.2h-2zM328 260.5h2v7.1h-2zM336 259.6h2v7.1h-2zM342 258.9h2v7.1h-2zM344 258.7h2v7.1h-2zM360 256.7h2v7.2h-2zM396 252.2h2v7.6h-2zM416 249.9h2v6.1h-2zM420 249.4h2v5.6h-2zM424 249h2v5h-2zM428 248.5h2v4.5h-2zM432 246.2h2v5.7h-2zM434 245.9h2v5.6h-2zM440 244.7h2v5.2h-2zM444 244h2v4.9h-2zM446 243.6h2v4.7h-2zM448 243.2h2v4.6h-2zM458 239.9h2v5.1h-2zM472 234.8h2v6.2h-2zM490 225.8h2v9.1h-2zM502 213.3h2v9.6h-2z"/><path fill="rgb(190,0,0)" d="M512 189.2h1v11.1h-1zM513 183.9h1v11.8h-1z"/><path fill="rgb(20,200,10)" d="M264 270.9h2v1.6h-2zM266 270.8h2v1.6h-2zM268 270.7h2v1.6h-2zM276 270.4h2v1.8h-2zM278 270.3h2v1.8h-2zM280 270.2h2v1.8h-2zM288 269.9h2v1.9h-2zM290 269.8h2v1.9h-2zM292 269.7h2v2h-2z"/><path fill="rgb(20,180,10)" d="M300 269.3h2v2.2h-2zM302 269h2v2.2h-2zM304 268.8h2v2.2h-2zM306 268.5h2v2.2h-2zM308 268.3h2v2.2h-2zM310 268.1h2v2.2h-2zM320 266.9h2v2.2h-2zM322 266.6h2v2.2h-2zM324 266.4h2v2.2h-2zM326 266.1h2v2.2h-2zM328 265.9h2v2.2h-2zM330 265.7h2v2.2h-2zM332 265.4h2v2.2h-2zM334 265.2h2v2.2h-2zM344 264h2v2.2h-2zM346 263.7h2v2.2h-2zM348 263.5h2v2.2h-2zM350 263.3h2v2.2h-2zM352 263h2v2.3h-2zM354 262.8h2v2.3h-2zM356 262.5h2v2.3h-2zM358 262.3h2v2.3h-2zM368 261.1h2v2.4h-2zM370 260.9h2v2.4h-2zM372 260.6h2v2.4h-2zM374 260.4h2v2.5h-2zM376 260.1h2v2.5h-2zM378 259.9h2v2.5h-2zM380 259.6h2v2.5h-2zM382 259.4h2v2.5h-2zM392 258.2h2v2.6h-2zM394 258h2v2.6h-2zM396 257.7h2v2.7h-2zM398 257.5h2v2.7h-2zM400 257.2h2v2.7h-2zM402 257h2v2.7h-2zM404 256.5h2v3h-2zM406 256.1h2v3.1h-2zM416 253.8h2v3.7h-2zM418 253.3h2v3.8h-2z"/><path fill="rgb(30,250,20)" d="M420 252.8h2v3.9h-2zM422 252.4h2v4h-2zM424 251.9h2v4.1h-2zM426 251.5h2v4.2h-2zM428 251h2v4.3h-2zM430 250.5h2v4.5h-2zM432 250h2v4.7h-2zM434 249.4h2v4.9h-2zM436 248.9h2v5.2h-2zM438 248.4h2v5.4h-2zM440 247.9h2v5.6h-2zM442 247.3h2v5.8h-2zM444 246.8h2v6h-2zM446 246.3h2v6.2h-2zM448 245.8h2v6.4h-2zM450 245.2h2v6.6h-2zM452 244.7h2v6.7h-2zM454 244.2h2v6.6h-2zM456 243.7h2v6.6h-2zM458 243.1h2v6.5h-2zM460 242.6h2v6.4h-2zM462 242.1h2v6.4h-2zM464 241.6h2v6.3h-2zM466 241h2v6.2h-2zM468 240.5h2v6.2h-2zM470 240h2v6.1h-2zM472 239.2h2v6.3h-2zM474 238.4h2v6.2h-2zM476 237.7h2v6.1h-2zM478 236.9h2v6h-2zM480 236.1h2v5.9h-2zM482 235.3h2v5.8h-2zM484 234.5h2v5.7h-2zM486 233.7h2v5.6h-2zM488 233h2v5.5h-2zM490 232.2h2v5.4h-2zM492 231.2h2v5.5h-2zM494 229.7h2v6.1h-2zM496 228.1h2v6.6h-2zM498 226.6h2v7.1h-2zM500 225h2v7.6h-2zM502 223h2v8.6h-2zM504 221.1h2v8.7h-2zM506 219.1h2v8.8h-2zM508 217.2h2v9h-2zM510 214.6h2v9.8h-2zM512 211.8h2v9.8h-2zM514 209.1h2v9.7h-2zM516 205.1h2v10.8h-2zM518 200.2h2v11.5h-2zM520 194.3h2v12.2h-2zM522 188h2v12.8h-2zM152 269.5h15v9.5h-15z"/><path fill="rgb(20,150,10)" d="M524 181h2v12.8h-2zM526 171.9h2v13.9h-2zM528 160h2v15.9h-2z"/><path fill="rgb(25,0,0)" d="M214 364h2v3h-2zM218 367h2v3h-2zM220 367h2v3h-2zM248 367h2v3h-2zM250 367h2v3h-2zM254 364h2v3h-2z"/><path fill="rgb(15,0,0)" d="M214 367h2v3h-2zM254 367h2v3h-2z"/><path fill="rgb(35,0,0)" d="M218 364h2v3h-2zM224 367h2v3h-2zM244 367h2v3h-2zM250 364h2v3h-2z"/><path fill="rgb(45,0,0)" d="M222 364h2v3h-2zM230 367h2v3h-2zM238 367h2v3h-2zM246 364h2v3h-2zM234 372h2v161h-2z"/><path fill="rgb(55,0,0)" d="M226 364h2v3h-2zM234 367h2v3h-2zM242 364h2v3h-2z"/><path fill="rgb(65,0,0)" d="M230 364h2v3h-2zM238 364h2v3h-2z"/><path fill="rgb(75,0,0)" d="M234 364h2v3h-2z"/><path fill="rgb(30,150,20)" d="M234 488h2v14h-2zM310 528h3v3h-3z"/><path fill="rgb(25,120,15)" d="M306 510h2v9h-2zM160 360h3v3h-3zM153 422h3v3h-3zM346 323h3v3h-3z"/><path fill="rgb(25,130,15)" d="M316 507h2v7h-2z"/><path fill="rgb(20,100,12)" d="M160 426h3v3h-3zM346 341h3v3h-3z"/><path fill="rgb(20,120,10)" d="M152 268.5h8v1h-8z"/><path fill="rgb(15,140,8)" d="M300 158.2h2v2.1h-2zM302 158.1h2v2.1h-2zM304 157.9h2v2.1h-2zM306 157.8h2v2.1h-2zM308 157.6h2v2.1h-2zM310 157.5h2v2.1h-2zM336 155.2h2v2.2h-2zM338 155h2v2.2h-2zM340 154.8h2v2.2h-2zM342 154.5h2v2.2h-2zM344 154.3h2v2.2h-2zM346 154h2v2.2h-2zM372 151.2h2v2.2h-2zM374 151h2v2.2h-2zM376 150.7h2v2.2h-2zM378 150.5h2v2.2h-2zM380 150.3h2v2.2h-2zM382 150.1h2v2.2h-2z"/><path fill="rgb(30,240,20)" d="M400 147.1h2v3.2h-2zM402 146.9h2v3.2h-2zM404 146.6h2v3.3h-2zM406 146.2h2v3.4h-2zM408 145.8h2v3.4h-2zM410 145.5h2v3.4h-2zM412 145.1h2v3.4h-2zM414 144.7h2v3.4h-2zM416 144.3h2v3.4h-2zM418 143.9h2v3.4h-2zM420 143.5h2v3.4h-2zM422 143.2h2v3.4h-2zM424 142.8h2v3.4h-2zM426 142.4h2v3.4h-2zM428 142h2v3.4h-2zM430 141.5h2v3.5h-2zM432 141h2v3.5h-2zM434 140.5h2v3.5h-2zM436 140h2v3.5h-2zM438 139.5h2v3.5h-2zM440 139h2v3.5h-2zM442 138.5h2v3.5h-2zM444 138h2v3.5h-2zM446 137.5h2v3.5h-2zM448 137h2v3.5h-2zM450 136.5h2v3.5h-2zM452 136.5h2v3.1h-2z"/><path fill="rgb(25,190,15)" d="M462 137.1h2v2.6h-2zM470 132.3h2v5.3h-2zM476 130h2v5.3h-2zM490 124.8h2v5.2h-2zM492 124.1h2v5.2h-2z"/><path fill="rgb(30,230,20)" d="M464 134.6h2v4.9h-2zM466 135.8h2v3.3h-2zM468 133.1h2v5.3h-2zM472 130.6h2v6.3h-2zM474 130.8h2v5.3h-2zM478 128.2h2v6.3h-2zM480 130.5h2v3.3h-2zM482 128.7h2v4.2h-2zM484 126h2v6.2h-2zM486 127.3h2v4.2h-2zM488 125.6h2v5.2h-2zM494 125.4h2v3.2h-2zM496 123.7h2v4.1h-2zM478 132.5h4v3h-4zM494 118h4v1.5h-4zM478 115.5h2v1.5h-2zM502 120h2v1.5h-2zM504 118h4v3h-4zM512 115h2v1.5h-2zM500 118h4v1.5h-4zM502 121h2v1.5h-2zM500 113h2v1.5h-2zM508 119.5h4v1.5h-4zM504 112h4v1.5h-4z"/><path fill="rgb(25,170,15)" d="M498 123.7h2v3.5h-2zM500 123.2h2v3.5h-2zM502 122.6h2v3.5h-2zM510 120h2v4h-2z"/><path fill="rgb(20,170,10)" d="M512 120h2v3h-2zM514 119h2v3h-2zM520 116.1h2v2.9h-2zM542 108.3h2v2.7h-2zM544 108h2v2.3h-2zM546 108h2v1.7h-2zM472 120h2v1.5h-2zM466 114h2v1.5h-2zM478 128h2v1.5h-2zM492 127h2v1.5h-2z"/><path fill="rgb(10,100,5)" d="M186 136.5h4v1.5h-4zM382 123h2v3h-2zM398 140.5h4v3h-4zM264 147h4v1.5h-4zM356 138.5h4v3h-4zM160 162.5h2v1.5h-2zM272 140.5h2v1.5h-2zM358 131.5h2v1.5h-2zM152 164h4v1.5h-4zM410 119h4v3h-4zM324 128.5h2v1.5h-2zM326 156h2v1.5h-2zM410 145h4v1.5h-4zM372 143h2v3h-2zM428 110h4v1.5h-4zM244 128.5h2v3h-2zM370 131h4v1.5h-4zM298 126h2v1.5h-2zM218 134.5h2v1.5h-2zM322 150.5h4v1.5h-4zM202 140h2v3h-2zM360 138.5h2v3h-2zM214 164h4v1.5h-4zM360 141.5h4v3h-4zM388 118.5h4v1.5h-4zM166 139h4v1.5h-4z"/><path fill="rgb(20,160,10)" d="M150 143h4v1.5h-4zM344 137.5h2v1.5h-2zM262 130h4v1.5h-4zM366 134.5h2v1.5h-2zM376 119h2v3h-2zM426 126h4v1.5h-4zM168 156.5h4v1.5h-4zM452 128h4v1.5h-4zM250 126.5h2v3h-2zM230 150h4v1.5h-4zM338 151.5h4v1.5h-4zM448 123h2v1.5h-2zM286 131.5h4v1.5h-4zM172 157.5h2v1.5h-2zM400 123.5h4v1.5h-4zM418 110.5h2v1.5h-2zM368 134.5h4v1.5h-4zM300 145h4v1.5h-4zM384 130.5h2v3h-2zM242 148h2v3h-2zM172 163h4v1.5h-4z"/><path fill="rgb(15,130,8)" d="M312 144.5h4v1.5h-4zM378 122.5h4v3h-4zM378 125.5h4v3h-4zM424 128.5h2v1.5h-2zM336 123h4v1.5h-4zM206 132.5h4v3h-4z"/><path fill="rgb(25,210,15)" d="M208 164h2v3h-2zM330 139h2v3h-2zM288 147h4v1.5h-4zM322 156h4v1.5h-4zM292 157h2v1.5h-2zM346 116.5h2v1.5h-2zM252 146.5h4v1.5h-4zM298 129.5h2v3h-2zM338 144h4v1.5h-4zM164 132.5h4v3h-4zM454 136.5h4v1.5h-4z"/><path fill="rgb(10,80,5)" d="M338 135h2v3h-2zM210 163.5h4v3h-4zM350 122h4v3h-4zM350 119h2v1.5h-2zM244 145.5h4v1.5h-4z"/><path fill="rgb(30,220,20)" d="M492 111.5h4v1.5h-4zM494 112h2v1.5h-2zM466 133h6v1.5h-6zM498 120h4v1.5h-4zM480 127h6v3h-6zM490 122h6v3h-6zM476 121.5h4v1.5h-4zM488 115.5h2v1.5h-2zM464 118h6v3h-6zM476 119.5h4v1.5h-4zM470 127h2v3h-2zM508 112h4v1.5h-4zM528 111h4v1.5h-4zM538 110h2v1.5h-2zM520 117h2v1.5h-2z"/><path fill="rgb(10,110,5)" d="M464 135.5h2v1.5h-2zM488 116h4v1.5h-4zM498 118.5h2v3h-2zM490 115h4v1.5h-4zM478 110h4v1.5h-4zM480 110.5h4v3h-4zM482 113.5h4v1.5h-4z"/></g>
</g></svg>
<g fill="none" stroke="#595959" stroke-width="1" shape-rendering="crispEdges"><path d="M149.5 39V524"/><path d="M262.5 39V524"/><path d="M350.5 39V524"/><path d="M404.5 39V524"/><path d="M497.5 39V524"/><path d="M596.5 39V524"/><path d="M709.5 39V524"/><path d="M80 175.5H779"/><path d="M80 255.5H779"/><path d="M80 317.5H779"/><path d="M80 373.5H779"/><path d="M80 426.5H779"/><path d="M80 482.5H779"/><path d="M70 83.5H789"/><path d="M69.5 108V524"/></g>
<g fill="#000" shape-rendering="crispEdges"><rect x="68" y="38" width="2" height="70"/><rect x="68" y="38" width="722" height="1"/><rect x="789" y="38" width="1" height="70"/><rect x="70" y="83" width="10" height="1"/><rect x="779" y="83" width="10" height="1"/>
<rect x="149" y="39" width="1" height="10"/>
<rect x="262" y="39" width="1" height="10"/>
<rect x="350" y="39" width="1" height="10"/>
<rect x="404" y="39" width="1" height="10"/>
<rect x="497" y="39" width="1" height="10"/>
<rect x="596" y="39" width="1" height="10"/>
<rect x="709" y="39" width="1" height="10"/>
</g>
<rect x="70" y="533" width="719" height="1" fill="#fff" shape-rendering="crispEdges"/>
<rect x="807.5" y="55.5" width="20" height="460" fill="url(#gr)" stroke="#000" stroke-width="1"/>
<rect x="808" y="147" width="7" height="1" fill="#000" shape-rendering="crispEdges"/><rect x="820" y="147" width="7" height="1" fill="#000" shape-rendering="crispEdges"/>
<rect x="808" y="239" width="7" height="1" fill="#000" shape-rendering="crispEdges"/><rect x="820" y="239" width="7" height="1" fill="#000" shape-rendering="crispEdges"/>
<rect x="808" y="331" width="7" height="1" fill="#000" shape-rendering="crispEdges"/><rect x="820" y="331" width="7" height="1" fill="#000" shape-rendering="crispEdges"/>
<rect x="808" y="423" width="7" height="1" fill="#000" shape-rendering="crispEdges"/><rect x="820" y="423" width="7" height="1" fill="#000" shape-rendering="crispEdges"/>
<rect x="871.5" y="55.5" width="20" height="460" fill="url(#gg)" stroke="#000" stroke-width="1"/>
<rect x="872" y="147" width="7" height="1" fill="#000" shape-rendering="crispEdges"/><rect x="884" y="147" width="7" height="1" fill="#000" shape-rendering="crispEdges"/>
<rect x="872" y="239" width="7" height="1" fill="#000" shape-rendering="crispEdges"/><rect x="884" y="239" width="7" height="1" fill="#000" shape-rendering="crispEdges"/>
<rect x="872" y="331" width="7" height="1" fill="#000" shape-rendering="crispEdges"/><rect x="884" y="331" width="7" height="1" fill="#000" shape-rendering="crispEdges"/>
<rect x="872" y="423" width="7" height="1" fill="#000" shape-rendering="crispEdges"/><rect x="884" y="423" width="7" height="1" fill="#000" shape-rendering="crispEdges"/>
<text x="241.5" y="13.5" font-size="18" text-anchor="start" textLength="251" lengthAdjust="spacingAndGlyphs">Tupiza 2016 052 05:03:05 UTC</text>
<text x="531" y="13.5" font-size="18" text-anchor="start" textLength="71.5" lengthAdjust="spacingAndGlyphs">21Feb16</text>
<text x="807" y="19.5" font-size="18" text-anchor="start" textLength="76.5" lengthAdjust="spacingAndGlyphs">SNR [dB]</text>
<text x="807" y="50.5" font-size="18" text-anchor="start" >O</text>
<text x="879.5" y="50.5" font-size="18" text-anchor="start" >X</text>
<text x="841" y="59.7" font-size="15.6" text-anchor="start" stroke="none">50</text>
<text x="905" y="59.7" font-size="15.6" text-anchor="start" stroke="none">50</text>
<text x="841" y="151.7" font-size="15.6" text-anchor="start" stroke="none">40</text>
<text x="905" y="151.7" font-size="15.6" text-anchor="start" stroke="none">40</text>
<text x="841" y="243.7" font-size="15.6" text-anchor="start" stroke="none">30</text>
<text x="905" y="243.7" font-size="15.6" text-anchor="start" stroke="none">30</text>
<text x="841" y="335.7" font-size="15.6" text-anchor="start" stroke="none">20</text>
<text x="905" y="335.7" font-size="15.6" text-anchor="start" stroke="none">20</text>
<text x="841" y="427.7" font-size="15.6" text-anchor="start" stroke="none">10</text>
<text x="905" y="427.7" font-size="15.6" text-anchor="start" stroke="none">10</text>
<text x="841" y="519.7" font-size="15.6" text-anchor="start" stroke="none">0</text>
<text x="905" y="519.7" font-size="15.6" text-anchor="start" stroke="none">0</text>
<text x="52.5" y="86.4" font-size="18" text-anchor="end" >900</text>
<text x="52.5" y="178.4" font-size="18" text-anchor="end" >500</text>
<text x="52.5" y="258.4" font-size="18" text-anchor="end" >300</text>
<text x="52.5" y="320.4" font-size="18" text-anchor="end" >200</text>
<text x="52.5" y="377.4" font-size="18" text-anchor="end" >140</text>
<text x="52.5" y="429.9" font-size="18" text-anchor="end" >100</text>
<text x="52.5" y="486.7" font-size="18" text-anchor="end" >70</text>
<text x="52.5" y="538.1999999999999" font-size="18" text-anchor="end" >50</text>
<text x="68.5" y="562" font-size="18" text-anchor="middle" >1.5</text>
<text x="147.5" y="562" font-size="18" text-anchor="middle" >2.0</text>
<text x="261" y="562" font-size="18" text-anchor="middle" >3.0</text>
<text x="347" y="562" font-size="18" text-anchor="middle" >4.1</text>
<text x="403" y="562" font-size="18" text-anchor="middle" >5.0</text>
<text x="496.5" y="562" font-size="18" text-anchor="middle" >7.0</text>
<text x="594.5" y="562" font-size="18" text-anchor="middle" >10.0</text>
<text x="707.5" y="562" font-size="18" text-anchor="middle" >15.0</text>
<text x="786.5" y="562" font-size="18" text-anchor="middle" >20.0</text>
<text x="428.5" y="590" font-size="18" text-anchor="middle" >Frequency [MHz]</text>
<text transform="translate(13.2,287) rotate(-90)" font-size="18" text-anchor="middle" textLength="92" lengthAdjust="spacingAndGlyphs">Range [km]</text>
<text x="30.5" y="610.5" font-size="13" text-anchor="start" textLength="103" lengthAdjust="spacingAndGlyphs">RxMask 11001111</text>
<text x="582" y="610.3" font-size="13" text-anchor="start" xml:space="preserve" textLength="209.5" lengthAdjust="spacingAndGlyphs">VIPIR  TZJ2J_2016052050305.RIQ</text>
</svg></body></html>
